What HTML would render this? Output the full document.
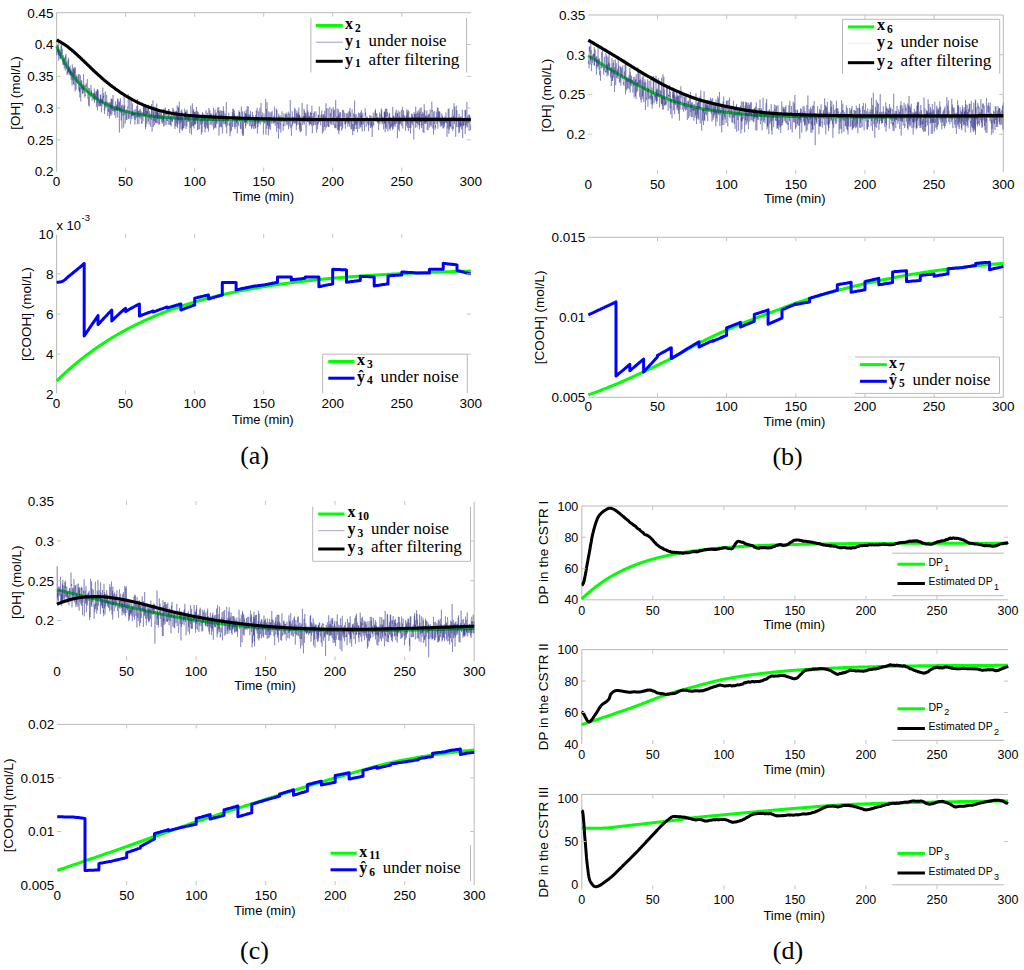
<!DOCTYPE html>
<html><head><meta charset="utf-8"><style>
html,body{margin:0;padding:0;background:#fff;width:1024px;height:970px;overflow:hidden}
svg{display:block}
text{fill:#000}
</style></head><body>
<svg width="1024" height="970" viewBox="0 0 1024 970">
<rect width="1024" height="970" fill="#fff"/>
<g>
<line x1="56.6" y1="12.7" x2="470.8" y2="12.7" stroke="#b9b9b9" stroke-width="1"/>
<line x1="56.6" y1="12.7" x2="56.6" y2="171.6" stroke="#b9b9b9" stroke-width="1"/>
<path d="M56.6,46.1 L57.3,47.7 L58.0,49.2 L58.7,50.7 L59.4,52.1 L60.1,53.6 L60.7,55.0 L61.4,56.4 L62.1,57.7 L62.8,59.0 L63.5,60.3 L64.2,61.6 L64.9,62.8 L65.6,64.0 L66.3,65.2 L67.0,66.4 L67.7,67.5 L68.4,68.6 L69.0,69.7 L69.7,70.8 L70.4,71.8 L71.1,72.8 L71.8,73.8 L72.5,74.8 L73.2,75.8 L73.9,76.7 L74.6,77.6 L75.3,78.5 L76.0,79.4 L76.7,80.2 L77.3,81.1 L78.0,81.9 L78.7,82.7 L79.4,83.5 L80.1,84.3 L80.8,85.0 L81.5,85.8 L82.2,86.5 L82.9,87.2 L83.6,87.9 L84.3,88.6 L85.0,89.2 L85.6,89.9 L86.3,90.5 L87.0,91.2 L87.7,91.8 L88.4,92.4 L89.1,93.0 L89.8,93.5 L90.5,94.1 L91.2,94.6 L91.9,95.2 L92.6,95.7 L93.2,96.2 L93.9,96.7 L94.6,97.2 L95.3,97.7 L96.0,98.2 L96.7,98.6 L97.4,99.1 L98.1,99.5 L98.8,100.0 L99.5,100.4 L100.2,100.8 L100.9,101.2 L101.5,101.6 L102.2,102.0 L102.9,102.4 L103.6,102.8 L104.3,103.1 L105.0,103.5 L105.7,103.8 L106.4,104.2 L107.1,104.5 L107.8,104.8 L108.5,105.2 L109.2,105.5 L109.8,105.8 L110.5,106.1 L111.2,106.4 L111.9,106.7 L112.6,107.0 L113.3,107.2 L114.0,107.5 L114.7,107.8 L115.4,108.0 L116.1,108.3 L116.8,108.5 L117.5,108.8 L118.1,109.0 L118.8,109.3 L119.5,109.5 L120.2,109.7 L120.9,109.9 L121.6,110.1 L122.3,110.4 L123.0,110.6 L123.7,110.8 L124.4,111.0 L125.1,111.2 L125.7,111.3 L126.4,111.5 L127.1,111.7 L127.8,111.9 L128.5,112.1 L129.2,112.2 L129.9,112.4 L130.6,112.6 L131.3,112.7 L132.0,112.9 L132.7,113.0 L133.4,113.2 L134.0,113.3 L134.7,113.5 L135.4,113.6 L136.1,113.7 L136.8,113.9 L137.5,114.0 L138.2,114.1 L138.9,114.3 L139.6,114.4 L140.3,114.5 L141.0,114.6 L141.7,114.7 L142.3,114.9 L143.0,115.0 L143.7,115.1 L144.4,115.2 L145.1,115.3 L145.8,115.4 L146.5,115.5 L147.2,115.6 L147.9,115.7 L148.6,115.8 L149.3,115.9 L150.0,116.0 L150.6,116.0 L151.3,116.1 L152.0,116.2 L152.7,116.3 L153.4,116.4 L154.1,116.4 L154.8,116.5 L155.5,116.6 L156.2,116.7 L156.9,116.7 L157.6,116.8 L158.2,116.9 L158.9,117.0 L159.6,117.0 L160.3,117.1 L161.0,117.2 L161.7,117.2 L162.4,117.3 L163.1,117.3 L163.8,117.4 L164.5,117.4 L165.2,117.5 L165.9,117.6 L166.5,117.6 L167.2,117.7 L167.9,117.7 L168.6,117.8 L169.3,117.8 L170.0,117.9 L170.7,117.9 L171.4,118.0 L172.1,118.0 L172.8,118.0 L173.5,118.1 L174.2,118.1 L174.8,118.2 L175.5,118.2 L176.2,118.3 L176.9,118.3 L177.6,118.3 L178.3,118.4 L179.0,118.4 L179.7,118.4 L180.4,118.5 L181.1,118.5 L181.8,118.5 L182.5,118.6 L183.1,118.6 L183.8,118.6 L184.5,118.7 L185.2,118.7 L185.9,118.7 L186.6,118.8 L187.3,118.8 L188.0,118.8 L188.7,118.8 L189.4,118.9 L190.1,118.9 L190.7,118.9 L191.4,118.9 L192.1,119.0 L192.8,119.0 L193.5,119.0 L194.2,119.0 L194.9,119.1 L195.6,119.1 L196.3,119.1 L197.0,119.1 L197.7,119.1 L198.4,119.2 L199.0,119.2 L199.7,119.2 L200.4,119.2 L201.1,119.2 L201.8,119.3 L202.5,119.3 L203.2,119.3 L203.9,119.3 L204.6,119.3 L205.3,119.3 L206.0,119.4 L206.7,119.4 L207.3,119.4 L208.0,119.4 L208.7,119.4 L209.4,119.4 L210.1,119.5 L210.8,119.5 L211.5,119.5 L212.2,119.5 L212.9,119.5 L213.6,119.5 L214.3,119.5 L215.0,119.5 L215.6,119.6 L216.3,119.6 L217.0,119.6 L217.7,119.6 L218.4,119.6 L219.1,119.6 L219.8,119.6 L220.5,119.6 L221.2,119.6 L221.9,119.6 L222.6,119.7 L223.2,119.7 L223.9,119.7 L224.6,119.7 L225.3,119.7 L226.0,119.7 L226.7,119.7 L227.4,119.7 L228.1,119.7 L228.8,119.7 L229.5,119.7 L230.2,119.8 L230.9,119.8 L231.5,119.8 L232.2,119.8 L232.9,119.8 L233.6,119.8 L234.3,119.8 L235.0,119.8 L235.7,119.8 L236.4,119.8 L237.1,119.8 L237.8,119.8 L238.5,119.8 L239.2,119.8 L239.8,119.8 L240.5,119.8 L241.2,119.9 L241.9,119.9 L242.6,119.9 L243.3,119.9 L244.0,119.9 L244.7,119.9 L245.4,119.9 L246.1,119.9 L246.8,119.9 L247.5,119.9 L248.1,119.9 L248.8,119.9 L249.5,119.9 L250.2,119.9 L250.9,119.9 L251.6,119.9 L252.3,119.9 L253.0,119.9 L253.7,119.9 L254.4,119.9 L255.1,119.9 L255.7,119.9 L256.4,119.9 L257.1,119.9 L257.8,120.0 L258.5,120.0 L259.2,120.0 L259.9,120.0 L260.6,120.0 L261.3,120.0 L262.0,120.0 L262.7,120.0 L263.4,120.0 L264.0,120.0 L264.7,120.0 L265.4,120.0 L266.1,120.0 L266.8,120.0 L267.5,120.0 L268.2,120.0 L268.9,120.0 L269.6,120.0 L270.3,120.0 L271.0,120.0 L271.7,120.0 L272.3,120.0 L273.0,120.0 L273.7,120.0 L274.4,120.0 L275.1,120.0 L275.8,120.0 L276.5,120.0 L277.2,120.0 L277.9,120.0 L278.6,120.0 L279.3,120.0 L279.9,120.0 L280.6,120.0 L281.3,120.0 L282.0,120.0 L282.7,120.0 L283.4,120.0 L284.1,120.0 L284.8,120.0 L285.5,120.0 L286.2,120.0 L286.9,120.0 L287.6,120.0 L288.2,120.0 L288.9,120.0 L289.6,120.0 L290.3,120.0 L291.0,120.0 L291.7,120.0 L292.4,120.0 L293.1,120.0 L293.8,120.1 L294.5,120.1 L295.2,120.1 L295.9,120.1 L296.5,120.1 L297.2,120.1 L297.9,120.1 L298.6,120.1 L299.3,120.1 L300.0,120.1 L300.7,120.1 L301.4,120.1 L302.1,120.1 L302.8,120.1 L303.5,120.1 L304.2,120.1 L304.8,120.1 L305.5,120.1 L306.2,120.1 L306.9,120.1 L307.6,120.1 L308.3,120.1 L309.0,120.1 L309.7,120.1 L310.4,120.1 L311.1,120.1 L311.8,120.1 L312.4,120.1 L313.1,120.1 L313.8,120.1 L314.5,120.1 L315.2,120.1 L315.9,120.1 L316.6,120.1 L317.3,120.1 L318.0,120.1 L318.7,120.1 L319.4,120.1 L320.1,120.1 L320.7,120.1 L321.4,120.1 L322.1,120.1 L322.8,120.1 L323.5,120.1 L324.2,120.1 L324.9,120.1 L325.6,120.1 L326.3,120.1 L327.0,120.1 L327.7,120.1 L328.4,120.1 L329.0,120.1 L329.7,120.1 L330.4,120.1 L331.1,120.1 L331.8,120.1 L332.5,120.1 L333.2,120.1 L333.9,120.1 L334.6,120.1 L335.3,120.1 L336.0,120.1 L336.7,120.1 L337.3,120.1 L338.0,120.1 L338.7,120.1 L339.4,120.1 L340.1,120.1 L340.8,120.1 L341.5,120.1 L342.2,120.1 L342.9,120.1 L343.6,120.1 L344.3,120.1 L344.9,120.1 L345.6,120.1 L346.3,120.1 L347.0,120.1 L347.7,120.1 L348.4,120.1 L349.1,120.1 L349.8,120.1 L350.5,120.1 L351.2,120.1 L351.9,120.1 L352.6,120.1 L353.2,120.1 L353.9,120.1 L354.6,120.1 L355.3,120.1 L356.0,120.1 L356.7,120.1 L357.4,120.1 L358.1,120.1 L358.8,120.1 L359.5,120.1 L360.2,120.1 L360.9,120.1 L361.5,120.1 L362.2,120.1 L362.9,120.1 L363.6,120.1 L364.3,120.1 L365.0,120.1 L365.7,120.1 L366.4,120.1 L367.1,120.1 L367.8,120.1 L368.5,120.1 L369.2,120.1 L369.8,120.1 L370.5,120.1 L371.2,120.1 L371.9,120.1 L372.6,120.1 L373.3,120.1 L374.0,120.1 L374.7,120.1 L375.4,120.1 L376.1,120.1 L376.8,120.1 L377.4,120.1 L378.1,120.1 L378.8,120.1 L379.5,120.1 L380.2,120.1 L380.9,120.1 L381.6,120.1 L382.3,120.1 L383.0,120.1 L383.7,120.1 L384.4,120.1 L385.1,120.1 L385.7,120.1 L386.4,120.1 L387.1,120.1 L387.8,120.1 L388.5,120.1 L389.2,120.1 L389.9,120.1 L390.6,120.1 L391.3,120.1 L392.0,120.1 L392.7,120.1 L393.4,120.1 L394.0,120.1 L394.7,120.1 L395.4,120.1 L396.1,120.1 L396.8,120.1 L397.5,120.1 L398.2,120.1 L398.9,120.1 L399.6,120.1 L400.3,120.1 L401.0,120.1 L401.7,120.1 L402.3,120.1 L403.0,120.1 L403.7,120.1 L404.4,120.1 L405.1,120.1 L405.8,120.1 L406.5,120.1 L407.2,120.1 L407.9,120.1 L408.6,120.1 L409.3,120.1 L409.9,120.1 L410.6,120.1 L411.3,120.1 L412.0,120.1 L412.7,120.1 L413.4,120.1 L414.1,120.1 L414.8,120.1 L415.5,120.1 L416.2,120.1 L416.9,120.1 L417.6,120.1 L418.2,120.1 L418.9,120.1 L419.6,120.1 L420.3,120.1 L421.0,120.1 L421.7,120.1 L422.4,120.1 L423.1,120.1 L423.8,120.1 L424.5,120.1 L425.2,120.1 L425.9,120.1 L426.5,120.1 L427.2,120.1 L427.9,120.1 L428.6,120.1 L429.3,120.1 L430.0,120.1 L430.7,120.1 L431.4,120.1 L432.1,120.1 L432.8,120.1 L433.5,120.1 L434.2,120.1 L434.8,120.1 L435.5,120.1 L436.2,120.1 L436.9,120.1 L437.6,120.1 L438.3,120.1 L439.0,120.1 L439.7,120.1 L440.4,120.1 L441.1,120.1 L441.8,120.1 L442.4,120.1 L443.1,120.1 L443.8,120.1 L444.5,120.1 L445.2,120.1 L445.9,120.1 L446.6,120.1 L447.3,120.1 L448.0,120.1 L448.7,120.1 L449.4,120.1 L450.1,120.1 L450.7,120.1 L451.4,120.1 L452.1,120.1 L452.8,120.1 L453.5,120.1 L454.2,120.1 L454.9,120.1 L455.6,120.1 L456.3,120.1 L457.0,120.1 L457.7,120.1 L458.4,120.1 L459.0,120.1 L459.7,120.1 L460.4,120.1 L461.1,120.1 L461.8,120.1 L462.5,120.1 L463.2,120.1 L463.9,120.1 L464.6,120.1 L465.3,120.1 L466.0,120.1 L466.7,120.1 L467.3,120.1 L468.0,120.1 L468.7,120.1 L469.4,120.1 L470.1,120.1 L470.8,120.1" fill="none" stroke="#00ff00" stroke-width="3" stroke-linejoin="round" />
<path d="M56.6,46.3 L56.8,55.2 L57.0,54.8 L57.2,44.2 L57.4,46.1 L57.6,45.1 L57.8,52.5 L58.1,49.0 L58.3,54.5 L58.5,38.4 L58.7,60.7 L58.9,50.5 L59.1,55.9 L59.3,51.1 L59.5,50.0 L59.7,55.8 L59.9,58.6 L60.1,52.4 L60.3,53.2 L60.5,58.9 L60.7,49.4 L61.0,45.7 L61.2,58.3 L61.4,51.9 L61.6,44.4 L61.8,51.8 L62.0,54.4 L62.2,50.2 L62.4,48.7 L62.6,58.9 L62.8,64.7 L63.0,57.9 L63.2,55.0 L63.4,62.6 L63.6,65.1 L63.9,59.0 L64.1,64.8 L64.3,68.3 L64.5,60.7 L64.7,57.2 L64.9,65.0 L65.1,64.7 L65.3,70.5 L65.5,55.7 L65.7,60.0 L65.9,59.3 L66.1,53.9 L66.3,66.1 L66.5,69.0 L66.8,61.3 L67.0,75.2 L67.2,71.9 L67.4,71.0 L67.6,69.9 L67.8,73.8 L68.0,59.5 L68.2,72.3 L68.4,72.5 L68.6,57.7 L68.8,71.6 L69.0,68.1 L69.2,75.0 L69.4,67.5 L69.7,70.5 L69.9,73.1 L70.1,65.7 L70.3,75.4 L70.5,71.2 L70.7,75.3 L70.9,69.2 L71.1,79.7 L71.3,77.0 L71.5,72.3 L71.7,77.7 L71.9,82.0 L72.1,85.7 L72.3,64.5 L72.6,80.5 L72.8,78.1 L73.0,74.8 L73.2,69.3 L73.4,84.0 L73.6,68.2 L73.8,80.2 L74.0,85.2 L74.2,66.9 L74.4,75.5 L74.6,69.3 L74.8,79.5 L75.0,87.9 L75.2,91.4 L75.5,67.4 L75.7,75.3 L75.9,83.8 L76.1,89.6 L76.3,82.5 L76.5,75.3 L76.7,82.2 L76.9,80.4 L77.1,79.5 L77.3,76.4 L77.5,83.8 L77.7,83.5 L77.9,81.2 L78.1,80.6 L78.4,74.1 L78.6,79.4 L78.8,90.5 L79.0,81.8 L79.2,74.1 L79.4,92.0 L79.6,87.1 L79.8,97.4 L80.0,84.6 L80.2,81.5 L80.4,75.4 L80.6,93.3 L80.8,101.5 L81.1,80.1 L81.3,81.4 L81.5,89.5 L81.7,80.7 L81.9,84.5 L82.1,84.2 L82.3,87.8 L82.5,93.8 L82.7,87.2 L82.9,93.1 L83.1,84.8 L83.3,89.8 L83.5,74.2 L83.7,78.8 L84.0,93.4 L84.2,84.7 L84.4,92.4 L84.6,92.3 L84.8,97.5 L85.0,94.5 L85.2,96.0 L85.4,89.0 L85.6,85.4 L85.8,85.4 L86.0,87.1 L86.2,83.2 L86.4,87.1 L86.6,90.2 L86.9,92.6 L87.1,89.0 L87.3,79.1 L87.5,91.1 L87.7,93.2 L87.9,98.8 L88.1,95.8 L88.3,88.2 L88.5,87.8 L88.7,105.5 L88.9,97.6 L89.1,104.7 L89.3,106.7 L89.5,88.1 L89.8,96.0 L90.0,96.6 L90.2,97.4 L90.4,97.5 L90.6,95.5 L90.8,95.4 L91.0,84.9 L91.2,93.6 L91.4,90.1 L91.6,95.8 L91.8,92.2 L92.0,99.3 L92.2,100.7 L92.4,97.6 L92.7,97.8 L92.9,96.5 L93.1,93.2 L93.3,95.2 L93.5,93.2 L93.7,99.0 L93.9,96.8 L94.1,100.6 L94.3,88.5 L94.5,102.8 L94.7,92.4 L94.9,92.7 L95.1,96.3 L95.3,94.1 L95.6,99.7 L95.8,94.3 L96.0,91.3 L96.2,92.9 L96.4,106.8 L96.6,98.8 L96.8,91.2 L97.0,98.9 L97.2,89.0 L97.4,110.5 L97.6,89.5 L97.8,102.4 L98.0,103.0 L98.2,90.4 L98.5,101.7 L98.7,106.3 L98.9,103.0 L99.1,101.8 L99.3,106.3 L99.5,101.4 L99.7,102.7 L99.9,99.8 L100.1,104.8 L100.3,94.9 L100.5,106.1 L100.7,97.9 L100.9,94.3 L101.1,103.7 L101.4,112.3 L101.6,107.8 L101.8,98.5 L102.0,106.3 L102.2,99.1 L102.4,101.3 L102.6,102.8 L102.8,87.5 L103.0,103.7 L103.2,96.0 L103.4,98.2 L103.6,93.4 L103.8,93.2 L104.0,97.0 L104.3,108.4 L104.5,113.8 L104.7,103.2 L104.9,110.4 L105.1,101.8 L105.3,91.4 L105.5,104.7 L105.7,106.7 L105.9,101.2 L106.1,106.0 L106.3,107.8 L106.5,98.7 L106.7,94.9 L107.0,103.0 L107.2,103.2 L107.4,102.4 L107.6,111.1 L107.8,115.9 L108.0,102.3 L108.2,109.5 L108.4,111.1 L108.6,109.8 L108.8,112.0 L109.0,102.9 L109.2,110.2 L109.4,118.5 L109.6,110.8 L109.9,101.8 L110.1,109.8 L110.3,114.0 L110.5,108.4 L110.7,102.6 L110.9,116.1 L111.1,98.4 L111.3,109.6 L111.5,106.4 L111.7,99.0 L111.9,114.5 L112.1,109.0 L112.3,99.4 L112.5,110.8 L112.8,104.3 L113.0,95.0 L113.2,102.8 L113.4,109.0 L113.6,111.4 L113.8,108.5 L114.0,107.8 L114.2,110.6 L114.4,106.3 L114.6,115.3 L114.8,108.8 L115.0,109.8 L115.2,111.4 L115.4,101.3 L115.7,103.6 L115.9,118.0 L116.1,110.4 L116.3,106.6 L116.5,110.6 L116.7,105.4 L116.9,110.4 L117.1,104.4 L117.3,110.5 L117.5,98.7 L117.7,117.4 L117.9,105.7 L118.1,98.9 L118.3,107.7 L118.6,106.8 L118.8,110.2 L119.0,102.0 L119.2,111.9 L119.4,132.6 L119.6,101.4 L119.8,111.7 L120.0,107.7 L120.2,110.9 L120.4,98.2 L120.6,102.5 L120.8,112.8 L121.0,109.7 L121.2,120.5 L121.5,105.6 L121.7,111.3 L121.9,128.8 L122.1,105.4 L122.3,104.6 L122.5,110.2 L122.7,110.2 L122.9,115.9 L123.1,111.4 L123.3,105.8 L123.5,112.1 L123.7,127.6 L123.9,119.0 L124.1,93.1 L124.4,110.1 L124.6,105.4 L124.8,115.0 L125.0,110.0 L125.2,123.5 L125.4,117.2 L125.6,117.0 L125.8,112.5 L126.0,111.2 L126.2,113.6 L126.4,119.8 L126.6,115.0 L126.8,109.4 L127.0,119.8 L127.3,113.0 L127.5,111.3 L127.7,106.8 L127.9,108.3 L128.1,107.9 L128.3,94.2 L128.5,118.5 L128.7,115.7 L128.9,110.8 L129.1,118.9 L129.3,115.1 L129.5,114.7 L129.7,96.6 L130.0,110.9 L130.2,115.9 L130.4,122.8 L130.6,124.3 L130.8,121.7 L131.0,105.2 L131.2,98.7 L131.4,116.4 L131.6,113.0 L131.8,119.0 L132.0,112.1 L132.2,114.3 L132.4,103.4 L132.6,115.9 L132.9,110.2 L133.1,115.3 L133.3,116.1 L133.5,112.5 L133.7,115.3 L133.9,113.2 L134.1,118.2 L134.3,116.6 L134.5,109.9 L134.7,109.7 L134.9,124.6 L135.1,112.9 L135.3,119.9 L135.5,116.1 L135.8,110.1 L136.0,108.9 L136.2,114.5 L136.4,115.4 L136.6,117.8 L136.8,105.8 L137.0,110.1 L137.2,113.3 L137.4,124.2 L137.6,99.0 L137.8,116.9 L138.0,110.7 L138.2,116.9 L138.4,111.0 L138.7,116.5 L138.9,124.2 L139.1,116.6 L139.3,117.1 L139.5,116.7 L139.7,109.6 L139.9,117.9 L140.1,113.1 L140.3,109.3 L140.5,114.3 L140.7,113.1 L140.9,119.4 L141.1,114.4 L141.3,111.3 L141.6,124.0 L141.8,121.1 L142.0,122.9 L142.2,118.7 L142.4,114.2 L142.6,112.2 L142.8,113.1 L143.0,121.0 L143.2,115.7 L143.4,105.6 L143.6,114.8 L143.8,106.1 L144.0,116.2 L144.2,107.5 L144.5,107.1 L144.7,116.0 L144.9,114.7 L145.1,104.7 L145.3,120.1 L145.5,129.1 L145.7,105.9 L145.9,127.0 L146.1,111.0 L146.3,112.3 L146.5,114.3 L146.7,106.3 L146.9,123.8 L147.1,118.7 L147.4,110.8 L147.6,113.9 L147.8,106.0 L148.0,113.5 L148.2,121.7 L148.4,104.8 L148.6,113.0 L148.8,116.7 L149.0,122.5 L149.2,124.5 L149.4,113.0 L149.6,111.2 L149.8,118.8 L150.0,113.6 L150.3,114.0 L150.5,122.9 L150.7,126.8 L150.9,117.8 L151.1,114.9 L151.3,119.8 L151.5,104.1 L151.7,116.1 L151.9,109.4 L152.1,131.5 L152.3,120.8 L152.5,117.2 L152.7,115.1 L152.9,100.3 L153.2,120.9 L153.4,126.8 L153.6,111.7 L153.8,120.8 L154.0,121.0 L154.2,106.6 L154.4,122.5 L154.6,125.1 L154.8,118.0 L155.0,116.1 L155.2,121.6 L155.4,106.8 L155.6,117.2 L155.9,123.4 L156.1,108.7 L156.3,123.0 L156.5,114.0 L156.7,103.5 L156.9,116.1 L157.1,110.6 L157.3,118.8 L157.5,109.3 L157.7,123.5 L157.9,112.1 L158.1,119.1 L158.3,113.1 L158.5,114.9 L158.8,124.5 L159.0,118.3 L159.2,114.5 L159.4,109.0 L159.6,124.4 L159.8,121.7 L160.0,115.0 L160.2,118.6 L160.4,110.5 L160.6,110.6 L160.8,111.9 L161.0,119.4 L161.2,119.1 L161.4,112.4 L161.7,121.9 L161.9,122.2 L162.1,118.3 L162.3,123.9 L162.5,115.4 L162.7,116.6 L162.9,120.3 L163.1,117.1 L163.3,122.4 L163.5,109.4 L163.7,126.5 L163.9,112.4 L164.1,116.4 L164.3,108.7 L164.6,121.3 L164.8,125.6 L165.0,124.3 L165.2,122.8 L165.4,107.6 L165.6,112.5 L165.8,114.6 L166.0,111.6 L166.2,124.8 L166.4,118.8 L166.6,117.5 L166.8,120.7 L167.0,111.6 L167.2,111.9 L167.5,112.1 L167.7,120.9 L167.9,119.9 L168.1,121.4 L168.3,124.6 L168.5,109.1 L168.7,114.2 L168.9,118.7 L169.1,109.2 L169.3,114.4 L169.5,124.3 L169.7,124.9 L169.9,124.7 L170.1,118.1 L170.4,116.5 L170.6,124.8 L170.8,115.5 L171.0,120.1 L171.2,126.4 L171.4,115.6 L171.6,114.1 L171.8,117.9 L172.0,121.8 L172.2,121.1 L172.4,119.0 L172.6,121.6 L172.8,107.8 L173.0,112.6 L173.3,119.1 L173.5,112.2 L173.7,109.5 L173.9,110.4 L174.1,112.3 L174.3,117.0 L174.5,111.6 L174.7,119.7 L174.9,129.0 L175.1,117.2 L175.3,126.3 L175.5,120.1 L175.7,111.1 L175.9,116.6 L176.2,112.0 L176.4,123.2 L176.6,110.9 L176.8,126.7 L177.0,122.0 L177.2,105.4 L177.4,123.3 L177.6,128.2 L177.8,113.3 L178.0,124.6 L178.2,106.9 L178.4,120.0 L178.6,107.8 L178.9,121.5 L179.1,107.0 L179.3,101.6 L179.5,121.0 L179.7,133.0 L179.9,114.7 L180.1,123.8 L180.3,119.2 L180.5,116.4 L180.7,122.4 L180.9,129.0 L181.1,110.6 L181.3,122.1 L181.5,120.7 L181.8,109.5 L182.0,128.9 L182.2,131.0 L182.4,112.5 L182.6,129.7 L182.8,119.0 L183.0,117.6 L183.2,128.2 L183.4,120.1 L183.6,120.7 L183.8,128.3 L184.0,126.9 L184.2,124.4 L184.4,109.7 L184.7,108.6 L184.9,125.9 L185.1,112.8 L185.3,119.7 L185.5,111.9 L185.7,117.6 L185.9,110.6 L186.1,129.1 L186.3,112.2 L186.5,118.0 L186.7,117.6 L186.9,126.5 L187.1,109.7 L187.3,118.6 L187.6,117.5 L187.8,122.2 L188.0,121.8 L188.2,115.9 L188.4,120.4 L188.6,116.5 L188.8,121.8 L189.0,118.2 L189.2,114.7 L189.4,118.7 L189.6,121.2 L189.8,133.3 L190.0,115.8 L190.2,120.9 L190.5,128.2 L190.7,105.7 L190.9,107.8 L191.1,111.4 L191.3,118.2 L191.5,134.5 L191.7,121.5 L191.9,126.7 L192.1,117.6 L192.3,103.3 L192.5,104.2 L192.7,125.5 L192.9,120.2 L193.1,110.7 L193.4,126.1 L193.6,109.2 L193.8,126.3 L194.0,128.3 L194.2,114.2 L194.4,112.0 L194.6,124.4 L194.8,112.1 L195.0,124.6 L195.2,111.4 L195.4,124.2 L195.6,119.7 L195.8,116.3 L196.0,113.4 L196.3,120.6 L196.5,107.0 L196.7,117.4 L196.9,116.6 L197.1,123.5 L197.3,111.1 L197.5,130.1 L197.7,117.2 L197.9,111.9 L198.1,128.0 L198.3,129.8 L198.5,118.0 L198.7,113.5 L198.9,119.3 L199.2,114.8 L199.4,117.2 L199.6,129.1 L199.8,121.7 L200.0,120.1 L200.2,121.4 L200.4,118.9 L200.6,124.6 L200.8,124.8 L201.0,116.9 L201.2,119.9 L201.4,134.7 L201.6,121.9 L201.8,118.1 L202.1,132.3 L202.3,119.3 L202.5,112.3 L202.7,123.6 L202.9,113.5 L203.1,116.1 L203.3,121.4 L203.5,118.5 L203.7,114.4 L203.9,115.8 L204.1,115.5 L204.3,126.8 L204.5,114.7 L204.8,115.7 L205.0,132.3 L205.2,115.8 L205.4,128.9 L205.6,127.7 L205.8,118.4 L206.0,110.3 L206.2,122.3 L206.4,123.7 L206.6,125.6 L206.8,119.8 L207.0,127.1 L207.2,128.3 L207.4,112.7 L207.7,128.5 L207.9,120.5 L208.1,115.8 L208.3,117.4 L208.5,131.4 L208.7,125.7 L208.9,108.0 L209.1,120.0 L209.3,118.5 L209.5,118.3 L209.7,116.2 L209.9,110.2 L210.1,124.9 L210.3,113.5 L210.6,117.1 L210.8,115.6 L211.0,114.8 L211.2,124.2 L211.4,121.9 L211.6,115.2 L211.8,113.5 L212.0,116.5 L212.2,125.7 L212.4,120.3 L212.6,121.0 L212.8,117.4 L213.0,117.9 L213.2,120.9 L213.5,107.8 L213.7,129.8 L213.9,114.5 L214.1,115.9 L214.3,128.1 L214.5,121.0 L214.7,119.8 L214.9,115.8 L215.1,109.6 L215.3,120.7 L215.5,127.2 L215.7,113.8 L215.9,128.3 L216.1,112.4 L216.4,114.9 L216.6,122.8 L216.8,119.6 L217.0,124.0 L217.2,114.8 L217.4,113.0 L217.6,107.7 L217.8,111.9 L218.0,112.7 L218.2,110.5 L218.4,121.6 L218.6,115.4 L218.8,106.9 L219.0,135.5 L219.3,114.3 L219.5,111.6 L219.7,127.5 L219.9,127.1 L220.1,112.3 L220.3,110.2 L220.5,113.2 L220.7,126.8 L220.9,117.6 L221.1,114.5 L221.3,119.5 L221.5,127.3 L221.7,110.8 L221.9,117.2 L222.2,110.8 L222.4,133.5 L222.6,131.3 L222.8,125.7 L223.0,118.8 L223.2,123.9 L223.4,106.3 L223.6,121.4 L223.8,111.2 L224.0,111.2 L224.2,115.2 L224.4,117.4 L224.6,123.3 L224.8,124.2 L225.1,121.4 L225.3,113.7 L225.5,124.0 L225.7,118.9 L225.9,127.2 L226.1,113.9 L226.3,102.1 L226.5,116.7 L226.7,133.4 L226.9,122.7 L227.1,118.5 L227.3,125.4 L227.5,122.9 L227.8,122.7 L228.0,116.5 L228.2,120.2 L228.4,121.0 L228.6,115.6 L228.8,112.6 L229.0,120.6 L229.2,125.9 L229.4,123.9 L229.6,122.9 L229.8,123.0 L230.0,136.2 L230.2,121.4 L230.4,126.4 L230.7,132.2 L230.9,120.1 L231.1,121.4 L231.3,126.4 L231.5,130.5 L231.7,121.8 L231.9,122.1 L232.1,120.4 L232.3,112.1 L232.5,126.9 L232.7,118.2 L232.9,108.8 L233.1,118.9 L233.3,108.8 L233.6,113.4 L233.8,119.9 L234.0,113.9 L234.2,126.7 L234.4,110.5 L234.6,121.5 L234.8,123.4 L235.0,129.2 L235.2,125.7 L235.4,121.3 L235.6,120.4 L235.8,119.5 L236.0,127.1 L236.2,115.7 L236.5,123.2 L236.7,119.3 L236.9,121.4 L237.1,118.2 L237.3,133.5 L237.5,115.7 L237.7,121.5 L237.9,121.7 L238.1,123.8 L238.3,122.8 L238.5,122.6 L238.7,126.2 L238.9,110.3 L239.1,120.0 L239.4,112.0 L239.6,121.4 L239.8,112.4 L240.0,113.8 L240.2,119.5 L240.4,128.8 L240.6,123.6 L240.8,121.8 L241.0,128.9 L241.2,113.9 L241.4,106.6 L241.6,117.2 L241.8,118.2 L242.0,127.8 L242.3,133.6 L242.5,111.5 L242.7,135.8 L242.9,129.9 L243.1,125.3 L243.3,122.3 L243.5,135.4 L243.7,120.5 L243.9,116.9 L244.1,120.8 L244.3,111.2 L244.5,123.0 L244.7,119.3 L244.9,122.1 L245.2,122.3 L245.4,113.2 L245.6,128.4 L245.8,113.5 L246.0,125.6 L246.2,109.8 L246.4,122.4 L246.6,114.8 L246.8,120.3 L247.0,115.8 L247.2,106.1 L247.4,112.9 L247.6,120.4 L247.8,124.0 L248.1,110.6 L248.3,106.4 L248.5,114.4 L248.7,118.7 L248.9,116.0 L249.1,114.8 L249.3,125.4 L249.5,126.2 L249.7,124.7 L249.9,114.0 L250.1,120.5 L250.3,118.8 L250.5,110.9 L250.7,125.6 L251.0,120.6 L251.2,116.9 L251.4,129.1 L251.6,124.9 L251.8,125.5 L252.0,127.7 L252.2,124.6 L252.4,111.9 L252.6,117.5 L252.8,126.4 L253.0,115.1 L253.2,120.3 L253.4,122.6 L253.7,129.2 L253.9,128.3 L254.1,125.8 L254.3,118.8 L254.5,125.9 L254.7,123.4 L254.9,119.0 L255.1,128.7 L255.3,123.2 L255.5,115.2 L255.7,128.1 L255.9,118.4 L256.1,123.8 L256.3,110.3 L256.6,119.9 L256.8,114.0 L257.0,113.8 L257.2,107.8 L257.4,133.7 L257.6,119.1 L257.8,121.5 L258.0,127.1 L258.2,119.2 L258.4,123.3 L258.6,111.3 L258.8,121.3 L259.0,117.4 L259.2,123.2 L259.5,121.2 L259.7,111.2 L259.9,108.2 L260.1,113.5 L260.3,124.7 L260.5,122.7 L260.7,122.6 L260.9,107.1 L261.1,102.9 L261.3,116.0 L261.5,117.9 L261.7,116.2 L261.9,122.3 L262.1,118.9 L262.4,112.4 L262.6,114.4 L262.8,120.9 L263.0,120.5 L263.2,119.5 L263.4,134.5 L263.6,118.3 L263.8,120.8 L264.0,113.6 L264.2,117.7 L264.4,123.3 L264.6,123.6 L264.8,119.0 L265.0,122.5 L265.3,120.3 L265.5,108.0 L265.7,99.1 L265.9,134.7 L266.1,125.3 L266.3,119.6 L266.5,108.9 L266.7,111.8 L266.9,128.6 L267.1,102.2 L267.3,117.9 L267.5,125.5 L267.7,120.9 L267.9,124.8 L268.2,119.2 L268.4,135.3 L268.6,113.4 L268.8,111.3 L269.0,121.7 L269.2,129.1 L269.4,119.6 L269.6,126.7 L269.8,116.6 L270.0,112.4 L270.2,128.9 L270.4,130.0 L270.6,129.8 L270.8,117.2 L271.1,112.6 L271.3,112.5 L271.5,118.6 L271.7,123.7 L271.9,123.3 L272.1,110.9 L272.3,121.3 L272.5,120.1 L272.7,120.6 L272.9,119.9 L273.1,118.7 L273.3,123.8 L273.5,120.8 L273.7,121.4 L274.0,115.6 L274.2,122.5 L274.4,119.2 L274.6,106.5 L274.8,123.1 L275.0,118.3 L275.2,125.9 L275.4,119.0 L275.6,119.4 L275.8,121.4 L276.0,119.9 L276.2,117.2 L276.4,108.6 L276.7,131.8 L276.9,109.9 L277.1,117.8 L277.3,124.2 L277.5,122.4 L277.7,123.6 L277.9,124.9 L278.1,128.1 L278.3,121.9 L278.5,138.6 L278.7,113.6 L278.9,121.5 L279.1,117.7 L279.3,116.5 L279.6,121.9 L279.8,129.3 L280.0,115.5 L280.2,115.5 L280.4,124.6 L280.6,123.5 L280.8,132.5 L281.0,126.6 L281.2,121.5 L281.4,117.9 L281.6,121.4 L281.8,118.9 L282.0,111.3 L282.2,120.1 L282.5,118.9 L282.7,118.5 L282.9,117.3 L283.1,130.8 L283.3,124.5 L283.5,126.0 L283.7,116.2 L283.9,113.5 L284.1,118.2 L284.3,121.6 L284.5,117.8 L284.7,118.8 L284.9,126.2 L285.1,121.9 L285.4,113.8 L285.6,117.3 L285.8,115.8 L286.0,121.2 L286.2,112.6 L286.4,118.9 L286.6,124.5 L286.8,120.2 L287.0,114.2 L287.2,116.1 L287.4,120.8 L287.6,123.1 L287.8,125.4 L288.0,119.1 L288.3,111.6 L288.5,129.1 L288.7,121.9 L288.9,122.6 L289.1,122.0 L289.3,113.4 L289.5,118.0 L289.7,121.7 L289.9,126.6 L290.1,120.4 L290.3,100.1 L290.5,118.5 L290.7,122.3 L290.9,128.3 L291.2,124.6 L291.4,135.9 L291.6,129.1 L291.8,128.6 L292.0,126.1 L292.2,111.2 L292.4,125.5 L292.6,123.9 L292.8,116.7 L293.0,123.8 L293.2,122.7 L293.4,117.1 L293.6,119.3 L293.8,118.4 L294.1,121.5 L294.3,117.3 L294.5,123.5 L294.7,107.8 L294.9,118.3 L295.1,109.3 L295.3,117.0 L295.5,123.4 L295.7,120.2 L295.9,119.3 L296.1,120.5 L296.3,130.1 L296.5,113.0 L296.7,125.7 L297.0,110.4 L297.2,117.1 L297.4,121.1 L297.6,114.6 L297.8,121.4 L298.0,124.7 L298.2,112.4 L298.4,119.6 L298.6,117.7 L298.8,107.7 L299.0,118.9 L299.2,115.0 L299.4,128.6 L299.6,114.5 L299.9,130.9 L300.1,116.7 L300.3,132.4 L300.5,123.5 L300.7,123.0 L300.9,125.2 L301.1,125.8 L301.3,129.0 L301.5,131.1 L301.7,117.8 L301.9,112.1 L302.1,103.0 L302.3,117.6 L302.6,124.9 L302.8,122.5 L303.0,120.8 L303.2,117.8 L303.4,116.0 L303.6,118.3 L303.8,122.5 L304.0,108.8 L304.2,124.7 L304.4,110.8 L304.6,119.1 L304.8,116.0 L305.0,117.7 L305.2,113.4 L305.5,112.7 L305.7,118.6 L305.9,113.1 L306.1,135.7 L306.3,117.4 L306.5,115.8 L306.7,116.5 L306.9,113.2 L307.1,104.4 L307.3,118.4 L307.5,122.0 L307.7,110.4 L307.9,120.1 L308.1,112.3 L308.4,119.8 L308.6,122.3 L308.8,123.1 L309.0,122.8 L309.2,115.5 L309.4,125.6 L309.6,117.2 L309.8,122.3 L310.0,124.5 L310.2,118.1 L310.4,111.8 L310.6,123.9 L310.8,112.9 L311.0,114.3 L311.3,113.0 L311.5,125.4 L311.7,119.0 L311.9,105.7 L312.1,124.7 L312.3,133.2 L312.5,131.5 L312.7,116.4 L312.9,120.5 L313.1,123.3 L313.3,125.7 L313.5,120.2 L313.7,113.0 L313.9,124.8 L314.2,123.9 L314.4,111.5 L314.6,117.7 L314.8,121.7 L315.0,120.0 L315.2,123.4 L315.4,125.1 L315.6,123.5 L315.8,119.3 L316.0,111.4 L316.2,123.9 L316.4,128.9 L316.6,132.6 L316.8,119.8 L317.1,119.8 L317.3,129.2 L317.5,129.2 L317.7,122.2 L317.9,124.5 L318.1,115.1 L318.3,123.7 L318.5,114.7 L318.7,119.1 L318.9,119.2 L319.1,117.0 L319.3,106.5 L319.5,114.7 L319.7,122.1 L320.0,119.6 L320.2,117.5 L320.4,122.7 L320.6,124.4 L320.8,125.4 L321.0,114.8 L321.2,120.1 L321.4,117.8 L321.6,114.4 L321.8,110.4 L322.0,119.3 L322.2,114.4 L322.4,133.7 L322.6,119.3 L322.9,118.5 L323.1,117.4 L323.3,131.9 L323.5,114.0 L323.7,118.9 L323.9,115.1 L324.1,119.2 L324.3,119.7 L324.5,127.0 L324.7,110.9 L324.9,119.8 L325.1,130.3 L325.3,116.7 L325.6,118.8 L325.8,114.3 L326.0,103.3 L326.2,119.3 L326.4,127.5 L326.6,117.0 L326.8,108.2 L327.0,121.7 L327.2,120.5 L327.4,126.4 L327.6,125.8 L327.8,118.3 L328.0,122.5 L328.2,108.5 L328.5,127.1 L328.7,121.2 L328.9,126.9 L329.1,126.8 L329.3,118.1 L329.5,119.0 L329.7,114.4 L329.9,106.8 L330.1,119.1 L330.3,121.0 L330.5,113.0 L330.7,124.5 L330.9,120.6 L331.1,122.9 L331.4,115.1 L331.6,108.7 L331.8,124.9 L332.0,123.9 L332.2,119.3 L332.4,117.3 L332.6,118.2 L332.8,119.1 L333.0,116.7 L333.2,107.1 L333.4,125.0 L333.6,110.4 L333.8,117.9 L334.0,118.0 L334.3,121.6 L334.5,109.7 L334.7,127.7 L334.9,124.2 L335.1,124.9 L335.3,128.1 L335.5,114.9 L335.7,100.0 L335.9,122.1 L336.1,128.4 L336.3,127.4 L336.5,116.6 L336.7,119.4 L336.9,121.9 L337.2,108.5 L337.4,115.8 L337.6,116.0 L337.8,130.1 L338.0,115.9 L338.2,130.1 L338.4,120.1 L338.6,109.4 L338.8,134.2 L339.0,113.9 L339.2,124.0 L339.4,131.0 L339.6,116.7 L339.8,112.2 L340.1,126.7 L340.3,120.5 L340.5,112.3 L340.7,113.2 L340.9,117.6 L341.1,126.2 L341.3,118.3 L341.5,124.3 L341.7,130.6 L341.9,128.2 L342.1,129.3 L342.3,127.9 L342.5,109.8 L342.7,127.9 L343.0,122.2 L343.2,119.3 L343.4,113.2 L343.6,110.0 L343.8,113.0 L344.0,120.0 L344.2,112.6 L344.4,114.9 L344.6,116.2 L344.8,124.3 L345.0,118.2 L345.2,119.2 L345.4,128.6 L345.6,118.0 L345.9,123.9 L346.1,113.3 L346.3,122.2 L346.5,120.9 L346.7,121.2 L346.9,117.1 L347.1,113.5 L347.3,118.2 L347.5,117.1 L347.7,126.7 L347.9,125.9 L348.1,112.4 L348.3,124.1 L348.5,117.0 L348.8,123.0 L349.0,117.0 L349.2,110.7 L349.4,126.6 L349.6,123.0 L349.8,112.3 L350.0,108.0 L350.2,116.7 L350.4,112.6 L350.6,117.8 L350.8,124.0 L351.0,129.5 L351.2,117.8 L351.5,128.9 L351.7,127.5 L351.9,117.3 L352.1,109.5 L352.3,125.5 L352.5,124.0 L352.7,135.1 L352.9,129.2 L353.1,125.1 L353.3,130.9 L353.5,113.4 L353.7,121.3 L353.9,118.4 L354.1,131.2 L354.4,123.7 L354.6,100.6 L354.8,128.9 L355.0,114.3 L355.2,125.1 L355.4,117.1 L355.6,121.7 L355.8,124.2 L356.0,121.4 L356.2,114.1 L356.4,129.1 L356.6,122.7 L356.8,120.1 L357.0,124.7 L357.3,116.8 L357.5,132.2 L357.7,121.6 L357.9,122.5 L358.1,122.4 L358.3,114.4 L358.5,112.7 L358.7,121.6 L358.9,122.5 L359.1,128.8 L359.3,123.1 L359.5,113.3 L359.7,123.6 L359.9,125.5 L360.2,126.6 L360.4,122.3 L360.6,112.4 L360.8,127.6 L361.0,115.5 L361.2,123.9 L361.4,110.2 L361.6,125.1 L361.8,115.2 L362.0,127.1 L362.2,131.5 L362.4,127.7 L362.6,112.8 L362.8,114.2 L363.1,114.7 L363.3,124.4 L363.5,122.4 L363.7,121.2 L363.9,122.2 L364.1,123.9 L364.3,124.4 L364.5,131.0 L364.7,119.8 L364.9,121.5 L365.1,108.3 L365.3,111.7 L365.5,115.8 L365.7,112.6 L366.0,121.6 L366.2,126.8 L366.4,117.4 L366.6,117.1 L366.8,116.9 L367.0,121.0 L367.2,116.7 L367.4,122.9 L367.6,122.1 L367.8,122.3 L368.0,125.0 L368.2,120.3 L368.4,121.0 L368.6,131.3 L368.9,119.8 L369.1,125.2 L369.3,120.5 L369.5,117.2 L369.7,117.2 L369.9,114.9 L370.1,120.2 L370.3,116.2 L370.5,117.4 L370.7,127.9 L370.9,119.2 L371.1,127.4 L371.3,121.8 L371.5,125.6 L371.8,116.2 L372.0,121.0 L372.2,136.9 L372.4,125.4 L372.6,126.5 L372.8,121.6 L373.0,125.5 L373.2,112.7 L373.4,114.6 L373.6,122.8 L373.8,125.3 L374.0,117.4 L374.2,118.9 L374.5,117.7 L374.7,118.9 L374.9,112.4 L375.1,110.9 L375.3,119.5 L375.5,108.9 L375.7,113.8 L375.9,115.8 L376.1,113.3 L376.3,121.5 L376.5,117.2 L376.7,119.5 L376.9,113.5 L377.1,115.2 L377.4,123.2 L377.6,122.3 L377.8,117.0 L378.0,122.3 L378.2,121.1 L378.4,121.0 L378.6,130.1 L378.8,117.4 L379.0,122.6 L379.2,122.6 L379.4,118.4 L379.6,112.5 L379.8,124.3 L380.0,121.6 L380.3,120.2 L380.5,120.0 L380.7,120.0 L380.9,114.2 L381.1,121.7 L381.3,108.4 L381.5,119.7 L381.7,110.3 L381.9,117.6 L382.1,124.4 L382.3,118.2 L382.5,116.7 L382.7,123.1 L382.9,118.1 L383.2,117.2 L383.4,117.3 L383.6,129.4 L383.8,124.0 L384.0,122.8 L384.2,112.2 L384.4,123.7 L384.6,111.5 L384.8,122.8 L385.0,112.6 L385.2,132.2 L385.4,109.0 L385.6,127.5 L385.8,124.8 L386.1,108.4 L386.3,118.2 L386.5,128.9 L386.7,127.0 L386.9,109.1 L387.1,116.4 L387.3,112.2 L387.5,113.2 L387.7,115.6 L387.9,131.4 L388.1,120.5 L388.3,118.3 L388.5,117.6 L388.7,123.9 L389.0,124.1 L389.2,113.8 L389.4,129.0 L389.6,112.8 L389.8,117.9 L390.0,122.6 L390.2,130.6 L390.4,117.5 L390.6,121.5 L390.8,128.0 L391.0,123.7 L391.2,126.9 L391.4,126.3 L391.6,121.3 L391.9,123.7 L392.1,125.5 L392.3,119.5 L392.5,129.9 L392.7,107.0 L392.9,113.8 L393.1,128.9 L393.3,122.4 L393.5,115.6 L393.7,122.1 L393.9,126.6 L394.1,116.1 L394.3,124.6 L394.5,118.9 L394.8,119.0 L395.0,119.2 L395.2,126.8 L395.4,112.5 L395.6,117.3 L395.8,123.9 L396.0,111.9 L396.2,109.6 L396.4,123.3 L396.6,119.7 L396.8,118.8 L397.0,120.6 L397.2,113.5 L397.4,138.3 L397.7,113.4 L397.9,116.9 L398.1,110.6 L398.3,117.0 L398.5,129.4 L398.7,119.8 L398.9,123.5 L399.1,116.6 L399.3,131.3 L399.5,120.7 L399.7,111.7 L399.9,124.6 L400.1,117.3 L400.4,123.6 L400.6,120.6 L400.8,121.4 L401.0,120.6 L401.2,113.9 L401.4,110.1 L401.6,125.9 L401.8,118.8 L402.0,121.5 L402.2,116.7 L402.4,106.8 L402.6,111.5 L402.8,128.6 L403.0,114.7 L403.3,117.2 L403.5,110.3 L403.7,116.3 L403.9,117.3 L404.1,118.3 L404.3,119.2 L404.5,115.6 L404.7,116.0 L404.9,119.6 L405.1,121.7 L405.3,118.8 L405.5,130.8 L405.7,121.0 L405.9,120.7 L406.2,115.5 L406.4,126.2 L406.6,113.1 L406.8,109.3 L407.0,113.4 L407.2,123.6 L407.4,112.4 L407.6,127.9 L407.8,119.5 L408.0,110.0 L408.2,118.2 L408.4,131.0 L408.6,114.2 L408.8,111.3 L409.1,122.9 L409.3,128.0 L409.5,126.1 L409.7,117.5 L409.9,120.8 L410.1,121.7 L410.3,127.1 L410.5,133.4 L410.7,119.0 L410.9,127.9 L411.1,117.4 L411.3,123.4 L411.5,113.7 L411.7,114.8 L412.0,122.3 L412.2,113.9 L412.4,125.3 L412.6,116.1 L412.8,120.1 L413.0,119.1 L413.2,117.5 L413.4,120.5 L413.6,126.5 L413.8,139.5 L414.0,112.1 L414.2,121.6 L414.4,118.5 L414.6,113.8 L414.9,121.5 L415.1,114.0 L415.3,119.1 L415.5,127.6 L415.7,106.7 L415.9,121.2 L416.1,122.5 L416.3,113.5 L416.5,123.0 L416.7,121.9 L416.9,117.4 L417.1,127.4 L417.3,111.3 L417.5,123.7 L417.8,118.2 L418.0,112.9 L418.2,118.5 L418.4,117.4 L418.6,124.9 L418.8,110.1 L419.0,118.4 L419.2,116.7 L419.4,129.7 L419.6,112.5 L419.8,126.4 L420.0,108.4 L420.2,121.8 L420.4,118.8 L420.7,122.0 L420.9,115.1 L421.1,107.2 L421.3,109.7 L421.5,128.0 L421.7,121.0 L421.9,114.1 L422.1,125.3 L422.3,114.8 L422.5,114.9 L422.7,111.8 L422.9,127.1 L423.1,132.1 L423.4,113.4 L423.6,121.4 L423.8,125.8 L424.0,133.0 L424.2,104.2 L424.4,120.4 L424.6,123.6 L424.8,110.1 L425.0,122.1 L425.2,120.8 L425.4,124.1 L425.6,115.8 L425.8,122.2 L426.0,115.6 L426.3,123.4 L426.5,120.5 L426.7,117.1 L426.9,110.5 L427.1,130.0 L427.3,126.6 L427.5,125.1 L427.7,115.3 L427.9,117.3 L428.1,130.1 L428.3,124.2 L428.5,114.1 L428.7,119.8 L428.9,120.4 L429.2,118.2 L429.4,113.5 L429.6,127.5 L429.8,123.3 L430.0,118.3 L430.2,109.5 L430.4,115.8 L430.6,119.5 L430.8,125.1 L431.0,117.2 L431.2,126.6 L431.4,120.4 L431.6,114.8 L431.8,101.7 L432.1,112.1 L432.3,110.1 L432.5,118.6 L432.7,121.7 L432.9,128.5 L433.1,119.5 L433.3,112.2 L433.5,134.6 L433.7,121.6 L433.9,117.9 L434.1,117.9 L434.3,111.0 L434.5,123.7 L434.7,122.0 L435.0,129.8 L435.2,126.7 L435.4,125.2 L435.6,127.7 L435.8,117.8 L436.0,116.8 L436.2,119.4 L436.4,111.7 L436.6,118.8 L436.8,117.6 L437.0,124.0 L437.2,119.6 L437.4,107.5 L437.6,119.9 L437.9,128.8 L438.1,108.0 L438.3,114.9 L438.5,119.8 L438.7,111.3 L438.9,116.2 L439.1,120.1 L439.3,111.3 L439.5,121.6 L439.7,122.4 L439.9,111.7 L440.1,119.9 L440.3,126.7 L440.5,118.7 L440.8,122.6 L441.0,123.9 L441.2,118.3 L441.4,126.1 L441.6,122.3 L441.8,113.5 L442.0,123.2 L442.2,125.4 L442.4,125.0 L442.6,115.7 L442.8,122.8 L443.0,128.6 L443.2,121.3 L443.4,127.4 L443.7,128.2 L443.9,119.7 L444.1,124.1 L444.3,118.1 L444.5,126.7 L444.7,119.3 L444.9,116.4 L445.1,119.8 L445.3,119.5 L445.5,122.4 L445.7,122.9 L445.9,112.5 L446.1,115.8 L446.3,122.2 L446.6,123.0 L446.8,120.5 L447.0,136.8 L447.2,127.1 L447.4,119.5 L447.6,124.6 L447.8,128.5 L448.0,122.3 L448.2,108.9 L448.4,120.7 L448.6,120.4 L448.8,133.7 L449.0,108.3 L449.3,129.9 L449.5,119.1 L449.7,126.0 L449.9,118.2 L450.1,121.2 L450.3,127.3 L450.5,120.7 L450.7,126.8 L450.9,119.6 L451.1,117.5 L451.3,118.7 L451.5,116.9 L451.7,119.4 L451.9,128.8 L452.2,112.7 L452.4,109.6 L452.6,120.1 L452.8,130.9 L453.0,126.9 L453.2,128.6 L453.4,128.2 L453.6,115.5 L453.8,121.0 L454.0,103.2 L454.2,116.3 L454.4,124.1 L454.6,110.3 L454.8,107.1 L455.1,111.9 L455.3,121.6 L455.5,127.7 L455.7,136.8 L455.9,129.4 L456.1,110.6 L456.3,105.5 L456.5,121.3 L456.7,127.1 L456.9,110.0 L457.1,117.0 L457.3,117.5 L457.5,120.6 L457.7,119.2 L458.0,123.7 L458.2,127.2 L458.4,120.9 L458.6,125.2 L458.8,133.2 L459.0,113.9 L459.2,113.8 L459.4,123.7 L459.6,132.3 L459.8,121.6 L460.0,127.5 L460.2,118.6 L460.4,126.4 L460.6,116.5 L460.9,124.9 L461.1,123.1 L461.3,123.1 L461.5,129.4 L461.7,127.4 L461.9,116.8 L462.1,126.3 L462.3,109.8 L462.5,127.0 L462.7,138.2 L462.9,124.1 L463.1,124.0 L463.3,121.1 L463.5,126.1 L463.8,117.9 L464.0,125.1 L464.2,119.1 L464.4,118.1 L464.6,121.6 L464.8,120.5 L465.0,109.8 L465.2,134.1 L465.4,121.8 L465.6,110.1 L465.8,127.8 L466.0,120.7 L466.2,122.2 L466.4,125.4 L466.7,115.2 L466.9,102.1 L467.1,120.3 L467.3,122.4 L467.5,127.3 L467.7,116.1 L467.9,119.2 L468.1,123.4 L468.3,118.9 L468.5,119.3 L468.7,122.5 L468.9,114.5 L469.1,131.0 L469.3,115.0 L469.6,121.1 L469.8,118.8 L470.0,116.4 L470.2,124.3 L470.4,127.3 L470.6,130.2 L470.8,124.6" fill="none" stroke="#262684" stroke-width="0.4" stroke-opacity="0.85"/>
<path d="M56.6,40.1 L57.3,40.4 L58.0,40.7 L58.7,41.1 L59.4,41.4 L60.1,41.8 L60.7,42.2 L61.4,42.6 L62.1,43.0 L62.8,43.4 L63.5,43.9 L64.2,44.3 L64.9,44.8 L65.6,45.3 L66.3,45.8 L67.0,46.3 L67.7,46.8 L68.4,47.3 L69.0,47.9 L69.7,48.4 L70.4,49.0 L71.1,49.6 L71.8,50.1 L72.5,50.7 L73.2,51.3 L73.9,51.9 L74.6,52.5 L75.3,53.1 L76.0,53.8 L76.7,54.4 L77.3,55.0 L78.0,55.7 L78.7,56.3 L79.4,56.9 L80.1,57.6 L80.8,58.2 L81.5,58.9 L82.2,59.6 L82.9,60.2 L83.6,60.9 L84.3,61.6 L85.0,62.2 L85.6,62.9 L86.3,63.5 L87.0,64.2 L87.7,64.9 L88.4,65.5 L89.1,66.2 L89.8,66.9 L90.5,67.5 L91.2,68.2 L91.9,68.9 L92.6,69.5 L93.2,70.2 L93.9,70.8 L94.6,71.5 L95.3,72.1 L96.0,72.8 L96.7,73.4 L97.4,74.0 L98.1,74.7 L98.8,75.3 L99.5,75.9 L100.2,76.5 L100.9,77.2 L101.5,77.8 L102.2,78.4 L102.9,79.0 L103.6,79.6 L104.3,80.2 L105.0,80.7 L105.7,81.3 L106.4,81.9 L107.1,82.5 L107.8,83.0 L108.5,83.6 L109.2,84.1 L109.8,84.7 L110.5,85.2 L111.2,85.7 L111.9,86.3 L112.6,86.8 L113.3,87.3 L114.0,87.8 L114.7,88.3 L115.4,88.9 L116.1,89.4 L116.8,89.8 L117.5,90.3 L118.1,90.8 L118.8,91.3 L119.5,91.8 L120.2,92.2 L120.9,92.7 L121.6,93.2 L122.3,93.6 L123.0,94.1 L123.7,94.5 L124.4,94.9 L125.1,95.4 L125.7,95.8 L126.4,96.2 L127.1,96.6 L127.8,97.0 L128.5,97.4 L129.2,97.8 L129.9,98.2 L130.6,98.6 L131.3,99.0 L132.0,99.4 L132.7,99.8 L133.4,100.1 L134.0,100.5 L134.7,100.9 L135.4,101.2 L136.1,101.6 L136.8,101.9 L137.5,102.3 L138.2,102.6 L138.9,102.9 L139.6,103.3 L140.3,103.6 L141.0,103.9 L141.7,104.2 L142.3,104.5 L143.0,104.8 L143.7,105.1 L144.4,105.4 L145.1,105.7 L145.8,106.0 L146.5,106.2 L147.2,106.5 L147.9,106.8 L148.6,107.0 L149.3,107.3 L150.0,107.5 L150.6,107.8 L151.3,108.0 L152.0,108.3 L152.7,108.5 L153.4,108.7 L154.1,108.9 L154.8,109.2 L155.5,109.4 L156.2,109.6 L156.9,109.8 L157.6,110.0 L158.2,110.2 L158.9,110.4 L159.6,110.6 L160.3,110.7 L161.0,110.9 L161.7,111.1 L162.4,111.3 L163.1,111.4 L163.8,111.6 L164.5,111.8 L165.2,111.9 L165.9,112.1 L166.5,112.2 L167.2,112.4 L167.9,112.5 L168.6,112.7 L169.3,112.8 L170.0,112.9 L170.7,113.1 L171.4,113.2 L172.1,113.3 L172.8,113.4 L173.5,113.5 L174.2,113.7 L174.8,113.8 L175.5,113.9 L176.2,114.0 L176.9,114.1 L177.6,114.2 L178.3,114.3 L179.0,114.4 L179.7,114.5 L180.4,114.6 L181.1,114.6 L181.8,114.7 L182.5,114.8 L183.1,114.9 L183.8,115.0 L184.5,115.1 L185.2,115.1 L185.9,115.2 L186.6,115.3 L187.3,115.3 L188.0,115.4 L188.7,115.5 L189.4,115.5 L190.1,115.6 L190.7,115.6 L191.4,115.7 L192.1,115.8 L192.8,115.8 L193.5,115.9 L194.2,115.9 L194.9,116.0 L195.6,116.0 L196.3,116.1 L197.0,116.1 L197.7,116.2 L198.4,116.2 L199.0,116.3 L199.7,116.3 L200.4,116.3 L201.1,116.4 L201.8,116.4 L202.5,116.5 L203.2,116.5 L203.9,116.5 L204.6,116.6 L205.3,116.6 L206.0,116.6 L206.7,116.7 L207.3,116.7 L208.0,116.8 L208.7,116.8 L209.4,116.8 L210.1,116.9 L210.8,116.9 L211.5,116.9 L212.2,117.0 L212.9,117.0 L213.6,117.0 L214.3,117.1 L215.0,117.1 L215.6,117.1 L216.3,117.2 L217.0,117.2 L217.7,117.2 L218.4,117.3 L219.1,117.3 L219.8,117.3 L220.5,117.4 L221.2,117.4 L221.9,117.4 L222.6,117.4 L223.2,117.5 L223.9,117.5 L224.6,117.5 L225.3,117.6 L226.0,117.6 L226.7,117.6 L227.4,117.6 L228.1,117.7 L228.8,117.7 L229.5,117.7 L230.2,117.8 L230.9,117.8 L231.5,117.8 L232.2,117.8 L232.9,117.9 L233.6,117.9 L234.3,117.9 L235.0,117.9 L235.7,118.0 L236.4,118.0 L237.1,118.0 L237.8,118.0 L238.5,118.1 L239.2,118.1 L239.8,118.1 L240.5,118.1 L241.2,118.2 L241.9,118.2 L242.6,118.2 L243.3,118.2 L244.0,118.2 L244.7,118.3 L245.4,118.3 L246.1,118.3 L246.8,118.3 L247.5,118.4 L248.1,118.4 L248.8,118.4 L249.5,118.4 L250.2,118.4 L250.9,118.5 L251.6,118.5 L252.3,118.5 L253.0,118.5 L253.7,118.5 L254.4,118.6 L255.1,118.6 L255.7,118.6 L256.4,118.6 L257.1,118.6 L257.8,118.6 L258.5,118.7 L259.2,118.7 L259.9,118.7 L260.6,118.7 L261.3,118.7 L262.0,118.7 L262.7,118.8 L263.4,118.8 L264.0,118.8 L264.7,118.8 L265.4,118.8 L266.1,118.8 L266.8,118.9 L267.5,118.9 L268.2,118.9 L268.9,118.9 L269.6,118.9 L270.3,118.9 L271.0,118.9 L271.7,119.0 L272.3,119.0 L273.0,119.0 L273.7,119.0 L274.4,119.0 L275.1,119.0 L275.8,119.0 L276.5,119.0 L277.2,119.1 L277.9,119.1 L278.6,119.1 L279.3,119.1 L279.9,119.1 L280.6,119.1 L281.3,119.1 L282.0,119.1 L282.7,119.1 L283.4,119.2 L284.1,119.2 L284.8,119.2 L285.5,119.2 L286.2,119.2 L286.9,119.2 L287.6,119.2 L288.2,119.2 L288.9,119.2 L289.6,119.2 L290.3,119.3 L291.0,119.3 L291.7,119.3 L292.4,119.3 L293.1,119.3 L293.8,119.3 L294.5,119.3 L295.2,119.3 L295.9,119.3 L296.5,119.3 L297.2,119.3 L297.9,119.3 L298.6,119.3 L299.3,119.4 L300.0,119.4 L300.7,119.4 L301.4,119.4 L302.1,119.4 L302.8,119.4 L303.5,119.4 L304.2,119.4 L304.8,119.4 L305.5,119.4 L306.2,119.4 L306.9,119.4 L307.6,119.4 L308.3,119.4 L309.0,119.4 L309.7,119.4 L310.4,119.4 L311.1,119.4 L311.8,119.5 L312.4,119.5 L313.1,119.5 L313.8,119.5 L314.5,119.5 L315.2,119.5 L315.9,119.5 L316.6,119.5 L317.3,119.5 L318.0,119.5 L318.7,119.5 L319.4,119.5 L320.1,119.5 L320.7,119.5 L321.4,119.5 L322.1,119.5 L322.8,119.5 L323.5,119.5 L324.2,119.5 L324.9,119.5 L325.6,119.5 L326.3,119.5 L327.0,119.5 L327.7,119.5 L328.4,119.5 L329.0,119.5 L329.7,119.5 L330.4,119.5 L331.1,119.5 L331.8,119.5 L332.5,119.5 L333.2,119.5 L333.9,119.5 L334.6,119.5 L335.3,119.5 L336.0,119.5 L336.7,119.5 L337.3,119.5 L338.0,119.5 L338.7,119.5 L339.4,119.5 L340.1,119.5 L340.8,119.5 L341.5,119.5 L342.2,119.5 L342.9,119.5 L343.6,119.5 L344.3,119.5 L344.9,119.5 L345.6,119.5 L346.3,119.5 L347.0,119.5 L347.7,119.5 L348.4,119.5 L349.1,119.5 L349.8,119.5 L350.5,119.5 L351.2,119.5 L351.9,119.5 L352.6,119.5 L353.2,119.5 L353.9,119.5 L354.6,119.5 L355.3,119.5 L356.0,119.5 L356.7,119.5 L357.4,119.5 L358.1,119.5 L358.8,119.5 L359.5,119.5 L360.2,119.5 L360.9,119.5 L361.5,119.5 L362.2,119.5 L362.9,119.5 L363.6,119.5 L364.3,119.5 L365.0,119.5 L365.7,119.5 L366.4,119.5 L367.1,119.5 L367.8,119.5 L368.5,119.5 L369.2,119.5 L369.8,119.5 L370.5,119.5 L371.2,119.5 L371.9,119.5 L372.6,119.5 L373.3,119.5 L374.0,119.5 L374.7,119.5 L375.4,119.5 L376.1,119.5 L376.8,119.5 L377.4,119.5 L378.1,119.5 L378.8,119.5 L379.5,119.5 L380.2,119.5 L380.9,119.5 L381.6,119.5 L382.3,119.5 L383.0,119.5 L383.7,119.5 L384.4,119.5 L385.1,119.5 L385.7,119.5 L386.4,119.5 L387.1,119.5 L387.8,119.5 L388.5,119.4 L389.2,119.4 L389.9,119.4 L390.6,119.4 L391.3,119.4 L392.0,119.4 L392.7,119.4 L393.4,119.4 L394.0,119.4 L394.7,119.4 L395.4,119.4 L396.1,119.4 L396.8,119.4 L397.5,119.4 L398.2,119.4 L398.9,119.4 L399.6,119.4 L400.3,119.4 L401.0,119.4 L401.7,119.4 L402.3,119.4 L403.0,119.4 L403.7,119.4 L404.4,119.4 L405.1,119.4 L405.8,119.4 L406.5,119.4 L407.2,119.4 L407.9,119.4 L408.6,119.4 L409.3,119.4 L409.9,119.4 L410.6,119.4 L411.3,119.4 L412.0,119.4 L412.7,119.4 L413.4,119.4 L414.1,119.4 L414.8,119.4 L415.5,119.4 L416.2,119.4 L416.9,119.4 L417.6,119.4 L418.2,119.4 L418.9,119.4 L419.6,119.4 L420.3,119.4 L421.0,119.4 L421.7,119.4 L422.4,119.4 L423.1,119.4 L423.8,119.4 L424.5,119.4 L425.2,119.4 L425.9,119.4 L426.5,119.4 L427.2,119.4 L427.9,119.4 L428.6,119.4 L429.3,119.4 L430.0,119.4 L430.7,119.4 L431.4,119.4 L432.1,119.4 L432.8,119.4 L433.5,119.4 L434.2,119.4 L434.8,119.4 L435.5,119.4 L436.2,119.4 L436.9,119.4 L437.6,119.4 L438.3,119.4 L439.0,119.4 L439.7,119.4 L440.4,119.4 L441.1,119.4 L441.8,119.4 L442.4,119.4 L443.1,119.4 L443.8,119.4 L444.5,119.4 L445.2,119.4 L445.9,119.4 L446.6,119.4 L447.3,119.4 L448.0,119.4 L448.7,119.4 L449.4,119.4 L450.1,119.4 L450.7,119.4 L451.4,119.4 L452.1,119.4 L452.8,119.4 L453.5,119.4 L454.2,119.4 L454.9,119.4 L455.6,119.4 L456.3,119.4 L457.0,119.4 L457.7,119.4 L458.4,119.4 L459.0,119.4 L459.7,119.4 L460.4,119.4 L461.1,119.5 L461.8,119.5 L462.5,119.5 L463.2,119.5 L463.9,119.5 L464.6,119.5 L465.3,119.5 L466.0,119.5 L466.7,119.5 L467.3,119.5 L468.0,119.5 L468.7,119.5 L469.4,119.5 L470.1,119.5 L470.8,119.5" fill="none" stroke="#000" stroke-width="3.1" stroke-linejoin="round" />
<text x="53.6" y="17.5" font-family="Liberation Sans" font-size="13.5" text-anchor="end" >0.45</text>
<text x="53.6" y="49.3" font-family="Liberation Sans" font-size="13.5" text-anchor="end" >0.4</text>
<line x1="56.6" y1="44.5" x2="60.6" y2="44.5" stroke="#c4c4c4" stroke-width="1"/>
<line x1="466.8" y1="44.5" x2="470.8" y2="44.5" stroke="#c4c4c4" stroke-width="1"/>
<text x="53.6" y="81.1" font-family="Liberation Sans" font-size="13.5" text-anchor="end" >0.35</text>
<line x1="56.6" y1="76.3" x2="60.6" y2="76.3" stroke="#c4c4c4" stroke-width="1"/>
<line x1="466.8" y1="76.3" x2="470.8" y2="76.3" stroke="#c4c4c4" stroke-width="1"/>
<text x="53.6" y="112.9" font-family="Liberation Sans" font-size="13.5" text-anchor="end" >0.3</text>
<line x1="56.6" y1="108.0" x2="60.6" y2="108.0" stroke="#c4c4c4" stroke-width="1"/>
<line x1="466.8" y1="108.0" x2="470.8" y2="108.0" stroke="#c4c4c4" stroke-width="1"/>
<text x="53.6" y="144.7" font-family="Liberation Sans" font-size="13.5" text-anchor="end" >0.25</text>
<line x1="56.6" y1="139.8" x2="60.6" y2="139.8" stroke="#c4c4c4" stroke-width="1"/>
<line x1="466.8" y1="139.8" x2="470.8" y2="139.8" stroke="#c4c4c4" stroke-width="1"/>
<text x="53.6" y="176.4" font-family="Liberation Sans" font-size="13.5" text-anchor="end" >0.2</text>
<text x="56.6" y="186.0" font-family="Liberation Sans" font-size="13.5" text-anchor="middle" >0</text>
<text x="125.6" y="186.0" font-family="Liberation Sans" font-size="13.5" text-anchor="middle" >50</text>
<line x1="125.6" y1="12.7" x2="125.6" y2="16.7" stroke="#c4c4c4" stroke-width="1"/>
<line x1="125.6" y1="167.6" x2="125.6" y2="171.6" stroke="#c4c4c4" stroke-width="1"/>
<text x="194.7" y="186.0" font-family="Liberation Sans" font-size="13.5" text-anchor="middle" >100</text>
<line x1="194.7" y1="12.7" x2="194.7" y2="16.7" stroke="#c4c4c4" stroke-width="1"/>
<line x1="194.7" y1="167.6" x2="194.7" y2="171.6" stroke="#c4c4c4" stroke-width="1"/>
<text x="263.7" y="186.0" font-family="Liberation Sans" font-size="13.5" text-anchor="middle" >150</text>
<line x1="263.7" y1="12.7" x2="263.7" y2="16.7" stroke="#c4c4c4" stroke-width="1"/>
<line x1="263.7" y1="167.6" x2="263.7" y2="171.6" stroke="#c4c4c4" stroke-width="1"/>
<text x="332.7" y="186.0" font-family="Liberation Sans" font-size="13.5" text-anchor="middle" >200</text>
<line x1="332.7" y1="12.7" x2="332.7" y2="16.7" stroke="#c4c4c4" stroke-width="1"/>
<line x1="332.7" y1="167.6" x2="332.7" y2="171.6" stroke="#c4c4c4" stroke-width="1"/>
<text x="401.8" y="186.0" font-family="Liberation Sans" font-size="13.5" text-anchor="middle" >250</text>
<line x1="401.8" y1="12.7" x2="401.8" y2="16.7" stroke="#c4c4c4" stroke-width="1"/>
<line x1="401.8" y1="167.6" x2="401.8" y2="171.6" stroke="#c4c4c4" stroke-width="1"/>
<text x="470.8" y="186.0" font-family="Liberation Sans" font-size="13.5" text-anchor="middle" >300</text>
<text transform="translate(19.8,93) rotate(-90)" font-family="Liberation Sans" font-size="13.5" text-anchor="middle" >[OH] (mol/L)</text>
<text x="263.2" y="201.3" font-family="Liberation Sans" font-size="13" text-anchor="middle" >Time (min)</text>
<rect x="310.9" y="17.9" width="155.7" height="54.5" fill="#fff"/>
<line x1="310.9" y1="17.9" x2="310.9" y2="72.4" stroke="#b9b9b9" stroke-width="1"/>
<line x1="466.6" y1="17.9" x2="466.6" y2="72.4" stroke="#b9b9b9" stroke-width="1"/>
<line x1="466.6" y1="44.5" x2="470.8" y2="44.5" stroke="#c4c4c4" stroke-width="1"/>
<line x1="315.8" y1="25.5" x2="342.7" y2="25.5" stroke="#00ff00" stroke-width="3" stroke-opacity="1"/>
<text x="345" y="28.9" font-family="Liberation Serif" font-size="16" font-weight="bold">x</text>
<text x="355" y="31.5" font-family="Liberation Serif" font-size="11.5" font-weight="bold">2</text>
<line x1="315.8" y1="42.2" x2="342.7" y2="42.2" stroke="#9a9ac8" stroke-width="1" stroke-opacity="1"/>
<text x="345" y="45.6" font-family="Liberation Serif" font-size="16" font-weight="bold">y</text>
<text x="355" y="48.2" font-family="Liberation Serif" font-size="11.5" font-weight="bold">1</text>
<text x="368.5" y="45.6" font-family="Liberation Serif" font-size="16" textLength="78" lengthAdjust="spacingAndGlyphs">under noise</text>
<line x1="315.8" y1="61.3" x2="342.7" y2="61.3" stroke="#000" stroke-width="3" stroke-opacity="1"/>
<text x="345" y="64.7" font-family="Liberation Serif" font-size="16" font-weight="bold">y</text>
<text x="355" y="67.3" font-family="Liberation Serif" font-size="11.5" font-weight="bold">1</text>
<text x="368.5" y="64.7" font-family="Liberation Serif" font-size="16" textLength="90.8" lengthAdjust="spacingAndGlyphs">after filtering</text>
</g>
<line x1="56.6" y1="234.6" x2="56.6" y2="393.4" stroke="#b9b9b9" stroke-width="1"/>
<path d="M56.6,381.0 L57.3,380.3 L58.0,379.6 L58.7,379.0 L59.4,378.3 L60.1,377.6 L60.7,377.0 L61.4,376.3 L62.1,375.7 L62.8,375.0 L63.5,374.4 L64.2,373.8 L64.9,373.1 L65.6,372.5 L66.3,371.9 L67.0,371.3 L67.7,370.6 L68.4,370.0 L69.0,369.4 L69.7,368.8 L70.4,368.2 L71.1,367.6 L71.8,367.0 L72.5,366.4 L73.2,365.8 L73.9,365.2 L74.6,364.6 L75.3,364.1 L76.0,363.5 L76.7,362.9 L77.3,362.3 L78.0,361.8 L78.7,361.2 L79.4,360.7 L80.1,360.1 L80.8,359.6 L81.5,359.0 L82.2,358.5 L82.9,357.9 L83.6,357.4 L84.3,356.8 L85.0,356.3 L85.6,355.8 L86.3,355.3 L87.0,354.7 L87.7,354.2 L88.4,353.7 L89.1,353.2 L89.8,352.7 L90.5,352.2 L91.2,351.7 L91.9,351.2 L92.6,350.7 L93.2,350.2 L93.9,349.7 L94.6,349.2 L95.3,348.7 L96.0,348.2 L96.7,347.7 L97.4,347.2 L98.1,346.8 L98.8,346.3 L99.5,345.8 L100.2,345.4 L100.9,344.9 L101.5,344.4 L102.2,344.0 L102.9,343.5 L103.6,343.1 L104.3,342.6 L105.0,342.2 L105.7,341.7 L106.4,341.3 L107.1,340.9 L107.8,340.4 L108.5,340.0 L109.2,339.5 L109.8,339.1 L110.5,338.7 L111.2,338.3 L111.9,337.8 L112.6,337.4 L113.3,337.0 L114.0,336.6 L114.7,336.2 L115.4,335.8 L116.1,335.4 L116.8,335.0 L117.5,334.6 L118.1,334.2 L118.8,333.8 L119.5,333.4 L120.2,333.0 L120.9,332.6 L121.6,332.2 L122.3,331.8 L123.0,331.4 L123.7,331.1 L124.4,330.7 L125.1,330.3 L125.7,329.9 L126.4,329.6 L127.1,329.2 L127.8,328.8 L128.5,328.5 L129.2,328.1 L129.9,327.7 L130.6,327.4 L131.3,327.0 L132.0,326.7 L132.7,326.3 L133.4,326.0 L134.0,325.6 L134.7,325.3 L135.4,324.9 L136.1,324.6 L136.8,324.3 L137.5,323.9 L138.2,323.6 L138.9,323.2 L139.6,322.9 L140.3,322.6 L141.0,322.3 L141.7,321.9 L142.3,321.6 L143.0,321.3 L143.7,321.0 L144.4,320.7 L145.1,320.3 L145.8,320.0 L146.5,319.7 L147.2,319.4 L147.9,319.1 L148.6,318.8 L149.3,318.5 L150.0,318.2 L150.6,317.9 L151.3,317.6 L152.0,317.3 L152.7,317.0 L153.4,316.7 L154.1,316.4 L154.8,316.1 L155.5,315.8 L156.2,315.5 L156.9,315.3 L157.6,315.0 L158.2,314.7 L158.9,314.4 L159.6,314.1 L160.3,313.9 L161.0,313.6 L161.7,313.3 L162.4,313.0 L163.1,312.8 L163.8,312.5 L164.5,312.2 L165.2,312.0 L165.9,311.7 L166.5,311.4 L167.2,311.2 L167.9,310.9 L168.6,310.7 L169.3,310.4 L170.0,310.2 L170.7,309.9 L171.4,309.6 L172.1,309.4 L172.8,309.1 L173.5,308.9 L174.2,308.7 L174.8,308.4 L175.5,308.2 L176.2,307.9 L176.9,307.7 L177.6,307.5 L178.3,307.2 L179.0,307.0 L179.7,306.7 L180.4,306.5 L181.1,306.3 L181.8,306.1 L182.5,305.8 L183.1,305.6 L183.8,305.4 L184.5,305.2 L185.2,304.9 L185.9,304.7 L186.6,304.5 L187.3,304.3 L188.0,304.0 L188.7,303.8 L189.4,303.6 L190.1,303.4 L190.7,303.2 L191.4,303.0 L192.1,302.8 L192.8,302.6 L193.5,302.4 L194.2,302.2 L194.9,301.9 L195.6,301.7 L196.3,301.5 L197.0,301.3 L197.7,301.1 L198.4,300.9 L199.0,300.7 L199.7,300.5 L200.4,300.4 L201.1,300.2 L201.8,300.0 L202.5,299.8 L203.2,299.6 L203.9,299.4 L204.6,299.2 L205.3,299.0 L206.0,298.8 L206.7,298.6 L207.3,298.5 L208.0,298.3 L208.7,298.1 L209.4,297.9 L210.1,297.7 L210.8,297.6 L211.5,297.4 L212.2,297.2 L212.9,297.0 L213.6,296.9 L214.3,296.7 L215.0,296.5 L215.6,296.3 L216.3,296.2 L217.0,296.0 L217.7,295.8 L218.4,295.7 L219.1,295.5 L219.8,295.3 L220.5,295.2 L221.2,295.0 L221.9,294.9 L222.6,294.7 L223.2,294.5 L223.9,294.4 L224.6,294.2 L225.3,294.1 L226.0,293.9 L226.7,293.7 L227.4,293.6 L228.1,293.4 L228.8,293.3 L229.5,293.1 L230.2,293.0 L230.9,292.8 L231.5,292.7 L232.2,292.5 L232.9,292.4 L233.6,292.2 L234.3,292.1 L235.0,292.0 L235.7,291.8 L236.4,291.7 L237.1,291.5 L237.8,291.4 L238.5,291.2 L239.2,291.1 L239.8,291.0 L240.5,290.8 L241.2,290.7 L241.9,290.6 L242.6,290.4 L243.3,290.3 L244.0,290.2 L244.7,290.0 L245.4,289.9 L246.1,289.8 L246.8,289.6 L247.5,289.5 L248.1,289.4 L248.8,289.2 L249.5,289.1 L250.2,289.0 L250.9,288.9 L251.6,288.7 L252.3,288.6 L253.0,288.5 L253.7,288.4 L254.4,288.2 L255.1,288.1 L255.7,288.0 L256.4,287.9 L257.1,287.8 L257.8,287.6 L258.5,287.5 L259.2,287.4 L259.9,287.3 L260.6,287.2 L261.3,287.1 L262.0,286.9 L262.7,286.8 L263.4,286.7 L264.0,286.6 L264.7,286.5 L265.4,286.4 L266.1,286.3 L266.8,286.2 L267.5,286.1 L268.2,285.9 L268.9,285.8 L269.6,285.7 L270.3,285.6 L271.0,285.5 L271.7,285.4 L272.3,285.3 L273.0,285.2 L273.7,285.1 L274.4,285.0 L275.1,284.9 L275.8,284.8 L276.5,284.7 L277.2,284.6 L277.9,284.5 L278.6,284.4 L279.3,284.3 L279.9,284.2 L280.6,284.1 L281.3,284.0 L282.0,283.9 L282.7,283.8 L283.4,283.7 L284.1,283.6 L284.8,283.5 L285.5,283.4 L286.2,283.3 L286.9,283.3 L287.6,283.2 L288.2,283.1 L288.9,283.0 L289.6,282.9 L290.3,282.8 L291.0,282.7 L291.7,282.6 L292.4,282.5 L293.1,282.5 L293.8,282.4 L294.5,282.3 L295.2,282.2 L295.9,282.1 L296.5,282.0 L297.2,281.9 L297.9,281.9 L298.6,281.8 L299.3,281.7 L300.0,281.6 L300.7,281.5 L301.4,281.4 L302.1,281.4 L302.8,281.3 L303.5,281.2 L304.2,281.1 L304.8,281.0 L305.5,281.0 L306.2,280.9 L306.9,280.8 L307.6,280.7 L308.3,280.7 L309.0,280.6 L309.7,280.5 L310.4,280.4 L311.1,280.4 L311.8,280.3 L312.4,280.2 L313.1,280.1 L313.8,280.1 L314.5,280.0 L315.2,279.9 L315.9,279.9 L316.6,279.8 L317.3,279.7 L318.0,279.6 L318.7,279.6 L319.4,279.5 L320.1,279.4 L320.7,279.4 L321.4,279.3 L322.1,279.2 L322.8,279.2 L323.5,279.1 L324.2,279.0 L324.9,279.0 L325.6,278.9 L326.3,278.8 L327.0,278.8 L327.7,278.7 L328.4,278.6 L329.0,278.6 L329.7,278.5 L330.4,278.4 L331.1,278.4 L331.8,278.3 L332.5,278.3 L333.2,278.2 L333.9,278.1 L334.6,278.1 L335.3,278.0 L336.0,278.0 L336.7,277.9 L337.3,277.8 L338.0,277.8 L338.7,277.7 L339.4,277.7 L340.1,277.6 L340.8,277.5 L341.5,277.5 L342.2,277.4 L342.9,277.4 L343.6,277.3 L344.3,277.3 L344.9,277.2 L345.6,277.2 L346.3,277.1 L347.0,277.0 L347.7,277.0 L348.4,276.9 L349.1,276.9 L349.8,276.8 L350.5,276.8 L351.2,276.7 L351.9,276.7 L352.6,276.6 L353.2,276.6 L353.9,276.5 L354.6,276.5 L355.3,276.4 L356.0,276.4 L356.7,276.3 L357.4,276.3 L358.1,276.2 L358.8,276.2 L359.5,276.1 L360.2,276.1 L360.9,276.0 L361.5,276.0 L362.2,275.9 L362.9,275.9 L363.6,275.8 L364.3,275.8 L365.0,275.7 L365.7,275.7 L366.4,275.6 L367.1,275.6 L367.8,275.5 L368.5,275.5 L369.2,275.5 L369.8,275.4 L370.5,275.4 L371.2,275.3 L371.9,275.3 L372.6,275.2 L373.3,275.2 L374.0,275.2 L374.7,275.1 L375.4,275.1 L376.1,275.0 L376.8,275.0 L377.4,274.9 L378.1,274.9 L378.8,274.9 L379.5,274.8 L380.2,274.8 L380.9,274.7 L381.6,274.7 L382.3,274.7 L383.0,274.6 L383.7,274.6 L384.4,274.5 L385.1,274.5 L385.7,274.5 L386.4,274.4 L387.1,274.4 L387.8,274.3 L388.5,274.3 L389.2,274.3 L389.9,274.2 L390.6,274.2 L391.3,274.2 L392.0,274.1 L392.7,274.1 L393.4,274.0 L394.0,274.0 L394.7,274.0 L395.4,273.9 L396.1,273.9 L396.8,273.9 L397.5,273.8 L398.2,273.8 L398.9,273.8 L399.6,273.7 L400.3,273.7 L401.0,273.7 L401.7,273.6 L402.3,273.6 L403.0,273.6 L403.7,273.5 L404.4,273.5 L405.1,273.5 L405.8,273.4 L406.5,273.4 L407.2,273.4 L407.9,273.3 L408.6,273.3 L409.3,273.3 L409.9,273.2 L410.6,273.2 L411.3,273.2 L412.0,273.1 L412.7,273.1 L413.4,273.1 L414.1,273.0 L414.8,273.0 L415.5,273.0 L416.2,273.0 L416.9,272.9 L417.6,272.9 L418.2,272.9 L418.9,272.8 L419.6,272.8 L420.3,272.8 L421.0,272.8 L421.7,272.7 L422.4,272.7 L423.1,272.7 L423.8,272.6 L424.5,272.6 L425.2,272.6 L425.9,272.6 L426.5,272.5 L427.2,272.5 L427.9,272.5 L428.6,272.4 L429.3,272.4 L430.0,272.4 L430.7,272.4 L431.4,272.3 L432.1,272.3 L432.8,272.3 L433.5,272.3 L434.2,272.2 L434.8,272.2 L435.5,272.2 L436.2,272.2 L436.9,272.1 L437.6,272.1 L438.3,272.1 L439.0,272.1 L439.7,272.0 L440.4,272.0 L441.1,272.0 L441.8,272.0 L442.4,271.9 L443.1,271.9 L443.8,271.9 L444.5,271.9 L445.2,271.9 L445.9,271.8 L446.6,271.8 L447.3,271.8 L448.0,271.8 L448.7,271.7 L449.4,271.7 L450.1,271.7 L450.7,271.7 L451.4,271.6 L452.1,271.6 L452.8,271.6 L453.5,271.6 L454.2,271.6 L454.9,271.5 L455.6,271.5 L456.3,271.5 L457.0,271.5 L457.7,271.5 L458.4,271.4 L459.0,271.4 L459.7,271.4 L460.4,271.4 L461.1,271.4 L461.8,271.3 L462.5,271.3 L463.2,271.3 L463.9,271.3 L464.6,271.3 L465.3,271.2 L466.0,271.2 L466.7,271.2 L467.3,271.2 L468.0,271.2 L468.7,271.1 L469.4,271.1 L470.1,271.1 L470.8,271.1" fill="none" stroke="#00ff00" stroke-width="3" stroke-linejoin="round" />
<path d="M56.6,282.3 L57.3,282.3 L58.0,282.3 L58.7,282.2 L59.4,282.1 L60.1,282.0 L60.8,281.9 L61.6,281.7 L62.3,281.4 L63.0,281.1 L63.7,280.6 L64.4,280.1 L65.1,279.6 L65.8,279.0 L66.5,278.3 L67.2,277.7 L67.9,277.0 L68.6,276.4 L69.3,275.8 L70.1,275.2 L70.8,274.6 L71.5,274.1 L72.2,273.5 L72.9,273.0 L73.6,272.4 L74.3,271.8 L75.0,271.3 L75.7,270.7 L76.4,270.1 L77.1,269.5 L77.8,268.9 L78.5,268.4 L79.3,267.8 L80.0,267.2 L80.7,266.6 L81.4,266.0 L82.1,265.3 L82.8,264.7 L83.5,264.1 L84.2,263.5 L84.2,335.9 L85.5,334.0 L86.7,332.1 L88.0,330.3 L89.2,328.5 L90.5,326.6 L91.7,324.8 L93.0,323.0 L94.3,321.2 L95.5,319.3 L96.8,317.5 L98.0,315.6 L98.0,324.6 L99.3,323.3 L100.5,321.9 L101.8,320.5 L103.0,319.2 L104.3,317.8 L105.6,316.5 L106.8,315.2 L108.1,313.8 L109.3,312.5 L110.6,311.3 L111.8,310.0 L111.8,321.0 L113.1,319.7 L114.3,318.4 L115.6,317.2 L116.8,316.0 L118.1,314.8 L119.4,313.6 L120.6,312.5 L121.9,311.4 L123.1,310.3 L124.4,309.3 L125.6,308.4 L125.6,311.6 L126.9,310.8 L128.1,310.1 L129.4,309.3 L130.7,308.6 L131.9,307.9 L133.2,307.2 L134.4,306.5 L135.7,305.9 L136.9,305.2 L138.2,304.6 L139.4,304.0 L139.4,316.0 L140.7,315.5 L142.0,315.0 L143.2,314.6 L144.5,314.1 L145.7,313.6 L147.0,313.2 L148.2,312.7 L149.5,312.3 L150.7,311.9 L152.0,311.4 L153.2,311.0 L153.2,312.0 L154.5,311.5 L155.8,311.1 L157.0,310.6 L158.3,310.1 L159.5,309.7 L160.8,309.2 L162.0,308.8 L163.3,308.3 L164.5,307.9 L165.8,307.4 L167.1,307.0 L167.1,308.0 L168.3,307.6 L169.6,307.2 L170.8,306.9 L172.1,306.5 L173.3,306.1 L174.6,305.8 L175.8,305.4 L177.1,305.0 L178.3,304.7 L179.6,304.3 L180.9,304.0 L180.9,310.0 L182.1,309.5 L183.4,309.1 L184.6,308.6 L185.9,308.1 L187.1,307.7 L188.4,307.2 L189.6,306.8 L190.9,306.3 L192.2,305.9 L193.4,305.4 L194.7,305.0 L194.7,298.2 L195.9,297.9 L197.2,297.6 L198.4,297.3 L199.7,297.0 L200.9,296.7 L202.2,296.4 L203.5,296.1 L204.7,295.8 L206.0,295.5 L207.2,295.2 L208.5,295.0 L208.5,299.0 L209.7,298.6 L211.0,298.2 L212.2,297.9 L213.5,297.5 L214.7,297.1 L216.0,296.8 L217.3,296.4 L218.5,296.0 L219.8,295.7 L221.0,295.3 L222.3,295.0 L222.3,282.5 L223.5,282.5 L224.8,282.5 L226.0,282.5 L227.3,282.5 L228.6,282.5 L229.8,282.5 L231.1,282.5 L232.3,282.5 L233.6,282.5 L234.8,282.5 L236.1,282.5 L236.1,289.9 L237.3,289.6 L238.6,289.4 L239.9,289.1 L241.1,288.8 L242.4,288.5 L243.6,288.2 L244.9,288.0 L246.1,287.7 L247.4,287.4 L248.6,287.2 L249.9,286.9 L249.9,286.9 L251.1,286.7 L252.4,286.5 L253.7,286.3 L254.9,286.1 L256.2,285.9 L257.4,285.8 L258.7,285.6 L259.9,285.4 L261.2,285.2 L262.4,285.1 L263.7,284.9 L263.7,284.9 L265.0,284.7 L266.2,284.4 L267.5,284.2 L268.7,283.9 L270.0,283.7 L271.2,283.5 L272.5,283.2 L273.7,283.0 L275.0,282.8 L276.3,282.5 L277.5,282.3 L277.5,276.9 L278.8,276.9 L280.0,276.9 L281.3,276.9 L282.5,276.9 L283.8,276.9 L285.0,276.9 L286.3,276.9 L287.5,276.9 L288.8,276.9 L290.1,276.9 L291.3,276.9 L291.3,279.9 L292.6,279.8 L293.8,279.6 L295.1,279.5 L296.3,279.3 L297.6,279.2 L298.8,279.0 L300.1,278.9 L301.4,278.7 L302.6,278.6 L303.9,278.4 L305.1,278.3 L305.1,276.9 L306.4,276.9 L307.6,276.9 L308.9,276.9 L310.1,276.9 L311.4,276.9 L312.7,276.9 L313.9,276.9 L315.2,276.9 L316.4,276.9 L317.7,276.9 L318.9,276.9 L318.9,286.7 L320.2,286.5 L321.4,286.2 L322.7,285.9 L323.9,285.6 L325.2,285.4 L326.5,285.1 L327.7,284.9 L329.0,284.6 L330.2,284.4 L331.5,284.2 L332.7,283.9 L332.7,269.3 L334.0,269.3 L335.2,269.4 L336.5,269.5 L337.8,269.5 L339.0,269.6 L340.3,269.6 L341.5,269.7 L342.8,269.7 L344.0,269.8 L345.3,269.8 L346.5,269.9 L346.5,282.3 L347.8,282.1 L349.1,282.0 L350.3,281.8 L351.6,281.6 L352.8,281.5 L354.1,281.3 L355.3,281.1 L356.6,281.0 L357.8,280.8 L359.1,280.7 L360.3,280.5 L360.3,276.3 L361.6,276.4 L362.9,276.4 L364.1,276.5 L365.4,276.5 L366.6,276.6 L367.9,276.6 L369.1,276.7 L370.4,276.8 L371.6,276.8 L372.9,276.9 L374.2,276.9 L374.2,285.9 L375.4,285.7 L376.7,285.5 L377.9,285.4 L379.2,285.2 L380.4,285.0 L381.7,284.8 L382.9,284.6 L384.2,284.4 L385.4,284.3 L386.7,284.1 L388.0,283.9 L388.0,275.9 L389.2,275.8 L390.5,275.7 L391.7,275.6 L393.0,275.5 L394.2,275.4 L395.5,275.3 L396.7,275.3 L398.0,275.2 L399.3,275.1 L400.5,275.0 L401.8,274.9 L401.8,271.9 L403.0,272.0 L404.3,272.1 L405.5,272.2 L406.8,272.3 L408.0,272.4 L409.3,272.4 L410.6,272.5 L411.8,272.6 L413.1,272.7 L414.3,272.8 L415.6,272.9 L415.6,272.9 L416.8,272.9 L418.1,272.9 L419.3,272.9 L420.6,272.9 L421.8,272.9 L423.1,272.9 L424.4,272.9 L425.6,272.9 L426.9,272.9 L428.1,272.9 L429.4,272.9 L429.4,269.3 L430.6,269.3 L431.9,269.3 L433.1,269.3 L434.4,269.3 L435.7,269.3 L436.9,269.3 L438.2,269.3 L439.4,269.3 L440.7,269.3 L441.9,269.3 L443.2,269.3 L443.2,263.3 L444.4,263.4 L445.7,263.6 L447.0,263.7 L448.2,263.9 L449.5,264.0 L450.7,264.2 L452.0,264.3 L453.2,264.5 L454.5,264.6 L455.7,264.7 L457.0,264.9 L457.0,270.3 L458.2,270.7 L459.5,271.0 L460.8,271.4 L462.0,271.7 L463.3,272.0 L464.5,272.4 L465.8,272.7 L467.0,273.0 L468.3,273.3 L469.5,273.6 L470.8,273.9" fill="none" stroke="#0000ff" stroke-width="3" stroke-linejoin="round" />
<text x="53.6" y="238.6" font-family="Liberation Sans" font-size="13.5" text-anchor="end" >10</text>
<text x="53.6" y="278.7" font-family="Liberation Sans" font-size="13.5" text-anchor="end" >8</text>
<line x1="56.6" y1="273.9" x2="60.6" y2="273.9" stroke="#c4c4c4" stroke-width="1"/>
<line x1="466.8" y1="273.9" x2="470.8" y2="273.9" stroke="#c4c4c4" stroke-width="1"/>
<text x="53.6" y="318.8" font-family="Liberation Sans" font-size="13.5" text-anchor="end" >6</text>
<line x1="56.6" y1="314.0" x2="60.6" y2="314.0" stroke="#c4c4c4" stroke-width="1"/>
<line x1="466.8" y1="314.0" x2="470.8" y2="314.0" stroke="#c4c4c4" stroke-width="1"/>
<text x="53.6" y="358.9" font-family="Liberation Sans" font-size="13.5" text-anchor="end" >4</text>
<line x1="56.6" y1="354.1" x2="60.6" y2="354.1" stroke="#c4c4c4" stroke-width="1"/>
<line x1="466.8" y1="354.1" x2="470.8" y2="354.1" stroke="#c4c4c4" stroke-width="1"/>
<text x="53.6" y="399.0" font-family="Liberation Sans" font-size="13.5" text-anchor="end" >2</text>
<text x="56.6" y="408.2" font-family="Liberation Sans" font-size="13.5" text-anchor="middle" >0</text>
<text x="125.6" y="408.2" font-family="Liberation Sans" font-size="13.5" text-anchor="middle" >50</text>
<line x1="125.6" y1="233.8" x2="125.6" y2="237.8" stroke="#c4c4c4" stroke-width="1"/>
<line x1="125.6" y1="390.2" x2="125.6" y2="394.2" stroke="#c4c4c4" stroke-width="1"/>
<text x="194.7" y="408.2" font-family="Liberation Sans" font-size="13.5" text-anchor="middle" >100</text>
<line x1="194.7" y1="233.8" x2="194.7" y2="237.8" stroke="#c4c4c4" stroke-width="1"/>
<line x1="194.7" y1="390.2" x2="194.7" y2="394.2" stroke="#c4c4c4" stroke-width="1"/>
<text x="263.7" y="408.2" font-family="Liberation Sans" font-size="13.5" text-anchor="middle" >150</text>
<line x1="263.7" y1="233.8" x2="263.7" y2="237.8" stroke="#c4c4c4" stroke-width="1"/>
<line x1="263.7" y1="390.2" x2="263.7" y2="394.2" stroke="#c4c4c4" stroke-width="1"/>
<text x="332.7" y="408.2" font-family="Liberation Sans" font-size="13.5" text-anchor="middle" >200</text>
<line x1="332.7" y1="233.8" x2="332.7" y2="237.8" stroke="#c4c4c4" stroke-width="1"/>
<line x1="332.7" y1="390.2" x2="332.7" y2="394.2" stroke="#c4c4c4" stroke-width="1"/>
<text x="401.8" y="408.2" font-family="Liberation Sans" font-size="13.5" text-anchor="middle" >250</text>
<line x1="401.8" y1="233.8" x2="401.8" y2="237.8" stroke="#c4c4c4" stroke-width="1"/>
<line x1="401.8" y1="390.2" x2="401.8" y2="394.2" stroke="#c4c4c4" stroke-width="1"/>
<text x="470.8" y="408.2" font-family="Liberation Sans" font-size="13.5" text-anchor="middle" >300</text>
<text x="56.5" y="229.5" font-family="Liberation Sans" font-size="13" text-anchor="start" >x 10</text>
<text x="81.5" y="220.8" font-family="Liberation Sans" font-size="9.5" text-anchor="start" >-3</text>
<text transform="translate(31.4,314.2) rotate(-90)" font-family="Liberation Sans" font-size="13.5" text-anchor="middle" >[COOH] (mol/L)</text>
<text x="262.9" y="423.5" font-family="Liberation Sans" font-size="13" text-anchor="middle" >Time (min)</text>
<rect x="322.7" y="354.2" width="144.6" height="39" fill="#fff"/>
<line x1="322.7" y1="354.2" x2="467.3" y2="354.2" stroke="#b9b9b9" stroke-width="1"/>
<line x1="322.7" y1="354.2" x2="322.7" y2="393.4" stroke="#b9b9b9" stroke-width="1"/>
<line x1="467.3" y1="354.2" x2="467.3" y2="393.4" stroke="#b9b9b9" stroke-width="1"/>
<line x1="328.3" y1="361.5" x2="354.5" y2="361.5" stroke="#00ff00" stroke-width="3" stroke-opacity="1"/>
<text x="357.1" y="364.9" font-family="Liberation Serif" font-size="16" font-weight="bold">x</text>
<text x="367.1" y="367.5" font-family="Liberation Serif" font-size="11.5" font-weight="bold">3</text>
<line x1="328.3" y1="378.2" x2="354.5" y2="378.2" stroke="#0000ff" stroke-width="3" stroke-opacity="1"/>
<text x="357.1" y="381.59999999999997" font-family="Liberation Serif" font-size="16" font-weight="bold">ŷ</text>
<text x="367.1" y="384.2" font-family="Liberation Serif" font-size="11.5" font-weight="bold">4</text>
<text x="380.6" y="381.59999999999997" font-family="Liberation Serif" font-size="16" textLength="78" lengthAdjust="spacingAndGlyphs">under noise</text>
<text x="254.6" y="464" font-family="Liberation Serif" font-size="26" text-anchor="middle" >(a)</text>
<line x1="588.3" y1="15" x2="1003.3" y2="15" stroke="#b9b9b9" stroke-width="1"/>
<line x1="1003.3" y1="15" x2="1003.3" y2="171.8" stroke="#b9b9b9" stroke-width="1"/>
<path d="M588.3,55.4 L589.0,55.9 L589.7,56.3 L590.4,56.8 L591.1,57.2 L591.8,57.7 L592.5,58.1 L593.1,58.6 L593.8,59.0 L594.5,59.5 L595.2,59.9 L595.9,60.4 L596.6,60.8 L597.3,61.3 L598.0,61.7 L598.7,62.2 L599.4,62.6 L600.1,63.0 L600.8,63.5 L601.5,63.9 L602.2,64.3 L602.8,64.8 L603.5,65.2 L604.2,65.6 L604.9,66.1 L605.6,66.5 L606.3,66.9 L607.0,67.4 L607.7,67.8 L608.4,68.2 L609.1,68.6 L609.8,69.0 L610.5,69.5 L611.2,69.9 L611.9,70.3 L612.5,70.7 L613.2,71.1 L613.9,71.5 L614.6,71.9 L615.3,72.4 L616.0,72.8 L616.7,73.2 L617.4,73.6 L618.1,74.0 L618.8,74.4 L619.5,74.8 L620.2,75.2 L620.9,75.6 L621.6,76.0 L622.2,76.4 L622.9,76.8 L623.6,77.2 L624.3,77.6 L625.0,78.0 L625.7,78.4 L626.4,78.8 L627.1,79.2 L627.8,79.6 L628.5,80.0 L629.2,80.4 L629.9,80.8 L630.6,81.2 L631.3,81.6 L631.9,82.0 L632.6,82.3 L633.3,82.7 L634.0,83.1 L634.7,83.5 L635.4,83.9 L636.1,84.2 L636.8,84.6 L637.5,85.0 L638.2,85.3 L638.9,85.7 L639.6,86.1 L640.3,86.4 L641.0,86.8 L641.6,87.1 L642.3,87.5 L643.0,87.8 L643.7,88.2 L644.4,88.5 L645.1,88.9 L645.8,89.2 L646.5,89.5 L647.2,89.9 L647.9,90.2 L648.6,90.5 L649.3,90.9 L650.0,91.2 L650.7,91.5 L651.3,91.9 L652.0,92.2 L652.7,92.5 L653.4,92.8 L654.1,93.2 L654.8,93.5 L655.5,93.8 L656.2,94.1 L656.9,94.4 L657.6,94.7 L658.3,95.0 L659.0,95.3 L659.7,95.7 L660.4,96.0 L661.0,96.3 L661.7,96.5 L662.4,96.8 L663.1,97.1 L663.8,97.4 L664.5,97.7 L665.2,98.0 L665.9,98.3 L666.6,98.5 L667.3,98.8 L668.0,99.1 L668.7,99.3 L669.4,99.6 L670.1,99.8 L670.7,100.1 L671.4,100.3 L672.1,100.5 L672.8,100.8 L673.5,101.0 L674.2,101.2 L674.9,101.5 L675.6,101.7 L676.3,101.9 L677.0,102.2 L677.7,102.4 L678.4,102.6 L679.1,102.8 L679.8,103.0 L680.4,103.3 L681.1,103.5 L681.8,103.7 L682.5,103.9 L683.2,104.1 L683.9,104.3 L684.6,104.5 L685.3,104.7 L686.0,104.9 L686.7,105.1 L687.4,105.3 L688.1,105.5 L688.8,105.7 L689.5,105.9 L690.1,106.0 L690.8,106.2 L691.5,106.4 L692.2,106.6 L692.9,106.7 L693.6,106.9 L694.3,107.1 L695.0,107.2 L695.7,107.4 L696.4,107.5 L697.1,107.7 L697.8,107.8 L698.5,108.0 L699.2,108.1 L699.8,108.3 L700.5,108.4 L701.2,108.5 L701.9,108.7 L702.6,108.8 L703.3,108.9 L704.0,109.0 L704.7,109.2 L705.4,109.3 L706.1,109.4 L706.8,109.5 L707.5,109.7 L708.2,109.8 L708.9,109.9 L709.5,110.0 L710.2,110.1 L710.9,110.2 L711.6,110.3 L712.3,110.4 L713.0,110.5 L713.7,110.6 L714.4,110.7 L715.1,110.8 L715.8,110.9 L716.5,111.0 L717.2,111.1 L717.9,111.2 L718.6,111.3 L719.2,111.4 L719.9,111.5 L720.6,111.6 L721.3,111.7 L722.0,111.8 L722.7,111.9 L723.4,112.0 L724.1,112.1 L724.8,112.1 L725.5,112.2 L726.2,112.3 L726.9,112.4 L727.6,112.5 L728.2,112.6 L728.9,112.6 L729.6,112.7 L730.3,112.8 L731.0,112.9 L731.7,113.0 L732.4,113.0 L733.1,113.1 L733.8,113.2 L734.5,113.3 L735.2,113.3 L735.9,113.4 L736.6,113.5 L737.3,113.6 L737.9,113.6 L738.6,113.7 L739.3,113.8 L740.0,113.8 L740.7,113.9 L741.4,114.0 L742.1,114.0 L742.8,114.1 L743.5,114.2 L744.2,114.2 L744.9,114.3 L745.6,114.4 L746.3,114.4 L747.0,114.5 L747.6,114.5 L748.3,114.6 L749.0,114.7 L749.7,114.7 L750.4,114.8 L751.1,114.8 L751.8,114.9 L752.5,114.9 L753.2,115.0 L753.9,115.0 L754.6,115.1 L755.3,115.1 L756.0,115.1 L756.7,115.2 L757.3,115.2 L758.0,115.3 L758.7,115.3 L759.4,115.4 L760.1,115.4 L760.8,115.5 L761.5,115.5 L762.2,115.5 L762.9,115.6 L763.6,115.6 L764.3,115.7 L765.0,115.7 L765.7,115.7 L766.4,115.8 L767.0,115.8 L767.7,115.9 L768.4,115.9 L769.1,115.9 L769.8,116.0 L770.5,116.0 L771.2,116.0 L771.9,116.0 L772.6,116.1 L773.3,116.1 L774.0,116.1 L774.7,116.1 L775.4,116.2 L776.1,116.2 L776.7,116.2 L777.4,116.2 L778.1,116.2 L778.8,116.2 L779.5,116.2 L780.2,116.3 L780.9,116.3 L781.6,116.3 L782.3,116.3 L783.0,116.3 L783.7,116.3 L784.4,116.3 L785.1,116.3 L785.8,116.3 L786.4,116.4 L787.1,116.4 L787.8,116.4 L788.5,116.4 L789.2,116.4 L789.9,116.4 L790.6,116.4 L791.3,116.4 L792.0,116.4 L792.7,116.5 L793.4,116.5 L794.1,116.5 L794.8,116.5 L795.5,116.5 L796.1,116.5 L796.8,116.5 L797.5,116.5 L798.2,116.5 L798.9,116.5 L799.6,116.6 L800.3,116.6 L801.0,116.6 L801.7,116.6 L802.4,116.6 L803.1,116.6 L803.8,116.6 L804.5,116.6 L805.2,116.6 L805.8,116.6 L806.5,116.6 L807.2,116.6 L807.9,116.7 L808.6,116.7 L809.3,116.7 L810.0,116.7 L810.7,116.7 L811.4,116.7 L812.1,116.7 L812.8,116.7 L813.5,116.7 L814.2,116.7 L814.9,116.7 L815.5,116.7 L816.2,116.7 L816.9,116.7 L817.6,116.8 L818.3,116.8 L819.0,116.8 L819.7,116.8 L820.4,116.8 L821.1,116.8 L821.8,116.8 L822.5,116.8 L823.2,116.8 L823.9,116.8 L824.6,116.8 L825.2,116.8 L825.9,116.8 L826.6,116.8 L827.3,116.8 L828.0,116.8 L828.7,116.8 L829.4,116.8 L830.1,116.8 L830.8,116.8 L831.5,116.9 L832.2,116.9 L832.9,116.9 L833.6,116.9 L834.3,116.9 L834.9,116.9 L835.6,116.9 L836.3,116.9 L837.0,116.9 L837.7,116.9 L838.4,116.9 L839.1,116.9 L839.8,116.9 L840.5,116.9 L841.2,116.9 L841.9,116.9 L842.6,116.9 L843.3,116.9 L844.0,116.9 L844.6,116.9 L845.3,116.9 L846.0,116.9 L846.7,116.9 L847.4,116.9 L848.1,116.9 L848.8,116.9 L849.5,116.9 L850.2,116.9 L850.9,116.9 L851.6,116.9 L852.3,116.9 L853.0,116.9 L853.7,116.9 L854.3,116.9 L855.0,116.9 L855.7,116.9 L856.4,116.9 L857.1,116.9 L857.8,116.9 L858.5,116.9 L859.2,116.9 L859.9,116.9 L860.6,116.9 L861.3,116.9 L862.0,116.9 L862.7,116.9 L863.4,116.9 L864.0,116.9 L864.7,116.9 L865.4,116.9 L866.1,116.9 L866.8,116.9 L867.5,116.9 L868.2,116.9 L868.9,116.9 L869.6,116.9 L870.3,116.9 L871.0,116.9 L871.7,116.9 L872.4,116.9 L873.0,116.9 L873.7,116.9 L874.4,116.9 L875.1,116.9 L875.8,116.9 L876.5,116.9 L877.2,116.9 L877.9,116.9 L878.6,116.9 L879.3,116.9 L880.0,116.9 L880.7,116.9 L881.4,116.9 L882.1,116.9 L882.7,116.9 L883.4,116.9 L884.1,116.9 L884.8,116.9 L885.5,116.9 L886.2,116.9 L886.9,116.9 L887.6,116.9 L888.3,116.9 L889.0,116.9 L889.7,116.9 L890.4,116.9 L891.1,116.9 L891.8,116.9 L892.4,116.9 L893.1,116.9 L893.8,116.9 L894.5,116.9 L895.2,116.9 L895.9,116.9 L896.6,116.9 L897.3,116.9 L898.0,116.9 L898.7,116.9 L899.4,116.9 L900.1,116.9 L900.8,116.9 L901.5,116.9 L902.1,116.9 L902.8,116.8 L903.5,116.8 L904.2,116.8 L904.9,116.8 L905.6,116.8 L906.3,116.8 L907.0,116.8 L907.7,116.8 L908.4,116.8 L909.1,116.8 L909.8,116.8 L910.5,116.8 L911.2,116.8 L911.8,116.8 L912.5,116.8 L913.2,116.8 L913.9,116.8 L914.6,116.8 L915.3,116.8 L916.0,116.8 L916.7,116.8 L917.4,116.8 L918.1,116.8 L918.8,116.8 L919.5,116.8 L920.2,116.8 L920.9,116.8 L921.5,116.8 L922.2,116.8 L922.9,116.8 L923.6,116.8 L924.3,116.8 L925.0,116.8 L925.7,116.8 L926.4,116.8 L927.1,116.8 L927.8,116.8 L928.5,116.8 L929.2,116.8 L929.9,116.8 L930.6,116.8 L931.2,116.8 L931.9,116.8 L932.6,116.8 L933.3,116.8 L934.0,116.8 L934.7,116.8 L935.4,116.8 L936.1,116.8 L936.8,116.8 L937.5,116.8 L938.2,116.8 L938.9,116.8 L939.6,116.8 L940.3,116.8 L940.9,116.8 L941.6,116.8 L942.3,116.8 L943.0,116.8 L943.7,116.8 L944.4,116.8 L945.1,116.8 L945.8,116.8 L946.5,116.8 L947.2,116.8 L947.9,116.8 L948.6,116.8 L949.3,116.7 L950.0,116.7 L950.6,116.7 L951.3,116.7 L952.0,116.7 L952.7,116.7 L953.4,116.7 L954.1,116.7 L954.8,116.7 L955.5,116.7 L956.2,116.7 L956.9,116.7 L957.6,116.7 L958.3,116.7 L959.0,116.7 L959.7,116.7 L960.3,116.7 L961.0,116.7 L961.7,116.7 L962.4,116.7 L963.1,116.7 L963.8,116.7 L964.5,116.7 L965.2,116.7 L965.9,116.7 L966.6,116.7 L967.3,116.7 L968.0,116.7 L968.7,116.7 L969.4,116.7 L970.0,116.7 L970.7,116.7 L971.4,116.7 L972.1,116.7 L972.8,116.7 L973.5,116.7 L974.2,116.6 L974.9,116.6 L975.6,116.6 L976.3,116.6 L977.0,116.6 L977.7,116.6 L978.4,116.6 L979.1,116.6 L979.7,116.6 L980.4,116.6 L981.1,116.6 L981.8,116.6 L982.5,116.6 L983.2,116.6 L983.9,116.6 L984.6,116.6 L985.3,116.6 L986.0,116.6 L986.7,116.6 L987.4,116.6 L988.1,116.6 L988.8,116.6 L989.4,116.6 L990.1,116.6 L990.8,116.6 L991.5,116.6 L992.2,116.6 L992.9,116.6 L993.6,116.6 L994.3,116.5 L995.0,116.5 L995.7,116.5 L996.4,116.5 L997.1,116.5 L997.8,116.5 L998.5,116.5 L999.1,116.5 L999.8,116.5 L1000.5,116.5 L1001.2,116.5 L1001.9,116.5 L1002.6,116.5 L1003.3,116.5" fill="none" stroke="#00ff00" stroke-width="3" stroke-linejoin="round" />
<path d="M588.3,55.3 L588.5,63.6 L588.7,61.4 L588.9,61.4 L589.1,68.4 L589.3,46.8 L589.5,51.4 L589.8,46.2 L590.0,55.7 L590.2,64.3 L590.4,56.6 L590.6,60.7 L590.8,42.3 L591.0,58.3 L591.2,50.3 L591.4,71.1 L591.6,64.4 L591.8,65.0 L592.0,57.4 L592.2,62.7 L592.5,63.2 L592.7,55.6 L592.9,54.6 L593.1,57.7 L593.3,54.0 L593.5,54.2 L593.7,56.8 L593.9,53.5 L594.1,65.1 L594.3,47.1 L594.5,65.8 L594.7,54.8 L594.9,55.5 L595.2,49.5 L595.4,58.9 L595.6,58.2 L595.8,61.8 L596.0,56.3 L596.2,61.3 L596.4,74.7 L596.6,64.0 L596.8,56.5 L597.0,68.4 L597.2,60.2 L597.4,65.9 L597.6,66.2 L597.8,58.6 L598.1,46.9 L598.3,59.2 L598.5,66.3 L598.7,59.2 L598.9,65.7 L599.1,70.0 L599.3,58.4 L599.5,72.2 L599.7,75.3 L599.9,71.2 L600.1,72.0 L600.3,71.6 L600.5,80.7 L600.8,64.9 L601.0,63.6 L601.2,68.4 L601.4,56.9 L601.6,52.0 L601.8,57.3 L602.0,67.1 L602.2,68.0 L602.4,52.7 L602.6,50.1 L602.8,62.3 L603.0,63.4 L603.2,64.6 L603.5,70.3 L603.7,74.7 L603.9,67.2 L604.1,70.3 L604.3,57.2 L604.5,56.7 L604.7,67.7 L604.9,71.2 L605.1,71.8 L605.3,70.9 L605.5,72.5 L605.7,72.8 L605.9,53.2 L606.2,61.2 L606.4,70.5 L606.6,71.7 L606.8,55.6 L607.0,76.4 L607.2,64.1 L607.4,65.8 L607.6,69.8 L607.8,73.6 L608.0,56.9 L608.2,75.7 L608.4,68.8 L608.6,62.4 L608.9,66.4 L609.1,51.8 L609.3,63.7 L609.5,70.3 L609.7,63.5 L609.9,66.6 L610.1,68.1 L610.3,69.7 L610.5,77.3 L610.7,69.4 L610.9,67.7 L611.1,74.0 L611.3,86.0 L611.6,67.5 L611.8,74.2 L612.0,58.2 L612.2,80.8 L612.4,75.7 L612.6,81.0 L612.8,70.4 L613.0,63.0 L613.2,77.9 L613.4,77.0 L613.6,64.7 L613.8,60.1 L614.0,75.1 L614.3,70.4 L614.5,92.0 L614.7,67.2 L614.9,68.0 L615.1,71.4 L615.3,59.5 L615.5,65.6 L615.7,85.2 L615.9,71.7 L616.1,68.1 L616.3,63.2 L616.5,77.5 L616.7,78.3 L616.9,75.3 L617.2,70.4 L617.4,75.9 L617.6,76.6 L617.8,68.6 L618.0,78.7 L618.2,57.8 L618.4,64.2 L618.6,72.0 L618.8,73.6 L619.0,65.6 L619.2,77.2 L619.4,82.9 L619.6,78.4 L619.9,76.8 L620.1,81.5 L620.3,78.4 L620.5,66.6 L620.7,73.9 L620.9,85.6 L621.1,67.0 L621.3,76.4 L621.5,73.0 L621.7,69.2 L621.9,68.4 L622.1,77.1 L622.3,78.9 L622.6,79.0 L622.8,65.6 L623.0,74.6 L623.2,79.6 L623.4,84.4 L623.6,82.4 L623.8,83.7 L624.0,85.9 L624.2,83.9 L624.4,71.4 L624.6,78.3 L624.8,72.4 L625.0,59.7 L625.3,65.2 L625.5,94.4 L625.7,69.8 L625.9,61.3 L626.1,74.1 L626.3,90.5 L626.5,78.5 L626.7,82.1 L626.9,77.0 L627.1,78.6 L627.3,89.1 L627.5,85.6 L627.7,78.9 L628.0,86.6 L628.2,88.1 L628.4,78.3 L628.6,82.1 L628.8,82.1 L629.0,75.2 L629.2,89.3 L629.4,79.2 L629.6,75.9 L629.8,67.9 L630.0,71.1 L630.2,92.7 L630.4,72.3 L630.7,84.5 L630.9,78.5 L631.1,85.4 L631.3,86.2 L631.5,75.7 L631.7,79.6 L631.9,82.7 L632.1,82.9 L632.3,81.9 L632.5,79.9 L632.7,87.2 L632.9,92.6 L633.1,86.8 L633.4,77.0 L633.6,85.9 L633.8,83.4 L634.0,86.6 L634.2,97.4 L634.4,81.7 L634.6,83.3 L634.8,76.7 L635.0,81.4 L635.2,79.4 L635.4,96.2 L635.6,86.3 L635.8,79.7 L636.0,99.1 L636.3,74.1 L636.5,91.1 L636.7,92.4 L636.9,89.1 L637.1,82.8 L637.3,83.9 L637.5,82.3 L637.7,91.1 L637.9,67.3 L638.1,81.4 L638.3,86.6 L638.5,81.1 L638.7,71.6 L639.0,83.9 L639.2,80.0 L639.4,92.1 L639.6,96.8 L639.8,86.7 L640.0,71.4 L640.2,84.9 L640.4,79.4 L640.6,91.9 L640.8,99.7 L641.0,89.3 L641.2,102.6 L641.4,98.7 L641.7,92.5 L641.9,80.6 L642.1,89.0 L642.3,77.1 L642.5,96.4 L642.7,89.5 L642.9,99.3 L643.1,91.1 L643.3,74.1 L643.5,94.1 L643.7,96.5 L643.9,102.2 L644.1,82.0 L644.4,82.5 L644.6,90.2 L644.8,81.7 L645.0,79.3 L645.2,81.6 L645.4,110.0 L645.6,85.2 L645.8,82.3 L646.0,86.7 L646.2,90.3 L646.4,100.3 L646.6,97.7 L646.8,96.6 L647.1,90.9 L647.3,91.9 L647.5,85.9 L647.7,79.3 L647.9,106.7 L648.1,87.6 L648.3,99.0 L648.5,88.8 L648.7,90.6 L648.9,90.3 L649.1,80.9 L649.3,91.0 L649.5,94.7 L649.8,98.2 L650.0,95.7 L650.2,99.9 L650.4,94.4 L650.6,92.1 L650.8,77.1 L651.0,88.2 L651.2,104.4 L651.4,93.5 L651.6,98.8 L651.8,91.1 L652.0,87.6 L652.2,108.7 L652.4,95.8 L652.7,104.6 L652.9,97.3 L653.1,91.0 L653.3,76.1 L653.5,94.2 L653.7,81.5 L653.9,76.6 L654.1,103.3 L654.3,99.4 L654.5,98.9 L654.7,94.4 L654.9,93.9 L655.1,97.5 L655.4,95.5 L655.6,95.0 L655.8,100.2 L656.0,75.7 L656.2,101.6 L656.4,89.9 L656.6,101.5 L656.8,104.0 L657.0,88.5 L657.2,101.2 L657.4,101.2 L657.6,89.7 L657.8,91.1 L658.1,96.1 L658.3,78.1 L658.5,91.9 L658.7,96.8 L658.9,92.0 L659.1,83.2 L659.3,92.6 L659.5,107.4 L659.7,106.0 L659.9,94.9 L660.1,89.7 L660.3,95.9 L660.5,96.2 L660.8,91.0 L661.0,93.7 L661.2,101.2 L661.4,103.6 L661.6,77.7 L661.8,104.1 L662.0,97.7 L662.2,105.6 L662.4,96.7 L662.6,100.3 L662.8,109.7 L663.0,74.2 L663.2,109.5 L663.5,98.8 L663.7,83.3 L663.9,76.9 L664.1,100.0 L664.3,89.7 L664.5,105.4 L664.7,99.5 L664.9,96.8 L665.1,105.6 L665.3,99.5 L665.5,103.8 L665.7,104.6 L665.9,100.8 L666.2,104.5 L666.4,104.5 L666.6,88.0 L666.8,96.5 L667.0,97.8 L667.2,95.9 L667.4,86.6 L667.6,94.6 L667.8,101.6 L668.0,100.6 L668.2,110.9 L668.4,94.6 L668.6,96.0 L668.9,95.0 L669.1,97.0 L669.3,94.9 L669.5,85.2 L669.7,102.4 L669.9,107.4 L670.1,108.5 L670.3,91.5 L670.5,98.5 L670.7,114.3 L670.9,99.3 L671.1,102.9 L671.3,99.1 L671.5,108.1 L671.8,107.9 L672.0,118.4 L672.2,104.4 L672.4,104.1 L672.6,91.4 L672.8,97.6 L673.0,95.4 L673.2,98.4 L673.4,90.9 L673.6,110.4 L673.8,93.0 L674.0,103.3 L674.2,91.6 L674.5,104.0 L674.7,114.2 L674.9,95.1 L675.1,104.3 L675.3,101.1 L675.5,103.9 L675.7,105.0 L675.9,96.9 L676.1,100.5 L676.3,97.4 L676.5,95.7 L676.7,92.6 L676.9,109.6 L677.2,96.5 L677.4,107.4 L677.6,106.6 L677.8,94.7 L678.0,110.6 L678.2,95.9 L678.4,107.5 L678.6,113.9 L678.8,97.2 L679.0,95.7 L679.2,95.6 L679.4,120.6 L679.6,100.1 L679.9,93.3 L680.1,109.4 L680.3,101.8 L680.5,103.0 L680.7,95.6 L680.9,86.2 L681.1,97.8 L681.3,95.4 L681.5,91.0 L681.7,95.2 L681.9,96.3 L682.1,109.9 L682.3,109.2 L682.6,107.8 L682.8,99.8 L683.0,94.2 L683.2,106.3 L683.4,107.6 L683.6,111.8 L683.8,104.0 L684.0,103.2 L684.2,106.7 L684.4,97.2 L684.6,98.2 L684.8,109.4 L685.0,94.9 L685.3,104.0 L685.5,110.7 L685.7,106.6 L685.9,108.1 L686.1,96.3 L686.3,104.0 L686.5,102.9 L686.7,109.7 L686.9,108.4 L687.1,105.5 L687.3,119.9 L687.5,109.6 L687.7,103.2 L687.9,100.8 L688.2,105.3 L688.4,101.3 L688.6,118.3 L688.8,110.2 L689.0,103.5 L689.2,100.9 L689.4,97.7 L689.6,103.9 L689.8,116.2 L690.0,112.7 L690.2,105.8 L690.4,107.4 L690.6,92.0 L690.9,112.3 L691.1,104.8 L691.3,117.1 L691.5,105.2 L691.7,102.9 L691.9,108.4 L692.1,101.9 L692.3,117.2 L692.5,109.1 L692.7,109.8 L692.9,109.6 L693.1,104.4 L693.3,110.9 L693.6,108.6 L693.8,120.8 L694.0,107.8 L694.2,110.3 L694.4,104.0 L694.6,104.7 L694.8,105.3 L695.0,117.7 L695.2,108.5 L695.4,115.4 L695.6,106.0 L695.8,105.3 L696.0,93.3 L696.3,114.6 L696.5,124.1 L696.7,106.5 L696.9,119.4 L697.1,115.0 L697.3,103.2 L697.5,114.4 L697.7,101.7 L697.9,106.3 L698.1,118.1 L698.3,110.0 L698.5,99.8 L698.7,119.7 L699.0,100.4 L699.2,107.7 L699.4,106.3 L699.6,107.7 L699.8,102.5 L700.0,96.5 L700.2,123.4 L700.4,101.9 L700.6,102.4 L700.8,90.4 L701.0,109.9 L701.2,119.2 L701.4,120.1 L701.7,130.7 L701.9,121.0 L702.1,112.6 L702.3,109.7 L702.5,120.6 L702.7,109.3 L702.9,111.2 L703.1,102.3 L703.3,110.5 L703.5,125.0 L703.7,109.3 L703.9,112.9 L704.1,91.4 L704.4,120.3 L704.6,112.8 L704.8,120.8 L705.0,111.8 L705.2,103.4 L705.4,99.5 L705.6,113.9 L705.8,109.8 L706.0,102.5 L706.2,109.5 L706.4,105.1 L706.6,115.5 L706.8,106.8 L707.0,100.5 L707.3,109.2 L707.5,105.6 L707.7,121.2 L707.9,106.3 L708.1,99.7 L708.3,109.4 L708.5,107.8 L708.7,111.9 L708.9,111.4 L709.1,101.8 L709.3,109.4 L709.5,109.0 L709.7,100.5 L710.0,105.4 L710.2,111.3 L710.4,97.5 L710.6,101.4 L710.8,106.2 L711.0,109.0 L711.2,113.7 L711.4,99.3 L711.6,112.0 L711.8,114.6 L712.0,121.7 L712.2,106.6 L712.4,102.8 L712.7,98.0 L712.9,114.1 L713.1,119.8 L713.3,104.6 L713.5,113.4 L713.7,116.7 L713.9,117.5 L714.1,107.2 L714.3,115.3 L714.5,110.1 L714.7,103.3 L714.9,112.7 L715.1,113.6 L715.4,103.5 L715.6,114.3 L715.8,126.3 L716.0,99.5 L716.2,116.5 L716.4,118.2 L716.6,111.6 L716.8,113.7 L717.0,109.2 L717.2,121.7 L717.4,104.0 L717.6,110.2 L717.8,96.3 L718.1,113.7 L718.3,114.1 L718.5,98.4 L718.7,104.5 L718.9,114.9 L719.1,107.5 L719.3,101.9 L719.5,92.0 L719.7,113.9 L719.9,126.1 L720.1,107.7 L720.3,114.6 L720.5,114.4 L720.8,110.6 L721.0,112.0 L721.2,112.2 L721.4,104.6 L721.6,130.6 L721.8,132.3 L722.0,113.8 L722.2,125.2 L722.4,105.1 L722.6,109.7 L722.8,120.2 L723.0,102.7 L723.2,101.5 L723.5,114.2 L723.7,96.4 L723.9,125.0 L724.1,117.5 L724.3,113.7 L724.5,117.0 L724.7,104.9 L724.9,104.7 L725.1,118.5 L725.3,119.3 L725.5,113.2 L725.7,111.8 L725.9,108.1 L726.1,123.0 L726.4,100.9 L726.6,105.7 L726.8,108.2 L727.0,100.6 L727.2,102.2 L727.4,104.5 L727.6,120.3 L727.8,126.4 L728.0,115.2 L728.2,100.1 L728.4,107.9 L728.6,111.6 L728.8,110.6 L729.1,109.8 L729.3,116.7 L729.5,97.7 L729.7,108.3 L729.9,114.4 L730.1,118.3 L730.3,115.0 L730.5,113.0 L730.7,111.9 L730.9,107.8 L731.1,113.7 L731.3,111.5 L731.5,107.7 L731.8,122.4 L732.0,122.3 L732.2,110.4 L732.4,118.0 L732.6,122.5 L732.8,115.4 L733.0,114.4 L733.2,117.2 L733.4,100.8 L733.6,102.5 L733.8,117.5 L734.0,115.7 L734.2,124.1 L734.5,109.8 L734.7,122.1 L734.9,121.8 L735.1,128.9 L735.3,107.5 L735.5,111.0 L735.7,115.9 L735.9,115.8 L736.1,106.2 L736.3,109.5 L736.5,103.9 L736.7,131.7 L736.9,113.4 L737.2,113.9 L737.4,109.2 L737.6,114.2 L737.8,120.1 L738.0,111.5 L738.2,113.8 L738.4,130.8 L738.6,121.2 L738.8,115.9 L739.0,110.9 L739.2,114.0 L739.4,108.5 L739.6,116.3 L739.9,109.0 L740.1,108.6 L740.3,111.1 L740.5,105.9 L740.7,115.7 L740.9,133.5 L741.1,109.4 L741.3,101.4 L741.5,121.5 L741.7,113.3 L741.9,129.3 L742.1,117.0 L742.3,121.2 L742.5,108.1 L742.8,101.8 L743.0,112.6 L743.2,119.1 L743.4,107.4 L743.6,101.7 L743.8,109.4 L744.0,110.5 L744.2,111.4 L744.4,113.7 L744.6,132.3 L744.8,114.1 L745.0,110.1 L745.2,105.6 L745.5,120.1 L745.7,101.8 L745.9,125.0 L746.1,113.9 L746.3,102.4 L746.5,115.4 L746.7,113.1 L746.9,123.4 L747.1,102.5 L747.3,115.5 L747.5,113.9 L747.7,121.1 L747.9,105.3 L748.2,108.0 L748.4,129.1 L748.6,118.3 L748.8,102.7 L749.0,116.6 L749.2,108.0 L749.4,108.8 L749.6,104.7 L749.8,121.7 L750.0,110.0 L750.2,115.7 L750.4,114.8 L750.6,102.5 L750.9,108.5 L751.1,120.1 L751.3,102.2 L751.5,116.1 L751.7,113.5 L751.9,119.2 L752.1,119.6 L752.3,120.6 L752.5,114.8 L752.7,116.3 L752.9,109.0 L753.1,110.2 L753.3,121.3 L753.6,109.9 L753.8,122.3 L754.0,122.2 L754.2,108.4 L754.4,118.8 L754.6,108.3 L754.8,117.2 L755.0,108.6 L755.2,117.2 L755.4,115.9 L755.6,106.7 L755.8,130.4 L756.0,122.1 L756.3,102.4 L756.5,117.4 L756.7,111.5 L756.9,130.5 L757.1,114.4 L757.3,117.9 L757.5,113.5 L757.7,119.8 L757.9,110.8 L758.1,108.0 L758.3,111.1 L758.5,111.7 L758.7,119.8 L759.0,115.7 L759.2,111.6 L759.4,111.9 L759.6,108.0 L759.8,116.1 L760.0,99.5 L760.2,113.4 L760.4,124.2 L760.6,112.4 L760.8,110.1 L761.0,115.5 L761.2,108.1 L761.4,109.4 L761.6,120.5 L761.9,110.4 L762.1,130.3 L762.3,119.4 L762.5,114.5 L762.7,110.6 L762.9,113.4 L763.1,97.9 L763.3,117.2 L763.5,122.2 L763.7,119.8 L763.9,112.1 L764.1,120.1 L764.3,120.3 L764.6,114.4 L764.8,118.1 L765.0,123.4 L765.2,119.0 L765.4,112.6 L765.6,115.6 L765.8,116.7 L766.0,103.2 L766.2,116.5 L766.4,114.6 L766.6,98.9 L766.8,102.4 L767.0,129.4 L767.3,116.4 L767.5,126.0 L767.7,112.8 L767.9,127.4 L768.1,120.0 L768.3,110.4 L768.5,117.8 L768.7,127.8 L768.9,134.1 L769.1,119.7 L769.3,112.4 L769.5,109.2 L769.7,121.1 L770.0,124.3 L770.2,117.0 L770.4,115.1 L770.6,122.2 L770.8,119.7 L771.0,119.0 L771.2,104.2 L771.4,113.5 L771.6,130.5 L771.8,115.9 L772.0,134.7 L772.2,119.0 L772.4,113.9 L772.7,118.3 L772.9,120.7 L773.1,110.6 L773.3,118.0 L773.5,112.9 L773.7,127.3 L773.9,112.6 L774.1,117.1 L774.3,104.6 L774.5,105.6 L774.7,115.5 L774.9,109.1 L775.1,113.9 L775.4,118.0 L775.6,120.5 L775.8,105.3 L776.0,114.7 L776.2,121.3 L776.4,111.0 L776.6,106.2 L776.8,110.9 L777.0,128.7 L777.2,116.3 L777.4,128.2 L777.6,113.9 L777.8,125.4 L778.0,105.1 L778.3,114.3 L778.5,116.9 L778.7,129.8 L778.9,119.9 L779.1,124.9 L779.3,113.0 L779.5,113.1 L779.7,126.1 L779.9,127.3 L780.1,125.7 L780.3,125.5 L780.5,112.3 L780.7,132.9 L781.0,117.6 L781.2,126.1 L781.4,122.1 L781.6,102.8 L781.8,101.4 L782.0,104.0 L782.2,116.0 L782.4,125.0 L782.6,114.4 L782.8,122.8 L783.0,106.8 L783.2,111.6 L783.4,109.4 L783.7,116.6 L783.9,107.5 L784.1,115.6 L784.3,120.9 L784.5,112.8 L784.7,109.5 L784.9,112.9 L785.1,107.0 L785.3,108.4 L785.5,122.6 L785.7,119.0 L785.9,105.3 L786.1,114.2 L786.4,119.9 L786.6,122.6 L786.8,121.3 L787.0,124.0 L787.2,116.1 L787.4,116.3 L787.6,114.5 L787.8,124.9 L788.0,123.0 L788.2,130.2 L788.4,125.1 L788.6,110.2 L788.8,105.1 L789.1,105.7 L789.3,109.6 L789.5,121.2 L789.7,105.6 L789.9,100.8 L790.1,115.0 L790.3,122.7 L790.5,122.4 L790.7,129.3 L790.9,116.1 L791.1,112.1 L791.3,114.0 L791.5,106.0 L791.8,111.2 L792.0,126.2 L792.2,132.5 L792.4,126.1 L792.6,118.6 L792.8,114.4 L793.0,118.2 L793.2,101.7 L793.4,120.7 L793.6,122.3 L793.8,115.2 L794.0,116.4 L794.2,103.2 L794.5,122.3 L794.7,122.3 L794.9,94.9 L795.1,111.8 L795.3,118.9 L795.5,129.2 L795.7,109.6 L795.9,116.0 L796.1,127.6 L796.3,119.9 L796.5,114.6 L796.7,112.9 L796.9,116.6 L797.1,110.2 L797.4,124.2 L797.6,109.7 L797.8,120.8 L798.0,123.7 L798.2,125.9 L798.4,117.5 L798.6,116.9 L798.8,119.4 L799.0,117.6 L799.2,125.5 L799.4,116.2 L799.6,132.0 L799.8,138.7 L800.1,112.1 L800.3,120.3 L800.5,108.2 L800.7,122.9 L800.9,120.3 L801.1,115.4 L801.3,109.0 L801.5,117.3 L801.7,132.6 L801.9,129.5 L802.1,120.0 L802.3,112.3 L802.5,116.9 L802.8,110.8 L803.0,106.6 L803.2,109.6 L803.4,121.7 L803.6,119.3 L803.8,118.3 L804.0,108.4 L804.2,106.0 L804.4,124.7 L804.6,114.1 L804.8,126.1 L805.0,111.1 L805.2,124.5 L805.5,118.8 L805.7,113.5 L805.9,113.6 L806.1,131.7 L806.3,124.1 L806.5,114.9 L806.7,118.2 L806.9,104.9 L807.1,130.2 L807.3,127.7 L807.5,113.8 L807.7,120.5 L807.9,95.5 L808.2,124.5 L808.4,120.6 L808.6,118.9 L808.8,123.3 L809.0,119.2 L809.2,109.3 L809.4,111.4 L809.6,115.4 L809.8,123.8 L810.0,116.9 L810.2,111.5 L810.4,119.5 L810.6,107.2 L810.9,132.8 L811.1,119.0 L811.3,109.1 L811.5,118.0 L811.7,125.0 L811.9,120.9 L812.1,132.5 L812.3,105.7 L812.5,129.0 L812.7,116.5 L812.9,123.5 L813.1,130.0 L813.3,107.4 L813.6,105.8 L813.8,113.7 L814.0,103.8 L814.2,101.1 L814.4,117.4 L814.6,125.7 L814.8,113.0 L815.0,120.6 L815.2,145.2 L815.4,119.4 L815.6,114.4 L815.8,115.5 L816.0,120.1 L816.2,114.6 L816.5,122.2 L816.7,118.5 L816.9,123.9 L817.1,118.0 L817.3,116.2 L817.5,109.6 L817.7,106.1 L817.9,114.6 L818.1,113.8 L818.3,119.0 L818.5,116.3 L818.7,113.8 L818.9,134.4 L819.2,119.3 L819.4,126.3 L819.6,108.9 L819.8,124.7 L820.0,126.0 L820.2,120.4 L820.4,110.0 L820.6,126.6 L820.8,111.3 L821.0,104.8 L821.2,104.3 L821.4,117.4 L821.6,113.1 L821.9,123.1 L822.1,122.1 L822.3,127.5 L822.5,119.5 L822.7,117.8 L822.9,116.9 L823.1,110.8 L823.3,110.4 L823.5,111.2 L823.7,118.7 L823.9,110.3 L824.1,116.2 L824.3,125.2 L824.6,98.3 L824.8,110.0 L825.0,109.1 L825.2,116.7 L825.4,105.2 L825.6,111.5 L825.8,134.4 L826.0,106.1 L826.2,116.0 L826.4,118.3 L826.6,114.3 L826.8,107.3 L827.0,124.3 L827.3,101.8 L827.5,109.1 L827.7,114.8 L827.9,111.6 L828.1,125.6 L828.3,114.0 L828.5,131.1 L828.7,116.3 L828.9,128.2 L829.1,119.6 L829.3,114.3 L829.5,114.0 L829.7,124.1 L830.0,112.0 L830.2,115.9 L830.4,110.0 L830.6,100.3 L830.8,120.3 L831.0,121.1 L831.2,106.8 L831.4,119.8 L831.6,114.2 L831.8,101.4 L832.0,108.8 L832.2,121.3 L832.4,124.2 L832.6,119.2 L832.9,137.8 L833.1,118.9 L833.3,110.4 L833.5,104.8 L833.7,127.8 L833.9,112.6 L834.1,113.4 L834.3,110.0 L834.5,110.0 L834.7,113.6 L834.9,120.0 L835.1,120.7 L835.3,119.2 L835.6,123.9 L835.8,112.8 L836.0,108.7 L836.2,116.2 L836.4,100.7 L836.6,123.3 L836.8,120.7 L837.0,120.8 L837.2,108.3 L837.4,112.9 L837.6,116.9 L837.8,108.9 L838.0,108.3 L838.3,115.1 L838.5,117.9 L838.7,111.6 L838.9,124.7 L839.1,133.9 L839.3,121.3 L839.5,115.4 L839.7,114.3 L839.9,129.3 L840.1,119.2 L840.3,121.5 L840.5,118.6 L840.7,112.4 L841.0,128.6 L841.2,115.0 L841.4,118.0 L841.6,100.2 L841.8,133.6 L842.0,122.7 L842.2,116.1 L842.4,110.7 L842.6,112.1 L842.8,103.6 L843.0,120.4 L843.2,110.0 L843.4,120.1 L843.7,120.3 L843.9,131.7 L844.1,118.5 L844.3,119.1 L844.5,120.7 L844.7,112.1 L844.9,115.0 L845.1,119.4 L845.3,125.9 L845.5,122.7 L845.7,114.9 L845.9,126.5 L846.1,114.1 L846.4,105.3 L846.6,129.2 L846.8,117.3 L847.0,113.6 L847.2,107.9 L847.4,113.9 L847.6,130.3 L847.8,116.9 L848.0,134.5 L848.2,117.6 L848.4,126.2 L848.6,117.7 L848.8,113.9 L849.1,114.2 L849.3,115.4 L849.5,108.1 L849.7,107.9 L849.9,120.3 L850.1,127.2 L850.3,118.8 L850.5,117.9 L850.7,110.5 L850.9,126.3 L851.1,125.7 L851.3,108.6 L851.5,118.1 L851.7,115.0 L852.0,106.0 L852.2,130.1 L852.4,126.8 L852.6,120.1 L852.8,128.6 L853.0,113.7 L853.2,119.8 L853.4,128.1 L853.6,115.4 L853.8,120.0 L854.0,110.1 L854.2,122.7 L854.4,126.6 L854.7,110.0 L854.9,111.5 L855.1,117.0 L855.3,128.3 L855.5,113.5 L855.7,111.0 L855.9,116.6 L856.1,126.2 L856.3,105.6 L856.5,116.1 L856.7,127.5 L856.9,117.1 L857.1,115.1 L857.4,123.9 L857.6,108.0 L857.8,133.1 L858.0,121.0 L858.2,114.3 L858.4,117.9 L858.6,116.7 L858.8,114.9 L859.0,107.7 L859.2,115.2 L859.4,103.8 L859.6,127.7 L859.8,108.3 L860.1,111.3 L860.3,110.8 L860.5,122.5 L860.7,115.4 L860.9,128.0 L861.1,113.4 L861.3,118.1 L861.5,116.4 L861.7,114.3 L861.9,125.5 L862.1,126.4 L862.3,127.0 L862.5,106.2 L862.8,119.6 L863.0,108.2 L863.2,108.0 L863.4,103.0 L863.6,109.6 L863.8,121.5 L864.0,127.6 L864.2,130.3 L864.4,109.9 L864.6,112.1 L864.8,118.7 L865.0,118.0 L865.2,118.6 L865.5,103.4 L865.7,115.4 L865.9,121.4 L866.1,118.9 L866.3,116.0 L866.5,111.3 L866.7,116.2 L866.9,129.2 L867.1,120.7 L867.3,125.0 L867.5,129.7 L867.7,108.5 L867.9,122.0 L868.1,120.4 L868.4,127.1 L868.6,115.0 L868.8,115.1 L869.0,111.7 L869.2,118.2 L869.4,114.6 L869.6,115.5 L869.8,119.3 L870.0,113.8 L870.2,109.5 L870.4,113.5 L870.6,112.4 L870.8,119.9 L871.1,126.2 L871.3,114.0 L871.5,97.8 L871.7,121.1 L871.9,116.1 L872.1,109.4 L872.3,114.7 L872.5,130.9 L872.7,105.1 L872.9,107.6 L873.1,116.1 L873.3,92.6 L873.5,113.0 L873.8,124.1 L874.0,120.7 L874.2,119.4 L874.4,114.0 L874.6,115.3 L874.8,137.7 L875.0,118.4 L875.2,126.9 L875.4,106.9 L875.6,118.5 L875.8,119.4 L876.0,117.8 L876.2,99.9 L876.5,113.3 L876.7,127.8 L876.9,120.8 L877.1,110.6 L877.3,123.3 L877.5,102.1 L877.7,121.1 L877.9,119.2 L878.1,111.8 L878.3,108.7 L878.5,103.8 L878.7,114.8 L878.9,129.9 L879.2,123.2 L879.4,119.7 L879.6,123.7 L879.8,112.0 L880.0,120.6 L880.2,94.1 L880.4,112.7 L880.6,112.8 L880.8,116.0 L881.0,115.2 L881.2,121.0 L881.4,111.7 L881.6,123.6 L881.9,114.5 L882.1,123.2 L882.3,117.3 L882.5,123.0 L882.7,120.0 L882.9,111.7 L883.1,117.8 L883.3,106.3 L883.5,116.7 L883.7,119.3 L883.9,114.2 L884.1,115.1 L884.3,123.9 L884.6,125.6 L884.8,127.3 L885.0,111.9 L885.2,113.1 L885.4,122.4 L885.6,123.2 L885.8,102.3 L886.0,131.6 L886.2,125.3 L886.4,106.8 L886.6,125.3 L886.8,113.2 L887.0,115.5 L887.2,108.9 L887.5,110.2 L887.7,113.5 L887.9,117.2 L888.1,107.9 L888.3,116.0 L888.5,111.0 L888.7,112.4 L888.9,109.7 L889.1,111.7 L889.3,128.8 L889.5,104.1 L889.7,106.4 L889.9,116.0 L890.2,112.7 L890.4,108.4 L890.6,119.6 L890.8,107.5 L891.0,116.4 L891.2,123.8 L891.4,120.8 L891.6,114.2 L891.8,116.5 L892.0,117.8 L892.2,121.1 L892.4,109.1 L892.6,126.2 L892.9,122.2 L893.1,130.8 L893.3,122.9 L893.5,124.4 L893.7,93.7 L893.9,113.1 L894.1,130.8 L894.3,119.4 L894.5,113.0 L894.7,121.8 L894.9,117.1 L895.1,119.5 L895.3,110.9 L895.6,120.5 L895.8,128.2 L896.0,118.3 L896.2,119.9 L896.4,111.1 L896.6,120.2 L896.8,113.3 L897.0,106.0 L897.2,113.2 L897.4,114.6 L897.6,120.7 L897.8,123.8 L898.0,114.9 L898.3,113.6 L898.5,121.3 L898.7,109.5 L898.9,113.8 L899.1,114.6 L899.3,115.1 L899.5,111.8 L899.7,129.0 L899.9,123.8 L900.1,115.1 L900.3,105.3 L900.5,112.5 L900.7,121.0 L901.0,101.4 L901.2,135.6 L901.4,115.8 L901.6,116.0 L901.8,121.3 L902.0,105.4 L902.2,116.9 L902.4,116.4 L902.6,121.9 L902.8,108.6 L903.0,121.3 L903.2,125.6 L903.4,118.7 L903.7,112.3 L903.9,109.9 L904.1,102.7 L904.3,112.0 L904.5,120.3 L904.7,128.0 L904.9,124.5 L905.1,125.7 L905.3,112.8 L905.5,113.1 L905.7,104.6 L905.9,111.3 L906.1,107.7 L906.3,114.5 L906.6,121.7 L906.8,115.6 L907.0,113.9 L907.2,121.8 L907.4,128.2 L907.6,124.8 L907.8,103.4 L908.0,129.9 L908.2,113.1 L908.4,105.4 L908.6,113.7 L908.8,124.2 L909.0,96.0 L909.3,126.6 L909.5,118.2 L909.7,120.8 L909.9,105.9 L910.1,112.2 L910.3,107.7 L910.5,125.6 L910.7,110.5 L910.9,119.4 L911.1,111.4 L911.3,103.7 L911.5,123.3 L911.7,125.7 L912.0,128.2 L912.2,112.2 L912.4,116.9 L912.6,121.9 L912.8,119.1 L913.0,118.1 L913.2,134.6 L913.4,113.3 L913.6,123.3 L913.8,112.4 L914.0,127.5 L914.2,114.5 L914.4,108.9 L914.7,122.3 L914.9,116.9 L915.1,113.6 L915.3,114.8 L915.5,111.7 L915.7,120.5 L915.9,119.1 L916.1,129.4 L916.3,111.3 L916.5,127.6 L916.7,120.8 L916.9,105.6 L917.1,128.1 L917.4,102.8 L917.6,120.5 L917.8,102.2 L918.0,118.7 L918.2,113.7 L918.4,114.5 L918.6,101.8 L918.8,110.7 L919.0,125.8 L919.2,121.5 L919.4,116.2 L919.6,115.8 L919.8,111.8 L920.1,128.0 L920.3,116.6 L920.5,125.3 L920.7,105.5 L920.9,105.0 L921.1,127.6 L921.3,110.2 L921.5,115.5 L921.7,120.8 L921.9,124.3 L922.1,122.0 L922.3,121.4 L922.5,129.8 L922.7,119.2 L923.0,124.2 L923.2,117.5 L923.4,118.5 L923.6,131.9 L923.8,115.2 L924.0,97.6 L924.2,117.8 L924.4,118.7 L924.6,131.4 L924.8,114.3 L925.0,108.2 L925.2,118.1 L925.4,131.5 L925.7,114.4 L925.9,127.0 L926.1,121.0 L926.3,122.1 L926.5,110.5 L926.7,117.5 L926.9,110.7 L927.1,117.0 L927.3,111.4 L927.5,125.4 L927.7,112.7 L927.9,114.9 L928.1,99.4 L928.4,109.0 L928.6,135.6 L928.8,113.5 L929.0,104.0 L929.2,116.4 L929.4,114.7 L929.6,112.5 L929.8,114.1 L930.0,112.8 L930.2,123.7 L930.4,107.1 L930.6,118.1 L930.8,123.0 L931.1,109.5 L931.3,134.0 L931.5,116.9 L931.7,115.6 L931.9,112.1 L932.1,122.5 L932.3,104.0 L932.5,120.9 L932.7,133.6 L932.9,119.1 L933.1,123.0 L933.3,109.4 L933.5,122.7 L933.8,110.7 L934.0,113.3 L934.2,116.7 L934.4,131.6 L934.6,112.2 L934.8,101.7 L935.0,117.8 L935.2,122.9 L935.4,122.0 L935.6,118.7 L935.8,127.6 L936.0,123.9 L936.2,123.6 L936.5,113.7 L936.7,105.7 L936.9,129.7 L937.1,110.4 L937.3,127.1 L937.5,126.3 L937.7,108.1 L937.9,112.2 L938.1,120.5 L938.3,124.8 L938.5,109.8 L938.7,114.9 L938.9,109.2 L939.2,107.7 L939.4,117.9 L939.6,113.5 L939.8,101.4 L940.0,120.3 L940.2,114.1 L940.4,114.0 L940.6,106.7 L940.8,122.6 L941.0,119.4 L941.2,119.4 L941.4,116.5 L941.6,119.8 L941.8,129.4 L942.1,118.4 L942.3,118.9 L942.5,113.5 L942.7,122.2 L942.9,115.2 L943.1,111.4 L943.3,125.9 L943.5,115.7 L943.7,110.3 L943.9,111.5 L944.1,113.0 L944.3,108.6 L944.5,128.3 L944.8,121.6 L945.0,106.4 L945.2,126.1 L945.4,114.2 L945.6,119.1 L945.8,114.1 L946.0,120.3 L946.2,120.0 L946.4,122.9 L946.6,123.4 L946.8,97.0 L947.0,112.9 L947.2,116.5 L947.5,115.1 L947.7,105.3 L947.9,113.6 L948.1,115.0 L948.3,100.5 L948.5,109.6 L948.7,121.9 L948.9,110.4 L949.1,114.7 L949.3,116.1 L949.5,120.0 L949.7,121.8 L949.9,124.3 L950.2,117.1 L950.4,117.8 L950.6,115.2 L950.8,117.9 L951.0,115.5 L951.2,122.2 L951.4,121.9 L951.6,105.8 L951.8,98.9 L952.0,119.8 L952.2,112.4 L952.4,104.5 L952.6,123.8 L952.9,128.1 L953.1,107.6 L953.3,109.1 L953.5,111.1 L953.7,110.2 L953.9,115.4 L954.1,107.6 L954.3,116.1 L954.5,113.2 L954.7,124.4 L954.9,115.5 L955.1,123.1 L955.3,127.8 L955.6,120.3 L955.8,121.3 L956.0,112.5 L956.2,116.3 L956.4,133.9 L956.6,126.9 L956.8,116.5 L957.0,113.2 L957.2,115.0 L957.4,124.7 L957.6,100.3 L957.8,118.1 L958.0,106.0 L958.2,127.2 L958.5,105.1 L958.7,123.3 L958.9,113.9 L959.1,116.3 L959.3,129.0 L959.5,116.1 L959.7,121.5 L959.9,119.2 L960.1,107.3 L960.3,115.9 L960.5,123.8 L960.7,119.0 L960.9,117.8 L961.2,110.7 L961.4,128.3 L961.6,112.0 L961.8,130.3 L962.0,117.8 L962.2,121.8 L962.4,105.4 L962.6,117.2 L962.8,109.0 L963.0,117.0 L963.2,125.8 L963.4,119.2 L963.6,118.4 L963.9,124.0 L964.1,107.2 L964.3,117.3 L964.5,111.8 L964.7,125.1 L964.9,111.1 L965.1,129.2 L965.3,132.4 L965.5,100.2 L965.7,115.4 L965.9,104.3 L966.1,126.3 L966.3,109.9 L966.6,121.6 L966.8,119.2 L967.0,109.5 L967.2,104.9 L967.4,125.4 L967.6,112.1 L967.8,118.8 L968.0,127.8 L968.2,116.5 L968.4,114.4 L968.6,108.8 L968.8,120.4 L969.0,110.4 L969.3,103.6 L969.5,112.2 L969.7,111.8 L969.9,104.0 L970.1,114.8 L970.3,123.0 L970.5,121.2 L970.7,132.5 L970.9,125.5 L971.1,118.7 L971.3,100.9 L971.5,118.5 L971.7,126.3 L972.0,114.6 L972.2,128.0 L972.4,109.6 L972.6,118.9 L972.8,123.3 L973.0,130.1 L973.2,116.4 L973.4,132.2 L973.6,114.0 L973.8,102.8 L974.0,115.9 L974.2,127.6 L974.4,114.1 L974.7,129.7 L974.9,115.2 L975.1,131.7 L975.3,99.4 L975.5,134.8 L975.7,100.7 L975.9,116.3 L976.1,107.4 L976.3,119.3 L976.5,115.0 L976.7,114.4 L976.9,121.7 L977.1,124.4 L977.3,114.1 L977.6,126.5 L977.8,103.0 L978.0,108.3 L978.2,105.9 L978.4,120.5 L978.6,123.9 L978.8,113.3 L979.0,111.6 L979.2,107.1 L979.4,122.0 L979.6,125.7 L979.8,112.2 L980.0,115.2 L980.3,113.4 L980.5,116.4 L980.7,120.3 L980.9,99.0 L981.1,112.3 L981.3,123.1 L981.5,109.4 L981.7,126.7 L981.9,127.9 L982.1,109.1 L982.3,110.4 L982.5,127.1 L982.7,103.6 L983.0,108.3 L983.2,103.7 L983.4,116.9 L983.6,119.5 L983.8,120.5 L984.0,118.9 L984.2,105.5 L984.4,126.0 L984.6,116.2 L984.8,113.5 L985.0,130.3 L985.2,117.6 L985.4,119.4 L985.7,123.3 L985.9,132.7 L986.1,116.5 L986.3,122.1 L986.5,98.0 L986.7,108.8 L986.9,133.0 L987.1,132.5 L987.3,115.4 L987.5,109.4 L987.7,105.6 L987.9,107.0 L988.1,111.9 L988.4,102.7 L988.6,115.6 L988.8,115.2 L989.0,106.7 L989.2,106.1 L989.4,107.2 L989.6,112.6 L989.8,114.7 L990.0,121.0 L990.2,102.5 L990.4,113.7 L990.6,116.7 L990.8,119.0 L991.1,123.3 L991.3,113.2 L991.5,126.4 L991.7,134.8 L991.9,120.1 L992.1,128.9 L992.3,124.4 L992.5,120.2 L992.7,115.0 L992.9,118.7 L993.1,133.0 L993.3,117.3 L993.5,110.6 L993.8,112.8 L994.0,122.9 L994.2,111.7 L994.4,124.0 L994.6,122.6 L994.8,118.6 L995.0,130.0 L995.2,106.5 L995.4,112.5 L995.6,115.4 L995.8,119.9 L996.0,106.1 L996.2,112.3 L996.4,127.1 L996.7,113.6 L996.9,124.0 L997.1,114.8 L997.3,110.7 L997.5,120.7 L997.7,127.0 L997.9,116.2 L998.1,106.2 L998.3,110.3 L998.5,112.9 L998.7,114.4 L998.9,109.0 L999.1,121.9 L999.4,108.0 L999.6,124.2 L999.8,108.0 L1000.0,108.7 L1000.2,125.3 L1000.4,122.0 L1000.6,113.7 L1000.8,111.6 L1001.0,114.5 L1001.2,116.7 L1001.4,118.3 L1001.6,124.6 L1001.8,109.8 L1002.1,116.4 L1002.3,116.9 L1002.5,105.5 L1002.7,125.6 L1002.9,129.6 L1003.1,116.3 L1003.3,102.4" fill="none" stroke="#262684" stroke-width="0.4" stroke-opacity="0.85"/>
<path d="M588.3,40.2 L589.0,40.6 L589.7,41.0 L590.4,41.4 L591.1,41.8 L591.8,42.2 L592.5,42.6 L593.1,43.0 L593.8,43.4 L594.5,43.9 L595.2,44.3 L595.9,44.7 L596.6,45.1 L597.3,45.5 L598.0,45.9 L598.7,46.3 L599.4,46.7 L600.1,47.1 L600.8,47.5 L601.5,48.0 L602.2,48.4 L602.8,48.8 L603.5,49.2 L604.2,49.6 L604.9,50.0 L605.6,50.4 L606.3,50.8 L607.0,51.3 L607.7,51.7 L608.4,52.1 L609.1,52.5 L609.8,52.9 L610.5,53.3 L611.2,53.7 L611.9,54.2 L612.5,54.6 L613.2,55.0 L613.9,55.4 L614.6,55.8 L615.3,56.2 L616.0,56.7 L616.7,57.1 L617.4,57.5 L618.1,57.9 L618.8,58.4 L619.5,58.8 L620.2,59.2 L620.9,59.6 L621.6,60.1 L622.2,60.5 L622.9,60.9 L623.6,61.4 L624.3,61.8 L625.0,62.2 L625.7,62.7 L626.4,63.1 L627.1,63.6 L627.8,64.0 L628.5,64.4 L629.2,64.9 L629.9,65.3 L630.6,65.7 L631.3,66.2 L631.9,66.6 L632.6,67.0 L633.3,67.5 L634.0,67.9 L634.7,68.3 L635.4,68.8 L636.1,69.2 L636.8,69.6 L637.5,70.0 L638.2,70.5 L638.9,70.9 L639.6,71.3 L640.3,71.7 L641.0,72.1 L641.6,72.5 L642.3,73.0 L643.0,73.4 L643.7,73.8 L644.4,74.2 L645.1,74.6 L645.8,75.0 L646.5,75.4 L647.2,75.8 L647.9,76.2 L648.6,76.6 L649.3,76.9 L650.0,77.3 L650.7,77.7 L651.3,78.1 L652.0,78.5 L652.7,78.9 L653.4,79.3 L654.1,79.7 L654.8,80.1 L655.5,80.5 L656.2,80.9 L656.9,81.3 L657.6,81.6 L658.3,82.0 L659.0,82.4 L659.7,82.8 L660.4,83.2 L661.0,83.5 L661.7,83.9 L662.4,84.3 L663.1,84.6 L663.8,85.0 L664.5,85.3 L665.2,85.7 L665.9,86.0 L666.6,86.4 L667.3,86.7 L668.0,87.1 L668.7,87.4 L669.4,87.7 L670.1,88.1 L670.7,88.4 L671.4,88.7 L672.1,89.0 L672.8,89.3 L673.5,89.6 L674.2,90.0 L674.9,90.3 L675.6,90.6 L676.3,90.9 L677.0,91.2 L677.7,91.5 L678.4,91.8 L679.1,92.1 L679.8,92.4 L680.4,92.7 L681.1,93.0 L681.8,93.3 L682.5,93.6 L683.2,93.9 L683.9,94.2 L684.6,94.5 L685.3,94.7 L686.0,95.0 L686.7,95.3 L687.4,95.6 L688.1,95.8 L688.8,96.1 L689.5,96.4 L690.1,96.6 L690.8,96.9 L691.5,97.2 L692.2,97.4 L692.9,97.7 L693.6,97.9 L694.3,98.1 L695.0,98.4 L695.7,98.6 L696.4,98.9 L697.1,99.1 L697.8,99.3 L698.5,99.5 L699.2,99.7 L699.8,100.0 L700.5,100.2 L701.2,100.4 L701.9,100.6 L702.6,100.8 L703.3,101.0 L704.0,101.2 L704.7,101.4 L705.4,101.5 L706.1,101.7 L706.8,101.9 L707.5,102.1 L708.2,102.3 L708.9,102.5 L709.5,102.6 L710.2,102.8 L710.9,103.0 L711.6,103.2 L712.3,103.3 L713.0,103.5 L713.7,103.7 L714.4,103.8 L715.1,104.0 L715.8,104.2 L716.5,104.3 L717.2,104.5 L717.9,104.7 L718.6,104.8 L719.2,105.0 L719.9,105.1 L720.6,105.3 L721.3,105.4 L722.0,105.6 L722.7,105.7 L723.4,105.9 L724.1,106.0 L724.8,106.2 L725.5,106.3 L726.2,106.5 L726.9,106.6 L727.6,106.7 L728.2,106.9 L728.9,107.0 L729.6,107.2 L730.3,107.3 L731.0,107.4 L731.7,107.6 L732.4,107.7 L733.1,107.9 L733.8,108.0 L734.5,108.1 L735.2,108.3 L735.9,108.4 L736.6,108.5 L737.3,108.7 L737.9,108.8 L738.6,108.9 L739.3,109.1 L740.0,109.2 L740.7,109.3 L741.4,109.5 L742.1,109.6 L742.8,109.7 L743.5,109.8 L744.2,109.9 L744.9,110.1 L745.6,110.2 L746.3,110.3 L747.0,110.4 L747.6,110.5 L748.3,110.6 L749.0,110.7 L749.7,110.8 L750.4,110.9 L751.1,111.0 L751.8,111.1 L752.5,111.2 L753.2,111.3 L753.9,111.4 L754.6,111.5 L755.3,111.6 L756.0,111.7 L756.7,111.8 L757.3,111.8 L758.0,111.9 L758.7,112.0 L759.4,112.1 L760.1,112.2 L760.8,112.2 L761.5,112.3 L762.2,112.4 L762.9,112.5 L763.6,112.6 L764.3,112.6 L765.0,112.7 L765.7,112.8 L766.4,112.8 L767.0,112.9 L767.7,113.0 L768.4,113.0 L769.1,113.1 L769.8,113.2 L770.5,113.2 L771.2,113.3 L771.9,113.3 L772.6,113.4 L773.3,113.4 L774.0,113.5 L774.7,113.5 L775.4,113.6 L776.1,113.6 L776.7,113.7 L777.4,113.7 L778.1,113.8 L778.8,113.8 L779.5,113.8 L780.2,113.9 L780.9,113.9 L781.6,113.9 L782.3,114.0 L783.0,114.0 L783.7,114.0 L784.4,114.1 L785.1,114.1 L785.8,114.2 L786.4,114.2 L787.1,114.2 L787.8,114.3 L788.5,114.3 L789.2,114.3 L789.9,114.4 L790.6,114.4 L791.3,114.4 L792.0,114.4 L792.7,114.5 L793.4,114.5 L794.1,114.5 L794.8,114.6 L795.5,114.6 L796.1,114.6 L796.8,114.6 L797.5,114.7 L798.2,114.7 L798.9,114.7 L799.6,114.8 L800.3,114.8 L801.0,114.8 L801.7,114.8 L802.4,114.9 L803.1,114.9 L803.8,114.9 L804.5,114.9 L805.2,114.9 L805.8,115.0 L806.5,115.0 L807.2,115.0 L807.9,115.0 L808.6,115.0 L809.3,115.1 L810.0,115.1 L810.7,115.1 L811.4,115.1 L812.1,115.1 L812.8,115.2 L813.5,115.2 L814.2,115.2 L814.9,115.2 L815.5,115.2 L816.2,115.2 L816.9,115.2 L817.6,115.3 L818.3,115.3 L819.0,115.3 L819.7,115.3 L820.4,115.3 L821.1,115.3 L821.8,115.3 L822.5,115.3 L823.2,115.4 L823.9,115.4 L824.6,115.4 L825.2,115.4 L825.9,115.4 L826.6,115.4 L827.3,115.4 L828.0,115.4 L828.7,115.4 L829.4,115.4 L830.1,115.5 L830.8,115.5 L831.5,115.5 L832.2,115.5 L832.9,115.5 L833.6,115.5 L834.3,115.5 L834.9,115.5 L835.6,115.5 L836.3,115.6 L837.0,115.6 L837.7,115.6 L838.4,115.6 L839.1,115.6 L839.8,115.6 L840.5,115.6 L841.2,115.6 L841.9,115.6 L842.6,115.6 L843.3,115.6 L844.0,115.7 L844.6,115.7 L845.3,115.7 L846.0,115.7 L846.7,115.7 L847.4,115.7 L848.1,115.7 L848.8,115.7 L849.5,115.7 L850.2,115.7 L850.9,115.7 L851.6,115.7 L852.3,115.7 L853.0,115.8 L853.7,115.8 L854.3,115.8 L855.0,115.8 L855.7,115.8 L856.4,115.8 L857.1,115.8 L857.8,115.8 L858.5,115.8 L859.2,115.8 L859.9,115.8 L860.6,115.8 L861.3,115.8 L862.0,115.8 L862.7,115.8 L863.4,115.8 L864.0,115.8 L864.7,115.9 L865.4,115.9 L866.1,115.9 L866.8,115.9 L867.5,115.9 L868.2,115.9 L868.9,115.9 L869.6,115.9 L870.3,115.9 L871.0,115.9 L871.7,115.9 L872.4,115.9 L873.0,115.9 L873.7,115.9 L874.4,115.9 L875.1,115.9 L875.8,115.9 L876.5,115.9 L877.2,115.9 L877.9,115.9 L878.6,115.9 L879.3,115.9 L880.0,115.9 L880.7,115.9 L881.4,115.9 L882.1,115.9 L882.7,115.9 L883.4,115.9 L884.1,115.9 L884.8,115.9 L885.5,115.9 L886.2,115.9 L886.9,115.9 L887.6,115.9 L888.3,115.9 L889.0,115.9 L889.7,115.9 L890.4,115.9 L891.1,115.9 L891.8,115.9 L892.4,115.9 L893.1,115.9 L893.8,115.9 L894.5,115.9 L895.2,115.9 L895.9,115.9 L896.6,115.9 L897.3,115.9 L898.0,115.9 L898.7,115.9 L899.4,115.9 L900.1,115.9 L900.8,115.9 L901.5,115.9 L902.1,115.9 L902.8,115.9 L903.5,115.9 L904.2,115.9 L904.9,115.9 L905.6,115.9 L906.3,115.9 L907.0,115.9 L907.7,115.9 L908.4,115.9 L909.1,115.9 L909.8,115.9 L910.5,115.9 L911.2,115.9 L911.8,115.9 L912.5,115.9 L913.2,115.9 L913.9,115.9 L914.6,115.9 L915.3,115.9 L916.0,115.9 L916.7,115.9 L917.4,115.9 L918.1,115.9 L918.8,115.9 L919.5,115.9 L920.2,115.9 L920.9,115.9 L921.5,115.9 L922.2,115.9 L922.9,115.9 L923.6,115.9 L924.3,115.9 L925.0,115.9 L925.7,115.9 L926.4,115.9 L927.1,115.9 L927.8,115.9 L928.5,115.9 L929.2,115.9 L929.9,115.9 L930.6,115.9 L931.2,115.9 L931.9,115.9 L932.6,115.9 L933.3,115.9 L934.0,115.9 L934.7,115.9 L935.4,115.9 L936.1,115.9 L936.8,115.9 L937.5,115.9 L938.2,115.9 L938.9,115.9 L939.6,115.9 L940.3,115.9 L940.9,115.9 L941.6,115.9 L942.3,115.9 L943.0,115.9 L943.7,115.9 L944.4,115.9 L945.1,115.9 L945.8,115.9 L946.5,115.9 L947.2,115.9 L947.9,115.8 L948.6,115.8 L949.3,115.8 L950.0,115.8 L950.6,115.8 L951.3,115.8 L952.0,115.8 L952.7,115.8 L953.4,115.8 L954.1,115.8 L954.8,115.8 L955.5,115.8 L956.2,115.8 L956.9,115.8 L957.6,115.8 L958.3,115.8 L959.0,115.8 L959.7,115.8 L960.3,115.8 L961.0,115.8 L961.7,115.8 L962.4,115.8 L963.1,115.8 L963.8,115.8 L964.5,115.8 L965.2,115.8 L965.9,115.8 L966.6,115.8 L967.3,115.8 L968.0,115.8 L968.7,115.8 L969.4,115.8 L970.0,115.8 L970.7,115.8 L971.4,115.8 L972.1,115.8 L972.8,115.8 L973.5,115.8 L974.2,115.8 L974.9,115.8 L975.6,115.8 L976.3,115.8 L977.0,115.8 L977.7,115.8 L978.4,115.7 L979.1,115.7 L979.7,115.7 L980.4,115.7 L981.1,115.7 L981.8,115.7 L982.5,115.7 L983.2,115.7 L983.9,115.7 L984.6,115.7 L985.3,115.7 L986.0,115.7 L986.7,115.7 L987.4,115.7 L988.1,115.7 L988.8,115.7 L989.4,115.7 L990.1,115.7 L990.8,115.7 L991.5,115.7 L992.2,115.7 L992.9,115.7 L993.6,115.7 L994.3,115.7 L995.0,115.7 L995.7,115.7 L996.4,115.6 L997.1,115.6 L997.8,115.6 L998.5,115.6 L999.1,115.6 L999.8,115.6 L1000.5,115.6 L1001.2,115.6 L1001.9,115.6 L1002.6,115.6 L1003.3,115.6" fill="none" stroke="#000" stroke-width="3.2" stroke-linejoin="round" />
<text x="585.3" y="19.8" font-family="Liberation Sans" font-size="13.5" text-anchor="end" >0.35</text>
<text x="585.3" y="59.6" font-family="Liberation Sans" font-size="13.5" text-anchor="end" >0.3</text>
<line x1="588.3" y1="54.8" x2="592.3" y2="54.8" stroke="#c4c4c4" stroke-width="1"/>
<line x1="999.3" y1="54.8" x2="1003.3" y2="54.8" stroke="#c4c4c4" stroke-width="1"/>
<text x="585.3" y="99.3" font-family="Liberation Sans" font-size="13.5" text-anchor="end" >0.25</text>
<line x1="588.3" y1="94.5" x2="592.3" y2="94.5" stroke="#c4c4c4" stroke-width="1"/>
<line x1="999.3" y1="94.5" x2="1003.3" y2="94.5" stroke="#c4c4c4" stroke-width="1"/>
<text x="585.3" y="139.1" font-family="Liberation Sans" font-size="13.5" text-anchor="end" >0.2</text>
<line x1="588.3" y1="134.2" x2="592.3" y2="134.2" stroke="#c4c4c4" stroke-width="1"/>
<line x1="999.3" y1="134.2" x2="1003.3" y2="134.2" stroke="#c4c4c4" stroke-width="1"/>
<text x="588.3" y="188.7" font-family="Liberation Sans" font-size="13.5" text-anchor="middle" >0</text>
<text x="657.5" y="188.7" font-family="Liberation Sans" font-size="13.5" text-anchor="middle" >50</text>
<line x1="657.5" y1="15" x2="657.5" y2="19" stroke="#c4c4c4" stroke-width="1"/>
<line x1="657.5" y1="170" x2="657.5" y2="174" stroke="#c4c4c4" stroke-width="1"/>
<text x="726.6" y="188.7" font-family="Liberation Sans" font-size="13.5" text-anchor="middle" >100</text>
<line x1="726.6" y1="15" x2="726.6" y2="19" stroke="#c4c4c4" stroke-width="1"/>
<line x1="726.6" y1="170" x2="726.6" y2="174" stroke="#c4c4c4" stroke-width="1"/>
<text x="795.8" y="188.7" font-family="Liberation Sans" font-size="13.5" text-anchor="middle" >150</text>
<line x1="795.8" y1="15" x2="795.8" y2="19" stroke="#c4c4c4" stroke-width="1"/>
<line x1="795.8" y1="170" x2="795.8" y2="174" stroke="#c4c4c4" stroke-width="1"/>
<text x="865.0" y="188.7" font-family="Liberation Sans" font-size="13.5" text-anchor="middle" >200</text>
<line x1="865.0" y1="15" x2="865.0" y2="19" stroke="#c4c4c4" stroke-width="1"/>
<line x1="865.0" y1="170" x2="865.0" y2="174" stroke="#c4c4c4" stroke-width="1"/>
<text x="934.1" y="188.7" font-family="Liberation Sans" font-size="13.5" text-anchor="middle" >250</text>
<line x1="934.1" y1="15" x2="934.1" y2="19" stroke="#c4c4c4" stroke-width="1"/>
<line x1="934.1" y1="170" x2="934.1" y2="174" stroke="#c4c4c4" stroke-width="1"/>
<text x="1003.3" y="188.7" font-family="Liberation Sans" font-size="13.5" text-anchor="middle" >300</text>
<text transform="translate(551.4,95.4) rotate(-90)" font-family="Liberation Sans" font-size="13.5" text-anchor="middle" >[OH] (mol/L)</text>
<text x="794.8" y="202.5" font-family="Liberation Sans" font-size="13" text-anchor="middle" >Time (min)</text>
<rect x="842.5" y="19.3" width="157.2" height="54.4" fill="#fff"/>
<line x1="842.5" y1="19.3" x2="999.7" y2="19.3" stroke="#b9b9b9" stroke-width="1"/>
<line x1="842.5" y1="19.3" x2="842.5" y2="73.7" stroke="#b9b9b9" stroke-width="1"/>
<line x1="999.7" y1="19.3" x2="999.7" y2="73.7" stroke="#b9b9b9" stroke-width="1"/>
<line x1="847.9" y1="26.9" x2="874.2" y2="26.9" stroke="#00ff00" stroke-width="3" stroke-opacity="1"/>
<text x="877" y="30.299999999999997" font-family="Liberation Serif" font-size="16" font-weight="bold">x</text>
<text x="887" y="32.9" font-family="Liberation Serif" font-size="11.5" font-weight="bold">6</text>
<line x1="847.9" y1="43.4" x2="874.2" y2="43.4" stroke="#f0f0f8" stroke-width="1" stroke-opacity="1"/>
<text x="877" y="46.8" font-family="Liberation Serif" font-size="16" font-weight="bold">y</text>
<text x="887" y="49.4" font-family="Liberation Serif" font-size="11.5" font-weight="bold">2</text>
<text x="900.5" y="46.8" font-family="Liberation Serif" font-size="16" textLength="78" lengthAdjust="spacingAndGlyphs">under noise</text>
<line x1="847.9" y1="62.7" x2="874.2" y2="62.7" stroke="#000" stroke-width="3" stroke-opacity="1"/>
<text x="877" y="66.10000000000001" font-family="Liberation Serif" font-size="16" font-weight="bold">y</text>
<text x="887" y="68.7" font-family="Liberation Serif" font-size="11.5" font-weight="bold">2</text>
<text x="900.5" y="66.10000000000001" font-family="Liberation Serif" font-size="16" textLength="90.8" lengthAdjust="spacingAndGlyphs">after filtering</text>
<line x1="588.3" y1="237.3" x2="1003.3" y2="237.3" stroke="#b9b9b9" stroke-width="1"/>
<line x1="588.3" y1="397.3" x2="1003.3" y2="397.3" stroke="#b9b9b9" stroke-width="1"/>
<line x1="1003.3" y1="237.3" x2="1003.3" y2="397.3" stroke="#b9b9b9" stroke-width="1"/>
<path d="M588.3,394.7 L589.7,394.3 L591.1,393.8 L592.4,393.3 L593.8,392.8 L595.2,392.3 L596.6,391.8 L598.0,391.3 L599.4,390.8 L600.8,390.3 L602.1,389.7 L603.5,389.2 L604.9,388.7 L606.3,388.1 L607.7,387.6 L609.0,387.0 L610.4,386.5 L611.8,385.9 L613.2,385.4 L614.6,384.8 L616.0,384.2 L617.3,383.7 L618.7,383.1 L620.1,382.5 L621.5,381.9 L622.9,381.3 L624.3,380.7 L625.6,380.1 L627.0,379.4 L628.4,378.8 L629.8,378.2 L631.2,377.6 L632.6,376.9 L633.9,376.3 L635.3,375.7 L636.7,375.0 L638.1,374.4 L639.5,373.7 L640.9,373.1 L642.2,372.4 L643.6,371.8 L645.0,371.2 L646.4,370.5 L647.8,369.9 L649.2,369.2 L650.5,368.5 L651.9,367.9 L653.3,367.2 L654.7,366.6 L656.1,365.9 L657.5,365.2 L658.8,364.6 L660.2,363.9 L661.6,363.2 L663.0,362.5 L664.4,361.8 L665.8,361.2 L667.1,360.5 L668.5,359.8 L669.9,359.1 L671.3,358.3 L672.7,357.6 L674.1,356.9 L675.4,356.1 L676.8,355.4 L678.2,354.6 L679.6,353.9 L681.0,353.1 L682.4,352.3 L683.8,351.5 L685.1,350.7 L686.5,349.9 L687.9,349.2 L689.3,348.4 L690.7,347.6 L692.0,346.8 L693.4,346.1 L694.8,345.3 L696.2,344.6 L697.6,343.9 L699.0,343.1 L700.3,342.4 L701.7,341.7 L703.1,341.1 L704.5,340.4 L705.9,339.7 L707.3,339.0 L708.6,338.3 L710.0,337.7 L711.4,337.0 L712.8,336.4 L714.2,335.7 L715.6,335.1 L716.9,334.4 L718.3,333.8 L719.7,333.1 L721.1,332.5 L722.5,331.9 L723.9,331.3 L725.2,330.6 L726.6,330.0 L728.0,329.4 L729.4,328.8 L730.8,328.2 L732.2,327.6 L733.5,327.0 L734.9,326.4 L736.3,325.9 L737.7,325.3 L739.1,324.7 L740.5,324.1 L741.8,323.6 L743.2,323.0 L744.6,322.5 L746.0,321.9 L747.4,321.4 L748.8,320.9 L750.1,320.3 L751.5,319.8 L752.9,319.3 L754.3,318.7 L755.7,318.2 L757.1,317.7 L758.4,317.2 L759.8,316.6 L761.2,316.1 L762.6,315.6 L764.0,315.1 L765.4,314.6 L766.8,314.1 L768.1,313.5 L769.5,313.0 L770.9,312.5 L772.3,312.0 L773.7,311.5 L775.0,310.9 L776.4,310.4 L777.8,309.9 L779.2,309.4 L780.6,308.8 L782.0,308.3 L783.3,307.8 L784.7,307.2 L786.1,306.7 L787.5,306.2 L788.9,305.7 L790.3,305.2 L791.6,304.7 L793.0,304.2 L794.4,303.7 L795.8,303.2 L797.2,302.7 L798.6,302.2 L799.9,301.7 L801.3,301.3 L802.7,300.8 L804.1,300.3 L805.5,299.9 L806.9,299.5 L808.2,299.0 L809.6,298.6 L811.0,298.2 L812.4,297.7 L813.8,297.3 L815.2,296.9 L816.5,296.5 L817.9,296.1 L819.3,295.7 L820.7,295.2 L822.1,294.8 L823.5,294.4 L824.8,294.0 L826.2,293.6 L827.6,293.2 L829.0,292.8 L830.4,292.4 L831.8,292.1 L833.1,291.7 L834.5,291.3 L835.9,290.9 L837.3,290.5 L838.7,290.2 L840.1,289.8 L841.4,289.4 L842.8,289.1 L844.2,288.7 L845.6,288.3 L847.0,288.0 L848.4,287.6 L849.8,287.3 L851.1,286.9 L852.5,286.6 L853.9,286.3 L855.3,285.9 L856.7,285.6 L858.0,285.3 L859.4,285.0 L860.8,284.6 L862.2,284.3 L863.6,284.0 L865.0,283.7 L866.3,283.4 L867.7,283.1 L869.1,282.8 L870.5,282.5 L871.9,282.2 L873.3,281.9 L874.6,281.6 L876.0,281.3 L877.4,281.0 L878.8,280.7 L880.2,280.4 L881.6,280.1 L882.9,279.8 L884.3,279.6 L885.7,279.3 L887.1,279.0 L888.5,278.7 L889.9,278.4 L891.2,278.2 L892.6,277.9 L894.0,277.6 L895.4,277.4 L896.8,277.1 L898.2,276.8 L899.5,276.6 L900.9,276.3 L902.3,276.1 L903.7,275.8 L905.1,275.5 L906.5,275.3 L907.8,275.1 L909.2,274.8 L910.6,274.6 L912.0,274.3 L913.4,274.1 L914.8,273.9 L916.1,273.6 L917.5,273.4 L918.9,273.2 L920.3,273.0 L921.7,272.7 L923.1,272.5 L924.5,272.3 L925.8,272.1 L927.2,271.9 L928.6,271.7 L930.0,271.5 L931.4,271.3 L932.8,271.1 L934.1,270.9 L935.5,270.7 L936.9,270.5 L938.3,270.3 L939.7,270.2 L941.0,270.0 L942.4,269.8 L943.8,269.6 L945.2,269.4 L946.6,269.2 L948.0,269.1 L949.3,268.9 L950.7,268.7 L952.1,268.5 L953.5,268.4 L954.9,268.2 L956.3,268.0 L957.6,267.9 L959.0,267.7 L960.4,267.5 L961.8,267.4 L963.2,267.2 L964.6,267.0 L966.0,266.9 L967.3,266.7 L968.7,266.6 L970.1,266.4 L971.5,266.3 L972.9,266.1 L974.2,266.0 L975.6,265.8 L977.0,265.7 L978.4,265.5 L979.8,265.4 L981.2,265.3 L982.5,265.1 L983.9,265.0 L985.3,264.9 L986.7,264.7 L988.1,264.6 L989.5,264.5 L990.8,264.4 L992.2,264.2 L993.6,264.1 L995.0,264.0 L996.4,263.9 L997.8,263.8 L999.1,263.7 L1000.5,263.6 L1001.9,263.5 L1003.3,263.4" fill="none" stroke="#00ff00" stroke-width="3" stroke-linejoin="round" />
<path d="M588.3,314.9 L589.0,314.6 L589.7,314.2 L590.4,313.9 L591.1,313.6 L591.8,313.2 L592.6,312.9 L593.3,312.6 L594.0,312.2 L594.7,311.9 L595.4,311.6 L596.1,311.2 L596.8,310.9 L597.5,310.6 L598.2,310.2 L598.9,309.9 L599.7,309.6 L600.4,309.3 L601.1,308.9 L601.8,308.6 L602.5,308.3 L603.2,307.9 L603.9,307.6 L604.6,307.3 L605.3,306.9 L606.0,306.6 L606.7,306.3 L607.5,305.9 L608.2,305.6 L608.9,305.3 L609.6,304.9 L610.3,304.6 L611.0,304.3 L611.7,303.9 L612.4,303.6 L613.1,303.3 L613.8,302.9 L614.5,302.6 L615.3,302.3 L616.0,301.9 L616.0,376.0 L617.2,375.0 L618.5,374.0 L619.7,372.9 L621.0,371.9 L622.3,370.8 L623.5,369.8 L624.8,368.7 L626.0,367.6 L627.3,366.5 L628.5,365.4 L629.8,364.3 L629.8,370.7 L631.1,369.7 L632.3,368.6 L633.6,367.6 L634.8,366.5 L636.1,365.5 L637.3,364.4 L638.6,363.3 L639.9,362.3 L641.1,361.2 L642.4,360.1 L643.6,359.1 L643.6,371.9 L644.9,370.5 L646.1,369.2 L647.4,367.8 L648.7,366.5 L649.9,365.1 L651.2,363.7 L652.4,362.4 L653.7,361.0 L655.0,359.6 L656.2,358.2 L657.5,356.8 L657.5,355.4 L658.7,354.7 L660.0,354.0 L661.2,353.3 L662.5,352.6 L663.8,351.9 L665.0,351.3 L666.3,350.5 L667.5,349.8 L668.8,349.1 L670.0,348.4 L671.3,347.7 L671.3,358.6 L672.6,357.9 L673.8,357.1 L675.1,356.4 L676.3,355.6 L677.6,354.8 L678.8,354.1 L680.1,353.3 L681.4,352.5 L682.6,351.7 L683.9,350.9 L685.1,350.1 L685.1,350.1 L686.4,349.3 L687.6,348.5 L688.9,347.8 L690.2,347.0 L691.4,346.2 L692.7,345.5 L693.9,344.7 L695.2,344.0 L696.5,343.2 L697.7,342.5 L699.0,341.8 L699.0,347.1 L700.2,346.4 L701.5,345.8 L702.7,345.2 L704.0,344.6 L705.3,344.0 L706.5,343.4 L707.8,342.8 L709.0,342.2 L710.3,341.7 L711.5,341.1 L712.8,340.5 L712.8,341.3 L714.1,340.7 L715.3,340.2 L716.6,339.6 L717.8,339.1 L719.1,338.6 L720.3,338.0 L721.6,337.5 L722.9,337.0 L724.1,336.4 L725.4,335.9 L726.6,335.4 L726.6,327.9 L727.9,327.3 L729.1,326.8 L730.4,326.3 L731.7,325.8 L732.9,325.3 L734.2,324.8 L735.4,324.3 L736.7,323.9 L738.0,323.4 L739.2,322.9 L740.5,322.4 L740.5,327.1 L741.7,326.5 L743.0,326.0 L744.2,325.4 L745.5,324.9 L746.8,324.4 L748.0,323.9 L749.3,323.4 L750.5,322.8 L751.8,322.3 L753.0,321.8 L754.3,321.3 L754.3,314.4 L755.6,314.0 L756.8,313.6 L758.1,313.2 L759.3,312.8 L760.6,312.4 L761.8,312.0 L763.1,311.6 L764.4,311.2 L765.6,310.8 L766.9,310.3 L768.1,309.9 L768.1,324.2 L769.4,323.6 L770.6,323.1 L771.9,322.5 L773.2,322.0 L774.4,321.4 L775.7,320.9 L776.9,320.3 L778.2,319.8 L779.5,319.2 L780.7,318.7 L782.0,318.1 L782.0,309.9 L783.2,309.4 L784.5,308.8 L785.7,308.3 L787.0,307.7 L788.3,307.2 L789.5,306.7 L790.8,306.1 L792.0,305.6 L793.3,305.1 L794.5,304.5 L795.8,304.0 L795.8,304.5 L797.1,304.3 L798.3,304.0 L799.6,303.8 L800.8,303.5 L802.1,303.3 L803.3,303.1 L804.6,302.8 L805.9,302.6 L807.1,302.4 L808.4,302.2 L809.6,301.9 L809.6,298.3 L810.9,297.9 L812.1,297.5 L813.4,297.1 L814.7,296.7 L815.9,296.3 L817.2,296.0 L818.4,295.6 L819.7,295.2 L821.0,294.8 L822.2,294.5 L823.5,294.1 L823.5,294.1 L824.7,293.7 L826.0,293.4 L827.2,293.0 L828.5,292.7 L829.8,292.3 L831.0,292.0 L832.3,291.6 L833.5,291.3 L834.8,290.9 L836.0,290.6 L837.3,290.3 L837.3,284.8 L838.6,284.6 L839.8,284.3 L841.1,284.1 L842.3,283.9 L843.6,283.6 L844.8,283.4 L846.1,283.2 L847.4,282.9 L848.6,282.7 L849.9,282.5 L851.1,282.3 L851.1,292.3 L852.4,292.1 L853.6,291.9 L854.9,291.6 L856.2,291.4 L857.4,291.1 L858.7,290.9 L859.9,290.7 L861.2,290.4 L862.5,290.2 L863.7,290.0 L865.0,289.8 L865.0,281.6 L866.2,281.3 L867.5,281.0 L868.7,280.7 L870.0,280.4 L871.3,280.1 L872.5,279.8 L873.8,279.5 L875.0,279.2 L876.3,278.9 L877.5,278.6 L878.8,278.3 L878.8,284.8 L880.1,284.6 L881.3,284.4 L882.6,284.2 L883.8,284.0 L885.1,283.8 L886.3,283.6 L887.6,283.4 L888.9,283.2 L890.1,283.0 L891.4,282.8 L892.6,282.6 L892.6,271.9 L893.9,271.8 L895.1,271.6 L896.4,271.5 L897.7,271.4 L898.9,271.3 L900.2,271.2 L901.4,271.1 L902.7,271.0 L904.0,270.9 L905.2,270.8 L906.5,270.7 L906.5,281.6 L907.7,281.5 L909.0,281.4 L910.2,281.3 L911.5,281.2 L912.8,281.1 L914.0,281.0 L915.3,280.9 L916.5,280.8 L917.8,280.7 L919.0,280.6 L920.3,280.5 L920.3,275.5 L921.6,275.4 L922.8,275.2 L924.1,275.1 L925.3,274.9 L926.6,274.8 L927.8,274.6 L929.1,274.5 L930.4,274.4 L931.6,274.2 L932.9,274.1 L934.1,273.9 L934.1,276.2 L935.4,276.0 L936.6,275.8 L937.9,275.6 L939.2,275.3 L940.4,275.1 L941.7,274.9 L942.9,274.7 L944.2,274.5 L945.5,274.3 L946.7,274.1 L948.0,273.9 L948.0,268.7 L949.2,268.6 L950.5,268.5 L951.7,268.4 L953.0,268.3 L954.3,268.2 L955.5,268.1 L956.8,268.0 L958.0,268.0 L959.3,267.9 L960.5,267.8 L961.8,267.7 L961.8,267.7 L963.1,267.5 L964.3,267.3 L965.6,267.1 L966.8,266.9 L968.1,266.6 L969.3,266.4 L970.6,266.2 L971.9,266.0 L973.1,265.8 L974.4,265.7 L975.6,265.5 L975.6,263.4 L976.9,263.3 L978.1,263.2 L979.4,263.1 L980.7,263.0 L981.9,262.8 L983.2,262.7 L984.4,262.6 L985.7,262.5 L987.0,262.4 L988.2,262.4 L989.5,262.3 L989.5,269.8 L990.7,269.5 L992.0,269.1 L993.2,268.8 L994.5,268.5 L995.8,268.2 L997.0,267.9 L998.3,267.7 L999.5,267.4 L1000.8,267.1 L1002.0,266.8 L1003.3,266.6" fill="none" stroke="#0000ff" stroke-width="3" stroke-linejoin="round" />
<text x="585.3" y="242.1" font-family="Liberation Sans" font-size="13.5" text-anchor="end" >0.015</text>
<text x="585.3" y="322.1" font-family="Liberation Sans" font-size="13.5" text-anchor="end" >0.01</text>
<line x1="588.3" y1="317.3" x2="592.3" y2="317.3" stroke="#c4c4c4" stroke-width="1"/>
<line x1="999.3" y1="317.3" x2="1003.3" y2="317.3" stroke="#c4c4c4" stroke-width="1"/>
<text x="585.3" y="402.1" font-family="Liberation Sans" font-size="13.5" text-anchor="end" >0.005</text>
<text x="588.3" y="411.3" font-family="Liberation Sans" font-size="13.5" text-anchor="middle" >0</text>
<text x="657.5" y="411.3" font-family="Liberation Sans" font-size="13.5" text-anchor="middle" >50</text>
<line x1="657.5" y1="237.3" x2="657.5" y2="241.3" stroke="#c4c4c4" stroke-width="1"/>
<line x1="657.5" y1="393.3" x2="657.5" y2="397.3" stroke="#c4c4c4" stroke-width="1"/>
<text x="726.6" y="411.3" font-family="Liberation Sans" font-size="13.5" text-anchor="middle" >100</text>
<line x1="726.6" y1="237.3" x2="726.6" y2="241.3" stroke="#c4c4c4" stroke-width="1"/>
<line x1="726.6" y1="393.3" x2="726.6" y2="397.3" stroke="#c4c4c4" stroke-width="1"/>
<text x="795.8" y="411.3" font-family="Liberation Sans" font-size="13.5" text-anchor="middle" >150</text>
<line x1="795.8" y1="237.3" x2="795.8" y2="241.3" stroke="#c4c4c4" stroke-width="1"/>
<line x1="795.8" y1="393.3" x2="795.8" y2="397.3" stroke="#c4c4c4" stroke-width="1"/>
<text x="865.0" y="411.3" font-family="Liberation Sans" font-size="13.5" text-anchor="middle" >200</text>
<line x1="865.0" y1="237.3" x2="865.0" y2="241.3" stroke="#c4c4c4" stroke-width="1"/>
<line x1="865.0" y1="393.3" x2="865.0" y2="397.3" stroke="#c4c4c4" stroke-width="1"/>
<text x="934.1" y="411.3" font-family="Liberation Sans" font-size="13.5" text-anchor="middle" >250</text>
<line x1="934.1" y1="237.3" x2="934.1" y2="241.3" stroke="#c4c4c4" stroke-width="1"/>
<line x1="934.1" y1="393.3" x2="934.1" y2="397.3" stroke="#c4c4c4" stroke-width="1"/>
<text x="1003.3" y="411.3" font-family="Liberation Sans" font-size="13.5" text-anchor="middle" >300</text>
<text transform="translate(544,317.3) rotate(-90)" font-family="Liberation Sans" font-size="13.5" text-anchor="middle" >[COOH] (mol/L)</text>
<text x="794.6" y="426.4" font-family="Liberation Sans" font-size="13" text-anchor="middle" >Time (min)</text>
<rect x="855" y="357" width="144.5" height="36.5" fill="#fff"/>
<line x1="855" y1="357" x2="999.5" y2="357" stroke="#b9b9b9" stroke-width="1"/>
<line x1="855" y1="393.4" x2="999.5" y2="393.4" stroke="#b9b9b9" stroke-width="1"/>
<line x1="999.5" y1="357" x2="999.5" y2="393.4" stroke="#b9b9b9" stroke-width="1"/>
<line x1="860" y1="364.6" x2="886.8" y2="364.6" stroke="#00ff00" stroke-width="3" stroke-opacity="1"/>
<text x="889" y="368.0" font-family="Liberation Serif" font-size="16" font-weight="bold">x</text>
<text x="899" y="370.6" font-family="Liberation Serif" font-size="11.5" font-weight="bold">7</text>
<line x1="860" y1="381.3" x2="886.8" y2="381.3" stroke="#0000ff" stroke-width="3" stroke-opacity="1"/>
<text x="889" y="384.7" font-family="Liberation Serif" font-size="16" font-weight="bold">ŷ</text>
<text x="899" y="387.3" font-family="Liberation Serif" font-size="11.5" font-weight="bold">5</text>
<text x="912.5" y="384.7" font-family="Liberation Serif" font-size="16" textLength="78" lengthAdjust="spacingAndGlyphs">under noise</text>
<text x="787.6" y="464.5" font-family="Liberation Serif" font-size="26" text-anchor="middle" >(b)</text>
<line x1="474.2" y1="501.8" x2="474.2" y2="661" stroke="#b9b9b9" stroke-width="1"/>
<path d="M57.0,589.9 L57.7,590.0 L58.4,590.2 L59.1,590.4 L59.8,590.5 L60.5,590.7 L61.2,590.9 L61.9,591.0 L62.6,591.2 L63.3,591.3 L64.0,591.5 L64.7,591.7 L65.4,591.8 L66.1,592.0 L66.8,592.2 L67.4,592.3 L68.1,592.5 L68.8,592.6 L69.5,592.8 L70.2,593.0 L70.9,593.1 L71.6,593.3 L72.3,593.5 L73.0,593.6 L73.7,593.8 L74.4,594.0 L75.1,594.1 L75.8,594.3 L76.5,594.5 L77.2,594.6 L77.9,594.8 L78.6,595.0 L79.3,595.1 L80.0,595.3 L80.7,595.5 L81.4,595.6 L82.1,595.8 L82.8,596.0 L83.5,596.1 L84.2,596.3 L84.9,596.5 L85.6,596.6 L86.3,596.8 L86.9,597.0 L87.6,597.1 L88.3,597.3 L89.0,597.5 L89.7,597.7 L90.4,597.8 L91.1,598.0 L91.8,598.2 L92.5,598.3 L93.2,598.5 L93.9,598.7 L94.6,598.8 L95.3,599.0 L96.0,599.2 L96.7,599.3 L97.4,599.5 L98.1,599.7 L98.8,599.8 L99.5,600.0 L100.2,600.2 L100.9,600.3 L101.6,600.5 L102.3,600.7 L103.0,600.8 L103.7,601.0 L104.4,601.2 L105.1,601.4 L105.8,601.5 L106.5,601.7 L107.1,601.9 L107.8,602.0 L108.5,602.2 L109.2,602.4 L109.9,602.5 L110.6,602.7 L111.3,602.9 L112.0,603.0 L112.7,603.2 L113.4,603.4 L114.1,603.5 L114.8,603.7 L115.5,603.9 L116.2,604.0 L116.9,604.2 L117.6,604.4 L118.3,604.5 L119.0,604.7 L119.7,604.8 L120.4,605.0 L121.1,605.2 L121.8,605.3 L122.5,605.5 L123.2,605.7 L123.9,605.8 L124.6,606.0 L125.3,606.2 L126.0,606.3 L126.6,606.5 L127.3,606.6 L128.0,606.8 L128.7,607.0 L129.4,607.1 L130.1,607.3 L130.8,607.5 L131.5,607.6 L132.2,607.8 L132.9,607.9 L133.6,608.1 L134.3,608.3 L135.0,608.4 L135.7,608.6 L136.4,608.7 L137.1,608.9 L137.8,609.0 L138.5,609.2 L139.2,609.4 L139.9,609.5 L140.6,609.7 L141.3,609.8 L142.0,610.0 L142.7,610.1 L143.4,610.3 L144.1,610.4 L144.8,610.6 L145.5,610.8 L146.2,610.9 L146.8,611.1 L147.5,611.2 L148.2,611.4 L148.9,611.5 L149.6,611.7 L150.3,611.8 L151.0,612.0 L151.7,612.1 L152.4,612.3 L153.1,612.4 L153.8,612.6 L154.5,612.7 L155.2,612.8 L155.9,613.0 L156.6,613.1 L157.3,613.3 L158.0,613.4 L158.7,613.6 L159.4,613.7 L160.1,613.9 L160.8,614.0 L161.5,614.1 L162.2,614.3 L162.9,614.4 L163.6,614.6 L164.3,614.7 L165.0,614.8 L165.7,615.0 L166.3,615.1 L167.0,615.3 L167.7,615.4 L168.4,615.5 L169.1,615.7 L169.8,615.8 L170.5,615.9 L171.2,616.1 L171.9,616.2 L172.6,616.3 L173.3,616.5 L174.0,616.6 L174.7,616.7 L175.4,616.9 L176.1,617.0 L176.8,617.1 L177.5,617.2 L178.2,617.4 L178.9,617.5 L179.6,617.6 L180.3,617.7 L181.0,617.9 L181.7,618.0 L182.4,618.1 L183.1,618.2 L183.8,618.4 L184.5,618.5 L185.2,618.6 L185.9,618.7 L186.5,618.8 L187.2,619.0 L187.9,619.1 L188.6,619.2 L189.3,619.3 L190.0,619.4 L190.7,619.5 L191.4,619.6 L192.1,619.8 L192.8,619.9 L193.5,620.0 L194.2,620.1 L194.9,620.2 L195.6,620.3 L196.3,620.4 L197.0,620.5 L197.7,620.6 L198.4,620.7 L199.1,620.8 L199.8,620.9 L200.5,621.0 L201.2,621.1 L201.9,621.2 L202.6,621.3 L203.3,621.5 L204.0,621.6 L204.7,621.7 L205.4,621.7 L206.0,621.8 L206.7,621.9 L207.4,622.0 L208.1,622.1 L208.8,622.2 L209.5,622.3 L210.2,622.4 L210.9,622.5 L211.6,622.6 L212.3,622.7 L213.0,622.8 L213.7,622.9 L214.4,623.0 L215.1,623.1 L215.8,623.2 L216.5,623.2 L217.2,623.3 L217.9,623.4 L218.6,623.5 L219.3,623.6 L220.0,623.7 L220.7,623.8 L221.4,623.8 L222.1,623.9 L222.8,624.0 L223.5,624.1 L224.2,624.2 L224.9,624.3 L225.6,624.3 L226.2,624.4 L226.9,624.5 L227.6,624.6 L228.3,624.6 L229.0,624.7 L229.7,624.8 L230.4,624.9 L231.1,624.9 L231.8,625.0 L232.5,625.1 L233.2,625.2 L233.9,625.2 L234.6,625.3 L235.3,625.4 L236.0,625.5 L236.7,625.5 L237.4,625.6 L238.1,625.7 L238.8,625.7 L239.5,625.8 L240.2,625.9 L240.9,625.9 L241.6,626.0 L242.3,626.1 L243.0,626.1 L243.7,626.2 L244.4,626.3 L245.1,626.3 L245.7,626.4 L246.4,626.5 L247.1,626.5 L247.8,626.6 L248.5,626.6 L249.2,626.7 L249.9,626.8 L250.6,626.8 L251.3,626.9 L252.0,626.9 L252.7,627.0 L253.4,627.0 L254.1,627.1 L254.8,627.2 L255.5,627.2 L256.2,627.3 L256.9,627.3 L257.6,627.4 L258.3,627.4 L259.0,627.5 L259.7,627.5 L260.4,627.6 L261.1,627.6 L261.8,627.7 L262.5,627.7 L263.2,627.8 L263.9,627.8 L264.6,627.9 L265.3,627.9 L265.9,628.0 L266.6,628.0 L267.3,628.1 L268.0,628.1 L268.7,628.2 L269.4,628.2 L270.1,628.3 L270.8,628.3 L271.5,628.3 L272.2,628.4 L272.9,628.4 L273.6,628.5 L274.3,628.5 L275.0,628.5 L275.7,628.6 L276.4,628.6 L277.1,628.7 L277.8,628.7 L278.5,628.7 L279.2,628.8 L279.9,628.8 L280.6,628.9 L281.3,628.9 L282.0,628.9 L282.7,629.0 L283.4,629.0 L284.1,629.0 L284.8,629.1 L285.5,629.1 L286.1,629.1 L286.8,629.2 L287.5,629.2 L288.2,629.2 L288.9,629.3 L289.6,629.3 L290.3,629.3 L291.0,629.4 L291.7,629.4 L292.4,629.4 L293.1,629.5 L293.8,629.5 L294.5,629.5 L295.2,629.5 L295.9,629.6 L296.6,629.6 L297.3,629.6 L298.0,629.6 L298.7,629.7 L299.4,629.7 L300.1,629.7 L300.8,629.8 L301.5,629.8 L302.2,629.8 L302.9,629.8 L303.6,629.8 L304.3,629.9 L305.0,629.9 L305.6,629.9 L306.3,629.9 L307.0,630.0 L307.7,630.0 L308.4,630.0 L309.1,630.0 L309.8,630.0 L310.5,630.1 L311.2,630.1 L311.9,630.1 L312.6,630.1 L313.3,630.1 L314.0,630.1 L314.7,630.2 L315.4,630.2 L316.1,630.2 L316.8,630.2 L317.5,630.2 L318.2,630.2 L318.9,630.3 L319.6,630.3 L320.3,630.3 L321.0,630.3 L321.7,630.3 L322.4,630.3 L323.1,630.3 L323.8,630.4 L324.5,630.4 L325.2,630.4 L325.8,630.4 L326.5,630.4 L327.2,630.4 L327.9,630.4 L328.6,630.4 L329.3,630.4 L330.0,630.5 L330.7,630.5 L331.4,630.5 L332.1,630.5 L332.8,630.5 L333.5,630.5 L334.2,630.5 L334.9,630.5 L335.6,630.5 L336.3,630.5 L337.0,630.5 L337.7,630.5 L338.4,630.6 L339.1,630.6 L339.8,630.6 L340.5,630.6 L341.2,630.6 L341.9,630.6 L342.6,630.6 L343.3,630.6 L344.0,630.6 L344.7,630.6 L345.3,630.6 L346.0,630.6 L346.7,630.6 L347.4,630.6 L348.1,630.6 L348.8,630.6 L349.5,630.6 L350.2,630.6 L350.9,630.6 L351.6,630.6 L352.3,630.6 L353.0,630.6 L353.7,630.6 L354.4,630.6 L355.1,630.6 L355.8,630.6 L356.5,630.6 L357.2,630.6 L357.9,630.6 L358.6,630.6 L359.3,630.6 L360.0,630.6 L360.7,630.6 L361.4,630.6 L362.1,630.6 L362.8,630.6 L363.5,630.6 L364.2,630.6 L364.9,630.6 L365.5,630.6 L366.2,630.6 L366.9,630.6 L367.6,630.6 L368.3,630.6 L369.0,630.6 L369.7,630.6 L370.4,630.6 L371.1,630.5 L371.8,630.5 L372.5,630.5 L373.2,630.5 L373.9,630.5 L374.6,630.5 L375.3,630.5 L376.0,630.5 L376.7,630.5 L377.4,630.5 L378.1,630.5 L378.8,630.5 L379.5,630.5 L380.2,630.5 L380.9,630.5 L381.6,630.4 L382.3,630.4 L383.0,630.4 L383.7,630.4 L384.4,630.4 L385.0,630.4 L385.7,630.4 L386.4,630.4 L387.1,630.4 L387.8,630.4 L388.5,630.4 L389.2,630.3 L389.9,630.3 L390.6,630.3 L391.3,630.3 L392.0,630.3 L392.7,630.3 L393.4,630.3 L394.1,630.3 L394.8,630.3 L395.5,630.3 L396.2,630.2 L396.9,630.2 L397.6,630.2 L398.3,630.2 L399.0,630.2 L399.7,630.2 L400.4,630.2 L401.1,630.2 L401.8,630.2 L402.5,630.1 L403.2,630.1 L403.9,630.1 L404.6,630.1 L405.2,630.1 L405.9,630.1 L406.6,630.1 L407.3,630.1 L408.0,630.0 L408.7,630.0 L409.4,630.0 L410.1,630.0 L410.8,630.0 L411.5,630.0 L412.2,630.0 L412.9,630.0 L413.6,629.9 L414.3,629.9 L415.0,629.9 L415.7,629.9 L416.4,629.9 L417.1,629.9 L417.8,629.9 L418.5,629.8 L419.2,629.8 L419.9,629.8 L420.6,629.8 L421.3,629.8 L422.0,629.8 L422.7,629.8 L423.4,629.7 L424.1,629.7 L424.7,629.7 L425.4,629.7 L426.1,629.7 L426.8,629.7 L427.5,629.7 L428.2,629.6 L428.9,629.6 L429.6,629.6 L430.3,629.6 L431.0,629.6 L431.7,629.6 L432.4,629.6 L433.1,629.5 L433.8,629.5 L434.5,629.5 L435.2,629.5 L435.9,629.5 L436.6,629.5 L437.3,629.5 L438.0,629.4 L438.7,629.4 L439.4,629.4 L440.1,629.4 L440.8,629.4 L441.5,629.4 L442.2,629.4 L442.9,629.3 L443.6,629.3 L444.3,629.3 L444.9,629.3 L445.6,629.3 L446.3,629.3 L447.0,629.3 L447.7,629.2 L448.4,629.2 L449.1,629.2 L449.8,629.2 L450.5,629.2 L451.2,629.2 L451.9,629.2 L452.6,629.1 L453.3,629.1 L454.0,629.1 L454.7,629.1 L455.4,629.1 L456.1,629.1 L456.8,629.1 L457.5,629.0 L458.2,629.0 L458.9,629.0 L459.6,629.0 L460.3,629.0 L461.0,629.0 L461.7,629.0 L462.4,629.0 L463.1,628.9 L463.8,628.9 L464.4,628.9 L465.1,628.9 L465.8,628.9 L466.5,628.9 L467.2,628.9 L467.9,628.9 L468.6,628.8 L469.3,628.8 L470.0,628.8 L470.7,628.8 L471.4,628.8 L472.1,628.8 L472.8,628.8 L473.5,628.8 L474.2,628.7" fill="none" stroke="#00ff00" stroke-width="3" stroke-linejoin="round" />
<path d="M57.0,604.0 L57.2,566.2 L57.4,597.4 L57.6,590.6 L57.8,600.2 L58.0,593.1 L58.3,604.2 L58.5,590.5 L58.7,586.3 L58.9,594.8 L59.1,593.7 L59.3,587.7 L59.5,588.6 L59.7,596.1 L59.9,596.0 L60.1,586.8 L60.3,587.8 L60.5,576.8 L60.8,603.7 L61.0,589.1 L61.2,601.1 L61.4,594.1 L61.6,605.9 L61.8,602.8 L62.0,593.5 L62.2,602.5 L62.4,583.8 L62.6,600.9 L62.8,579.8 L63.1,593.9 L63.3,599.5 L63.5,593.1 L63.7,588.6 L63.9,585.3 L64.1,588.9 L64.3,599.7 L64.5,598.5 L64.7,589.7 L64.9,582.1 L65.1,597.0 L65.3,580.7 L65.6,587.8 L65.8,586.3 L66.0,597.7 L66.2,593.8 L66.4,595.6 L66.6,594.2 L66.8,586.9 L67.0,596.3 L67.2,603.1 L67.4,592.0 L67.6,597.2 L67.9,591.4 L68.1,600.4 L68.3,597.6 L68.5,599.3 L68.7,595.3 L68.9,605.3 L69.1,589.9 L69.3,590.2 L69.5,588.3 L69.7,597.6 L69.9,588.1 L70.1,588.0 L70.4,598.6 L70.6,602.0 L70.8,597.5 L71.0,572.5 L71.2,585.9 L71.4,585.0 L71.6,584.0 L71.8,590.2 L72.0,607.4 L72.2,591.1 L72.4,587.8 L72.7,598.9 L72.9,594.1 L73.1,594.6 L73.3,588.4 L73.5,593.7 L73.7,597.1 L73.9,579.1 L74.1,581.5 L74.3,602.3 L74.5,600.5 L74.7,590.1 L74.9,586.2 L75.2,592.7 L75.4,585.0 L75.6,591.6 L75.8,607.0 L76.0,595.4 L76.2,603.4 L76.4,592.7 L76.6,597.3 L76.8,605.2 L77.0,584.3 L77.2,592.0 L77.5,593.5 L77.7,596.9 L77.9,606.8 L78.1,600.1 L78.3,583.4 L78.5,592.9 L78.7,588.1 L78.9,588.0 L79.1,610.7 L79.3,587.0 L79.5,597.0 L79.7,589.7 L80.0,601.9 L80.2,598.1 L80.4,596.4 L80.6,594.9 L80.8,604.3 L81.0,588.4 L81.2,590.0 L81.4,587.0 L81.6,606.0 L81.8,593.5 L82.0,587.8 L82.3,592.6 L82.5,615.1 L82.7,595.1 L82.9,602.5 L83.1,599.6 L83.3,596.0 L83.5,590.8 L83.7,593.6 L83.9,593.5 L84.1,579.3 L84.3,616.3 L84.5,603.5 L84.8,597.3 L85.0,594.9 L85.2,590.5 L85.4,603.9 L85.6,595.2 L85.8,600.4 L86.0,586.1 L86.2,599.7 L86.4,612.3 L86.6,594.7 L86.8,603.1 L87.1,597.3 L87.3,605.6 L87.5,605.3 L87.7,597.6 L87.9,592.9 L88.1,599.5 L88.3,597.6 L88.5,592.6 L88.7,600.9 L88.9,600.8 L89.1,590.7 L89.3,596.7 L89.6,620.1 L89.8,603.9 L90.0,598.5 L90.2,617.1 L90.4,594.3 L90.6,578.8 L90.8,583.2 L91.0,586.3 L91.2,600.0 L91.4,605.6 L91.6,581.4 L91.9,606.8 L92.1,588.8 L92.3,600.2 L92.5,601.9 L92.7,601.7 L92.9,598.5 L93.1,599.8 L93.3,589.7 L93.5,600.7 L93.7,606.2 L93.9,605.8 L94.1,618.8 L94.4,607.1 L94.6,604.4 L94.8,611.7 L95.0,600.8 L95.2,589.0 L95.4,581.8 L95.6,608.9 L95.8,603.5 L96.0,605.7 L96.2,596.7 L96.4,601.9 L96.7,613.8 L96.9,602.0 L97.1,590.8 L97.3,596.2 L97.5,610.2 L97.7,591.2 L97.9,579.8 L98.1,582.0 L98.3,589.4 L98.5,605.9 L98.7,600.5 L98.9,594.0 L99.2,590.0 L99.4,599.1 L99.6,598.8 L99.8,595.7 L100.0,598.2 L100.2,594.3 L100.4,614.1 L100.6,582.1 L100.8,601.3 L101.0,592.6 L101.2,605.9 L101.5,598.7 L101.7,603.4 L101.9,604.7 L102.1,602.2 L102.3,608.3 L102.5,590.0 L102.7,608.1 L102.9,599.2 L103.1,603.8 L103.3,612.9 L103.5,609.6 L103.7,616.3 L104.0,583.8 L104.2,593.8 L104.4,608.6 L104.6,592.5 L104.8,599.9 L105.0,614.5 L105.2,608.1 L105.4,594.0 L105.6,605.0 L105.8,606.5 L106.0,602.1 L106.3,600.9 L106.5,602.8 L106.7,590.2 L106.9,602.8 L107.1,594.4 L107.3,604.9 L107.5,605.2 L107.7,595.1 L107.9,606.8 L108.1,604.8 L108.3,601.8 L108.5,607.8 L108.8,599.8 L109.0,600.1 L109.2,602.9 L109.4,601.9 L109.6,611.2 L109.8,584.2 L110.0,600.2 L110.2,587.1 L110.4,598.6 L110.6,604.5 L110.8,602.6 L111.1,610.0 L111.3,605.1 L111.5,581.5 L111.7,594.0 L111.9,614.6 L112.1,614.7 L112.3,603.5 L112.5,590.8 L112.7,619.5 L112.9,586.7 L113.1,605.2 L113.4,602.5 L113.6,604.8 L113.8,593.9 L114.0,599.9 L114.2,611.3 L114.4,599.2 L114.6,592.4 L114.8,602.9 L115.0,603.8 L115.2,602.1 L115.4,597.1 L115.6,607.4 L115.9,602.3 L116.1,594.3 L116.3,605.1 L116.5,603.2 L116.7,604.6 L116.9,590.4 L117.1,597.6 L117.3,607.2 L117.5,610.9 L117.7,606.5 L117.9,605.1 L118.2,609.5 L118.4,611.6 L118.6,617.7 L118.8,607.8 L119.0,599.9 L119.2,608.1 L119.4,589.4 L119.6,605.0 L119.8,601.2 L120.0,604.5 L120.2,608.6 L120.4,605.2 L120.7,593.7 L120.9,602.2 L121.1,598.9 L121.3,605.0 L121.5,608.0 L121.7,597.8 L121.9,610.9 L122.1,615.4 L122.3,603.3 L122.5,611.1 L122.7,594.1 L123.0,601.4 L123.2,613.0 L123.4,592.1 L123.6,601.8 L123.8,598.9 L124.0,614.7 L124.2,614.7 L124.4,601.1 L124.6,606.9 L124.8,585.9 L125.0,612.6 L125.2,608.8 L125.5,616.4 L125.7,587.8 L125.9,608.9 L126.1,603.6 L126.3,586.2 L126.5,601.1 L126.7,605.8 L126.9,612.7 L127.1,608.1 L127.3,602.6 L127.5,610.1 L127.8,605.9 L128.0,601.7 L128.2,598.9 L128.4,608.0 L128.6,608.1 L128.8,621.1 L129.0,603.5 L129.2,619.4 L129.4,609.8 L129.6,616.2 L129.8,600.2 L130.0,600.5 L130.3,604.9 L130.5,614.2 L130.7,608.8 L130.9,613.2 L131.1,609.9 L131.3,615.5 L131.5,609.1 L131.7,603.6 L131.9,611.7 L132.1,608.4 L132.3,621.3 L132.6,606.6 L132.8,608.7 L133.0,605.6 L133.2,616.9 L133.4,614.8 L133.6,613.1 L133.8,598.5 L134.0,596.5 L134.2,610.3 L134.4,613.8 L134.6,619.7 L134.8,594.5 L135.1,607.1 L135.3,595.5 L135.5,601.1 L135.7,606.9 L135.9,616.0 L136.1,604.6 L136.3,603.2 L136.5,606.3 L136.7,618.5 L136.9,627.5 L137.1,597.0 L137.4,606.8 L137.6,605.7 L137.8,618.0 L138.0,612.4 L138.2,621.0 L138.4,601.4 L138.6,609.3 L138.8,605.8 L139.0,600.9 L139.2,608.2 L139.4,600.3 L139.6,626.2 L139.9,612.7 L140.1,601.7 L140.3,604.9 L140.5,623.0 L140.7,606.0 L140.9,615.1 L141.1,614.3 L141.3,618.2 L141.5,614.8 L141.7,608.3 L141.9,605.4 L142.2,596.3 L142.4,609.7 L142.6,611.2 L142.8,607.4 L143.0,609.1 L143.2,600.9 L143.4,627.0 L143.6,606.5 L143.8,602.4 L144.0,605.8 L144.2,609.2 L144.4,616.2 L144.7,591.9 L144.9,614.6 L145.1,605.9 L145.3,609.3 L145.5,618.6 L145.7,616.7 L145.9,605.6 L146.1,610.2 L146.3,625.4 L146.5,621.5 L146.7,617.7 L147.0,611.2 L147.2,618.6 L147.4,614.3 L147.6,607.0 L147.8,603.6 L148.0,615.4 L148.2,614.3 L148.4,620.7 L148.6,607.8 L148.8,622.3 L149.0,608.8 L149.2,621.3 L149.5,615.9 L149.7,607.3 L149.9,604.5 L150.1,610.9 L150.3,609.8 L150.5,619.1 L150.7,606.6 L150.9,600.6 L151.1,611.9 L151.3,626.9 L151.5,624.7 L151.8,607.4 L152.0,610.1 L152.2,614.7 L152.4,607.2 L152.6,610.4 L152.8,610.2 L153.0,604.3 L153.2,607.7 L153.4,608.8 L153.6,614.4 L153.8,603.5 L154.0,613.4 L154.3,605.1 L154.5,606.5 L154.7,604.1 L154.9,643.7 L155.1,622.5 L155.3,623.2 L155.5,619.2 L155.7,611.2 L155.9,613.5 L156.1,615.3 L156.3,616.6 L156.6,617.7 L156.8,625.0 L157.0,590.4 L157.2,609.0 L157.4,618.5 L157.6,610.6 L157.8,612.2 L158.0,624.9 L158.2,615.0 L158.4,627.3 L158.6,613.2 L158.8,615.5 L159.1,605.5 L159.3,598.4 L159.5,610.5 L159.7,614.3 L159.9,611.2 L160.1,603.5 L160.3,619.0 L160.5,614.5 L160.7,614.1 L160.9,608.1 L161.1,626.8 L161.4,625.5 L161.6,616.5 L161.8,613.3 L162.0,616.2 L162.2,627.4 L162.4,636.0 L162.6,614.5 L162.8,611.1 L163.0,600.5 L163.2,636.1 L163.4,606.0 L163.6,621.3 L163.9,618.5 L164.1,625.0 L164.3,608.1 L164.5,602.3 L164.7,616.0 L164.9,618.0 L165.1,623.7 L165.3,601.9 L165.5,611.5 L165.7,613.0 L165.9,604.6 L166.2,613.8 L166.4,621.3 L166.6,614.9 L166.8,604.1 L167.0,617.9 L167.2,621.9 L167.4,619.5 L167.6,621.5 L167.8,602.7 L168.0,619.0 L168.2,620.1 L168.4,612.7 L168.7,615.2 L168.9,609.7 L169.1,625.2 L169.3,613.4 L169.5,608.5 L169.7,617.2 L169.9,616.7 L170.1,621.0 L170.3,609.5 L170.5,610.7 L170.7,619.0 L171.0,633.3 L171.2,619.7 L171.4,605.6 L171.6,617.5 L171.8,610.2 L172.0,602.0 L172.2,611.0 L172.4,611.9 L172.6,619.6 L172.8,626.6 L173.0,625.2 L173.2,622.7 L173.5,613.2 L173.7,617.8 L173.9,616.3 L174.1,627.5 L174.3,611.6 L174.5,612.5 L174.7,628.3 L174.9,621.2 L175.1,613.4 L175.3,618.1 L175.5,618.1 L175.8,618.4 L176.0,623.2 L176.2,619.9 L176.4,615.7 L176.6,613.2 L176.8,603.8 L177.0,613.8 L177.2,626.1 L177.4,619.0 L177.6,612.3 L177.8,615.5 L178.0,610.8 L178.3,619.7 L178.5,632.9 L178.7,631.4 L178.9,626.8 L179.1,623.6 L179.3,615.9 L179.5,608.1 L179.7,617.8 L179.9,614.3 L180.1,624.2 L180.3,619.1 L180.6,613.4 L180.8,621.4 L181.0,640.5 L181.2,611.0 L181.4,626.8 L181.6,622.7 L181.8,617.4 L182.0,612.3 L182.2,618.4 L182.4,619.9 L182.6,624.2 L182.8,623.7 L183.1,620.8 L183.3,613.1 L183.5,620.8 L183.7,614.9 L183.9,610.4 L184.1,625.4 L184.3,613.4 L184.5,609.4 L184.7,619.3 L184.9,603.8 L185.1,618.2 L185.4,622.2 L185.6,615.5 L185.8,620.6 L186.0,635.4 L186.2,629.8 L186.4,626.1 L186.6,623.5 L186.8,615.0 L187.0,617.9 L187.2,616.8 L187.4,619.2 L187.6,620.0 L187.9,612.9 L188.1,631.6 L188.3,611.1 L188.5,622.0 L188.7,627.2 L188.9,619.0 L189.1,614.1 L189.3,619.6 L189.5,634.3 L189.7,624.2 L189.9,617.2 L190.2,623.9 L190.4,618.0 L190.6,605.1 L190.8,621.4 L191.0,627.6 L191.2,628.5 L191.4,619.1 L191.6,608.8 L191.8,628.9 L192.0,618.5 L192.2,625.5 L192.4,628.5 L192.7,622.4 L192.9,619.4 L193.1,615.1 L193.3,616.6 L193.5,620.2 L193.7,616.4 L193.9,622.8 L194.1,605.0 L194.3,612.3 L194.5,619.8 L194.7,614.8 L195.0,616.0 L195.2,611.4 L195.4,625.4 L195.6,632.8 L195.8,612.5 L196.0,629.1 L196.2,609.1 L196.4,621.4 L196.6,604.9 L196.8,624.1 L197.0,620.6 L197.2,621.5 L197.5,629.8 L197.7,625.0 L197.9,620.3 L198.1,614.2 L198.3,620.9 L198.5,615.2 L198.7,617.3 L198.9,632.0 L199.1,627.4 L199.3,622.9 L199.5,625.5 L199.8,609.6 L200.0,621.6 L200.2,607.7 L200.4,615.7 L200.6,623.6 L200.8,623.7 L201.0,626.2 L201.2,622.0 L201.4,621.3 L201.6,620.9 L201.8,631.7 L202.0,630.9 L202.3,609.7 L202.5,621.9 L202.7,630.9 L202.9,619.0 L203.1,622.7 L203.3,616.4 L203.5,611.8 L203.7,622.0 L203.9,617.8 L204.1,619.7 L204.3,609.8 L204.6,612.0 L204.8,619.9 L205.0,617.5 L205.2,625.1 L205.4,612.8 L205.6,626.3 L205.8,625.3 L206.0,621.6 L206.2,625.8 L206.4,620.2 L206.6,619.4 L206.8,620.7 L207.1,611.1 L207.3,620.6 L207.5,627.0 L207.7,608.5 L207.9,626.2 L208.1,616.0 L208.3,618.2 L208.5,621.6 L208.7,622.9 L208.9,631.5 L209.1,619.9 L209.4,634.2 L209.6,621.4 L209.8,624.8 L210.0,626.3 L210.2,616.1 L210.4,612.7 L210.6,622.2 L210.8,626.7 L211.0,628.1 L211.2,618.7 L211.4,635.1 L211.6,620.7 L211.9,616.5 L212.1,630.8 L212.3,631.4 L212.5,614.8 L212.7,628.6 L212.9,612.6 L213.1,622.7 L213.3,639.9 L213.5,632.5 L213.7,628.1 L213.9,627.8 L214.2,616.5 L214.4,625.5 L214.6,626.5 L214.8,615.1 L215.0,624.7 L215.2,627.4 L215.4,624.9 L215.6,626.6 L215.8,621.6 L216.0,614.8 L216.2,623.7 L216.5,608.7 L216.7,618.0 L216.9,632.0 L217.1,637.3 L217.3,626.8 L217.5,605.2 L217.7,634.0 L217.9,627.9 L218.1,622.3 L218.3,629.6 L218.5,628.1 L218.7,614.7 L219.0,614.0 L219.2,632.0 L219.4,606.4 L219.6,628.7 L219.8,626.5 L220.0,631.6 L220.2,637.6 L220.4,634.5 L220.6,636.2 L220.8,630.6 L221.0,628.2 L221.3,632.6 L221.5,624.3 L221.7,617.4 L221.9,623.9 L222.1,612.2 L222.3,620.3 L222.5,640.4 L222.7,628.5 L222.9,623.2 L223.1,620.0 L223.3,611.0 L223.5,620.5 L223.8,618.7 L224.0,624.6 L224.2,625.3 L224.4,624.1 L224.6,610.0 L224.8,635.8 L225.0,628.1 L225.2,624.8 L225.4,622.2 L225.6,628.1 L225.8,634.3 L226.1,629.4 L226.3,615.8 L226.5,615.1 L226.7,606.6 L226.9,625.7 L227.1,630.2 L227.3,634.1 L227.5,625.7 L227.7,631.0 L227.9,617.7 L228.1,628.7 L228.3,623.8 L228.6,619.6 L228.8,611.8 L229.0,633.6 L229.2,607.4 L229.4,629.6 L229.6,618.6 L229.8,629.5 L230.0,620.6 L230.2,630.6 L230.4,623.2 L230.6,616.8 L230.9,620.9 L231.1,612.5 L231.3,627.0 L231.5,633.0 L231.7,628.2 L231.9,625.8 L232.1,634.9 L232.3,616.1 L232.5,629.3 L232.7,625.2 L232.9,621.5 L233.1,629.4 L233.4,616.3 L233.6,624.1 L233.8,627.8 L234.0,616.3 L234.2,623.4 L234.4,629.3 L234.6,632.6 L234.8,618.1 L235.0,632.3 L235.2,623.1 L235.4,626.1 L235.7,621.2 L235.9,631.4 L236.1,620.0 L236.3,627.6 L236.5,628.4 L236.7,631.3 L236.9,617.5 L237.1,631.5 L237.3,625.8 L237.5,636.8 L237.7,623.0 L237.9,621.2 L238.2,625.2 L238.4,623.3 L238.6,624.4 L238.8,615.9 L239.0,609.7 L239.2,614.4 L239.4,621.2 L239.6,629.1 L239.8,623.4 L240.0,618.4 L240.2,624.6 L240.5,626.3 L240.7,647.1 L240.9,635.7 L241.1,627.3 L241.3,614.7 L241.5,624.6 L241.7,623.6 L241.9,630.2 L242.1,642.3 L242.3,625.5 L242.5,610.9 L242.7,625.2 L243.0,613.2 L243.2,632.6 L243.4,634.6 L243.6,628.7 L243.8,614.7 L244.0,624.8 L244.2,635.6 L244.4,618.5 L244.6,621.7 L244.8,628.2 L245.0,630.1 L245.3,626.9 L245.5,629.0 L245.7,628.0 L245.9,621.9 L246.1,625.8 L246.3,628.6 L246.5,618.0 L246.7,628.0 L246.9,627.2 L247.1,630.1 L247.3,629.2 L247.5,618.5 L247.8,616.9 L248.0,628.5 L248.2,625.4 L248.4,627.4 L248.6,622.3 L248.8,616.8 L249.0,628.7 L249.2,625.7 L249.4,631.4 L249.6,635.1 L249.8,635.2 L250.1,634.4 L250.3,619.4 L250.5,610.5 L250.7,622.1 L250.9,617.5 L251.1,616.7 L251.3,631.9 L251.5,614.4 L251.7,633.9 L251.9,635.3 L252.1,647.4 L252.3,634.9 L252.6,643.1 L252.8,622.0 L253.0,621.7 L253.2,634.5 L253.4,616.9 L253.6,635.8 L253.8,624.9 L254.0,611.9 L254.2,641.3 L254.4,618.5 L254.6,646.3 L254.9,615.7 L255.1,620.6 L255.3,628.8 L255.5,627.3 L255.7,615.0 L255.9,628.0 L256.1,628.6 L256.3,630.7 L256.5,614.9 L256.7,622.6 L256.9,626.5 L257.1,633.5 L257.4,628.6 L257.6,624.7 L257.8,624.1 L258.0,638.6 L258.2,621.1 L258.4,629.7 L258.6,610.7 L258.8,640.5 L259.0,631.0 L259.2,613.9 L259.4,632.1 L259.7,638.2 L259.9,633.8 L260.1,628.1 L260.3,634.0 L260.5,621.8 L260.7,625.6 L260.9,624.8 L261.1,628.2 L261.3,619.6 L261.5,638.2 L261.7,626.7 L261.9,619.4 L262.2,626.0 L262.4,630.5 L262.6,628.1 L262.8,636.2 L263.0,625.0 L263.2,621.8 L263.4,631.6 L263.6,637.6 L263.8,620.4 L264.0,615.6 L264.2,622.9 L264.5,627.2 L264.7,619.9 L264.9,629.1 L265.1,621.2 L265.3,634.7 L265.5,618.7 L265.7,620.9 L265.9,628.4 L266.1,633.1 L266.3,635.0 L266.5,622.6 L266.7,628.1 L267.0,632.1 L267.2,638.9 L267.4,621.1 L267.6,618.4 L267.8,631.7 L268.0,626.1 L268.2,638.4 L268.4,628.2 L268.6,630.5 L268.8,622.0 L269.0,630.2 L269.3,637.5 L269.5,626.2 L269.7,618.9 L269.9,634.9 L270.1,625.7 L270.3,628.6 L270.5,622.6 L270.7,635.4 L270.9,622.4 L271.1,624.5 L271.3,628.2 L271.5,626.6 L271.8,610.9 L272.0,631.8 L272.2,619.2 L272.4,630.2 L272.6,625.2 L272.8,627.3 L273.0,622.6 L273.2,620.1 L273.4,629.4 L273.6,630.0 L273.8,636.1 L274.1,632.5 L274.3,622.9 L274.5,637.3 L274.7,645.3 L274.9,633.9 L275.1,626.9 L275.3,620.9 L275.5,629.1 L275.7,617.3 L275.9,634.5 L276.1,625.5 L276.3,624.0 L276.6,630.4 L276.8,618.9 L277.0,615.1 L277.2,625.1 L277.4,637.8 L277.6,621.9 L277.8,635.2 L278.0,614.3 L278.2,628.0 L278.4,632.4 L278.6,642.3 L278.9,615.0 L279.1,628.0 L279.3,621.6 L279.5,630.9 L279.7,624.3 L279.9,629.4 L280.1,622.8 L280.3,624.3 L280.5,631.7 L280.7,640.1 L280.9,630.2 L281.1,629.6 L281.4,625.1 L281.6,640.8 L281.8,613.7 L282.0,613.4 L282.2,622.7 L282.4,632.1 L282.6,636.0 L282.8,633.1 L283.0,634.5 L283.2,630.0 L283.4,625.1 L283.7,620.6 L283.9,632.2 L284.1,621.5 L284.3,632.0 L284.5,634.5 L284.7,624.1 L284.9,625.4 L285.1,624.6 L285.3,634.1 L285.5,630.1 L285.7,623.7 L285.9,630.9 L286.2,640.5 L286.4,631.1 L286.6,629.9 L286.8,625.9 L287.0,621.8 L287.2,629.0 L287.4,629.5 L287.6,626.6 L287.8,638.0 L288.0,627.2 L288.2,627.8 L288.5,630.5 L288.7,633.1 L288.9,615.3 L289.1,631.1 L289.3,638.6 L289.5,620.5 L289.7,632.1 L289.9,625.2 L290.1,621.5 L290.3,631.1 L290.5,628.3 L290.7,613.2 L291.0,624.6 L291.2,635.4 L291.4,624.7 L291.6,623.5 L291.8,626.4 L292.0,625.8 L292.2,634.9 L292.4,622.7 L292.6,620.3 L292.8,632.5 L293.0,636.8 L293.3,634.6 L293.5,635.7 L293.7,624.3 L293.9,618.1 L294.1,624.0 L294.3,629.2 L294.5,616.4 L294.7,627.0 L294.9,633.8 L295.1,624.1 L295.3,644.5 L295.5,635.1 L295.8,620.1 L296.0,620.8 L296.2,624.0 L296.4,634.8 L296.6,633.0 L296.8,625.2 L297.0,630.8 L297.2,635.6 L297.4,633.5 L297.6,617.3 L297.8,621.2 L298.1,622.5 L298.3,616.3 L298.5,636.1 L298.7,624.6 L298.9,624.5 L299.1,623.2 L299.3,631.9 L299.5,633.9 L299.7,634.7 L299.9,639.0 L300.1,622.5 L300.3,642.0 L300.6,648.5 L300.8,625.6 L301.0,626.9 L301.2,634.2 L301.4,639.1 L301.6,627.6 L301.8,623.5 L302.0,645.5 L302.2,625.9 L302.4,608.8 L302.6,633.8 L302.9,637.3 L303.1,642.8 L303.3,643.3 L303.5,653.4 L303.7,625.5 L303.9,622.3 L304.1,618.7 L304.3,642.9 L304.5,626.5 L304.7,617.0 L304.9,614.0 L305.1,630.8 L305.4,626.5 L305.6,632.3 L305.8,623.3 L306.0,624.2 L306.2,633.5 L306.4,628.3 L306.6,634.3 L306.8,628.9 L307.0,627.7 L307.2,632.7 L307.4,627.4 L307.7,631.3 L307.9,633.3 L308.1,626.0 L308.3,629.0 L308.5,630.7 L308.7,635.1 L308.9,631.8 L309.1,631.8 L309.3,633.5 L309.5,627.6 L309.7,632.7 L309.9,624.3 L310.2,616.0 L310.4,633.1 L310.6,615.0 L310.8,628.8 L311.0,641.7 L311.2,635.5 L311.4,622.2 L311.6,635.6 L311.8,631.8 L312.0,623.6 L312.2,629.3 L312.5,625.9 L312.7,627.6 L312.9,632.6 L313.1,618.2 L313.3,636.5 L313.5,645.5 L313.7,628.9 L313.9,622.6 L314.1,627.0 L314.3,639.5 L314.5,626.3 L314.7,633.8 L315.0,647.6 L315.2,624.6 L315.4,630.9 L315.6,625.8 L315.8,627.3 L316.0,631.1 L316.2,624.5 L316.4,633.7 L316.6,631.6 L316.8,639.2 L317.0,635.5 L317.3,633.2 L317.5,641.8 L317.7,628.8 L317.9,635.1 L318.1,625.4 L318.3,641.3 L318.5,624.8 L318.7,637.8 L318.9,624.9 L319.1,632.1 L319.3,622.4 L319.6,624.7 L319.8,623.3 L320.0,634.0 L320.2,634.7 L320.4,636.4 L320.6,633.8 L320.8,629.2 L321.0,635.9 L321.2,642.7 L321.4,628.0 L321.6,625.2 L321.8,635.2 L322.1,646.6 L322.3,630.3 L322.5,628.5 L322.7,623.3 L322.9,625.5 L323.1,623.9 L323.3,623.7 L323.5,639.2 L323.7,640.8 L323.9,631.9 L324.1,632.0 L324.4,637.5 L324.6,631.4 L324.8,632.1 L325.0,635.8 L325.2,631.0 L325.4,641.2 L325.6,656.1 L325.8,631.4 L326.0,633.5 L326.2,625.0 L326.4,628.0 L326.6,632.1 L326.9,634.6 L327.1,630.0 L327.3,622.3 L327.5,634.4 L327.7,627.4 L327.9,634.6 L328.1,629.8 L328.3,630.5 L328.5,630.9 L328.7,615.2 L328.9,640.9 L329.2,624.5 L329.4,634.2 L329.6,635.7 L329.8,627.2 L330.0,621.1 L330.2,635.9 L330.4,624.2 L330.6,630.9 L330.8,635.0 L331.0,627.8 L331.2,618.3 L331.4,626.2 L331.7,635.2 L331.9,625.2 L332.1,638.1 L332.3,619.6 L332.5,624.0 L332.7,617.9 L332.9,624.0 L333.1,642.8 L333.3,635.6 L333.5,629.1 L333.7,626.3 L334.0,639.9 L334.2,630.1 L334.4,623.5 L334.6,642.9 L334.8,620.9 L335.0,632.4 L335.2,635.9 L335.4,638.4 L335.6,646.1 L335.8,637.4 L336.0,625.6 L336.2,639.7 L336.5,633.2 L336.7,621.5 L336.9,622.6 L337.1,624.6 L337.3,614.3 L337.5,634.1 L337.7,635.1 L337.9,634.5 L338.1,624.4 L338.3,630.4 L338.5,639.9 L338.8,633.7 L339.0,629.6 L339.2,625.1 L339.4,630.4 L339.6,640.5 L339.8,630.9 L340.0,648.3 L340.2,649.3 L340.4,636.2 L340.6,618.2 L340.8,628.8 L341.0,640.5 L341.3,626.4 L341.5,625.4 L341.7,630.9 L341.9,651.3 L342.1,627.1 L342.3,615.8 L342.5,632.9 L342.7,633.8 L342.9,636.4 L343.1,631.3 L343.3,633.3 L343.6,627.1 L343.8,638.1 L344.0,630.5 L344.2,634.7 L344.4,625.0 L344.6,641.4 L344.8,632.6 L345.0,627.4 L345.2,631.0 L345.4,622.2 L345.6,626.0 L345.8,637.0 L346.1,635.3 L346.3,637.1 L346.5,636.1 L346.7,628.5 L346.9,631.5 L347.1,645.2 L347.3,629.8 L347.5,618.8 L347.7,630.5 L347.9,627.4 L348.1,629.8 L348.4,630.7 L348.6,622.6 L348.8,633.7 L349.0,629.2 L349.2,635.0 L349.4,625.1 L349.6,622.8 L349.8,627.1 L350.0,643.1 L350.2,616.4 L350.4,638.7 L350.6,629.9 L350.9,639.1 L351.1,627.3 L351.3,633.2 L351.5,633.1 L351.7,646.6 L351.9,629.3 L352.1,632.0 L352.3,624.3 L352.5,632.5 L352.7,624.5 L352.9,629.3 L353.2,633.1 L353.4,634.5 L353.6,623.2 L353.8,623.4 L354.0,639.2 L354.2,626.1 L354.4,631.6 L354.6,628.0 L354.8,618.1 L355.0,629.4 L355.2,629.3 L355.4,643.8 L355.7,615.6 L355.9,626.1 L356.1,634.9 L356.3,626.1 L356.5,613.7 L356.7,635.0 L356.9,631.5 L357.1,623.7 L357.3,622.5 L357.5,624.9 L357.7,631.6 L358.0,628.8 L358.2,625.1 L358.4,632.8 L358.6,638.1 L358.8,625.5 L359.0,642.1 L359.2,630.3 L359.4,634.7 L359.6,633.3 L359.8,633.9 L360.0,631.8 L360.2,612.7 L360.5,622.7 L360.7,636.7 L360.9,622.0 L361.1,630.8 L361.3,618.0 L361.5,625.2 L361.7,641.7 L361.9,631.8 L362.1,623.3 L362.3,625.0 L362.5,616.9 L362.8,633.3 L363.0,627.9 L363.2,635.3 L363.4,635.8 L363.6,627.4 L363.8,622.4 L364.0,620.4 L364.2,626.5 L364.4,629.7 L364.6,640.1 L364.8,622.3 L365.0,633.0 L365.3,621.5 L365.5,625.1 L365.7,635.4 L365.9,633.4 L366.1,625.4 L366.3,624.5 L366.5,637.9 L366.7,628.1 L366.9,627.1 L367.1,621.4 L367.3,648.6 L367.6,643.6 L367.8,633.5 L368.0,646.6 L368.2,633.4 L368.4,627.1 L368.6,633.9 L368.8,640.6 L369.0,621.3 L369.2,639.4 L369.4,639.0 L369.6,641.5 L369.8,633.7 L370.1,638.6 L370.3,616.9 L370.5,629.7 L370.7,638.0 L370.9,634.4 L371.1,632.3 L371.3,620.7 L371.5,628.9 L371.7,617.0 L371.9,628.4 L372.1,632.8 L372.4,626.3 L372.6,634.0 L372.8,630.3 L373.0,637.1 L373.2,627.6 L373.4,618.0 L373.6,620.6 L373.8,624.5 L374.0,630.3 L374.2,631.1 L374.4,624.7 L374.6,631.2 L374.9,625.3 L375.1,635.3 L375.3,620.2 L375.5,639.4 L375.7,632.6 L375.9,627.5 L376.1,622.3 L376.3,634.8 L376.5,626.0 L376.7,635.6 L376.9,644.7 L377.2,632.1 L377.4,632.6 L377.6,635.0 L377.8,626.8 L378.0,645.8 L378.2,629.4 L378.4,636.4 L378.6,633.7 L378.8,626.7 L379.0,641.7 L379.2,634.2 L379.4,626.4 L379.7,626.5 L379.9,616.8 L380.1,623.4 L380.3,638.0 L380.5,638.1 L380.7,624.5 L380.9,636.5 L381.1,639.2 L381.3,637.7 L381.5,641.3 L381.7,617.2 L382.0,633.3 L382.2,624.5 L382.4,636.9 L382.6,626.1 L382.8,632.5 L383.0,638.4 L383.2,619.7 L383.4,626.7 L383.6,626.3 L383.8,631.3 L384.0,619.5 L384.2,637.5 L384.5,646.2 L384.7,629.2 L384.9,635.3 L385.1,610.9 L385.3,622.0 L385.5,636.2 L385.7,633.3 L385.9,636.2 L386.1,641.2 L386.3,631.7 L386.5,629.1 L386.8,627.3 L387.0,631.7 L387.2,614.6 L387.4,642.1 L387.6,614.1 L387.8,618.5 L388.0,631.2 L388.2,637.8 L388.4,634.8 L388.6,642.0 L388.8,627.2 L389.0,625.5 L389.3,634.7 L389.5,621.8 L389.7,632.0 L389.9,634.4 L390.1,632.7 L390.3,614.8 L390.5,628.6 L390.7,614.7 L390.9,636.9 L391.1,626.9 L391.3,637.9 L391.6,640.4 L391.8,619.9 L392.0,637.3 L392.2,633.3 L392.4,641.8 L392.6,620.6 L392.8,620.5 L393.0,624.2 L393.2,616.1 L393.4,631.2 L393.6,624.7 L393.8,631.7 L394.1,632.8 L394.3,636.7 L394.5,620.0 L394.7,635.8 L394.9,635.7 L395.1,622.5 L395.3,625.4 L395.5,618.9 L395.7,639.5 L395.9,640.4 L396.1,623.6 L396.4,629.2 L396.6,633.1 L396.8,635.4 L397.0,629.5 L397.2,642.7 L397.4,622.8 L397.6,636.6 L397.8,630.7 L398.0,632.2 L398.2,624.3 L398.4,616.7 L398.6,626.0 L398.9,633.6 L399.1,623.6 L399.3,617.0 L399.5,628.7 L399.7,629.8 L399.9,622.3 L400.1,629.1 L400.3,633.1 L400.5,631.5 L400.7,637.0 L400.9,639.0 L401.2,629.7 L401.4,623.7 L401.6,616.6 L401.8,637.6 L402.0,632.6 L402.2,637.6 L402.4,623.6 L402.6,630.8 L402.8,623.7 L403.0,623.0 L403.2,618.7 L403.4,628.1 L403.7,633.5 L403.9,635.8 L404.1,631.7 L404.3,627.7 L404.5,645.3 L404.7,641.7 L404.9,637.6 L405.1,631.0 L405.3,639.6 L405.5,624.0 L405.7,620.1 L406.0,634.6 L406.2,631.1 L406.4,637.8 L406.6,623.8 L406.8,632.1 L407.0,621.8 L407.2,627.2 L407.4,633.4 L407.6,629.3 L407.8,622.6 L408.0,618.7 L408.2,626.8 L408.5,622.7 L408.7,618.7 L408.9,630.4 L409.1,622.8 L409.3,639.5 L409.5,645.7 L409.7,638.3 L409.9,651.2 L410.1,620.4 L410.3,616.6 L410.5,628.7 L410.8,616.2 L411.0,630.9 L411.2,636.5 L411.4,635.7 L411.6,637.2 L411.8,628.2 L412.0,629.2 L412.2,631.6 L412.4,629.3 L412.6,636.9 L412.8,626.6 L413.0,629.4 L413.3,624.4 L413.5,637.1 L413.7,630.7 L413.9,630.7 L414.1,626.0 L414.3,616.1 L414.5,626.2 L414.7,613.0 L414.9,629.1 L415.1,620.2 L415.3,639.4 L415.6,624.7 L415.8,629.1 L416.0,625.8 L416.2,620.9 L416.4,617.8 L416.6,610.3 L416.8,624.6 L417.0,614.0 L417.2,638.2 L417.4,619.6 L417.6,624.9 L417.8,629.3 L418.1,628.3 L418.3,638.4 L418.5,629.0 L418.7,625.8 L418.9,628.6 L419.1,641.3 L419.3,635.5 L419.5,614.5 L419.7,628.0 L419.9,622.5 L420.1,629.6 L420.4,634.3 L420.6,629.6 L420.8,634.1 L421.0,642.4 L421.2,616.1 L421.4,629.2 L421.6,629.9 L421.8,633.0 L422.0,630.3 L422.2,636.6 L422.4,629.4 L422.7,632.9 L422.9,617.7 L423.1,631.0 L423.3,620.3 L423.5,634.0 L423.7,643.0 L423.9,629.1 L424.1,632.9 L424.3,635.3 L424.5,640.2 L424.7,635.6 L424.9,639.1 L425.2,625.6 L425.4,629.1 L425.6,618.5 L425.8,646.6 L426.0,620.7 L426.2,636.7 L426.4,631.0 L426.6,630.6 L426.8,620.8 L427.0,629.4 L427.2,630.4 L427.5,632.9 L427.7,627.1 L427.9,631.6 L428.1,622.4 L428.3,639.0 L428.5,624.8 L428.7,657.3 L428.9,627.4 L429.1,624.8 L429.3,631.2 L429.5,628.8 L429.7,638.2 L430.0,639.2 L430.2,625.1 L430.4,624.8 L430.6,624.2 L430.8,633.6 L431.0,637.5 L431.2,635.0 L431.4,628.9 L431.6,630.3 L431.8,635.1 L432.0,639.6 L432.3,629.7 L432.5,639.0 L432.7,627.5 L432.9,631.5 L433.1,638.7 L433.3,623.4 L433.5,616.8 L433.7,621.5 L433.9,628.9 L434.1,622.1 L434.3,629.0 L434.5,640.4 L434.8,627.2 L435.0,640.1 L435.2,636.5 L435.4,621.8 L435.6,637.3 L435.8,636.5 L436.0,637.4 L436.2,631.5 L436.4,632.0 L436.6,625.6 L436.8,623.2 L437.1,629.5 L437.3,635.3 L437.5,625.3 L437.7,642.4 L437.9,626.6 L438.1,632.5 L438.3,619.7 L438.5,641.9 L438.7,635.6 L438.9,640.0 L439.1,620.9 L439.3,641.2 L439.6,633.8 L439.8,625.5 L440.0,627.2 L440.2,618.8 L440.4,628.9 L440.6,637.1 L440.8,623.7 L441.0,633.2 L441.2,621.0 L441.4,609.8 L441.6,628.8 L441.9,641.5 L442.1,639.4 L442.3,625.0 L442.5,639.8 L442.7,638.1 L442.9,632.9 L443.1,627.3 L443.3,637.5 L443.5,629.2 L443.7,626.9 L443.9,637.9 L444.1,624.5 L444.4,635.0 L444.6,641.2 L444.8,624.5 L445.0,631.1 L445.2,633.8 L445.4,616.2 L445.6,625.9 L445.8,625.4 L446.0,625.4 L446.2,622.9 L446.4,639.4 L446.7,622.5 L446.9,628.6 L447.1,634.0 L447.3,641.4 L447.5,617.1 L447.7,619.4 L447.9,621.2 L448.1,627.0 L448.3,636.5 L448.5,628.3 L448.7,630.5 L448.9,641.1 L449.2,626.9 L449.4,630.6 L449.6,644.5 L449.8,635.4 L450.0,624.7 L450.2,624.4 L450.4,638.0 L450.6,620.6 L450.8,622.6 L451.0,635.6 L451.2,639.7 L451.5,642.3 L451.7,621.9 L451.9,633.4 L452.1,603.9 L452.3,622.9 L452.5,652.0 L452.7,641.5 L452.9,635.0 L453.1,622.4 L453.3,619.9 L453.5,638.1 L453.7,628.4 L454.0,623.3 L454.2,635.2 L454.4,634.9 L454.6,624.2 L454.8,626.2 L455.0,646.6 L455.2,622.1 L455.4,637.4 L455.6,624.2 L455.8,623.0 L456.0,621.6 L456.3,628.7 L456.5,629.4 L456.7,635.3 L456.9,623.9 L457.1,632.7 L457.3,625.3 L457.5,623.9 L457.7,634.4 L457.9,633.0 L458.1,617.8 L458.3,630.7 L458.5,615.4 L458.8,621.2 L459.0,641.9 L459.2,639.5 L459.4,627.9 L459.6,634.0 L459.8,639.1 L460.0,642.6 L460.2,642.5 L460.4,623.3 L460.6,628.8 L460.8,630.0 L461.1,610.5 L461.3,623.3 L461.5,632.1 L461.7,627.4 L461.9,624.4 L462.1,620.0 L462.3,624.5 L462.5,628.8 L462.7,626.5 L462.9,637.7 L463.1,635.2 L463.3,619.0 L463.6,636.1 L463.8,629.1 L464.0,634.8 L464.2,623.9 L464.4,635.8 L464.6,623.4 L464.8,636.8 L465.0,628.7 L465.2,626.9 L465.4,618.7 L465.6,616.5 L465.9,635.5 L466.1,620.3 L466.3,619.8 L466.5,631.9 L466.7,629.0 L466.9,633.3 L467.1,618.8 L467.3,612.5 L467.5,621.9 L467.7,636.5 L467.9,628.6 L468.1,632.2 L468.4,632.8 L468.6,630.1 L468.8,630.1 L469.0,627.2 L469.2,630.5 L469.4,631.3 L469.6,623.8 L469.8,633.4 L470.0,628.8 L470.2,628.2 L470.4,627.6 L470.7,635.6 L470.9,627.7 L471.1,638.0 L471.3,621.1 L471.5,633.2 L471.7,616.9 L471.9,629.2 L472.1,624.9 L472.3,625.3 L472.5,620.8 L472.7,628.6 L472.9,632.9 L473.2,614.7 L473.4,627.8 L473.6,630.1 L473.8,633.4 L474.0,631.5 L474.2,620.4" fill="none" stroke="#262684" stroke-width="0.4" stroke-opacity="0.85"/>
<path d="M57.0,604.3 L57.7,604.0 L58.4,603.7 L59.1,603.4 L59.8,603.1 L60.5,602.8 L61.2,602.5 L61.9,602.3 L62.6,602.0 L63.3,601.8 L64.0,601.5 L64.7,601.3 L65.4,601.0 L66.1,600.8 L66.8,600.6 L67.4,600.4 L68.1,600.2 L68.8,600.0 L69.5,599.8 L70.2,599.6 L70.9,599.4 L71.6,599.2 L72.3,599.1 L73.0,598.9 L73.7,598.8 L74.4,598.6 L75.1,598.5 L75.8,598.3 L76.5,598.2 L77.2,598.1 L77.9,597.9 L78.6,597.8 L79.3,597.7 L80.0,597.6 L80.7,597.5 L81.4,597.4 L82.1,597.3 L82.8,597.2 L83.5,597.2 L84.2,597.1 L84.9,597.0 L85.6,596.9 L86.3,596.9 L86.9,596.8 L87.6,596.8 L88.3,596.7 L89.0,596.7 L89.7,596.7 L90.4,596.6 L91.1,596.6 L91.8,596.6 L92.5,596.6 L93.2,596.6 L93.9,596.6 L94.6,596.6 L95.3,596.6 L96.0,596.6 L96.7,596.6 L97.4,596.6 L98.1,596.6 L98.8,596.6 L99.5,596.7 L100.2,596.7 L100.9,596.7 L101.6,596.8 L102.3,596.8 L103.0,596.8 L103.7,596.9 L104.4,596.9 L105.1,597.0 L105.8,597.1 L106.5,597.1 L107.1,597.2 L107.8,597.3 L108.5,597.3 L109.2,597.4 L109.9,597.5 L110.6,597.6 L111.3,597.7 L112.0,597.8 L112.7,597.9 L113.4,598.0 L114.1,598.1 L114.8,598.2 L115.5,598.3 L116.2,598.4 L116.9,598.5 L117.6,598.6 L118.3,598.7 L119.0,598.8 L119.7,598.9 L120.4,599.1 L121.1,599.2 L121.8,599.3 L122.5,599.5 L123.2,599.6 L123.9,599.7 L124.6,599.9 L125.3,600.0 L126.0,600.1 L126.6,600.3 L127.3,600.4 L128.0,600.6 L128.7,600.7 L129.4,600.9 L130.1,601.0 L130.8,601.2 L131.5,601.4 L132.2,601.5 L132.9,601.7 L133.6,601.8 L134.3,602.0 L135.0,602.2 L135.7,602.3 L136.4,602.5 L137.1,602.7 L137.8,602.8 L138.5,603.0 L139.2,603.2 L139.9,603.3 L140.6,603.5 L141.3,603.7 L142.0,603.9 L142.7,604.0 L143.4,604.2 L144.1,604.4 L144.8,604.6 L145.5,604.8 L146.2,604.9 L146.8,605.1 L147.5,605.3 L148.2,605.5 L148.9,605.7 L149.6,605.9 L150.3,606.0 L151.0,606.2 L151.7,606.4 L152.4,606.6 L153.1,606.8 L153.8,607.0 L154.5,607.1 L155.2,607.3 L155.9,607.5 L156.6,607.7 L157.3,607.9 L158.0,608.1 L158.7,608.2 L159.4,608.4 L160.1,608.6 L160.8,608.8 L161.5,609.0 L162.2,609.1 L162.9,609.3 L163.6,609.5 L164.3,609.7 L165.0,609.9 L165.7,610.0 L166.3,610.2 L167.0,610.4 L167.7,610.6 L168.4,610.7 L169.1,610.9 L169.8,611.1 L170.5,611.2 L171.2,611.4 L171.9,611.6 L172.6,611.7 L173.3,611.9 L174.0,612.1 L174.7,612.2 L175.4,612.4 L176.1,612.6 L176.8,612.7 L177.5,612.9 L178.2,613.0 L178.9,613.2 L179.6,613.4 L180.3,613.5 L181.0,613.7 L181.7,613.8 L182.4,614.0 L183.1,614.1 L183.8,614.3 L184.5,614.4 L185.2,614.6 L185.9,614.7 L186.5,614.9 L187.2,615.0 L187.9,615.2 L188.6,615.3 L189.3,615.5 L190.0,615.6 L190.7,615.7 L191.4,615.9 L192.1,616.0 L192.8,616.2 L193.5,616.3 L194.2,616.4 L194.9,616.6 L195.6,616.7 L196.3,616.9 L197.0,617.0 L197.7,617.1 L198.4,617.3 L199.1,617.4 L199.8,617.5 L200.5,617.6 L201.2,617.8 L201.9,617.9 L202.6,618.0 L203.3,618.2 L204.0,618.3 L204.7,618.4 L205.4,618.5 L206.0,618.7 L206.7,618.8 L207.4,618.9 L208.1,619.0 L208.8,619.1 L209.5,619.3 L210.2,619.4 L210.9,619.5 L211.6,619.6 L212.3,619.7 L213.0,619.8 L213.7,619.9 L214.4,620.1 L215.1,620.2 L215.8,620.3 L216.5,620.4 L217.2,620.5 L217.9,620.6 L218.6,620.7 L219.3,620.8 L220.0,620.9 L220.7,621.0 L221.4,621.1 L222.1,621.2 L222.8,621.3 L223.5,621.4 L224.2,621.6 L224.9,621.7 L225.6,621.8 L226.2,621.8 L226.9,621.9 L227.6,622.0 L228.3,622.1 L229.0,622.2 L229.7,622.3 L230.4,622.4 L231.1,622.5 L231.8,622.6 L232.5,622.7 L233.2,622.8 L233.9,622.9 L234.6,623.0 L235.3,623.1 L236.0,623.2 L236.7,623.2 L237.4,623.3 L238.1,623.4 L238.8,623.5 L239.5,623.6 L240.2,623.7 L240.9,623.8 L241.6,623.8 L242.3,623.9 L243.0,624.0 L243.7,624.1 L244.4,624.2 L245.1,624.2 L245.7,624.3 L246.4,624.4 L247.1,624.5 L247.8,624.5 L248.5,624.6 L249.2,624.7 L249.9,624.8 L250.6,624.8 L251.3,624.9 L252.0,625.0 L252.7,625.1 L253.4,625.1 L254.1,625.2 L254.8,625.3 L255.5,625.3 L256.2,625.4 L256.9,625.5 L257.6,625.5 L258.3,625.6 L259.0,625.7 L259.7,625.7 L260.4,625.8 L261.1,625.9 L261.8,625.9 L262.5,626.0 L263.2,626.0 L263.9,626.1 L264.6,626.2 L265.3,626.2 L265.9,626.3 L266.6,626.3 L267.3,626.4 L268.0,626.4 L268.7,626.5 L269.4,626.6 L270.1,626.6 L270.8,626.7 L271.5,626.7 L272.2,626.8 L272.9,626.8 L273.6,626.9 L274.3,626.9 L275.0,627.0 L275.7,627.0 L276.4,627.1 L277.1,627.1 L277.8,627.2 L278.5,627.2 L279.2,627.3 L279.9,627.3 L280.6,627.4 L281.3,627.4 L282.0,627.4 L282.7,627.5 L283.4,627.5 L284.1,627.6 L284.8,627.6 L285.5,627.7 L286.1,627.7 L286.8,627.7 L287.5,627.8 L288.2,627.8 L288.9,627.9 L289.6,627.9 L290.3,627.9 L291.0,628.0 L291.7,628.0 L292.4,628.0 L293.1,628.1 L293.8,628.1 L294.5,628.1 L295.2,628.2 L295.9,628.2 L296.6,628.2 L297.3,628.3 L298.0,628.3 L298.7,628.3 L299.4,628.4 L300.1,628.4 L300.8,628.4 L301.5,628.5 L302.2,628.5 L302.9,628.5 L303.6,628.5 L304.3,628.6 L305.0,628.6 L305.6,628.6 L306.3,628.6 L307.0,628.7 L307.7,628.7 L308.4,628.7 L309.1,628.7 L309.8,628.8 L310.5,628.8 L311.2,628.8 L311.9,628.8 L312.6,628.9 L313.3,628.9 L314.0,628.9 L314.7,628.9 L315.4,628.9 L316.1,629.0 L316.8,629.0 L317.5,629.0 L318.2,629.0 L318.9,629.0 L319.6,629.0 L320.3,629.1 L321.0,629.1 L321.7,629.1 L322.4,629.1 L323.1,629.1 L323.8,629.1 L324.5,629.1 L325.2,629.2 L325.8,629.2 L326.5,629.2 L327.2,629.2 L327.9,629.2 L328.6,629.2 L329.3,629.2 L330.0,629.2 L330.7,629.2 L331.4,629.3 L332.1,629.3 L332.8,629.3 L333.5,629.3 L334.2,629.3 L334.9,629.3 L335.6,629.3 L336.3,629.3 L337.0,629.3 L337.7,629.3 L338.4,629.3 L339.1,629.3 L339.8,629.3 L340.5,629.3 L341.2,629.3 L341.9,629.3 L342.6,629.3 L343.3,629.4 L344.0,629.4 L344.7,629.4 L345.3,629.4 L346.0,629.4 L346.7,629.4 L347.4,629.4 L348.1,629.4 L348.8,629.4 L349.5,629.4 L350.2,629.4 L350.9,629.4 L351.6,629.4 L352.3,629.4 L353.0,629.4 L353.7,629.3 L354.4,629.3 L355.1,629.3 L355.8,629.3 L356.5,629.3 L357.2,629.3 L357.9,629.3 L358.6,629.3 L359.3,629.3 L360.0,629.3 L360.7,629.3 L361.4,629.3 L362.1,629.3 L362.8,629.3 L363.5,629.3 L364.2,629.3 L364.9,629.3 L365.5,629.3 L366.2,629.3 L366.9,629.2 L367.6,629.2 L368.3,629.2 L369.0,629.2 L369.7,629.2 L370.4,629.2 L371.1,629.2 L371.8,629.2 L372.5,629.2 L373.2,629.2 L373.9,629.1 L374.6,629.1 L375.3,629.1 L376.0,629.1 L376.7,629.1 L377.4,629.1 L378.1,629.1 L378.8,629.1 L379.5,629.1 L380.2,629.0 L380.9,629.0 L381.6,629.0 L382.3,629.0 L383.0,629.0 L383.7,629.0 L384.4,629.0 L385.0,628.9 L385.7,628.9 L386.4,628.9 L387.1,628.9 L387.8,628.9 L388.5,628.9 L389.2,628.8 L389.9,628.8 L390.6,628.8 L391.3,628.8 L392.0,628.8 L392.7,628.8 L393.4,628.8 L394.1,628.7 L394.8,628.7 L395.5,628.7 L396.2,628.7 L396.9,628.7 L397.6,628.6 L398.3,628.6 L399.0,628.6 L399.7,628.6 L400.4,628.6 L401.1,628.6 L401.8,628.5 L402.5,628.5 L403.2,628.5 L403.9,628.5 L404.6,628.5 L405.2,628.4 L405.9,628.4 L406.6,628.4 L407.3,628.4 L408.0,628.4 L408.7,628.3 L409.4,628.3 L410.1,628.3 L410.8,628.3 L411.5,628.3 L412.2,628.2 L412.9,628.2 L413.6,628.2 L414.3,628.2 L415.0,628.2 L415.7,628.1 L416.4,628.1 L417.1,628.1 L417.8,628.1 L418.5,628.0 L419.2,628.0 L419.9,628.0 L420.6,628.0 L421.3,628.0 L422.0,627.9 L422.7,627.9 L423.4,627.9 L424.1,627.9 L424.7,627.8 L425.4,627.8 L426.1,627.8 L426.8,627.8 L427.5,627.8 L428.2,627.7 L428.9,627.7 L429.6,627.7 L430.3,627.7 L431.0,627.6 L431.7,627.6 L432.4,627.6 L433.1,627.6 L433.8,627.5 L434.5,627.5 L435.2,627.5 L435.9,627.5 L436.6,627.5 L437.3,627.4 L438.0,627.4 L438.7,627.4 L439.4,627.4 L440.1,627.3 L440.8,627.3 L441.5,627.3 L442.2,627.3 L442.9,627.2 L443.6,627.2 L444.3,627.2 L444.9,627.2 L445.6,627.1 L446.3,627.1 L447.0,627.1 L447.7,627.1 L448.4,627.1 L449.1,627.0 L449.8,627.0 L450.5,627.0 L451.2,627.0 L451.9,626.9 L452.6,626.9 L453.3,626.9 L454.0,626.9 L454.7,626.8 L455.4,626.8 L456.1,626.8 L456.8,626.8 L457.5,626.8 L458.2,626.7 L458.9,626.7 L459.6,626.7 L460.3,626.7 L461.0,626.6 L461.7,626.6 L462.4,626.6 L463.1,626.6 L463.8,626.5 L464.4,626.5 L465.1,626.5 L465.8,626.5 L466.5,626.5 L467.2,626.4 L467.9,626.4 L468.6,626.4 L469.3,626.4 L470.0,626.3 L470.7,626.3 L471.4,626.3 L472.1,626.3 L472.8,626.3 L473.5,626.2 L474.2,626.2" fill="none" stroke="#000" stroke-width="3.1" stroke-linejoin="round" />
<text x="54.0" y="505.8" font-family="Liberation Sans" font-size="13.5" text-anchor="end" >0.35</text>
<text x="54.0" y="545.7" font-family="Liberation Sans" font-size="13.5" text-anchor="end" >0.3</text>
<line x1="57" y1="540.9" x2="61" y2="540.9" stroke="#c4c4c4" stroke-width="1"/>
<line x1="470.2" y1="540.9" x2="474.2" y2="540.9" stroke="#c4c4c4" stroke-width="1"/>
<text x="54.0" y="585.5" font-family="Liberation Sans" font-size="13.5" text-anchor="end" >0.25</text>
<line x1="57" y1="580.7" x2="61" y2="580.7" stroke="#c4c4c4" stroke-width="1"/>
<line x1="470.2" y1="580.7" x2="474.2" y2="580.7" stroke="#c4c4c4" stroke-width="1"/>
<text x="54.0" y="625.4" font-family="Liberation Sans" font-size="13.5" text-anchor="end" >0.2</text>
<line x1="57" y1="620.5" x2="61" y2="620.5" stroke="#c4c4c4" stroke-width="1"/>
<line x1="470.2" y1="620.5" x2="474.2" y2="620.5" stroke="#c4c4c4" stroke-width="1"/>
<text x="57.0" y="676.3" font-family="Liberation Sans" font-size="13.5" text-anchor="middle" >0</text>
<text x="126.5" y="676.3" font-family="Liberation Sans" font-size="13.5" text-anchor="middle" >50</text>
<line x1="126.5" y1="501" x2="126.5" y2="505" stroke="#c4c4c4" stroke-width="1"/>
<line x1="126.5" y1="656.4" x2="126.5" y2="660.4" stroke="#c4c4c4" stroke-width="1"/>
<text x="196.1" y="676.3" font-family="Liberation Sans" font-size="13.5" text-anchor="middle" >100</text>
<line x1="196.1" y1="501" x2="196.1" y2="505" stroke="#c4c4c4" stroke-width="1"/>
<line x1="196.1" y1="656.4" x2="196.1" y2="660.4" stroke="#c4c4c4" stroke-width="1"/>
<text x="265.6" y="676.3" font-family="Liberation Sans" font-size="13.5" text-anchor="middle" >150</text>
<line x1="265.6" y1="501" x2="265.6" y2="505" stroke="#c4c4c4" stroke-width="1"/>
<line x1="265.6" y1="656.4" x2="265.6" y2="660.4" stroke="#c4c4c4" stroke-width="1"/>
<text x="335.1" y="676.3" font-family="Liberation Sans" font-size="13.5" text-anchor="middle" >200</text>
<line x1="335.1" y1="501" x2="335.1" y2="505" stroke="#c4c4c4" stroke-width="1"/>
<line x1="335.1" y1="656.4" x2="335.1" y2="660.4" stroke="#c4c4c4" stroke-width="1"/>
<text x="404.7" y="676.3" font-family="Liberation Sans" font-size="13.5" text-anchor="middle" >250</text>
<line x1="404.7" y1="501" x2="404.7" y2="505" stroke="#c4c4c4" stroke-width="1"/>
<line x1="404.7" y1="656.4" x2="404.7" y2="660.4" stroke="#c4c4c4" stroke-width="1"/>
<text x="474.2" y="676.3" font-family="Liberation Sans" font-size="13.5" text-anchor="middle" >300</text>
<text transform="translate(20.6,582.3) rotate(-90)" font-family="Liberation Sans" font-size="13.5" text-anchor="middle" >[OH] (mol/L)</text>
<text x="265" y="689.5" font-family="Liberation Sans" font-size="13" text-anchor="middle" >Time (min)</text>
<rect x="312.7" y="506.6" width="157.8" height="54.7" fill="#fff"/>
<line x1="312.7" y1="506.6" x2="312.7" y2="561.3" stroke="#b9b9b9" stroke-width="1"/>
<line x1="470.5" y1="506.6" x2="470.5" y2="561.3" stroke="#b9b9b9" stroke-width="1"/>
<line x1="312.7" y1="561.3" x2="470.5" y2="561.3" stroke="#b9b9b9" stroke-width="1"/>
<line x1="318.2" y1="514" x2="344.5" y2="514" stroke="#00ff00" stroke-width="3" stroke-opacity="1"/>
<text x="347.5" y="517.4" font-family="Liberation Serif" font-size="16" font-weight="bold">x</text>
<text x="357.5" y="520.0" font-family="Liberation Serif" font-size="11.5" font-weight="bold">10</text>
<line x1="318.2" y1="530.6" x2="344.5" y2="530.6" stroke="#b4b4d0" stroke-width="1.2" stroke-opacity="1"/>
<text x="347.5" y="534.0" font-family="Liberation Serif" font-size="16" font-weight="bold">y</text>
<text x="357.5" y="536.6" font-family="Liberation Serif" font-size="11.5" font-weight="bold">3</text>
<text x="371.0" y="534.0" font-family="Liberation Serif" font-size="16" textLength="78" lengthAdjust="spacingAndGlyphs">under noise</text>
<line x1="318.2" y1="549" x2="344.5" y2="549" stroke="#000" stroke-width="3" stroke-opacity="1"/>
<text x="347.5" y="552.4" font-family="Liberation Serif" font-size="16" font-weight="bold">y</text>
<text x="357.5" y="555.0" font-family="Liberation Serif" font-size="11.5" font-weight="bold">3</text>
<text x="371.0" y="552.4" font-family="Liberation Serif" font-size="16" textLength="90.8" lengthAdjust="spacingAndGlyphs">after filtering</text>
<line x1="57.2" y1="724.4" x2="474.2" y2="724.4" stroke="#b9b9b9" stroke-width="1"/>
<line x1="474.2" y1="724.4" x2="474.2" y2="885" stroke="#b9b9b9" stroke-width="1"/>
<path d="M57.2,870.4 L58.6,870.0 L60.0,869.5 L61.4,869.0 L62.8,868.5 L64.2,868.1 L65.5,867.6 L66.9,867.1 L68.3,866.6 L69.7,866.2 L71.1,865.7 L72.5,865.2 L73.9,864.7 L75.3,864.3 L76.7,863.8 L78.1,863.3 L79.4,862.8 L80.8,862.4 L82.2,861.9 L83.6,861.4 L85.0,860.9 L86.4,860.4 L87.8,860.0 L89.2,859.5 L90.6,859.0 L92.0,858.5 L93.3,858.0 L94.7,857.6 L96.1,857.1 L97.5,856.6 L98.9,856.1 L100.3,855.6 L101.7,855.2 L103.1,854.7 L104.5,854.2 L105.8,853.7 L107.2,853.2 L108.6,852.8 L110.0,852.3 L111.4,851.8 L112.8,851.3 L114.2,850.8 L115.6,850.3 L117.0,849.9 L118.4,849.4 L119.8,848.9 L121.1,848.4 L122.5,847.9 L123.9,847.4 L125.3,846.9 L126.7,846.5 L128.1,846.0 L129.5,845.5 L130.9,845.0 L132.3,844.5 L133.6,844.0 L135.0,843.5 L136.4,843.0 L137.8,842.5 L139.2,842.0 L140.6,841.5 L142.0,841.0 L143.4,840.5 L144.8,840.0 L146.2,839.5 L147.6,839.0 L148.9,838.5 L150.3,838.0 L151.7,837.5 L153.1,837.0 L154.5,836.5 L155.9,836.0 L157.3,835.5 L158.7,835.0 L160.1,834.5 L161.4,834.0 L162.8,833.5 L164.2,833.0 L165.6,832.5 L167.0,832.0 L168.4,831.6 L169.8,831.1 L171.2,830.6 L172.6,830.1 L174.0,829.6 L175.3,829.1 L176.7,828.6 L178.1,828.1 L179.5,827.6 L180.9,827.1 L182.3,826.6 L183.7,826.1 L185.1,825.7 L186.5,825.2 L187.9,824.7 L189.2,824.2 L190.6,823.7 L192.0,823.2 L193.4,822.8 L194.8,822.3 L196.2,821.8 L197.6,821.4 L199.0,820.9 L200.4,820.4 L201.8,820.0 L203.1,819.5 L204.5,819.0 L205.9,818.6 L207.3,818.1 L208.7,817.6 L210.1,817.2 L211.5,816.7 L212.9,816.3 L214.3,815.8 L215.7,815.4 L217.1,814.9 L218.4,814.4 L219.8,814.0 L221.2,813.5 L222.6,813.1 L224.0,812.6 L225.4,812.2 L226.8,811.7 L228.2,811.3 L229.6,810.8 L230.9,810.4 L232.3,809.9 L233.7,809.5 L235.1,809.1 L236.5,808.6 L237.9,808.2 L239.3,807.7 L240.7,807.3 L242.1,806.8 L243.5,806.4 L244.9,805.9 L246.2,805.5 L247.6,805.1 L249.0,804.6 L250.4,804.2 L251.8,803.7 L253.2,803.3 L254.6,802.9 L256.0,802.4 L257.4,802.0 L258.8,801.5 L260.1,801.1 L261.5,800.7 L262.9,800.2 L264.3,799.8 L265.7,799.3 L267.1,798.9 L268.5,798.5 L269.9,798.0 L271.3,797.6 L272.7,797.1 L274.0,796.7 L275.4,796.3 L276.8,795.8 L278.2,795.4 L279.6,794.9 L281.0,794.5 L282.4,794.1 L283.8,793.6 L285.2,793.2 L286.6,792.7 L287.9,792.3 L289.3,791.9 L290.7,791.4 L292.1,791.0 L293.5,790.5 L294.9,790.1 L296.3,789.7 L297.7,789.2 L299.1,788.8 L300.5,788.4 L301.8,787.9 L303.2,787.5 L304.6,787.1 L306.0,786.6 L307.4,786.2 L308.8,785.8 L310.2,785.3 L311.6,784.9 L313.0,784.5 L314.4,784.1 L315.7,783.6 L317.1,783.2 L318.5,782.8 L319.9,782.4 L321.3,782.0 L322.7,781.6 L324.1,781.2 L325.5,780.7 L326.9,780.3 L328.2,779.9 L329.6,779.5 L331.0,779.1 L332.4,778.7 L333.8,778.3 L335.2,777.9 L336.6,777.5 L338.0,777.1 L339.4,776.7 L340.8,776.3 L342.1,775.9 L343.5,775.5 L344.9,775.1 L346.3,774.7 L347.7,774.3 L349.1,773.9 L350.5,773.5 L351.9,773.1 L353.3,772.7 L354.7,772.3 L356.1,771.9 L357.4,771.5 L358.8,771.1 L360.2,770.7 L361.6,770.3 L363.0,769.9 L364.4,769.5 L365.8,769.1 L367.2,768.7 L368.6,768.3 L369.9,767.9 L371.3,767.6 L372.7,767.2 L374.1,766.8 L375.5,766.4 L376.9,766.1 L378.3,765.7 L379.7,765.3 L381.1,765.0 L382.5,764.6 L383.8,764.3 L385.2,763.9 L386.6,763.6 L388.0,763.3 L389.4,762.9 L390.8,762.6 L392.2,762.3 L393.6,762.0 L395.0,761.7 L396.4,761.4 L397.8,761.1 L399.1,760.8 L400.5,760.5 L401.9,760.3 L403.3,760.0 L404.7,759.7 L406.1,759.5 L407.5,759.2 L408.9,759.0 L410.3,758.7 L411.6,758.5 L413.0,758.2 L414.4,758.0 L415.8,757.8 L417.2,757.5 L418.6,757.3 L420.0,757.1 L421.4,756.8 L422.8,756.6 L424.2,756.4 L425.5,756.1 L426.9,755.9 L428.3,755.7 L429.7,755.5 L431.1,755.3 L432.5,755.0 L433.9,754.8 L435.3,754.6 L436.7,754.4 L438.1,754.2 L439.4,754.0 L440.8,753.8 L442.2,753.6 L443.6,753.4 L445.0,753.2 L446.4,753.0 L447.8,752.9 L449.2,752.7 L450.6,752.5 L452.0,752.3 L453.3,752.2 L454.7,752.0 L456.1,751.8 L457.5,751.7 L458.9,751.5 L460.3,751.4 L461.7,751.2 L463.1,751.1 L464.5,751.0 L465.9,750.8 L467.2,750.7 L468.6,750.6 L470.0,750.4 L471.4,750.3 L472.8,750.2 L474.2,750.1" fill="none" stroke="#00ff00" stroke-width="3" stroke-linejoin="round" />
<path d="M57.2,816.8 L57.9,816.8 L58.6,816.8 L59.3,816.8 L60.1,816.8 L60.8,816.8 L61.5,816.8 L62.2,816.8 L62.9,816.8 L63.6,816.9 L64.3,816.9 L65.0,816.9 L65.8,816.9 L66.5,816.9 L67.2,816.9 L67.9,816.9 L68.6,816.9 L69.3,817.0 L70.0,817.0 L70.7,817.0 L71.5,817.0 L72.2,817.1 L72.9,817.1 L73.6,817.1 L74.3,817.2 L75.0,817.2 L75.7,817.3 L76.4,817.4 L77.2,817.4 L77.9,817.5 L78.6,817.6 L79.3,817.7 L80.0,817.8 L80.7,817.9 L81.4,818.0 L82.1,818.1 L82.9,818.2 L83.6,818.3 L84.3,818.4 L85.0,818.5 L85.0,870.4 L86.3,870.4 L87.5,870.4 L88.8,870.3 L90.1,870.3 L91.3,870.2 L92.6,870.2 L93.8,870.2 L95.1,870.1 L96.4,870.1 L97.6,870.0 L98.9,870.0 L98.9,863.6 L100.2,863.3 L101.4,863.1 L102.7,862.9 L104.0,862.6 L105.2,862.4 L106.5,862.1 L107.7,861.9 L109.0,861.6 L110.3,861.4 L111.5,861.2 L112.8,860.9 L112.8,860.9 L114.1,860.6 L115.3,860.3 L116.6,860.0 L117.9,859.7 L119.1,859.4 L120.4,859.1 L121.6,858.8 L122.9,858.5 L124.2,858.2 L125.4,857.9 L126.7,857.6 L126.7,852.7 L128.0,852.2 L129.2,851.8 L130.5,851.4 L131.8,850.9 L133.0,850.5 L134.3,850.1 L135.5,849.6 L136.8,849.2 L138.1,848.7 L139.3,848.3 L140.6,847.8 L140.6,846.5 L141.9,845.8 L143.1,845.1 L144.4,844.4 L145.7,843.7 L146.9,843.1 L148.2,842.4 L149.4,841.7 L150.7,841.0 L152.0,840.3 L153.2,839.6 L154.5,839.0 L154.5,833.6 L155.8,833.2 L157.0,832.9 L158.3,832.5 L159.6,832.2 L160.8,831.8 L162.1,831.4 L163.3,831.1 L164.6,830.7 L165.9,830.4 L167.1,830.0 L168.4,829.6 L168.4,830.7 L169.7,830.4 L170.9,830.1 L172.2,829.7 L173.5,829.4 L174.7,829.1 L176.0,828.8 L177.2,828.5 L178.5,828.1 L179.8,827.8 L181.0,827.5 L182.3,827.2 L182.3,827.2 L183.6,826.9 L184.8,826.7 L186.1,826.4 L187.4,826.1 L188.6,825.9 L189.9,825.6 L191.1,825.3 L192.4,825.1 L193.7,824.8 L194.9,824.6 L196.2,824.3 L196.2,818.5 L197.5,818.1 L198.7,817.8 L200.0,817.4 L201.3,817.1 L202.5,816.7 L203.8,816.3 L205.0,816.0 L206.3,815.6 L207.6,815.3 L208.8,814.9 L210.1,814.6 L210.1,819.0 L211.4,818.7 L212.6,818.4 L213.9,818.0 L215.2,817.7 L216.4,817.4 L217.7,817.1 L218.9,816.7 L220.2,816.4 L221.5,816.1 L222.7,815.7 L224.0,815.4 L224.0,809.8 L225.3,809.5 L226.5,809.1 L227.8,808.8 L229.1,808.4 L230.3,808.1 L231.6,807.7 L232.8,807.4 L234.1,807.0 L235.4,806.7 L236.6,806.3 L237.9,806.0 L237.9,816.8 L239.2,816.4 L240.4,816.1 L241.7,815.7 L243.0,815.3 L244.2,814.9 L245.5,814.6 L246.7,814.2 L248.0,813.8 L249.3,813.5 L250.5,813.1 L251.8,812.7 L251.8,804.3 L253.1,803.9 L254.3,803.5 L255.6,803.1 L256.9,802.7 L258.1,802.3 L259.4,801.9 L260.6,801.5 L261.9,801.2 L263.2,800.8 L264.4,800.4 L265.7,800.0 L265.7,800.0 L267.0,799.6 L268.2,799.3 L269.5,798.9 L270.8,798.6 L272.0,798.2 L273.3,797.9 L274.5,797.5 L275.8,797.2 L277.1,796.8 L278.3,796.5 L279.6,796.1 L279.6,794.0 L280.9,793.6 L282.1,793.2 L283.4,792.9 L284.7,792.5 L285.9,792.1 L287.2,791.7 L288.4,791.3 L289.7,791.0 L291.0,790.6 L292.2,790.2 L293.5,789.8 L293.5,795.3 L294.8,794.9 L296.0,794.5 L297.3,794.1 L298.6,793.7 L299.8,793.3 L301.1,792.9 L302.3,792.5 L303.6,792.2 L304.9,791.8 L306.1,791.4 L307.4,791.0 L307.4,784.6 L308.7,784.3 L309.9,784.0 L311.2,783.7 L312.5,783.4 L313.7,783.0 L315.0,782.7 L316.2,782.4 L317.5,782.1 L318.8,781.8 L320.0,781.5 L321.3,781.3 L321.3,784.9 L322.6,784.7 L323.8,784.4 L325.1,784.2 L326.4,783.9 L327.6,783.7 L328.9,783.5 L330.1,783.2 L331.4,783.0 L332.7,782.8 L333.9,782.6 L335.2,782.3 L335.2,775.5 L336.5,775.2 L337.7,775.0 L339.0,774.7 L340.3,774.5 L341.5,774.2 L342.8,774.0 L344.0,773.7 L345.3,773.5 L346.6,773.2 L347.8,772.9 L349.1,772.7 L349.1,779.1 L350.4,778.9 L351.6,778.6 L352.9,778.3 L354.2,778.1 L355.4,777.8 L356.7,777.6 L357.9,777.3 L359.2,777.1 L360.5,776.8 L361.7,776.6 L363.0,776.3 L363.0,770.5 L364.3,770.2 L365.5,769.8 L366.8,769.5 L368.1,769.2 L369.3,768.8 L370.6,768.5 L371.8,768.1 L373.1,767.8 L374.4,767.5 L375.6,767.1 L376.9,766.8 L376.9,768.3 L378.2,768.0 L379.4,767.7 L380.7,767.4 L382.0,767.1 L383.2,766.8 L384.5,766.5 L385.7,766.2 L387.0,765.9 L388.3,765.6 L389.5,765.4 L390.8,765.1 L390.8,764.0 L392.1,763.8 L393.3,763.6 L394.6,763.4 L395.9,763.2 L397.1,763.0 L398.4,762.8 L399.6,762.6 L400.9,762.4 L402.2,762.2 L403.4,762.0 L404.7,761.9 L404.7,761.9 L406.0,761.7 L407.2,761.5 L408.5,761.3 L409.8,761.1 L411.0,760.9 L412.3,760.7 L413.5,760.5 L414.8,760.3 L416.1,760.1 L417.3,759.9 L418.6,759.7 L418.6,758.7 L419.9,758.5 L421.1,758.3 L422.4,758.1 L423.7,757.9 L424.9,757.7 L426.2,757.5 L427.4,757.3 L428.7,757.1 L430.0,756.9 L431.2,756.7 L432.5,756.5 L432.5,753.3 L433.8,753.2 L435.0,753.0 L436.3,752.8 L437.6,752.7 L438.8,752.5 L440.1,752.4 L441.3,752.3 L442.6,752.1 L443.9,752.0 L445.1,751.8 L446.4,751.7 L446.4,751.2 L447.7,751.0 L448.9,750.7 L450.2,750.5 L451.5,750.3 L452.7,750.1 L454.0,749.9 L455.2,749.8 L456.5,749.6 L457.8,749.4 L459.0,749.2 L460.3,749.0 L460.3,754.4 L461.6,754.2 L462.8,753.9 L464.1,753.7 L465.4,753.5 L466.6,753.3 L467.9,753.1 L469.1,752.9 L470.4,752.8 L471.7,752.6 L472.9,752.4 L474.2,752.2" fill="none" stroke="#0000ff" stroke-width="3" stroke-linejoin="round" />
<text x="54.2" y="729.2" font-family="Liberation Sans" font-size="13.5" text-anchor="end" >0.02</text>
<text x="54.2" y="782.8" font-family="Liberation Sans" font-size="13.5" text-anchor="end" >0.015</text>
<line x1="57.2" y1="777.9" x2="61.2" y2="777.9" stroke="#c4c4c4" stroke-width="1"/>
<line x1="470.2" y1="777.9" x2="474.2" y2="777.9" stroke="#c4c4c4" stroke-width="1"/>
<text x="54.2" y="836.3" font-family="Liberation Sans" font-size="13.5" text-anchor="end" >0.01</text>
<line x1="57.2" y1="831.5" x2="61.2" y2="831.5" stroke="#c4c4c4" stroke-width="1"/>
<line x1="470.2" y1="831.5" x2="474.2" y2="831.5" stroke="#c4c4c4" stroke-width="1"/>
<text x="54.2" y="889.8" font-family="Liberation Sans" font-size="13.5" text-anchor="end" >0.005</text>
<text x="57.2" y="900.2" font-family="Liberation Sans" font-size="13.5" text-anchor="middle" >0</text>
<text x="126.7" y="900.2" font-family="Liberation Sans" font-size="13.5" text-anchor="middle" >50</text>
<line x1="126.7" y1="724.4" x2="126.7" y2="728.4" stroke="#c4c4c4" stroke-width="1"/>
<line x1="126.7" y1="881" x2="126.7" y2="885" stroke="#c4c4c4" stroke-width="1"/>
<text x="196.2" y="900.2" font-family="Liberation Sans" font-size="13.5" text-anchor="middle" >100</text>
<line x1="196.2" y1="724.4" x2="196.2" y2="728.4" stroke="#c4c4c4" stroke-width="1"/>
<line x1="196.2" y1="881" x2="196.2" y2="885" stroke="#c4c4c4" stroke-width="1"/>
<text x="265.7" y="900.2" font-family="Liberation Sans" font-size="13.5" text-anchor="middle" >150</text>
<line x1="265.7" y1="724.4" x2="265.7" y2="728.4" stroke="#c4c4c4" stroke-width="1"/>
<line x1="265.7" y1="881" x2="265.7" y2="885" stroke="#c4c4c4" stroke-width="1"/>
<text x="335.2" y="900.2" font-family="Liberation Sans" font-size="13.5" text-anchor="middle" >200</text>
<line x1="335.2" y1="724.4" x2="335.2" y2="728.4" stroke="#c4c4c4" stroke-width="1"/>
<line x1="335.2" y1="881" x2="335.2" y2="885" stroke="#c4c4c4" stroke-width="1"/>
<text x="404.7" y="900.2" font-family="Liberation Sans" font-size="13.5" text-anchor="middle" >250</text>
<line x1="404.7" y1="724.4" x2="404.7" y2="728.4" stroke="#c4c4c4" stroke-width="1"/>
<line x1="404.7" y1="881" x2="404.7" y2="885" stroke="#c4c4c4" stroke-width="1"/>
<text x="474.2" y="900.2" font-family="Liberation Sans" font-size="13.5" text-anchor="middle" >300</text>
<text transform="translate(13.2,805.4) rotate(-90)" font-family="Liberation Sans" font-size="13.5" text-anchor="middle" >[COOH] (mol/L)</text>
<text x="264.8" y="915.2" font-family="Liberation Sans" font-size="13" text-anchor="middle" >Time (min)</text>
<line x1="470.5" y1="845" x2="470.5" y2="881" stroke="#b9b9b9" stroke-width="1"/>
<line x1="330.5" y1="853.2" x2="356.7" y2="853.2" stroke="#00ff00" stroke-width="3" stroke-opacity="1"/>
<text x="359.3" y="856.6" font-family="Liberation Serif" font-size="16" font-weight="bold">x</text>
<text x="369.3" y="859.2" font-family="Liberation Serif" font-size="11.5" font-weight="bold">11</text>
<line x1="330.5" y1="869.8" x2="356.7" y2="869.8" stroke="#0000ff" stroke-width="3" stroke-opacity="1"/>
<text x="359.3" y="873.1999999999999" font-family="Liberation Serif" font-size="16" font-weight="bold">ŷ</text>
<text x="369.3" y="875.8" font-family="Liberation Serif" font-size="11.5" font-weight="bold">6</text>
<text x="382.8" y="873.1999999999999" font-family="Liberation Serif" font-size="16" textLength="78" lengthAdjust="spacingAndGlyphs">under noise</text>
<text x="254.5" y="958.5" font-family="Liberation Serif" font-size="26" text-anchor="middle" >(c)</text>
<line x1="581.8" y1="506" x2="1008" y2="506" stroke="#b9b9b9" stroke-width="1"/>
<line x1="581.8" y1="599.8" x2="1008" y2="599.8" stroke="#b9b9b9" stroke-width="1"/>
<line x1="581.8" y1="506" x2="581.8" y2="599.6" stroke="#b9b9b9" stroke-width="1"/>
<path d="M581.8,599.0 L582.3,598.5 L582.7,598.1 L583.2,597.6 L583.7,597.1 L584.2,596.7 L584.6,596.3 L585.1,595.8 L585.6,595.4 L586.1,594.9 L586.5,594.5 L587.0,594.1 L587.5,593.7 L588.0,593.2 L588.4,592.8 L588.9,592.4 L589.4,592.0 L589.9,591.6 L590.3,591.2 L590.8,590.8 L591.3,590.4 L591.7,590.0 L592.2,589.6 L592.7,589.2 L593.2,588.9 L593.6,588.5 L594.1,588.1 L594.6,587.7 L595.1,587.4 L595.5,587.0 L596.0,586.6 L596.5,586.3 L597.0,585.9 L597.4,585.5 L597.9,585.2 L598.4,584.8 L598.8,584.5 L599.3,584.2 L599.8,583.8 L600.3,583.5 L600.7,583.1 L601.2,582.8 L601.7,582.5 L602.2,582.2 L602.6,581.8 L603.1,581.5 L603.6,581.2 L604.1,580.9 L604.5,580.6 L605.0,580.3 L605.5,579.9 L606.0,579.6 L606.4,579.3 L606.9,579.0 L607.4,578.7 L607.8,578.4 L608.3,578.1 L608.8,577.9 L609.3,577.6 L609.7,577.3 L610.2,577.0 L610.7,576.7 L611.2,576.4 L611.6,576.2 L612.1,575.9 L612.6,575.6 L613.1,575.3 L613.5,575.1 L614.0,574.8 L614.5,574.6 L614.9,574.3 L615.4,574.0 L615.9,573.8 L616.4,573.5 L616.8,573.3 L617.3,573.0 L617.8,572.8 L618.3,572.5 L618.7,572.3 L619.2,572.0 L619.7,571.8 L620.2,571.6 L620.6,571.3 L621.1,571.1 L621.6,570.9 L622.1,570.6 L622.5,570.4 L623.0,570.2 L623.5,570.0 L623.9,569.7 L624.4,569.5 L624.9,569.3 L625.4,569.1 L625.8,568.9 L626.3,568.6 L626.8,568.4 L627.3,568.2 L627.7,568.0 L628.2,567.8 L628.7,567.6 L629.2,567.4 L629.6,567.2 L630.1,567.0 L630.6,566.8 L631.0,566.6 L631.5,566.4 L632.0,566.2 L632.5,566.0 L632.9,565.8 L633.4,565.6 L633.9,565.5 L634.4,565.3 L634.8,565.1 L635.3,564.9 L635.8,564.7 L636.3,564.5 L636.7,564.4 L637.2,564.2 L637.7,564.0 L638.2,563.8 L638.6,563.7 L639.1,563.5 L639.6,563.3 L640.0,563.2 L640.5,563.0 L641.0,562.8 L641.5,562.7 L641.9,562.5 L642.4,562.3 L642.9,562.2 L643.4,562.0 L643.8,561.9 L644.3,561.7 L644.8,561.6 L645.3,561.4 L645.7,561.3 L646.2,561.1 L646.7,561.0 L647.2,560.8 L647.6,560.7 L648.1,560.5 L648.6,560.4 L649.0,560.2 L649.5,560.1 L650.0,559.9 L650.5,559.8 L650.9,559.7 L651.4,559.5 L651.9,559.4 L652.4,559.3 L652.8,559.1 L653.3,559.0 L653.8,558.9 L654.3,558.7 L654.7,558.6 L655.2,558.5 L655.7,558.3 L656.1,558.2 L656.6,558.1 L657.1,558.0 L657.6,557.8 L658.0,557.7 L658.5,557.6 L659.0,557.5 L659.5,557.4 L659.9,557.2 L660.4,557.1 L660.9,557.0 L661.4,556.9 L661.8,556.8 L662.3,556.7 L662.8,556.6 L663.3,556.4 L663.7,556.3 L664.2,556.2 L664.7,556.1 L665.1,556.0 L665.6,555.9 L666.1,555.8 L666.6,555.7 L667.0,555.6 L667.5,555.5 L668.0,555.4 L668.5,555.3 L668.9,555.2 L669.4,555.1 L669.9,555.0 L670.4,554.9 L670.8,554.8 L671.3,554.7 L671.8,554.6 L672.2,554.5 L672.7,554.4 L673.2,554.3 L673.7,554.2 L674.1,554.1 L674.6,554.0 L675.1,553.9 L675.6,553.9 L676.0,553.8 L676.5,553.7 L677.0,553.6 L677.5,553.5 L677.9,553.4 L678.4,553.3 L678.9,553.2 L679.4,553.2 L679.8,553.1 L680.3,553.0 L680.8,552.9 L681.2,552.8 L681.7,552.8 L682.2,552.7 L682.7,552.6 L683.1,552.5 L683.6,552.4 L684.1,552.4 L684.6,552.3 L685.0,552.2 L685.5,552.1 L686.0,552.1 L686.5,552.0 L686.9,551.9 L687.4,551.8 L687.9,551.8 L688.3,551.7 L688.8,551.6 L689.3,551.6 L689.8,551.5 L690.2,551.4 L690.7,551.3 L691.2,551.3 L691.7,551.2 L692.1,551.1 L692.6,551.1 L693.1,551.0 L693.6,550.9 L694.0,550.9 L694.5,550.8 L695.0,550.7 L695.5,550.7 L695.9,550.6 L696.4,550.6 L696.9,550.5 L697.3,550.4 L697.8,550.4 L698.3,550.3 L698.8,550.3 L699.2,550.2 L699.7,550.1 L700.2,550.1 L700.7,550.0 L701.1,550.0 L701.6,549.9 L702.1,549.9 L702.6,549.8 L703.0,549.7 L703.5,549.7 L704.0,549.6 L704.5,549.6 L704.9,549.5 L705.4,549.5 L705.9,549.4 L706.3,549.4 L706.8,549.3 L707.3,549.3 L707.8,549.2 L708.2,549.2 L708.7,549.1 L709.2,549.1 L709.7,549.0 L710.1,549.0 L710.6,548.9 L711.1,548.9 L711.6,548.8 L712.0,548.8 L712.5,548.7 L713.0,548.7 L713.4,548.6 L713.9,548.6 L714.4,548.5 L714.9,548.5 L715.3,548.5 L715.8,548.4 L716.3,548.4 L716.8,548.3 L717.2,548.3 L717.7,548.2 L718.2,548.2 L718.7,548.2 L719.1,548.1 L719.6,548.1 L720.1,548.0 L720.6,548.0 L721.0,547.9 L721.5,547.9 L722.0,547.9 L722.4,547.8 L722.9,547.8 L723.4,547.8 L723.9,547.7 L724.3,547.7 L724.8,547.6 L725.3,547.6 L725.8,547.6 L726.2,547.5 L726.7,547.5 L727.2,547.5 L727.7,547.4 L728.1,547.4 L728.6,547.3 L729.1,547.3 L729.5,547.3 L730.0,547.2 L730.5,547.2 L731.0,547.2 L731.4,547.1 L731.9,547.1 L732.4,547.1 L732.9,547.0 L733.3,547.0 L733.8,547.0 L734.3,546.9 L734.8,546.9 L735.2,546.9 L735.7,546.9 L736.2,546.8 L736.7,546.8 L737.1,546.8 L737.6,546.7 L738.1,546.7 L738.5,546.7 L739.0,546.6 L739.5,546.6 L740.0,546.6 L740.4,546.6 L740.9,546.5 L741.4,546.5 L741.9,546.5 L742.3,546.4 L742.8,546.4 L743.3,546.4 L743.8,546.4 L744.2,546.3 L744.7,546.3 L745.2,546.3 L745.7,546.3 L746.1,546.2 L746.6,546.2 L747.1,546.2 L747.5,546.2 L748.0,546.1 L748.5,546.1 L749.0,546.1 L749.4,546.1 L749.9,546.0 L750.4,546.0 L750.9,546.0 L751.3,546.0 L751.8,545.9 L752.3,545.9 L752.8,545.9 L753.2,545.9 L753.7,545.8 L754.2,545.8 L754.6,545.8 L755.1,545.8 L755.6,545.8 L756.1,545.7 L756.5,545.7 L757.0,545.7 L757.5,545.7 L758.0,545.6 L758.4,545.6 L758.9,545.6 L759.4,545.6 L759.9,545.6 L760.3,545.5 L760.8,545.5 L761.3,545.5 L761.8,545.5 L762.2,545.5 L762.7,545.4 L763.2,545.4 L763.6,545.4 L764.1,545.4 L764.6,545.4 L765.1,545.3 L765.5,545.3 L766.0,545.3 L766.5,545.3 L767.0,545.3 L767.4,545.3 L767.9,545.2 L768.4,545.2 L768.9,545.2 L769.3,545.2 L769.8,545.2 L770.3,545.2 L770.7,545.1 L771.2,545.1 L771.7,545.1 L772.2,545.1 L772.6,545.1 L773.1,545.1 L773.6,545.0 L774.1,545.0 L774.5,545.0 L775.0,545.0 L775.5,545.0 L776.0,545.0 L776.4,544.9 L776.9,544.9 L777.4,544.9 L777.9,544.9 L778.3,544.9 L778.8,544.9 L779.3,544.9 L779.7,544.8 L780.2,544.8 L780.7,544.8 L781.2,544.8 L781.6,544.8 L782.1,544.8 L782.6,544.8 L783.1,544.7 L783.5,544.7 L784.0,544.7 L784.5,544.7 L785.0,544.7 L785.4,544.7 L785.9,544.7 L786.4,544.7 L786.8,544.6 L787.3,544.6 L787.8,544.6 L788.3,544.6 L788.7,544.6 L789.2,544.6 L789.7,544.6 L790.2,544.6 L790.6,544.5 L791.1,544.5 L791.6,544.5 L792.1,544.5 L792.5,544.5 L793.0,544.5 L793.5,544.5 L794.0,544.5 L794.4,544.5 L794.9,544.4 L795.4,544.4 L795.8,544.4 L796.3,544.4 L796.8,544.4 L797.3,544.4 L797.7,544.4 L798.2,544.4 L798.7,544.4 L799.2,544.3 L799.6,544.3 L800.1,544.3 L800.6,544.3 L801.1,544.3 L801.5,544.3 L802.0,544.3 L802.5,544.3 L803.0,544.3 L803.4,544.3 L803.9,544.2 L804.4,544.2 L804.8,544.2 L805.3,544.2 L805.8,544.2 L806.3,544.2 L806.7,544.2 L807.2,544.2 L807.7,544.2 L808.2,544.2 L808.6,544.2 L809.1,544.2 L809.6,544.1 L810.1,544.1 L810.5,544.1 L811.0,544.1 L811.5,544.1 L811.9,544.1 L812.4,544.1 L812.9,544.1 L813.4,544.1 L813.8,544.1 L814.3,544.1 L814.8,544.1 L815.3,544.0 L815.7,544.0 L816.2,544.0 L816.7,544.0 L817.2,544.0 L817.6,544.0 L818.1,544.0 L818.6,544.0 L819.1,544.0 L819.5,544.0 L820.0,544.0 L820.5,544.0 L820.9,544.0 L821.4,544.0 L821.9,543.9 L822.4,543.9 L822.8,543.9 L823.3,543.9 L823.8,543.9 L824.3,543.9 L824.7,543.9 L825.2,543.9 L825.7,543.9 L826.2,543.9 L826.6,543.9 L827.1,543.9 L827.6,543.9 L828.0,543.9 L828.5,543.9 L829.0,543.8 L829.5,543.8 L829.9,543.8 L830.4,543.8 L830.9,543.8 L831.4,543.8 L831.8,543.8 L832.3,543.8 L832.8,543.8 L833.3,543.8 L833.7,543.8 L834.2,543.8 L834.7,543.8 L835.2,543.8 L835.6,543.8 L836.1,543.8 L836.6,543.8 L837.0,543.8 L837.5,543.7 L838.0,543.7 L838.5,543.7 L838.9,543.7 L839.4,543.7 L839.9,543.7 L840.4,543.7 L840.8,543.7 L841.3,543.7 L841.8,543.7 L842.3,543.7 L842.7,543.7 L843.2,543.7 L843.7,543.7 L844.1,543.7 L844.6,543.7 L845.1,543.7 L845.6,543.7 L846.0,543.7 L846.5,543.7 L847.0,543.7 L847.5,543.6 L847.9,543.6 L848.4,543.6 L848.9,543.6 L849.4,543.6 L849.8,543.6 L850.3,543.6 L850.8,543.6 L851.3,543.6 L851.7,543.6 L852.2,543.6 L852.7,543.6 L853.1,543.6 L853.6,543.6 L854.1,543.6 L854.6,543.6 L855.0,543.6 L855.5,543.6 L856.0,543.6 L856.5,543.6 L856.9,543.6 L857.4,543.6 L857.9,543.6 L858.4,543.6 L858.8,543.6 L859.3,543.6 L859.8,543.5 L860.3,543.5 L860.7,543.5 L861.2,543.5 L861.7,543.5 L862.1,543.5 L862.6,543.5 L863.1,543.5 L863.6,543.5 L864.0,543.5 L864.5,543.5 L865.0,543.5 L865.5,543.5 L865.9,543.5 L866.4,543.5 L866.9,543.5 L867.4,543.5 L867.8,543.5 L868.3,543.5 L868.8,543.5 L869.2,543.5 L869.7,543.5 L870.2,543.5 L870.7,543.5 L871.1,543.5 L871.6,543.5 L872.1,543.5 L872.6,543.5 L873.0,543.5 L873.5,543.5 L874.0,543.5 L874.5,543.5 L874.9,543.4 L875.4,543.4 L875.9,543.4 L876.4,543.4 L876.8,543.4 L877.3,543.4 L877.8,543.4 L878.2,543.4 L878.7,543.4 L879.2,543.4 L879.7,543.4 L880.1,543.4 L880.6,543.4 L881.1,543.4 L881.6,543.4 L882.0,543.4 L882.5,543.4 L883.0,543.4 L883.5,543.4 L883.9,543.4 L884.4,543.4 L884.9,543.4 L885.3,543.4 L885.8,543.4 L886.3,543.4 L886.8,543.4 L887.2,543.4 L887.7,543.4 L888.2,543.4 L888.7,543.4 L889.1,543.4 L889.6,543.4 L890.1,543.4 L890.6,543.4 L891.0,543.4 L891.5,543.4 L892.0,543.4 L892.5,543.4 L892.9,543.4 L893.4,543.4 L893.9,543.4 L894.3,543.4 L894.8,543.4 L895.3,543.4 L895.8,543.4 L896.2,543.3 L896.7,543.3 L897.2,543.3 L897.7,543.3 L898.1,543.3 L898.6,543.3 L899.1,543.3 L899.6,543.3 L900.0,543.3 L900.5,543.3 L901.0,543.3 L901.5,543.3 L901.9,543.3 L902.4,543.3 L902.9,543.3 L903.3,543.3 L903.8,543.3 L904.3,543.3 L904.8,543.3 L905.2,543.3 L905.7,543.3 L906.2,543.3 L906.7,543.3 L907.1,543.3 L907.6,543.3 L908.1,543.3 L908.6,543.3 L909.0,543.3 L909.5,543.3 L910.0,543.3 L910.4,543.3 L910.9,543.3 L911.4,543.3 L911.9,543.3 L912.3,543.3 L912.8,543.3 L913.3,543.3 L913.8,543.3 L914.2,543.3 L914.7,543.3 L915.2,543.3 L915.7,543.3 L916.1,543.3 L916.6,543.3 L917.1,543.3 L917.6,543.3 L918.0,543.3 L918.5,543.3 L919.0,543.3 L919.4,543.3 L919.9,543.3 L920.4,543.3 L920.9,543.3 L921.3,543.3 L921.8,543.3 L922.3,543.3 L922.8,543.3 L923.2,543.3 L923.7,543.3 L924.2,543.3 L924.7,543.3 L925.1,543.3 L925.6,543.3 L926.1,543.3 L926.5,543.3 L927.0,543.3 L927.5,543.3 L928.0,543.3 L928.4,543.3 L928.9,543.3 L929.4,543.3 L929.9,543.3 L930.3,543.2 L930.8,543.2 L931.3,543.2 L931.8,543.2 L932.2,543.2 L932.7,543.2 L933.2,543.2 L933.7,543.2 L934.1,543.2 L934.6,543.2 L935.1,543.2 L935.5,543.2 L936.0,543.2 L936.5,543.2 L937.0,543.2 L937.4,543.2 L937.9,543.2 L938.4,543.2 L938.9,543.2 L939.3,543.2 L939.8,543.2 L940.3,543.2 L940.8,543.2 L941.2,543.2 L941.7,543.2 L942.2,543.2 L942.6,543.2 L943.1,543.2 L943.6,543.2 L944.1,543.2 L944.5,543.2 L945.0,543.2 L945.5,543.2 L946.0,543.2 L946.4,543.2 L946.9,543.2 L947.4,543.2 L947.9,543.2 L948.3,543.2 L948.8,543.2 L949.3,543.2 L949.8,543.2 L950.2,543.2 L950.7,543.2 L951.2,543.2 L951.6,543.2 L952.1,543.2 L952.6,543.2 L953.1,543.2 L953.5,543.2 L954.0,543.2 L954.5,543.2 L955.0,543.2 L955.4,543.2 L955.9,543.2 L956.4,543.2 L956.9,543.2 L957.3,543.2 L957.8,543.2 L958.3,543.2 L958.8,543.2 L959.2,543.2 L959.7,543.2 L960.2,543.2 L960.6,543.2 L961.1,543.2 L961.6,543.2 L962.1,543.2 L962.5,543.2 L963.0,543.2 L963.5,543.2 L964.0,543.2 L964.4,543.2 L964.9,543.2 L965.4,543.2 L965.9,543.2 L966.3,543.2 L966.8,543.2 L967.3,543.2 L967.7,543.2 L968.2,543.2 L968.7,543.2 L969.2,543.2 L969.6,543.2 L970.1,543.2 L970.6,543.2 L971.1,543.2 L971.5,543.2 L972.0,543.2 L972.5,543.2 L973.0,543.2 L973.4,543.2 L973.9,543.2 L974.4,543.2 L974.9,543.2 L975.3,543.2 L975.8,543.2 L976.3,543.2 L976.7,543.2 L977.2,543.2 L977.7,543.2 L978.2,543.2 L978.6,543.2 L979.1,543.2 L979.6,543.2 L980.1,543.2 L980.5,543.2 L981.0,543.2 L981.5,543.2 L982.0,543.2 L982.4,543.2 L982.9,543.2 L983.4,543.2 L983.8,543.2 L984.3,543.2 L984.8,543.2 L985.3,543.2 L985.7,543.2 L986.2,543.2 L986.7,543.2 L987.2,543.2 L987.6,543.2 L988.1,543.2 L988.6,543.2 L989.1,543.2 L989.5,543.2 L990.0,543.2 L990.5,543.2 L991.0,543.2 L991.4,543.2 L991.9,543.2 L992.4,543.2 L992.8,543.2 L993.3,543.2 L993.8,543.2 L994.3,543.2 L994.7,543.2 L995.2,543.2 L995.7,543.2 L996.2,543.2 L996.6,543.2 L997.1,543.2 L997.6,543.2 L998.1,543.2 L998.5,543.2 L999.0,543.2 L999.5,543.2 L999.9,543.2 L1000.4,543.2 L1000.9,543.2 L1001.4,543.2 L1001.8,543.2 L1002.3,543.2 L1002.8,543.2 L1003.3,543.2 L1003.7,543.2 L1004.2,543.2 L1004.7,543.2 L1005.2,543.2 L1005.6,543.2 L1006.1,543.2 L1006.6,543.2 L1007.1,543.2 L1007.5,543.2 L1008.0,543.2" fill="none" stroke="#00ff00" stroke-width="3" stroke-linejoin="round" />
<path d="M581.8,585.1 L582.3,584.9 L582.7,584.5 L583.2,583.6 L583.7,582.3 L584.2,580.5 L584.6,578.4 L585.1,576.0 L585.6,573.4 L586.1,570.7 L586.5,567.9 L587.0,565.1 L587.5,562.4 L588.0,559.7 L588.4,557.3 L588.9,554.9 L589.4,552.3 L589.9,549.6 L590.3,546.8 L590.8,544.1 L591.3,541.4 L591.7,538.8 L592.2,536.4 L592.7,534.1 L593.2,532.1 L593.6,530.3 L594.1,528.6 L594.6,526.9 L595.1,525.3 L595.5,523.8 L596.0,522.3 L596.5,521.0 L597.0,519.7 L597.4,518.6 L597.9,517.6 L598.4,516.8 L598.8,516.0 L599.3,515.4 L599.8,514.8 L600.3,514.2 L600.7,513.7 L601.2,513.2 L601.7,512.7 L602.2,512.3 L602.6,512.0 L603.1,511.6 L603.6,511.3 L604.1,510.9 L604.5,510.6 L605.0,510.3 L605.5,510.0 L606.0,509.7 L606.4,509.4 L606.9,509.1 L607.4,508.9 L607.8,508.7 L608.3,508.5 L608.8,508.3 L609.3,508.2 L609.7,508.2 L610.2,508.2 L610.7,508.2 L611.2,508.3 L611.6,508.4 L612.1,508.6 L612.6,508.7 L613.1,509.0 L613.5,509.2 L614.0,509.4 L614.5,509.7 L614.9,510.0 L615.4,510.3 L615.9,510.6 L616.4,510.9 L616.8,511.3 L617.3,511.7 L617.8,512.1 L618.3,512.4 L618.7,512.7 L619.2,513.1 L619.7,513.5 L620.2,513.9 L620.6,514.3 L621.1,514.7 L621.6,515.1 L622.1,515.6 L622.5,515.9 L623.0,516.3 L623.5,516.7 L623.9,517.1 L624.4,517.4 L624.9,517.9 L625.4,518.2 L625.8,518.7 L626.3,519.0 L626.8,519.6 L627.3,519.9 L627.7,520.2 L628.2,520.6 L628.7,521.0 L629.2,521.6 L629.6,522.1 L630.1,522.5 L630.6,522.8 L631.0,523.0 L631.5,523.4 L632.0,523.9 L632.5,524.1 L632.9,524.5 L633.4,524.9 L633.9,525.4 L634.4,525.6 L634.8,525.8 L635.3,526.1 L635.8,526.5 L636.3,527.0 L636.7,527.7 L637.2,528.2 L637.7,528.5 L638.2,528.8 L638.6,529.1 L639.1,529.3 L639.6,529.6 L640.0,530.3 L640.5,530.7 L641.0,531.0 L641.5,531.5 L641.9,531.9 L642.4,532.1 L642.9,532.5 L643.4,532.9 L643.8,533.6 L644.3,534.1 L644.8,534.3 L645.3,534.8 L645.7,534.8 L646.2,534.9 L646.7,535.2 L647.2,535.3 L647.6,535.5 L648.1,535.8 L648.6,536.1 L649.0,536.6 L649.5,536.8 L650.0,537.2 L650.5,537.7 L650.9,538.1 L651.4,538.7 L651.9,539.3 L652.4,539.6 L652.8,540.3 L653.3,540.7 L653.8,541.5 L654.3,542.1 L654.7,542.4 L655.2,542.7 L655.7,543.3 L656.1,543.9 L656.6,544.4 L657.1,544.7 L657.6,545.0 L658.0,545.6 L658.5,545.8 L659.0,546.4 L659.5,546.6 L659.9,546.8 L660.4,547.3 L660.9,547.6 L661.4,547.7 L661.8,548.0 L662.3,548.0 L662.8,548.4 L663.3,548.9 L663.7,549.1 L664.2,549.4 L664.7,549.5 L665.1,549.7 L665.6,549.8 L666.1,549.9 L666.6,550.2 L667.0,550.5 L667.5,550.6 L668.0,550.9 L668.5,551.2 L668.9,551.3 L669.4,551.4 L669.9,551.4 L670.4,551.5 L670.8,551.9 L671.3,552.1 L671.8,552.2 L672.2,552.2 L672.7,552.1 L673.2,552.3 L673.7,552.3 L674.1,552.2 L674.6,552.4 L675.1,552.4 L675.6,552.7 L676.0,552.6 L676.5,552.3 L677.0,552.4 L677.5,552.4 L677.9,552.5 L678.4,552.7 L678.9,552.9 L679.4,552.9 L679.8,552.8 L680.3,552.7 L680.8,552.9 L681.2,552.8 L681.7,553.0 L682.2,553.2 L682.7,553.1 L683.1,553.3 L683.6,553.2 L684.1,553.0 L684.6,552.9 L685.0,552.8 L685.5,552.9 L686.0,553.0 L686.5,552.7 L686.9,552.7 L687.4,552.8 L687.9,552.8 L688.3,552.7 L688.8,552.7 L689.3,552.6 L689.8,552.4 L690.2,552.3 L690.7,552.2 L691.2,552.0 L691.7,551.8 L692.1,551.8 L692.6,551.8 L693.1,551.7 L693.6,551.7 L694.0,551.7 L694.5,551.6 L695.0,551.6 L695.5,551.7 L695.9,551.7 L696.4,551.7 L696.9,551.9 L697.3,551.8 L697.8,551.7 L698.3,551.6 L698.8,551.3 L699.2,551.1 L699.7,550.9 L700.2,550.6 L700.7,550.7 L701.1,550.8 L701.6,550.6 L702.1,550.5 L702.6,550.3 L703.0,550.2 L703.5,550.1 L704.0,550.1 L704.5,549.8 L704.9,549.6 L705.4,549.8 L705.9,549.9 L706.3,549.8 L706.8,549.6 L707.3,549.4 L707.8,549.4 L708.2,549.6 L708.7,549.4 L709.2,549.2 L709.7,549.2 L710.1,549.3 L710.6,549.4 L711.1,549.3 L711.6,549.1 L712.0,549.1 L712.5,549.2 L713.0,549.5 L713.4,549.4 L713.9,549.1 L714.4,549.3 L714.9,549.5 L715.3,549.2 L715.8,549.2 L716.3,549.4 L716.8,549.2 L717.2,549.3 L717.7,549.0 L718.2,549.0 L718.7,548.8 L719.1,548.8 L719.6,548.9 L720.1,548.5 L720.6,548.4 L721.0,548.5 L721.5,548.3 L722.0,548.0 L722.4,548.1 L722.9,547.9 L723.4,548.0 L723.9,548.0 L724.3,547.8 L724.8,547.8 L725.3,547.8 L725.8,547.8 L726.2,548.0 L726.7,548.0 L727.2,548.1 L727.7,548.4 L728.1,548.5 L728.6,548.4 L729.1,548.5 L729.5,548.4 L730.0,548.6 L730.5,548.7 L731.0,548.8 L731.4,548.9 L731.9,548.7 L732.4,548.4 L732.9,547.9 L733.3,547.1 L733.8,546.3 L734.3,545.8 L734.8,544.8 L735.2,544.2 L735.7,543.4 L736.2,543.0 L736.7,542.3 L737.1,541.8 L737.6,541.5 L738.1,541.2 L738.5,541.3 L739.0,541.4 L739.5,541.5 L740.0,541.6 L740.4,541.8 L740.9,542.0 L741.4,542.2 L741.9,542.2 L742.3,542.3 L742.8,542.2 L743.3,542.4 L743.8,542.8 L744.2,543.1 L744.7,543.3 L745.2,543.6 L745.7,543.8 L746.1,544.1 L746.6,544.2 L747.1,544.3 L747.5,544.4 L748.0,544.5 L748.5,544.9 L749.0,544.8 L749.4,544.9 L749.9,545.1 L750.4,545.2 L750.9,545.3 L751.3,545.4 L751.8,545.5 L752.3,545.6 L752.8,545.7 L753.2,546.0 L753.7,546.3 L754.2,546.7 L754.6,547.3 L755.1,547.4 L755.6,547.5 L756.1,547.6 L756.5,547.9 L757.0,548.1 L757.5,547.9 L758.0,548.1 L758.4,548.2 L758.9,548.3 L759.4,548.2 L759.9,548.0 L760.3,547.6 L760.8,547.6 L761.3,547.6 L761.8,547.7 L762.2,547.6 L762.7,547.4 L763.2,547.7 L763.6,547.8 L764.1,547.6 L764.6,547.6 L765.1,547.5 L765.5,547.7 L766.0,547.9 L766.5,547.8 L767.0,547.8 L767.4,547.9 L767.9,547.9 L768.4,548.0 L768.9,547.7 L769.3,547.7 L769.8,547.8 L770.3,547.7 L770.7,547.7 L771.2,547.6 L771.7,547.2 L772.2,547.0 L772.6,547.2 L773.1,546.8 L773.6,546.5 L774.1,546.3 L774.5,546.4 L775.0,546.1 L775.5,545.9 L776.0,545.7 L776.4,545.4 L776.9,545.2 L777.4,545.2 L777.9,545.2 L778.3,544.9 L778.8,544.7 L779.3,544.7 L779.7,544.7 L780.2,544.6 L780.7,544.6 L781.2,544.9 L781.6,545.0 L782.1,545.2 L782.6,545.3 L783.1,545.5 L783.5,545.6 L784.0,545.3 L784.5,545.4 L785.0,545.3 L785.4,545.2 L785.9,545.1 L786.4,545.0 L786.8,544.7 L787.3,544.6 L787.8,544.5 L788.3,544.2 L788.7,543.7 L789.2,543.2 L789.7,542.9 L790.2,542.6 L790.6,542.5 L791.1,542.2 L791.6,541.8 L792.1,541.5 L792.5,541.3 L793.0,541.1 L793.5,540.5 L794.0,540.3 L794.4,540.3 L794.9,540.2 L795.4,540.3 L795.8,540.2 L796.3,539.9 L796.8,539.9 L797.3,540.0 L797.7,539.9 L798.2,539.9 L798.7,540.0 L799.2,540.2 L799.6,540.3 L800.1,540.3 L800.6,540.6 L801.1,540.5 L801.5,540.6 L802.0,540.6 L802.5,541.0 L803.0,541.2 L803.4,541.2 L803.9,541.2 L804.4,541.1 L804.8,541.2 L805.3,541.2 L805.8,541.3 L806.3,541.3 L806.7,541.6 L807.2,541.5 L807.7,541.8 L808.2,541.7 L808.6,541.6 L809.1,541.7 L809.6,541.9 L810.1,542.1 L810.5,542.1 L811.0,542.1 L811.5,542.1 L811.9,542.2 L812.4,542.2 L812.9,542.3 L813.4,542.7 L813.8,542.7 L814.3,542.7 L814.8,542.9 L815.3,543.1 L815.7,543.1 L816.2,543.1 L816.7,543.2 L817.2,543.5 L817.6,543.6 L818.1,543.6 L818.6,543.6 L819.1,543.5 L819.5,543.7 L820.0,544.0 L820.5,544.1 L820.9,544.1 L821.4,544.2 L821.9,544.6 L822.4,544.7 L822.8,544.6 L823.3,544.9 L823.8,544.9 L824.3,545.1 L824.7,545.1 L825.2,545.2 L825.7,545.3 L826.2,545.2 L826.6,545.1 L827.1,545.5 L827.6,545.4 L828.0,545.4 L828.5,545.4 L829.0,545.4 L829.5,545.8 L829.9,546.0 L830.4,546.1 L830.9,545.8 L831.4,545.7 L831.8,545.8 L832.3,546.0 L832.8,545.9 L833.3,546.1 L833.7,546.2 L834.2,546.1 L834.7,546.1 L835.2,546.2 L835.6,546.2 L836.1,546.5 L836.6,546.8 L837.0,546.9 L837.5,547.1 L838.0,547.2 L838.5,547.3 L838.9,547.4 L839.4,547.4 L839.9,547.7 L840.4,547.6 L840.8,547.7 L841.3,547.8 L841.8,547.6 L842.3,547.7 L842.7,547.5 L843.2,547.5 L843.7,547.6 L844.1,547.6 L844.6,547.5 L845.1,547.6 L845.6,547.6 L846.0,547.9 L846.5,548.0 L847.0,548.1 L847.5,548.0 L847.9,548.0 L848.4,548.1 L848.9,548.1 L849.4,548.0 L849.8,547.7 L850.3,548.1 L850.8,548.2 L851.3,548.3 L851.7,548.0 L852.2,547.7 L852.7,547.5 L853.1,547.7 L853.6,547.7 L854.1,547.9 L854.6,547.7 L855.0,547.6 L855.5,547.6 L856.0,547.1 L856.5,546.8 L856.9,546.6 L857.4,546.6 L857.9,546.6 L858.4,546.5 L858.8,546.2 L859.3,546.0 L859.8,545.8 L860.3,545.6 L860.7,545.5 L861.2,545.4 L861.7,545.6 L862.1,545.7 L862.6,545.6 L863.1,545.4 L863.6,545.5 L864.0,545.5 L864.5,545.6 L865.0,545.6 L865.5,545.3 L865.9,545.4 L866.4,545.4 L866.9,545.6 L867.4,545.5 L867.8,545.0 L868.3,545.1 L868.8,545.0 L869.2,545.0 L869.7,544.9 L870.2,544.6 L870.7,544.7 L871.1,544.9 L871.6,544.9 L872.1,544.8 L872.6,544.7 L873.0,544.7 L873.5,544.9 L874.0,545.0 L874.5,545.0 L874.9,544.9 L875.4,544.8 L875.9,544.9 L876.4,544.8 L876.8,544.9 L877.3,544.9 L877.8,544.9 L878.2,544.5 L878.7,544.6 L879.2,544.8 L879.7,544.4 L880.1,544.7 L880.6,544.4 L881.1,544.6 L881.6,544.4 L882.0,544.4 L882.5,544.2 L883.0,544.2 L883.5,544.2 L883.9,544.4 L884.4,544.4 L884.9,544.2 L885.3,544.5 L885.8,544.4 L886.3,544.6 L886.8,544.5 L887.2,544.5 L887.7,544.6 L888.2,544.7 L888.7,544.8 L889.1,544.8 L889.6,544.8 L890.1,544.8 L890.6,544.8 L891.0,544.7 L891.5,544.6 L892.0,544.7 L892.5,544.6 L892.9,544.6 L893.4,544.5 L893.9,544.4 L894.3,544.3 L894.8,544.1 L895.3,544.0 L895.8,543.5 L896.2,543.4 L896.7,543.4 L897.2,543.4 L897.7,543.2 L898.1,543.2 L898.6,543.2 L899.1,542.9 L899.6,542.8 L900.0,542.7 L900.5,542.5 L901.0,542.5 L901.5,542.6 L901.9,542.7 L902.4,542.6 L902.9,542.5 L903.3,542.3 L903.8,542.5 L904.3,542.4 L904.8,542.4 L905.2,542.3 L905.7,542.1 L906.2,542.0 L906.7,541.9 L907.1,541.9 L907.6,541.8 L908.1,541.6 L908.6,541.3 L909.0,541.4 L909.5,541.2 L910.0,541.2 L910.4,541.0 L910.9,541.1 L911.4,541.2 L911.9,541.3 L912.3,541.0 L912.8,541.1 L913.3,541.0 L913.8,540.9 L914.2,541.2 L914.7,540.9 L915.2,540.8 L915.7,540.9 L916.1,541.0 L916.6,540.7 L917.1,540.8 L917.6,540.9 L918.0,541.5 L918.5,541.5 L919.0,541.5 L919.4,541.8 L919.9,541.9 L920.4,541.8 L920.9,542.1 L921.3,542.4 L921.8,542.6 L922.3,543.0 L922.8,543.2 L923.2,543.2 L923.7,543.2 L924.2,543.4 L924.7,543.6 L925.1,543.7 L925.6,543.8 L926.1,544.2 L926.5,544.0 L927.0,543.9 L927.5,544.1 L928.0,543.9 L928.4,544.0 L928.9,544.2 L929.4,544.1 L929.9,544.1 L930.3,544.2 L930.8,544.3 L931.3,544.3 L931.8,544.2 L932.2,544.0 L932.7,544.0 L933.2,543.6 L933.7,543.5 L934.1,543.1 L934.6,543.1 L935.1,543.1 L935.5,542.7 L936.0,542.6 L936.5,542.4 L937.0,542.0 L937.4,541.8 L937.9,541.9 L938.4,541.7 L938.9,541.6 L939.3,541.6 L939.8,541.7 L940.3,541.3 L940.8,541.0 L941.2,541.1 L941.7,541.0 L942.2,540.7 L942.6,540.9 L943.1,540.8 L943.6,540.7 L944.1,540.6 L944.5,540.5 L945.0,540.3 L945.5,539.8 L946.0,539.8 L946.4,539.7 L946.9,539.7 L947.4,539.4 L947.9,539.5 L948.3,539.1 L948.8,538.8 L949.3,538.5 L949.8,538.3 L950.2,538.1 L950.7,538.1 L951.2,538.5 L951.6,538.6 L952.1,538.5 L952.6,538.0 L953.1,538.1 L953.5,538.0 L954.0,538.0 L954.5,538.1 L955.0,538.4 L955.4,538.3 L955.9,538.3 L956.4,538.4 L956.9,538.4 L957.3,538.3 L957.8,538.4 L958.3,538.5 L958.8,538.7 L959.2,538.9 L959.7,539.0 L960.2,539.1 L960.6,539.0 L961.1,539.3 L961.6,539.5 L962.1,539.5 L962.5,539.7 L963.0,539.8 L963.5,540.0 L964.0,540.3 L964.4,540.4 L964.9,540.7 L965.4,541.0 L965.9,541.4 L966.3,541.7 L966.8,541.8 L967.3,542.1 L967.7,542.4 L968.2,542.6 L968.7,542.7 L969.2,543.0 L969.6,543.4 L970.1,543.3 L970.6,543.3 L971.1,543.3 L971.5,543.5 L972.0,543.4 L972.5,543.5 L973.0,543.6 L973.4,543.8 L973.9,543.8 L974.4,543.9 L974.9,544.1 L975.3,544.0 L975.8,544.1 L976.3,544.1 L976.7,544.1 L977.2,543.9 L977.7,544.2 L978.2,544.3 L978.6,544.4 L979.1,544.4 L979.6,544.5 L980.1,544.8 L980.5,544.7 L981.0,544.7 L981.5,544.9 L982.0,545.0 L982.4,545.2 L982.9,545.4 L983.4,545.4 L983.8,545.6 L984.3,545.6 L984.8,545.7 L985.3,545.7 L985.7,545.4 L986.2,545.3 L986.7,545.4 L987.2,545.7 L987.6,545.8 L988.1,545.8 L988.6,545.7 L989.1,545.6 L989.5,545.8 L990.0,545.8 L990.5,545.8 L991.0,545.9 L991.4,546.1 L991.9,546.2 L992.4,546.2 L992.8,546.0 L993.3,546.1 L993.8,546.2 L994.3,546.0 L994.7,546.0 L995.2,545.8 L995.7,545.8 L996.2,545.9 L996.6,545.7 L997.1,545.4 L997.6,545.2 L998.1,545.0 L998.5,544.9 L999.0,544.5 L999.5,544.2 L999.9,544.1 L1000.4,544.0 L1000.9,543.9 L1001.4,543.8 L1001.8,543.6 L1002.3,543.8 L1002.8,543.7 L1003.3,543.5 L1003.7,543.4 L1004.2,543.3 L1004.7,543.2 L1005.2,543.1 L1005.6,543.3 L1006.1,543.2 L1006.6,543.0 L1007.1,542.8 L1007.5,542.6 L1008.0,542.3" fill="none" stroke="#000" stroke-width="3" stroke-linejoin="round" />
<text x="578.3" y="510.5" font-family="Liberation Sans" font-size="12.5" text-anchor="end" >100</text>
<text x="578.3" y="541.7" font-family="Liberation Sans" font-size="12.5" text-anchor="end" >80</text>
<line x1="581.8" y1="537.2" x2="585.8" y2="537.2" stroke="#c4c4c4" stroke-width="1"/>
<line x1="1004" y1="537.2" x2="1008" y2="537.2" stroke="#c4c4c4" stroke-width="1"/>
<text x="578.3" y="572.9" font-family="Liberation Sans" font-size="12.5" text-anchor="end" >60</text>
<line x1="581.8" y1="568.4" x2="585.8" y2="568.4" stroke="#c4c4c4" stroke-width="1"/>
<line x1="1004" y1="568.4" x2="1008" y2="568.4" stroke="#c4c4c4" stroke-width="1"/>
<text x="578.3" y="604.1" font-family="Liberation Sans" font-size="12.5" text-anchor="end" >40</text>
<text x="581.8" y="614.7" font-family="Liberation Sans" font-size="12.5" text-anchor="middle" >0</text>
<text x="652.8" y="614.7" font-family="Liberation Sans" font-size="12.5" text-anchor="middle" >50</text>
<line x1="652.8" y1="506" x2="652.8" y2="510" stroke="#c4c4c4" stroke-width="1"/>
<line x1="652.8" y1="595.6" x2="652.8" y2="599.6" stroke="#c4c4c4" stroke-width="1"/>
<text x="723.9" y="614.7" font-family="Liberation Sans" font-size="12.5" text-anchor="middle" >100</text>
<line x1="723.9" y1="506" x2="723.9" y2="510" stroke="#c4c4c4" stroke-width="1"/>
<line x1="723.9" y1="595.6" x2="723.9" y2="599.6" stroke="#c4c4c4" stroke-width="1"/>
<text x="794.9" y="614.7" font-family="Liberation Sans" font-size="12.5" text-anchor="middle" >150</text>
<line x1="794.9" y1="506" x2="794.9" y2="510" stroke="#c4c4c4" stroke-width="1"/>
<line x1="794.9" y1="595.6" x2="794.9" y2="599.6" stroke="#c4c4c4" stroke-width="1"/>
<text x="865.9" y="614.7" font-family="Liberation Sans" font-size="12.5" text-anchor="middle" >200</text>
<line x1="865.9" y1="506" x2="865.9" y2="510" stroke="#c4c4c4" stroke-width="1"/>
<line x1="865.9" y1="595.6" x2="865.9" y2="599.6" stroke="#c4c4c4" stroke-width="1"/>
<text x="937.0" y="614.7" font-family="Liberation Sans" font-size="12.5" text-anchor="middle" >250</text>
<line x1="937.0" y1="506" x2="937.0" y2="510" stroke="#c4c4c4" stroke-width="1"/>
<line x1="937.0" y1="595.6" x2="937.0" y2="599.6" stroke="#c4c4c4" stroke-width="1"/>
<text x="1008.0" y="614.7" font-family="Liberation Sans" font-size="12.5" text-anchor="middle" >300</text>
<text transform="translate(548.2,552.5) rotate(-90)" font-family="Liberation Sans" font-size="13.5" text-anchor="middle" >DP in the CSTR I</text>
<text x="794.2" y="629" font-family="Liberation Sans" font-size="13" text-anchor="middle" >Time (min)</text>
<rect x="892" y="553.2" width="116" height="42.5" fill="#fff"/>
<line x1="892" y1="553.2" x2="1003.8" y2="553.2" stroke="#b9b9b9" stroke-width="1"/>
<line x1="892" y1="595.7" x2="1003.8" y2="595.7" stroke="#b9b9b9" stroke-width="1"/>
<line x1="897.5" y1="564.2" x2="924.9" y2="564.2" stroke="#00ff00" stroke-width="3"/>
<text x="928.5" y="566.1" font-family="Liberation Sans" font-size="10.5">DP<tspan dx="1.2" dy="4.7" font-size="9">1</tspan></text>
<line x1="897.5" y1="583.5" x2="924.9" y2="583.5" stroke="#000" stroke-width="3"/>
<text x="928.5" y="585.4" font-family="Liberation Sans" font-size="10.5">Estimated DP<tspan dx="1.2" dy="4.7" font-size="9">1</tspan></text>
<line x1="581.8" y1="649.6" x2="1008" y2="649.6" stroke="#b9b9b9" stroke-width="1"/>
<line x1="581.8" y1="649.6" x2="581.8" y2="744" stroke="#b9b9b9" stroke-width="1"/>
<path d="M581.8,724.6 L582.3,724.5 L582.7,724.3 L583.2,724.2 L583.7,724.0 L584.2,723.9 L584.6,723.7 L585.1,723.6 L585.6,723.4 L586.1,723.2 L586.5,723.1 L587.0,722.9 L587.5,722.8 L588.0,722.6 L588.4,722.5 L588.9,722.3 L589.4,722.1 L589.9,722.0 L590.3,721.8 L590.8,721.7 L591.3,721.5 L591.7,721.4 L592.2,721.2 L592.7,721.0 L593.2,720.9 L593.6,720.7 L594.1,720.6 L594.6,720.4 L595.1,720.3 L595.5,720.1 L596.0,719.9 L596.5,719.8 L597.0,719.6 L597.4,719.5 L597.9,719.3 L598.4,719.1 L598.8,719.0 L599.3,718.8 L599.8,718.7 L600.3,718.5 L600.7,718.3 L601.2,718.2 L601.7,718.0 L602.2,717.9 L602.6,717.7 L603.1,717.5 L603.6,717.4 L604.1,717.2 L604.5,717.1 L605.0,716.9 L605.5,716.7 L606.0,716.6 L606.4,716.4 L606.9,716.3 L607.4,716.1 L607.8,715.9 L608.3,715.8 L608.8,715.6 L609.3,715.5 L609.7,715.3 L610.2,715.1 L610.7,715.0 L611.2,714.8 L611.6,714.6 L612.1,714.5 L612.6,714.3 L613.1,714.2 L613.5,714.0 L614.0,713.8 L614.5,713.7 L614.9,713.5 L615.4,713.3 L615.9,713.2 L616.4,713.0 L616.8,712.9 L617.3,712.7 L617.8,712.5 L618.3,712.4 L618.7,712.2 L619.2,712.0 L619.7,711.9 L620.2,711.7 L620.6,711.6 L621.1,711.4 L621.6,711.2 L622.1,711.1 L622.5,710.9 L623.0,710.7 L623.5,710.6 L623.9,710.4 L624.4,710.3 L624.9,710.1 L625.4,709.9 L625.8,709.8 L626.3,709.6 L626.8,709.4 L627.3,709.3 L627.7,709.1 L628.2,708.9 L628.7,708.8 L629.2,708.6 L629.6,708.4 L630.1,708.3 L630.6,708.1 L631.0,707.9 L631.5,707.8 L632.0,707.6 L632.5,707.4 L632.9,707.3 L633.4,707.1 L633.9,706.9 L634.4,706.7 L634.8,706.6 L635.3,706.4 L635.8,706.2 L636.3,706.1 L636.7,705.9 L637.2,705.7 L637.7,705.5 L638.2,705.4 L638.6,705.2 L639.1,705.0 L639.6,704.8 L640.0,704.7 L640.5,704.5 L641.0,704.3 L641.5,704.1 L641.9,703.9 L642.4,703.7 L642.9,703.5 L643.4,703.4 L643.8,703.2 L644.3,703.0 L644.8,702.8 L645.3,702.6 L645.7,702.4 L646.2,702.2 L646.7,702.0 L647.2,701.9 L647.6,701.7 L648.1,701.5 L648.6,701.3 L649.0,701.1 L649.5,700.9 L650.0,700.7 L650.5,700.5 L650.9,700.3 L651.4,700.1 L651.9,700.0 L652.4,699.8 L652.8,699.6 L653.3,699.4 L653.8,699.2 L654.3,699.0 L654.7,698.8 L655.2,698.6 L655.7,698.5 L656.1,698.3 L656.6,698.1 L657.1,697.9 L657.6,697.7 L658.0,697.5 L658.5,697.4 L659.0,697.2 L659.5,697.0 L659.9,696.8 L660.4,696.7 L660.9,696.5 L661.4,696.3 L661.8,696.1 L662.3,696.0 L662.8,695.8 L663.3,695.6 L663.7,695.5 L664.2,695.3 L664.7,695.2 L665.1,695.0 L665.6,694.8 L666.1,694.7 L666.6,694.5 L667.0,694.4 L667.5,694.2 L668.0,694.1 L668.5,693.9 L668.9,693.8 L669.4,693.6 L669.9,693.5 L670.4,693.4 L670.8,693.2 L671.3,693.1 L671.8,692.9 L672.2,692.8 L672.7,692.6 L673.2,692.5 L673.7,692.4 L674.1,692.2 L674.6,692.1 L675.1,691.9 L675.6,691.8 L676.0,691.7 L676.5,691.5 L677.0,691.4 L677.5,691.3 L677.9,691.1 L678.4,691.0 L678.9,690.9 L679.4,690.7 L679.8,690.6 L680.3,690.5 L680.8,690.3 L681.2,690.2 L681.7,690.1 L682.2,690.0 L682.7,689.8 L683.1,689.7 L683.6,689.6 L684.1,689.4 L684.6,689.3 L685.0,689.2 L685.5,689.1 L686.0,688.9 L686.5,688.8 L686.9,688.7 L687.4,688.5 L687.9,688.4 L688.3,688.3 L688.8,688.2 L689.3,688.0 L689.8,687.9 L690.2,687.8 L690.7,687.7 L691.2,687.5 L691.7,687.4 L692.1,687.3 L692.6,687.1 L693.1,687.0 L693.6,686.9 L694.0,686.8 L694.5,686.6 L695.0,686.5 L695.5,686.4 L695.9,686.2 L696.4,686.1 L696.9,686.0 L697.3,685.8 L697.8,685.7 L698.3,685.6 L698.8,685.4 L699.2,685.3 L699.7,685.2 L700.2,685.1 L700.7,684.9 L701.1,684.8 L701.6,684.7 L702.1,684.5 L702.6,684.4 L703.0,684.3 L703.5,684.2 L704.0,684.0 L704.5,683.9 L704.9,683.8 L705.4,683.6 L705.9,683.5 L706.3,683.4 L706.8,683.3 L707.3,683.1 L707.8,683.0 L708.2,682.9 L708.7,682.8 L709.2,682.6 L709.7,682.5 L710.1,682.4 L710.6,682.3 L711.1,682.2 L711.6,682.0 L712.0,681.9 L712.5,681.8 L713.0,681.7 L713.4,681.6 L713.9,681.5 L714.4,681.3 L714.9,681.2 L715.3,681.1 L715.8,681.0 L716.3,680.9 L716.8,680.8 L717.2,680.7 L717.7,680.6 L718.2,680.4 L718.7,680.3 L719.1,680.2 L719.6,680.1 L720.1,680.0 L720.6,679.9 L721.0,679.8 L721.5,679.7 L722.0,679.6 L722.4,679.5 L722.9,679.4 L723.4,679.3 L723.9,679.2 L724.3,679.1 L724.8,679.1 L725.3,679.0 L725.8,678.9 L726.2,678.8 L726.7,678.7 L727.2,678.6 L727.7,678.5 L728.1,678.4 L728.6,678.4 L729.1,678.3 L729.5,678.2 L730.0,678.1 L730.5,678.0 L731.0,677.9 L731.4,677.8 L731.9,677.8 L732.4,677.7 L732.9,677.6 L733.3,677.5 L733.8,677.4 L734.3,677.4 L734.8,677.3 L735.2,677.2 L735.7,677.1 L736.2,677.0 L736.7,677.0 L737.1,676.9 L737.6,676.8 L738.1,676.7 L738.5,676.7 L739.0,676.6 L739.5,676.5 L740.0,676.4 L740.4,676.4 L740.9,676.3 L741.4,676.2 L741.9,676.1 L742.3,676.1 L742.8,676.0 L743.3,675.9 L743.8,675.9 L744.2,675.8 L744.7,675.7 L745.2,675.6 L745.7,675.6 L746.1,675.5 L746.6,675.4 L747.1,675.4 L747.5,675.3 L748.0,675.2 L748.5,675.2 L749.0,675.1 L749.4,675.0 L749.9,675.0 L750.4,674.9 L750.9,674.8 L751.3,674.8 L751.8,674.7 L752.3,674.7 L752.8,674.6 L753.2,674.5 L753.7,674.5 L754.2,674.4 L754.6,674.3 L755.1,674.3 L755.6,674.2 L756.1,674.2 L756.5,674.1 L757.0,674.0 L757.5,674.0 L758.0,673.9 L758.4,673.9 L758.9,673.8 L759.4,673.8 L759.9,673.7 L760.3,673.6 L760.8,673.6 L761.3,673.5 L761.8,673.5 L762.2,673.4 L762.7,673.4 L763.2,673.3 L763.6,673.3 L764.1,673.2 L764.6,673.1 L765.1,673.1 L765.5,673.0 L766.0,673.0 L766.5,672.9 L767.0,672.9 L767.4,672.8 L767.9,672.8 L768.4,672.7 L768.9,672.7 L769.3,672.6 L769.8,672.6 L770.3,672.5 L770.7,672.4 L771.2,672.4 L771.7,672.3 L772.2,672.3 L772.6,672.2 L773.1,672.2 L773.6,672.1 L774.1,672.1 L774.5,672.0 L775.0,672.0 L775.5,671.9 L776.0,671.9 L776.4,671.8 L776.9,671.8 L777.4,671.7 L777.9,671.7 L778.3,671.7 L778.8,671.6 L779.3,671.6 L779.7,671.5 L780.2,671.5 L780.7,671.4 L781.2,671.4 L781.6,671.3 L782.1,671.3 L782.6,671.2 L783.1,671.2 L783.5,671.2 L784.0,671.1 L784.5,671.1 L785.0,671.0 L785.4,671.0 L785.9,670.9 L786.4,670.9 L786.8,670.9 L787.3,670.8 L787.8,670.8 L788.3,670.7 L788.7,670.7 L789.2,670.7 L789.7,670.6 L790.2,670.6 L790.6,670.6 L791.1,670.5 L791.6,670.5 L792.1,670.4 L792.5,670.4 L793.0,670.4 L793.5,670.3 L794.0,670.3 L794.4,670.3 L794.9,670.2 L795.4,670.2 L795.8,670.2 L796.3,670.2 L796.8,670.1 L797.3,670.1 L797.7,670.1 L798.2,670.0 L798.7,670.0 L799.2,670.0 L799.6,669.9 L800.1,669.9 L800.6,669.9 L801.1,669.8 L801.5,669.8 L802.0,669.8 L802.5,669.8 L803.0,669.7 L803.4,669.7 L803.9,669.7 L804.4,669.6 L804.8,669.6 L805.3,669.6 L805.8,669.6 L806.3,669.5 L806.7,669.5 L807.2,669.5 L807.7,669.4 L808.2,669.4 L808.6,669.4 L809.1,669.4 L809.6,669.3 L810.1,669.3 L810.5,669.3 L811.0,669.2 L811.5,669.2 L811.9,669.2 L812.4,669.2 L812.9,669.1 L813.4,669.1 L813.8,669.1 L814.3,669.1 L814.8,669.0 L815.3,669.0 L815.7,669.0 L816.2,668.9 L816.7,668.9 L817.2,668.9 L817.6,668.9 L818.1,668.8 L818.6,668.8 L819.1,668.8 L819.5,668.8 L820.0,668.7 L820.5,668.7 L820.9,668.7 L821.4,668.7 L821.9,668.6 L822.4,668.6 L822.8,668.6 L823.3,668.6 L823.8,668.5 L824.3,668.5 L824.7,668.5 L825.2,668.5 L825.7,668.4 L826.2,668.4 L826.6,668.4 L827.1,668.4 L827.6,668.4 L828.0,668.3 L828.5,668.3 L829.0,668.3 L829.5,668.3 L829.9,668.2 L830.4,668.2 L830.9,668.2 L831.4,668.2 L831.8,668.2 L832.3,668.1 L832.8,668.1 L833.3,668.1 L833.7,668.1 L834.2,668.0 L834.7,668.0 L835.2,668.0 L835.6,668.0 L836.1,668.0 L836.6,667.9 L837.0,667.9 L837.5,667.9 L838.0,667.9 L838.5,667.9 L838.9,667.8 L839.4,667.8 L839.9,667.8 L840.4,667.8 L840.8,667.8 L841.3,667.7 L841.8,667.7 L842.3,667.7 L842.7,667.7 L843.2,667.7 L843.7,667.6 L844.1,667.6 L844.6,667.6 L845.1,667.6 L845.6,667.6 L846.0,667.5 L846.5,667.5 L847.0,667.5 L847.5,667.5 L847.9,667.5 L848.4,667.5 L848.9,667.4 L849.4,667.4 L849.8,667.4 L850.3,667.4 L850.8,667.4 L851.3,667.4 L851.7,667.3 L852.2,667.3 L852.7,667.3 L853.1,667.3 L853.6,667.3 L854.1,667.3 L854.6,667.2 L855.0,667.2 L855.5,667.2 L856.0,667.2 L856.5,667.2 L856.9,667.2 L857.4,667.1 L857.9,667.1 L858.4,667.1 L858.8,667.1 L859.3,667.1 L859.8,667.1 L860.3,667.1 L860.7,667.0 L861.2,667.0 L861.7,667.0 L862.1,667.0 L862.6,667.0 L863.1,667.0 L863.6,667.0 L864.0,667.0 L864.5,666.9 L865.0,666.9 L865.5,666.9 L865.9,666.9 L866.4,666.9 L866.9,666.9 L867.4,666.9 L867.8,666.9 L868.3,666.8 L868.8,666.8 L869.2,666.8 L869.7,666.8 L870.2,666.8 L870.7,666.8 L871.1,666.8 L871.6,666.8 L872.1,666.8 L872.6,666.7 L873.0,666.7 L873.5,666.7 L874.0,666.7 L874.5,666.7 L874.9,666.7 L875.4,666.7 L875.9,666.7 L876.4,666.6 L876.8,666.6 L877.3,666.6 L877.8,666.6 L878.2,666.6 L878.7,666.6 L879.2,666.6 L879.7,666.6 L880.1,666.6 L880.6,666.5 L881.1,666.5 L881.6,666.5 L882.0,666.5 L882.5,666.5 L883.0,666.5 L883.5,666.5 L883.9,666.5 L884.4,666.5 L884.9,666.4 L885.3,666.4 L885.8,666.4 L886.3,666.4 L886.8,666.4 L887.2,666.4 L887.7,666.4 L888.2,666.4 L888.7,666.4 L889.1,666.4 L889.6,666.3 L890.1,666.3 L890.6,666.3 L891.0,666.3 L891.5,666.3 L892.0,666.3 L892.5,666.3 L892.9,666.3 L893.4,666.3 L893.9,666.3 L894.3,666.2 L894.8,666.2 L895.3,666.2 L895.8,666.2 L896.2,666.2 L896.7,666.2 L897.2,666.2 L897.7,666.2 L898.1,666.2 L898.6,666.2 L899.1,666.2 L899.6,666.1 L900.0,666.1 L900.5,666.1 L901.0,666.1 L901.5,666.1 L901.9,666.1 L902.4,666.1 L902.9,666.1 L903.3,666.1 L903.8,666.1 L904.3,666.1 L904.8,666.1 L905.2,666.0 L905.7,666.0 L906.2,666.0 L906.7,666.0 L907.1,666.0 L907.6,666.0 L908.1,666.0 L908.6,666.0 L909.0,666.0 L909.5,666.0 L910.0,666.0 L910.4,666.0 L910.9,665.9 L911.4,665.9 L911.9,665.9 L912.3,665.9 L912.8,665.9 L913.3,665.9 L913.8,665.9 L914.2,665.9 L914.7,665.9 L915.2,665.9 L915.7,665.9 L916.1,665.9 L916.6,665.9 L917.1,665.9 L917.6,665.9 L918.0,665.8 L918.5,665.8 L919.0,665.8 L919.4,665.8 L919.9,665.8 L920.4,665.8 L920.9,665.8 L921.3,665.8 L921.8,665.8 L922.3,665.8 L922.8,665.8 L923.2,665.8 L923.7,665.8 L924.2,665.8 L924.7,665.8 L925.1,665.8 L925.6,665.8 L926.1,665.7 L926.5,665.7 L927.0,665.7 L927.5,665.7 L928.0,665.7 L928.4,665.7 L928.9,665.7 L929.4,665.7 L929.9,665.7 L930.3,665.7 L930.8,665.7 L931.3,665.7 L931.8,665.7 L932.2,665.7 L932.7,665.7 L933.2,665.7 L933.7,665.7 L934.1,665.7 L934.6,665.7 L935.1,665.7 L935.5,665.7 L936.0,665.7 L936.5,665.7 L937.0,665.6 L937.4,665.6 L937.9,665.6 L938.4,665.6 L938.9,665.6 L939.3,665.6 L939.8,665.6 L940.3,665.6 L940.8,665.6 L941.2,665.6 L941.7,665.6 L942.2,665.6 L942.6,665.6 L943.1,665.6 L943.6,665.6 L944.1,665.6 L944.5,665.6 L945.0,665.6 L945.5,665.6 L946.0,665.6 L946.4,665.6 L946.9,665.6 L947.4,665.6 L947.9,665.6 L948.3,665.6 L948.8,665.6 L949.3,665.6 L949.8,665.6 L950.2,665.6 L950.7,665.6 L951.2,665.6 L951.6,665.5 L952.1,665.5 L952.6,665.5 L953.1,665.5 L953.5,665.5 L954.0,665.5 L954.5,665.5 L955.0,665.5 L955.4,665.5 L955.9,665.5 L956.4,665.5 L956.9,665.5 L957.3,665.5 L957.8,665.5 L958.3,665.5 L958.8,665.5 L959.2,665.5 L959.7,665.5 L960.2,665.5 L960.6,665.5 L961.1,665.5 L961.6,665.5 L962.1,665.5 L962.5,665.5 L963.0,665.5 L963.5,665.5 L964.0,665.5 L964.4,665.5 L964.9,665.5 L965.4,665.5 L965.9,665.5 L966.3,665.5 L966.8,665.5 L967.3,665.5 L967.7,665.5 L968.2,665.4 L968.7,665.4 L969.2,665.4 L969.6,665.4 L970.1,665.4 L970.6,665.4 L971.1,665.4 L971.5,665.4 L972.0,665.4 L972.5,665.4 L973.0,665.4 L973.4,665.4 L973.9,665.4 L974.4,665.4 L974.9,665.4 L975.3,665.4 L975.8,665.4 L976.3,665.4 L976.7,665.4 L977.2,665.4 L977.7,665.4 L978.2,665.4 L978.6,665.4 L979.1,665.4 L979.6,665.4 L980.1,665.4 L980.5,665.4 L981.0,665.4 L981.5,665.4 L982.0,665.4 L982.4,665.4 L982.9,665.4 L983.4,665.4 L983.8,665.4 L984.3,665.4 L984.8,665.4 L985.3,665.4 L985.7,665.4 L986.2,665.4 L986.7,665.4 L987.2,665.4 L987.6,665.4 L988.1,665.4 L988.6,665.4 L989.1,665.4 L989.5,665.4 L990.0,665.4 L990.5,665.4 L991.0,665.4 L991.4,665.4 L991.9,665.4 L992.4,665.4 L992.8,665.4 L993.3,665.4 L993.8,665.3 L994.3,665.3 L994.7,665.3 L995.2,665.3 L995.7,665.3 L996.2,665.3 L996.6,665.3 L997.1,665.3 L997.6,665.3 L998.1,665.3 L998.5,665.3 L999.0,665.3 L999.5,665.3 L999.9,665.3 L1000.4,665.3 L1000.9,665.3 L1001.4,665.3 L1001.8,665.3 L1002.3,665.3 L1002.8,665.3 L1003.3,665.3 L1003.7,665.3 L1004.2,665.3 L1004.7,665.3 L1005.2,665.3 L1005.6,665.3 L1006.1,665.3 L1006.6,665.3 L1007.1,665.3 L1007.5,665.3 L1008.0,665.3" fill="none" stroke="#00ff00" stroke-width="3" stroke-linejoin="round" />
<path d="M581.8,711.7 L582.3,712.1 L582.7,712.6 L583.2,713.3 L583.7,714.0 L584.2,714.8 L584.6,715.7 L585.1,716.7 L585.6,717.6 L586.1,718.5 L586.5,719.3 L587.0,720.1 L587.5,720.7 L588.0,721.3 L588.4,721.6 L588.9,721.8 L589.4,721.8 L589.9,721.6 L590.3,721.3 L590.8,720.9 L591.3,720.4 L591.7,719.8 L592.2,719.2 L592.7,718.5 L593.2,717.8 L593.6,717.0 L594.1,716.3 L594.6,715.5 L595.1,714.8 L595.5,714.2 L596.0,713.5 L596.5,712.8 L597.0,712.1 L597.4,711.3 L597.9,710.5 L598.4,709.7 L598.8,708.9 L599.3,708.2 L599.8,707.4 L600.3,706.7 L600.7,706.1 L601.2,705.5 L601.7,705.0 L602.2,704.5 L602.6,704.1 L603.1,703.8 L603.6,703.5 L604.1,703.1 L604.5,702.9 L605.0,702.6 L605.5,702.3 L606.0,702.0 L606.4,701.6 L606.9,701.3 L607.4,700.8 L607.8,700.4 L608.3,699.8 L608.8,699.2 L609.3,698.5 L609.7,697.1 L610.2,695.5 L610.7,694.3 L611.2,693.7 L611.6,693.2 L612.1,692.8 L612.6,692.3 L613.1,692.0 L613.5,691.6 L614.0,691.3 L614.5,691.1 L614.9,690.9 L615.4,690.7 L615.9,690.6 L616.4,690.5 L616.8,690.5 L617.3,690.5 L617.8,690.5 L618.3,690.6 L618.7,690.6 L619.2,690.7 L619.7,690.7 L620.2,690.8 L620.6,690.9 L621.1,691.0 L621.6,691.1 L622.1,691.1 L622.5,691.2 L623.0,691.3 L623.5,691.4 L623.9,691.5 L624.4,691.5 L624.9,691.7 L625.4,691.7 L625.8,691.7 L626.3,691.9 L626.8,691.9 L627.3,692.0 L627.7,692.1 L628.2,692.1 L628.7,692.2 L629.2,692.2 L629.6,692.2 L630.1,692.3 L630.6,692.2 L631.0,692.2 L631.5,692.2 L632.0,692.0 L632.5,692.0 L632.9,691.9 L633.4,691.9 L633.9,691.8 L634.4,691.8 L634.8,691.8 L635.3,691.9 L635.8,691.9 L636.3,692.0 L636.7,692.0 L637.2,692.0 L637.7,692.1 L638.2,692.1 L638.6,692.1 L639.1,692.0 L639.6,692.0 L640.0,692.0 L640.5,691.9 L641.0,691.8 L641.5,691.7 L641.9,691.6 L642.4,691.3 L642.9,691.3 L643.4,691.4 L643.8,691.3 L644.3,691.0 L644.8,690.8 L645.3,690.9 L645.7,690.6 L646.2,690.6 L646.7,690.3 L647.2,690.1 L647.6,690.1 L648.1,690.2 L648.6,690.1 L649.0,690.1 L649.5,689.9 L650.0,690.1 L650.5,690.3 L650.9,690.1 L651.4,690.4 L651.9,690.5 L652.4,690.7 L652.8,691.1 L653.3,691.1 L653.8,691.1 L654.3,691.2 L654.7,691.4 L655.2,691.8 L655.7,692.1 L656.1,692.2 L656.6,692.7 L657.1,692.8 L657.6,693.0 L658.0,693.0 L658.5,693.1 L659.0,693.2 L659.5,693.3 L659.9,693.4 L660.4,693.5 L660.9,693.6 L661.4,693.6 L661.8,693.8 L662.3,693.7 L662.8,693.6 L663.3,693.7 L663.7,693.9 L664.2,693.9 L664.7,694.1 L665.1,694.4 L665.6,694.6 L666.1,694.4 L666.6,694.5 L667.0,694.4 L667.5,694.1 L668.0,694.2 L668.5,694.1 L668.9,694.2 L669.4,694.1 L669.9,693.9 L670.4,693.8 L670.8,693.8 L671.3,693.7 L671.8,693.7 L672.2,693.7 L672.7,693.6 L673.2,693.6 L673.7,693.5 L674.1,693.5 L674.6,693.2 L675.1,693.1 L675.6,693.2 L676.0,693.0 L676.5,692.7 L677.0,692.4 L677.5,692.2 L677.9,691.9 L678.4,691.6 L678.9,691.4 L679.4,691.2 L679.8,691.0 L680.3,690.9 L680.8,690.7 L681.2,690.5 L681.7,690.5 L682.2,690.4 L682.7,690.3 L683.1,690.0 L683.6,690.1 L684.1,690.2 L684.6,690.2 L685.0,690.3 L685.5,690.4 L686.0,690.3 L686.5,690.4 L686.9,690.3 L687.4,690.3 L687.9,690.5 L688.3,690.6 L688.8,691.0 L689.3,691.1 L689.8,691.1 L690.2,691.1 L690.7,691.0 L691.2,691.1 L691.7,691.2 L692.1,691.2 L692.6,691.1 L693.1,691.2 L693.6,691.0 L694.0,690.9 L694.5,690.9 L695.0,690.8 L695.5,690.9 L695.9,690.8 L696.4,690.9 L696.9,690.8 L697.3,690.7 L697.8,690.7 L698.3,691.0 L698.8,691.0 L699.2,691.1 L699.7,691.1 L700.2,690.9 L700.7,690.8 L701.1,690.7 L701.6,690.9 L702.1,690.7 L702.6,690.6 L703.0,690.7 L703.5,690.7 L704.0,690.2 L704.5,690.1 L704.9,690.1 L705.4,689.8 L705.9,689.7 L706.3,689.6 L706.8,689.3 L707.3,689.2 L707.8,689.2 L708.2,689.1 L708.7,688.7 L709.2,688.5 L709.7,688.3 L710.1,688.0 L710.6,687.7 L711.1,687.7 L711.6,687.7 L712.0,687.5 L712.5,687.4 L713.0,687.1 L713.4,687.1 L713.9,686.7 L714.4,686.6 L714.9,686.5 L715.3,686.5 L715.8,686.3 L716.3,686.1 L716.8,686.0 L717.2,685.7 L717.7,685.6 L718.2,685.5 L718.7,685.3 L719.1,685.1 L719.6,685.0 L720.1,685.0 L720.6,685.0 L721.0,685.2 L721.5,685.4 L722.0,685.5 L722.4,685.4 L722.9,685.6 L723.4,685.7 L723.9,685.9 L724.3,685.9 L724.8,685.9 L725.3,685.9 L725.8,685.9 L726.2,685.8 L726.7,685.8 L727.2,685.8 L727.7,685.8 L728.1,685.8 L728.6,685.6 L729.1,685.6 L729.5,685.6 L730.0,685.6 L730.5,685.6 L731.0,685.6 L731.4,685.9 L731.9,685.9 L732.4,685.9 L732.9,685.8 L733.3,685.6 L733.8,685.7 L734.3,685.7 L734.8,685.7 L735.2,685.6 L735.7,685.4 L736.2,685.3 L736.7,685.3 L737.1,684.9 L737.6,684.8 L738.1,684.9 L738.5,684.9 L739.0,685.0 L739.5,684.9 L740.0,684.7 L740.4,684.5 L740.9,684.5 L741.4,684.3 L741.9,684.3 L742.3,684.0 L742.8,684.0 L743.3,683.8 L743.8,683.3 L744.2,682.9 L744.7,682.6 L745.2,682.5 L745.7,682.4 L746.1,682.7 L746.6,682.4 L747.1,682.3 L747.5,682.0 L748.0,682.1 L748.5,681.8 L749.0,681.9 L749.4,681.9 L749.9,682.2 L750.4,682.3 L750.9,682.0 L751.3,681.8 L751.8,681.5 L752.3,681.6 L752.8,681.5 L753.2,681.8 L753.7,681.5 L754.2,681.9 L754.6,681.7 L755.1,681.8 L755.6,681.5 L756.1,681.4 L756.5,681.5 L757.0,681.6 L757.5,681.6 L758.0,681.5 L758.4,681.7 L758.9,681.5 L759.4,681.5 L759.9,681.3 L760.3,681.2 L760.8,681.0 L761.3,681.0 L761.8,681.0 L762.2,680.8 L762.7,680.5 L763.2,680.3 L763.6,680.0 L764.1,679.7 L764.6,679.6 L765.1,679.5 L765.5,679.3 L766.0,679.2 L766.5,679.1 L767.0,678.9 L767.4,678.4 L767.9,677.9 L768.4,677.5 L768.9,677.2 L769.3,677.1 L769.8,677.0 L770.3,676.5 L770.7,676.4 L771.2,676.1 L771.7,676.1 L772.2,675.9 L772.6,675.9 L773.1,675.9 L773.6,676.2 L774.1,676.3 L774.5,676.3 L775.0,676.1 L775.5,676.1 L776.0,676.1 L776.4,676.0 L776.9,676.0 L777.4,676.0 L777.9,675.9 L778.3,675.8 L778.8,676.0 L779.3,675.7 L779.7,675.6 L780.2,675.6 L780.7,675.5 L781.2,675.3 L781.6,675.3 L782.1,675.3 L782.6,675.6 L783.1,675.5 L783.5,675.6 L784.0,675.7 L784.5,675.5 L785.0,675.7 L785.4,676.0 L785.9,676.1 L786.4,676.2 L786.8,676.5 L787.3,676.6 L787.8,676.9 L788.3,677.0 L788.7,677.0 L789.2,677.1 L789.7,677.3 L790.2,677.5 L790.6,677.7 L791.1,677.8 L791.6,678.0 L792.1,678.2 L792.5,678.5 L793.0,678.6 L793.5,678.7 L794.0,678.6 L794.4,678.6 L794.9,678.7 L795.4,678.6 L795.8,678.6 L796.3,678.4 L796.8,678.1 L797.3,677.9 L797.7,677.7 L798.2,676.9 L798.7,676.5 L799.2,676.0 L799.6,675.6 L800.1,675.2 L800.6,674.6 L801.1,674.1 L801.5,673.7 L802.0,673.2 L802.5,672.6 L803.0,672.1 L803.4,671.6 L803.9,671.5 L804.4,671.0 L804.8,670.7 L805.3,670.3 L805.8,670.2 L806.3,670.2 L806.7,670.1 L807.2,669.9 L807.7,669.9 L808.2,669.9 L808.6,669.7 L809.1,669.8 L809.6,669.8 L810.1,669.7 L810.5,669.7 L811.0,669.7 L811.5,669.5 L811.9,669.3 L812.4,669.3 L812.9,669.1 L813.4,668.9 L813.8,669.1 L814.3,669.3 L814.8,669.2 L815.3,669.0 L815.7,669.1 L816.2,669.1 L816.7,669.1 L817.2,669.0 L817.6,669.1 L818.1,669.0 L818.6,668.8 L819.1,668.8 L819.5,668.7 L820.0,668.6 L820.5,668.5 L820.9,668.7 L821.4,668.6 L821.9,668.6 L822.4,668.8 L822.8,668.8 L823.3,668.7 L823.8,668.7 L824.3,669.0 L824.7,669.1 L825.2,669.1 L825.7,669.2 L826.2,669.3 L826.6,669.2 L827.1,669.3 L827.6,669.5 L828.0,669.5 L828.5,669.9 L829.0,670.1 L829.5,670.3 L829.9,670.4 L830.4,670.5 L830.9,670.6 L831.4,671.0 L831.8,671.3 L832.3,671.6 L832.8,672.0 L833.3,672.3 L833.7,672.5 L834.2,672.8 L834.7,673.0 L835.2,673.3 L835.6,673.5 L836.1,673.9 L836.6,674.1 L837.0,674.1 L837.5,674.4 L838.0,674.2 L838.5,674.2 L838.9,674.0 L839.4,673.7 L839.9,673.3 L840.4,673.5 L840.8,673.4 L841.3,673.4 L841.8,673.1 L842.3,673.1 L842.7,673.0 L843.2,672.6 L843.7,672.9 L844.1,672.8 L844.6,672.5 L845.1,672.6 L845.6,672.5 L846.0,672.0 L846.5,671.8 L847.0,671.6 L847.5,671.4 L847.9,671.3 L848.4,670.9 L848.9,670.8 L849.4,670.4 L849.8,670.2 L850.3,670.1 L850.8,670.2 L851.3,670.4 L851.7,670.4 L852.2,670.4 L852.7,670.5 L853.1,670.6 L853.6,670.5 L854.1,670.6 L854.6,670.7 L855.0,670.7 L855.5,670.9 L856.0,671.1 L856.5,671.0 L856.9,670.9 L857.4,670.9 L857.9,670.8 L858.4,670.8 L858.8,670.9 L859.3,670.9 L859.8,671.0 L860.3,671.0 L860.7,671.0 L861.2,671.0 L861.7,671.0 L862.1,670.9 L862.6,671.2 L863.1,671.1 L863.6,671.3 L864.0,671.1 L864.5,670.8 L865.0,670.8 L865.5,670.7 L865.9,670.6 L866.4,670.7 L866.9,670.4 L867.4,670.2 L867.8,670.2 L868.3,669.8 L868.8,669.9 L869.2,669.5 L869.7,669.5 L870.2,669.4 L870.7,669.5 L871.1,669.5 L871.6,669.6 L872.1,669.2 L872.6,669.2 L873.0,669.1 L873.5,669.1 L874.0,669.0 L874.5,668.8 L874.9,668.9 L875.4,669.0 L875.9,668.9 L876.4,668.6 L876.8,668.4 L877.3,668.3 L877.8,668.5 L878.2,668.3 L878.7,668.2 L879.2,667.9 L879.7,667.8 L880.1,667.8 L880.6,667.7 L881.1,667.3 L881.6,667.4 L882.0,667.3 L882.5,667.0 L883.0,666.8 L883.5,666.7 L883.9,666.7 L884.4,666.7 L884.9,666.7 L885.3,666.5 L885.8,666.4 L886.3,666.2 L886.8,666.0 L887.2,665.8 L887.7,665.7 L888.2,665.6 L888.7,665.5 L889.1,665.3 L889.6,664.9 L890.1,664.7 L890.6,664.9 L891.0,665.0 L891.5,665.1 L892.0,665.1 L892.5,665.3 L892.9,665.4 L893.4,665.3 L893.9,665.4 L894.3,665.2 L894.8,665.3 L895.3,665.5 L895.8,665.5 L896.2,665.3 L896.7,665.1 L897.2,665.2 L897.7,665.3 L898.1,665.5 L898.6,665.4 L899.1,665.6 L899.6,665.6 L900.0,665.8 L900.5,665.7 L901.0,665.8 L901.5,666.0 L901.9,666.0 L902.4,666.3 L902.9,666.2 L903.3,666.0 L903.8,665.6 L904.3,665.8 L904.8,666.0 L905.2,666.4 L905.7,666.6 L906.2,666.8 L906.7,666.9 L907.1,666.9 L907.6,667.2 L908.1,667.2 L908.6,667.5 L909.0,667.9 L909.5,668.4 L910.0,668.8 L910.4,668.8 L910.9,668.8 L911.4,668.9 L911.9,669.1 L912.3,669.3 L912.8,669.7 L913.3,669.9 L913.8,670.2 L914.2,670.3 L914.7,670.4 L915.2,670.6 L915.7,670.7 L916.1,671.0 L916.6,671.1 L917.1,671.2 L917.6,671.4 L918.0,671.7 L918.5,671.6 L919.0,671.8 L919.4,672.1 L919.9,672.3 L920.4,672.2 L920.9,672.5 L921.3,672.5 L921.8,672.6 L922.3,672.8 L922.8,673.0 L923.2,673.0 L923.7,673.2 L924.2,673.2 L924.7,673.1 L925.1,672.8 L925.6,672.7 L926.1,672.8 L926.5,672.2 L927.0,672.1 L927.5,671.9 L928.0,671.8 L928.4,671.5 L928.9,671.2 L929.4,670.5 L929.9,670.2 L930.3,670.0 L930.8,669.7 L931.3,669.3 L931.8,669.0 L932.2,669.0 L932.7,668.5 L933.2,668.4 L933.7,668.0 L934.1,667.9 L934.6,667.9 L935.1,667.7 L935.5,667.7 L936.0,667.6 L936.5,667.3 L937.0,667.3 L937.4,667.3 L937.9,667.4 L938.4,667.8 L938.9,667.8 L939.3,667.9 L939.8,667.8 L940.3,667.6 L940.8,667.9 L941.2,667.8 L941.7,667.9 L942.2,668.0 L942.6,667.9 L943.1,667.8 L943.6,667.8 L944.1,667.4 L944.5,667.2 L945.0,667.0 L945.5,667.0 L946.0,667.2 L946.4,666.9 L946.9,667.1 L947.4,667.0 L947.9,667.1 L948.3,667.5 L948.8,667.5 L949.3,667.5 L949.8,667.7 L950.2,667.8 L950.7,667.9 L951.2,668.1 L951.6,668.2 L952.1,668.2 L952.6,668.1 L953.1,668.4 L953.5,668.5 L954.0,668.5 L954.5,668.5 L955.0,668.5 L955.4,668.4 L955.9,668.6 L956.4,668.8 L956.9,668.6 L957.3,668.7 L957.8,668.8 L958.3,668.8 L958.8,668.7 L959.2,668.8 L959.7,668.6 L960.2,668.7 L960.6,668.6 L961.1,668.5 L961.6,668.4 L962.1,668.3 L962.5,668.5 L963.0,668.2 L963.5,668.4 L964.0,668.3 L964.4,668.4 L964.9,668.4 L965.4,668.4 L965.9,668.4 L966.3,668.6 L966.8,668.7 L967.3,668.7 L967.7,668.7 L968.2,668.6 L968.7,668.7 L969.2,668.8 L969.6,668.7 L970.1,668.6 L970.6,668.6 L971.1,668.7 L971.5,668.7 L972.0,668.7 L972.5,668.8 L973.0,668.7 L973.4,668.9 L973.9,668.8 L974.4,668.7 L974.9,668.9 L975.3,669.0 L975.8,668.9 L976.3,668.9 L976.7,668.9 L977.2,669.1 L977.7,669.1 L978.2,669.1 L978.6,669.4 L979.1,669.4 L979.6,669.6 L980.1,669.8 L980.5,669.8 L981.0,669.9 L981.5,670.1 L982.0,670.2 L982.4,670.3 L982.9,670.2 L983.4,670.2 L983.8,670.0 L984.3,670.1 L984.8,670.0 L985.3,669.9 L985.7,670.0 L986.2,670.0 L986.7,670.0 L987.2,669.9 L987.6,669.8 L988.1,669.6 L988.6,669.6 L989.1,669.7 L989.5,669.9 L990.0,669.7 L990.5,669.6 L991.0,669.7 L991.4,669.8 L991.9,669.8 L992.4,669.8 L992.8,669.8 L993.3,669.8 L993.8,670.2 L994.3,670.3 L994.7,670.4 L995.2,670.6 L995.7,670.6 L996.2,670.8 L996.6,670.6 L997.1,670.5 L997.6,670.6 L998.1,670.5 L998.5,670.2 L999.0,670.1 L999.5,669.7 L999.9,669.6 L1000.4,669.4 L1000.9,669.0 L1001.4,669.0 L1001.8,668.7 L1002.3,668.8 L1002.8,668.4 L1003.3,668.0 L1003.7,667.9 L1004.2,667.9 L1004.7,667.6 L1005.2,667.5 L1005.6,667.1 L1006.1,667.0 L1006.6,667.0 L1007.1,666.6 L1007.5,666.5 L1008.0,666.1" fill="none" stroke="#000" stroke-width="3" stroke-linejoin="round" />
<text x="578.3" y="654.1" font-family="Liberation Sans" font-size="12.5" text-anchor="end" >100</text>
<text x="578.3" y="685.5" font-family="Liberation Sans" font-size="12.5" text-anchor="end" >80</text>
<line x1="581.8" y1="681.1" x2="585.8" y2="681.1" stroke="#c4c4c4" stroke-width="1"/>
<line x1="1004" y1="681.1" x2="1008" y2="681.1" stroke="#c4c4c4" stroke-width="1"/>
<text x="578.3" y="717.0" font-family="Liberation Sans" font-size="12.5" text-anchor="end" >60</text>
<line x1="581.8" y1="712.5" x2="585.8" y2="712.5" stroke="#c4c4c4" stroke-width="1"/>
<line x1="1004" y1="712.5" x2="1008" y2="712.5" stroke="#c4c4c4" stroke-width="1"/>
<text x="578.3" y="748.5" font-family="Liberation Sans" font-size="12.5" text-anchor="end" >40</text>
<text x="581.8" y="759.3" font-family="Liberation Sans" font-size="12.5" text-anchor="middle" >0</text>
<text x="652.8" y="759.3" font-family="Liberation Sans" font-size="12.5" text-anchor="middle" >50</text>
<line x1="652.8" y1="649.6" x2="652.8" y2="653.6" stroke="#c4c4c4" stroke-width="1"/>
<line x1="652.8" y1="740" x2="652.8" y2="744" stroke="#c4c4c4" stroke-width="1"/>
<text x="723.9" y="759.3" font-family="Liberation Sans" font-size="12.5" text-anchor="middle" >100</text>
<line x1="723.9" y1="649.6" x2="723.9" y2="653.6" stroke="#c4c4c4" stroke-width="1"/>
<line x1="723.9" y1="740" x2="723.9" y2="744" stroke="#c4c4c4" stroke-width="1"/>
<text x="794.9" y="759.3" font-family="Liberation Sans" font-size="12.5" text-anchor="middle" >150</text>
<line x1="794.9" y1="649.6" x2="794.9" y2="653.6" stroke="#c4c4c4" stroke-width="1"/>
<line x1="794.9" y1="740" x2="794.9" y2="744" stroke="#c4c4c4" stroke-width="1"/>
<text x="865.9" y="759.3" font-family="Liberation Sans" font-size="12.5" text-anchor="middle" >200</text>
<line x1="865.9" y1="649.6" x2="865.9" y2="653.6" stroke="#c4c4c4" stroke-width="1"/>
<line x1="865.9" y1="740" x2="865.9" y2="744" stroke="#c4c4c4" stroke-width="1"/>
<text x="937.0" y="759.3" font-family="Liberation Sans" font-size="12.5" text-anchor="middle" >250</text>
<line x1="937.0" y1="649.6" x2="937.0" y2="653.6" stroke="#c4c4c4" stroke-width="1"/>
<line x1="937.0" y1="740" x2="937.0" y2="744" stroke="#c4c4c4" stroke-width="1"/>
<text x="1008.0" y="759.3" font-family="Liberation Sans" font-size="12.5" text-anchor="middle" >300</text>
<text transform="translate(548.2,696.8) rotate(-90)" font-family="Liberation Sans" font-size="13.5" text-anchor="middle" >DP in the CSTR II</text>
<text x="794.2" y="774" font-family="Liberation Sans" font-size="13" text-anchor="middle" >Time (min)</text>
<rect x="892" y="697" width="112" height="43.3" fill="#fff"/>
<line x1="892" y1="740.3" x2="1004" y2="740.3" stroke="#b9b9b9" stroke-width="1"/>
<line x1="897.5" y1="708.8" x2="924.9" y2="708.8" stroke="#00ff00" stroke-width="3"/>
<text x="928.5" y="710.6999999999999" font-family="Liberation Sans" font-size="10.5">DP<tspan dx="1.2" dy="4.7" font-size="9">2</tspan></text>
<line x1="897.5" y1="728.5" x2="924.9" y2="728.5" stroke="#000" stroke-width="3"/>
<text x="928.5" y="730.4" font-family="Liberation Sans" font-size="10.5">Estimated DP<tspan dx="1.2" dy="4.7" font-size="9">2</tspan></text>
<line x1="581.8" y1="794.4" x2="1008" y2="794.4" stroke="#b9b9b9" stroke-width="1"/>
<line x1="581.8" y1="794.4" x2="581.8" y2="889.4" stroke="#b9b9b9" stroke-width="1"/>
<path d="M581.8,828.3 L582.3,828.3 L582.7,828.3 L583.2,828.3 L583.7,828.3 L584.2,828.3 L584.6,828.3 L585.1,828.3 L585.6,828.3 L586.1,828.3 L586.5,828.3 L587.0,828.3 L587.5,828.3 L588.0,828.3 L588.4,828.3 L588.9,828.3 L589.4,828.3 L589.9,828.3 L590.3,828.3 L590.8,828.3 L591.3,828.3 L591.7,828.3 L592.2,828.3 L592.7,828.3 L593.2,828.3 L593.6,828.3 L594.1,828.3 L594.6,828.3 L595.1,828.3 L595.5,828.3 L596.0,828.3 L596.5,828.2 L597.0,828.2 L597.4,828.2 L597.9,828.2 L598.4,828.2 L598.8,828.2 L599.3,828.2 L599.8,828.2 L600.3,828.2 L600.7,828.2 L601.2,828.2 L601.7,828.2 L602.2,828.2 L602.6,828.2 L603.1,828.1 L603.6,828.1 L604.1,828.1 L604.5,828.1 L605.0,828.1 L605.5,828.0 L606.0,828.0 L606.4,828.0 L606.9,827.9 L607.4,827.9 L607.8,827.9 L608.3,827.8 L608.8,827.8 L609.3,827.7 L609.7,827.7 L610.2,827.6 L610.7,827.6 L611.2,827.5 L611.6,827.5 L612.1,827.4 L612.6,827.4 L613.1,827.3 L613.5,827.3 L614.0,827.2 L614.5,827.2 L614.9,827.1 L615.4,827.1 L615.9,827.0 L616.4,826.9 L616.8,826.9 L617.3,826.8 L617.8,826.8 L618.3,826.7 L618.7,826.6 L619.2,826.6 L619.7,826.5 L620.2,826.5 L620.6,826.4 L621.1,826.3 L621.6,826.3 L622.1,826.2 L622.5,826.2 L623.0,826.1 L623.5,826.1 L623.9,826.0 L624.4,826.0 L624.9,825.9 L625.4,825.9 L625.8,825.8 L626.3,825.8 L626.8,825.7 L627.3,825.7 L627.7,825.6 L628.2,825.6 L628.7,825.5 L629.2,825.5 L629.6,825.4 L630.1,825.3 L630.6,825.3 L631.0,825.2 L631.5,825.2 L632.0,825.1 L632.5,825.1 L632.9,825.0 L633.4,825.0 L633.9,824.9 L634.4,824.9 L634.8,824.8 L635.3,824.8 L635.8,824.7 L636.3,824.6 L636.7,824.6 L637.2,824.5 L637.7,824.5 L638.2,824.4 L638.6,824.4 L639.1,824.3 L639.6,824.3 L640.0,824.2 L640.5,824.2 L641.0,824.1 L641.5,824.0 L641.9,824.0 L642.4,823.9 L642.9,823.9 L643.4,823.8 L643.8,823.8 L644.3,823.7 L644.8,823.7 L645.3,823.6 L645.7,823.5 L646.2,823.5 L646.7,823.4 L647.2,823.4 L647.6,823.3 L648.1,823.3 L648.6,823.2 L649.0,823.2 L649.5,823.1 L650.0,823.1 L650.5,823.0 L650.9,823.0 L651.4,822.9 L651.9,822.9 L652.4,822.8 L652.8,822.8 L653.3,822.7 L653.8,822.6 L654.3,822.6 L654.7,822.5 L655.2,822.5 L655.7,822.4 L656.1,822.4 L656.6,822.3 L657.1,822.3 L657.6,822.2 L658.0,822.2 L658.5,822.1 L659.0,822.1 L659.5,822.0 L659.9,822.0 L660.4,821.9 L660.9,821.9 L661.4,821.8 L661.8,821.8 L662.3,821.7 L662.8,821.7 L663.3,821.6 L663.7,821.6 L664.2,821.5 L664.7,821.5 L665.1,821.4 L665.6,821.4 L666.1,821.3 L666.6,821.2 L667.0,821.2 L667.5,821.1 L668.0,821.1 L668.5,821.0 L668.9,821.0 L669.4,820.9 L669.9,820.9 L670.4,820.8 L670.8,820.7 L671.3,820.7 L671.8,820.6 L672.2,820.6 L672.7,820.5 L673.2,820.4 L673.7,820.4 L674.1,820.3 L674.6,820.3 L675.1,820.2 L675.6,820.1 L676.0,820.1 L676.5,820.0 L677.0,819.9 L677.5,819.9 L677.9,819.8 L678.4,819.7 L678.9,819.6 L679.4,819.6 L679.8,819.5 L680.3,819.4 L680.8,819.4 L681.2,819.3 L681.7,819.2 L682.2,819.2 L682.7,819.1 L683.1,819.0 L683.6,819.0 L684.1,818.9 L684.6,818.8 L685.0,818.8 L685.5,818.7 L686.0,818.6 L686.5,818.6 L686.9,818.5 L687.4,818.4 L687.9,818.4 L688.3,818.3 L688.8,818.2 L689.3,818.2 L689.8,818.1 L690.2,818.1 L690.7,818.0 L691.2,818.0 L691.7,817.9 L692.1,817.9 L692.6,817.8 L693.1,817.8 L693.6,817.7 L694.0,817.6 L694.5,817.6 L695.0,817.5 L695.5,817.5 L695.9,817.4 L696.4,817.4 L696.9,817.3 L697.3,817.3 L697.8,817.2 L698.3,817.2 L698.8,817.1 L699.2,817.1 L699.7,817.0 L700.2,817.0 L700.7,817.0 L701.1,816.9 L701.6,816.9 L702.1,816.8 L702.6,816.8 L703.0,816.7 L703.5,816.7 L704.0,816.6 L704.5,816.6 L704.9,816.5 L705.4,816.5 L705.9,816.4 L706.3,816.4 L706.8,816.4 L707.3,816.3 L707.8,816.3 L708.2,816.2 L708.7,816.2 L709.2,816.1 L709.7,816.1 L710.1,816.0 L710.6,816.0 L711.1,816.0 L711.6,815.9 L712.0,815.9 L712.5,815.8 L713.0,815.8 L713.4,815.7 L713.9,815.7 L714.4,815.6 L714.9,815.6 L715.3,815.6 L715.8,815.5 L716.3,815.5 L716.8,815.4 L717.2,815.4 L717.7,815.3 L718.2,815.3 L718.7,815.3 L719.1,815.2 L719.6,815.2 L720.1,815.1 L720.6,815.1 L721.0,815.0 L721.5,815.0 L722.0,814.9 L722.4,814.9 L722.9,814.9 L723.4,814.8 L723.9,814.8 L724.3,814.7 L724.8,814.7 L725.3,814.6 L725.8,814.6 L726.2,814.5 L726.7,814.5 L727.2,814.5 L727.7,814.4 L728.1,814.4 L728.6,814.3 L729.1,814.3 L729.5,814.2 L730.0,814.2 L730.5,814.1 L731.0,814.1 L731.4,814.0 L731.9,814.0 L732.4,814.0 L732.9,813.9 L733.3,813.9 L733.8,813.8 L734.3,813.8 L734.8,813.7 L735.2,813.7 L735.7,813.6 L736.2,813.6 L736.7,813.6 L737.1,813.5 L737.6,813.5 L738.1,813.4 L738.5,813.4 L739.0,813.3 L739.5,813.3 L740.0,813.2 L740.4,813.2 L740.9,813.2 L741.4,813.1 L741.9,813.1 L742.3,813.0 L742.8,813.0 L743.3,812.9 L743.8,812.9 L744.2,812.8 L744.7,812.8 L745.2,812.8 L745.7,812.7 L746.1,812.7 L746.6,812.6 L747.1,812.6 L747.5,812.5 L748.0,812.5 L748.5,812.4 L749.0,812.4 L749.4,812.4 L749.9,812.3 L750.4,812.3 L750.9,812.2 L751.3,812.2 L751.8,812.1 L752.3,812.1 L752.8,812.0 L753.2,812.0 L753.7,812.0 L754.2,811.9 L754.6,811.9 L755.1,811.8 L755.6,811.8 L756.1,811.7 L756.5,811.7 L757.0,811.6 L757.5,811.6 L758.0,811.6 L758.4,811.5 L758.9,811.5 L759.4,811.4 L759.9,811.4 L760.3,811.3 L760.8,811.3 L761.3,811.3 L761.8,811.2 L762.2,811.2 L762.7,811.1 L763.2,811.1 L763.6,811.0 L764.1,811.0 L764.6,811.0 L765.1,810.9 L765.5,810.9 L766.0,810.8 L766.5,810.8 L767.0,810.7 L767.4,810.7 L767.9,810.7 L768.4,810.6 L768.9,810.6 L769.3,810.5 L769.8,810.5 L770.3,810.4 L770.7,810.4 L771.2,810.4 L771.7,810.3 L772.2,810.3 L772.6,810.2 L773.1,810.2 L773.6,810.1 L774.1,810.1 L774.5,810.1 L775.0,810.0 L775.5,810.0 L776.0,809.9 L776.4,809.9 L776.9,809.9 L777.4,809.8 L777.9,809.8 L778.3,809.7 L778.8,809.7 L779.3,809.7 L779.7,809.6 L780.2,809.6 L780.7,809.5 L781.2,809.5 L781.6,809.5 L782.1,809.4 L782.6,809.4 L783.1,809.3 L783.5,809.3 L784.0,809.3 L784.5,809.2 L785.0,809.2 L785.4,809.1 L785.9,809.1 L786.4,809.1 L786.8,809.0 L787.3,809.0 L787.8,808.9 L788.3,808.9 L788.7,808.9 L789.2,808.8 L789.7,808.8 L790.2,808.7 L790.6,808.7 L791.1,808.7 L791.6,808.6 L792.1,808.6 L792.5,808.6 L793.0,808.5 L793.5,808.5 L794.0,808.4 L794.4,808.4 L794.9,808.4 L795.4,808.3 L795.8,808.3 L796.3,808.3 L796.8,808.2 L797.3,808.2 L797.7,808.1 L798.2,808.1 L798.7,808.1 L799.2,808.0 L799.6,808.0 L800.1,807.9 L800.6,807.9 L801.1,807.9 L801.5,807.8 L802.0,807.8 L802.5,807.8 L803.0,807.7 L803.4,807.7 L803.9,807.6 L804.4,807.6 L804.8,807.6 L805.3,807.5 L805.8,807.5 L806.3,807.4 L806.7,807.4 L807.2,807.4 L807.7,807.3 L808.2,807.3 L808.6,807.2 L809.1,807.2 L809.6,807.2 L810.1,807.1 L810.5,807.1 L811.0,807.1 L811.5,807.0 L811.9,807.0 L812.4,806.9 L812.9,806.9 L813.4,806.9 L813.8,806.8 L814.3,806.8 L814.8,806.7 L815.3,806.7 L815.7,806.7 L816.2,806.6 L816.7,806.6 L817.2,806.6 L817.6,806.5 L818.1,806.5 L818.6,806.4 L819.1,806.4 L819.5,806.4 L820.0,806.3 L820.5,806.3 L820.9,806.3 L821.4,806.2 L821.9,806.2 L822.4,806.2 L822.8,806.1 L823.3,806.1 L823.8,806.0 L824.3,806.0 L824.7,806.0 L825.2,805.9 L825.7,805.9 L826.2,805.9 L826.6,805.8 L827.1,805.8 L827.6,805.8 L828.0,805.7 L828.5,805.7 L829.0,805.7 L829.5,805.6 L829.9,805.6 L830.4,805.6 L830.9,805.5 L831.4,805.5 L831.8,805.5 L832.3,805.4 L832.8,805.4 L833.3,805.4 L833.7,805.3 L834.2,805.3 L834.7,805.3 L835.2,805.2 L835.6,805.2 L836.1,805.2 L836.6,805.2 L837.0,805.1 L837.5,805.1 L838.0,805.1 L838.5,805.0 L838.9,805.0 L839.4,805.0 L839.9,805.0 L840.4,804.9 L840.8,804.9 L841.3,804.9 L841.8,804.8 L842.3,804.8 L842.7,804.8 L843.2,804.8 L843.7,804.7 L844.1,804.7 L844.6,804.7 L845.1,804.7 L845.6,804.6 L846.0,804.6 L846.5,804.6 L847.0,804.6 L847.5,804.6 L847.9,804.5 L848.4,804.5 L848.9,804.5 L849.4,804.5 L849.8,804.4 L850.3,804.4 L850.8,804.4 L851.3,804.4 L851.7,804.4 L852.2,804.4 L852.7,804.3 L853.1,804.3 L853.6,804.3 L854.1,804.3 L854.6,804.3 L855.0,804.2 L855.5,804.2 L856.0,804.2 L856.5,804.2 L856.9,804.2 L857.4,804.1 L857.9,804.1 L858.4,804.1 L858.8,804.1 L859.3,804.1 L859.8,804.1 L860.3,804.0 L860.7,804.0 L861.2,804.0 L861.7,804.0 L862.1,804.0 L862.6,804.0 L863.1,803.9 L863.6,803.9 L864.0,803.9 L864.5,803.9 L865.0,803.9 L865.5,803.8 L865.9,803.8 L866.4,803.8 L866.9,803.8 L867.4,803.8 L867.8,803.8 L868.3,803.8 L868.8,803.7 L869.2,803.7 L869.7,803.7 L870.2,803.7 L870.7,803.7 L871.1,803.7 L871.6,803.6 L872.1,803.6 L872.6,803.6 L873.0,803.6 L873.5,803.6 L874.0,803.6 L874.5,803.5 L874.9,803.5 L875.4,803.5 L875.9,803.5 L876.4,803.5 L876.8,803.5 L877.3,803.5 L877.8,803.4 L878.2,803.4 L878.7,803.4 L879.2,803.4 L879.7,803.4 L880.1,803.4 L880.6,803.4 L881.1,803.3 L881.6,803.3 L882.0,803.3 L882.5,803.3 L883.0,803.3 L883.5,803.3 L883.9,803.3 L884.4,803.3 L884.9,803.2 L885.3,803.2 L885.8,803.2 L886.3,803.2 L886.8,803.2 L887.2,803.2 L887.7,803.2 L888.2,803.1 L888.7,803.1 L889.1,803.1 L889.6,803.1 L890.1,803.1 L890.6,803.1 L891.0,803.1 L891.5,803.1 L892.0,803.0 L892.5,803.0 L892.9,803.0 L893.4,803.0 L893.9,803.0 L894.3,803.0 L894.8,803.0 L895.3,803.0 L895.8,802.9 L896.2,802.9 L896.7,802.9 L897.2,802.9 L897.7,802.9 L898.1,802.9 L898.6,802.9 L899.1,802.9 L899.6,802.8 L900.0,802.8 L900.5,802.8 L901.0,802.8 L901.5,802.8 L901.9,802.8 L902.4,802.8 L902.9,802.8 L903.3,802.8 L903.8,802.7 L904.3,802.7 L904.8,802.7 L905.2,802.7 L905.7,802.7 L906.2,802.7 L906.7,802.7 L907.1,802.7 L907.6,802.7 L908.1,802.6 L908.6,802.6 L909.0,802.6 L909.5,802.6 L910.0,802.6 L910.4,802.6 L910.9,802.6 L911.4,802.6 L911.9,802.6 L912.3,802.6 L912.8,802.5 L913.3,802.5 L913.8,802.5 L914.2,802.5 L914.7,802.5 L915.2,802.5 L915.7,802.5 L916.1,802.5 L916.6,802.5 L917.1,802.4 L917.6,802.4 L918.0,802.4 L918.5,802.4 L919.0,802.4 L919.4,802.4 L919.9,802.4 L920.4,802.4 L920.9,802.4 L921.3,802.4 L921.8,802.3 L922.3,802.3 L922.8,802.3 L923.2,802.3 L923.7,802.3 L924.2,802.3 L924.7,802.3 L925.1,802.3 L925.6,802.3 L926.1,802.3 L926.5,802.2 L927.0,802.2 L927.5,802.2 L928.0,802.2 L928.4,802.2 L928.9,802.2 L929.4,802.2 L929.9,802.2 L930.3,802.2 L930.8,802.2 L931.3,802.2 L931.8,802.1 L932.2,802.1 L932.7,802.1 L933.2,802.1 L933.7,802.1 L934.1,802.1 L934.6,802.1 L935.1,802.1 L935.5,802.1 L936.0,802.1 L936.5,802.0 L937.0,802.0 L937.4,802.0 L937.9,802.0 L938.4,802.0 L938.9,802.0 L939.3,802.0 L939.8,802.0 L940.3,802.0 L940.8,802.0 L941.2,802.0 L941.7,801.9 L942.2,801.9 L942.6,801.9 L943.1,801.9 L943.6,801.9 L944.1,801.9 L944.5,801.9 L945.0,801.9 L945.5,801.9 L946.0,801.9 L946.4,801.9 L946.9,801.8 L947.4,801.8 L947.9,801.8 L948.3,801.8 L948.8,801.8 L949.3,801.8 L949.8,801.8 L950.2,801.8 L950.7,801.8 L951.2,801.8 L951.6,801.8 L952.1,801.7 L952.6,801.7 L953.1,801.7 L953.5,801.7 L954.0,801.7 L954.5,801.7 L955.0,801.7 L955.4,801.7 L955.9,801.7 L956.4,801.7 L956.9,801.7 L957.3,801.7 L957.8,801.6 L958.3,801.6 L958.8,801.6 L959.2,801.6 L959.7,801.6 L960.2,801.6 L960.6,801.6 L961.1,801.6 L961.6,801.6 L962.1,801.6 L962.5,801.6 L963.0,801.6 L963.5,801.5 L964.0,801.5 L964.4,801.5 L964.9,801.5 L965.4,801.5 L965.9,801.5 L966.3,801.5 L966.8,801.5 L967.3,801.5 L967.7,801.5 L968.2,801.5 L968.7,801.5 L969.2,801.4 L969.6,801.4 L970.1,801.4 L970.6,801.4 L971.1,801.4 L971.5,801.4 L972.0,801.4 L972.5,801.4 L973.0,801.4 L973.4,801.4 L973.9,801.4 L974.4,801.4 L974.9,801.4 L975.3,801.4 L975.8,801.3 L976.3,801.3 L976.7,801.3 L977.2,801.3 L977.7,801.3 L978.2,801.3 L978.6,801.3 L979.1,801.3 L979.6,801.3 L980.1,801.3 L980.5,801.3 L981.0,801.3 L981.5,801.3 L982.0,801.3 L982.4,801.2 L982.9,801.2 L983.4,801.2 L983.8,801.2 L984.3,801.2 L984.8,801.2 L985.3,801.2 L985.7,801.2 L986.2,801.2 L986.7,801.2 L987.2,801.2 L987.6,801.2 L988.1,801.2 L988.6,801.2 L989.1,801.2 L989.5,801.1 L990.0,801.1 L990.5,801.1 L991.0,801.1 L991.4,801.1 L991.9,801.1 L992.4,801.1 L992.8,801.1 L993.3,801.1 L993.8,801.1 L994.3,801.1 L994.7,801.1 L995.2,801.1 L995.7,801.1 L996.2,801.1 L996.6,801.1 L997.1,801.1 L997.6,801.0 L998.1,801.0 L998.5,801.0 L999.0,801.0 L999.5,801.0 L999.9,801.0 L1000.4,801.0 L1000.9,801.0 L1001.4,801.0 L1001.8,801.0 L1002.3,801.0 L1002.8,801.0 L1003.3,801.0 L1003.7,801.0 L1004.2,801.0 L1004.7,801.0 L1005.2,801.0 L1005.6,801.0 L1006.1,801.0 L1006.6,800.9 L1007.1,800.9 L1007.5,800.9 L1008.0,800.9" fill="none" stroke="#00ff00" stroke-width="3" stroke-linejoin="round" />
<path d="M581.8,810.4 L582.3,810.8 L582.7,811.9 L583.2,815.6 L583.7,821.3 L584.2,828.0 L584.6,834.8 L585.1,840.5 L585.6,846.2 L586.1,852.1 L586.5,857.7 L587.0,862.7 L587.5,866.9 L588.0,870.6 L588.4,874.0 L588.9,877.0 L589.4,879.2 L589.9,880.5 L590.3,881.4 L590.8,882.3 L591.3,883.1 L591.7,883.8 L592.2,884.4 L592.7,885.0 L593.2,885.5 L593.6,885.9 L594.1,886.2 L594.6,886.5 L595.1,886.6 L595.5,886.7 L596.0,886.7 L596.5,886.6 L597.0,886.5 L597.4,886.4 L597.9,886.3 L598.4,886.1 L598.8,885.9 L599.3,885.7 L599.8,885.4 L600.3,885.1 L600.7,884.9 L601.2,884.6 L601.7,884.2 L602.2,883.9 L602.6,883.6 L603.1,883.2 L603.6,882.9 L604.1,882.5 L604.5,882.2 L605.0,881.8 L605.5,881.4 L606.0,881.1 L606.4,880.8 L606.9,880.4 L607.4,880.1 L607.8,879.8 L608.3,879.4 L608.8,879.1 L609.3,878.7 L609.7,878.3 L610.2,877.9 L610.7,877.5 L611.2,877.1 L611.6,876.7 L612.1,876.3 L612.6,875.9 L613.1,875.4 L613.5,875.0 L614.0,874.6 L614.5,874.1 L614.9,873.7 L615.4,873.2 L615.9,872.7 L616.4,872.3 L616.8,871.8 L617.3,871.3 L617.8,870.9 L618.3,870.4 L618.7,869.9 L619.2,869.4 L619.7,868.9 L620.2,868.5 L620.6,868.0 L621.1,867.5 L621.6,867.0 L622.1,866.5 L622.5,866.1 L623.0,865.6 L623.5,865.1 L623.9,864.7 L624.4,864.2 L624.9,863.7 L625.4,863.3 L625.8,862.8 L626.3,862.4 L626.8,861.9 L627.3,861.4 L627.7,861.0 L628.2,860.5 L628.7,860.1 L629.2,859.6 L629.6,859.1 L630.1,858.7 L630.6,858.2 L631.0,857.7 L631.5,857.3 L632.0,856.8 L632.5,856.3 L632.9,855.8 L633.4,855.4 L633.9,854.9 L634.4,854.4 L634.8,853.9 L635.3,853.4 L635.8,853.0 L636.3,852.5 L636.7,852.0 L637.2,851.5 L637.7,851.0 L638.2,850.5 L638.6,850.0 L639.1,849.5 L639.6,849.0 L640.0,848.5 L640.5,848.0 L641.0,847.5 L641.5,847.0 L641.9,846.5 L642.4,846.0 L642.9,845.5 L643.4,845.0 L643.8,844.5 L644.3,844.0 L644.8,843.5 L645.3,843.0 L645.7,842.5 L646.2,841.9 L646.7,841.4 L647.2,840.9 L647.6,840.4 L648.1,839.9 L648.6,839.4 L649.0,838.9 L649.5,838.4 L650.0,837.9 L650.5,837.4 L650.9,836.9 L651.4,836.4 L651.9,835.9 L652.4,835.4 L652.8,834.9 L653.3,834.4 L653.8,833.9 L654.3,833.4 L654.7,832.9 L655.2,832.4 L655.7,831.9 L656.1,831.4 L656.6,830.9 L657.1,830.3 L657.6,829.8 L658.0,829.3 L658.5,828.8 L659.0,828.3 L659.5,827.8 L659.9,827.3 L660.4,826.8 L660.9,826.3 L661.4,825.8 L661.8,825.3 L662.3,824.8 L662.8,824.4 L663.3,823.9 L663.7,823.5 L664.2,823.0 L664.7,822.6 L665.1,822.2 L665.6,821.8 L666.1,821.4 L666.6,821.0 L667.0,820.6 L667.5,820.2 L668.0,819.8 L668.5,819.4 L668.9,819.1 L669.4,818.7 L669.9,818.3 L670.4,817.9 L670.8,817.6 L671.3,817.3 L671.8,817.0 L672.2,816.8 L672.7,816.6 L673.2,816.5 L673.7,816.4 L674.1,816.5 L674.6,816.4 L675.1,816.5 L675.6,816.5 L676.0,816.6 L676.5,816.6 L677.0,816.6 L677.5,816.6 L677.9,816.7 L678.4,816.8 L678.9,816.8 L679.4,816.7 L679.8,816.6 L680.3,816.7 L680.8,816.7 L681.2,816.8 L681.7,816.9 L682.2,817.1 L682.7,817.2 L683.1,817.2 L683.6,817.1 L684.1,817.0 L684.6,817.1 L685.0,817.3 L685.5,817.4 L686.0,817.5 L686.5,817.6 L686.9,817.8 L687.4,817.8 L687.9,817.9 L688.3,818.0 L688.8,818.2 L689.3,818.3 L689.8,818.5 L690.2,818.6 L690.7,818.7 L691.2,818.9 L691.7,819.0 L692.1,819.2 L692.6,819.3 L693.1,819.5 L693.6,819.6 L694.0,819.6 L694.5,819.8 L695.0,819.9 L695.5,820.0 L695.9,819.9 L696.4,819.9 L696.9,819.8 L697.3,819.8 L697.8,819.6 L698.3,819.5 L698.8,819.5 L699.2,819.4 L699.7,819.5 L700.2,819.5 L700.7,819.5 L701.1,819.7 L701.6,819.8 L702.1,819.9 L702.6,820.2 L703.0,820.3 L703.5,820.6 L704.0,820.7 L704.5,820.9 L704.9,820.9 L705.4,821.0 L705.9,821.0 L706.3,820.9 L706.8,821.0 L707.3,821.0 L707.8,820.8 L708.2,820.6 L708.7,820.5 L709.2,820.3 L709.7,820.2 L710.1,820.2 L710.6,820.3 L711.1,820.2 L711.6,820.2 L712.0,820.0 L712.5,819.9 L713.0,819.8 L713.4,819.8 L713.9,819.8 L714.4,819.8 L714.9,819.9 L715.3,819.9 L715.8,819.7 L716.3,819.5 L716.8,819.5 L717.2,819.7 L717.7,819.7 L718.2,819.7 L718.7,819.8 L719.1,819.8 L719.6,819.7 L720.1,819.6 L720.6,819.5 L721.0,819.4 L721.5,819.5 L722.0,819.7 L722.4,819.7 L722.9,819.5 L723.4,819.4 L723.9,819.5 L724.3,819.5 L724.8,819.6 L725.3,819.7 L725.8,819.8 L726.2,819.8 L726.7,820.0 L727.2,820.1 L727.7,820.3 L728.1,820.5 L728.6,820.8 L729.1,821.1 L729.5,821.2 L730.0,821.4 L730.5,821.6 L731.0,821.8 L731.4,822.0 L731.9,822.1 L732.4,822.3 L732.9,822.4 L733.3,822.3 L733.8,822.1 L734.3,822.1 L734.8,822.1 L735.2,822.1 L735.7,822.1 L736.2,821.8 L736.7,821.7 L737.1,821.7 L737.6,821.5 L738.1,821.4 L738.5,821.2 L739.0,821.1 L739.5,821.1 L740.0,820.9 L740.4,820.7 L740.9,820.5 L741.4,820.4 L741.9,820.3 L742.3,820.0 L742.8,819.7 L743.3,819.5 L743.8,819.3 L744.2,819.0 L744.7,818.9 L745.2,818.5 L745.7,818.2 L746.1,817.9 L746.6,817.6 L747.1,817.3 L747.5,817.2 L748.0,817.0 L748.5,816.7 L749.0,816.4 L749.4,816.0 L749.9,815.7 L750.4,815.4 L750.9,815.0 L751.3,814.9 L751.8,814.9 L752.3,814.7 L752.8,814.4 L753.2,814.2 L753.7,813.9 L754.2,813.9 L754.6,813.9 L755.1,813.9 L755.6,813.8 L756.1,813.7 L756.5,813.7 L757.0,813.7 L757.5,813.5 L758.0,813.3 L758.4,813.4 L758.9,813.4 L759.4,813.5 L759.9,813.5 L760.3,813.3 L760.8,813.4 L761.3,813.5 L761.8,813.5 L762.2,813.3 L762.7,813.3 L763.2,813.4 L763.6,813.6 L764.1,813.5 L764.6,813.8 L765.1,813.9 L765.5,813.7 L766.0,813.8 L766.5,813.6 L767.0,813.5 L767.4,813.6 L767.9,813.7 L768.4,813.8 L768.9,813.7 L769.3,813.6 L769.8,813.7 L770.3,813.5 L770.7,813.5 L771.2,813.7 L771.7,814.1 L772.2,814.3 L772.6,814.4 L773.1,814.6 L773.6,814.8 L774.1,814.9 L774.5,815.2 L775.0,815.4 L775.5,815.5 L776.0,815.7 L776.4,815.7 L776.9,815.9 L777.4,815.6 L777.9,815.7 L778.3,815.9 L778.8,815.8 L779.3,815.7 L779.7,815.7 L780.2,815.7 L780.7,815.7 L781.2,815.7 L781.6,815.6 L782.1,815.6 L782.6,815.6 L783.1,815.7 L783.5,815.7 L784.0,815.5 L784.5,815.6 L785.0,815.6 L785.4,815.5 L785.9,815.2 L786.4,815.2 L786.8,815.1 L787.3,815.1 L787.8,815.0 L788.3,814.9 L788.7,814.9 L789.2,815.1 L789.7,815.2 L790.2,815.0 L790.6,815.0 L791.1,815.0 L791.6,815.1 L792.1,815.0 L792.5,815.1 L793.0,815.2 L793.5,815.2 L794.0,815.1 L794.4,815.1 L794.9,814.9 L795.4,814.8 L795.8,814.8 L796.3,814.8 L796.8,814.9 L797.3,814.8 L797.7,814.9 L798.2,814.9 L798.7,814.8 L799.2,814.7 L799.6,814.6 L800.1,814.5 L800.6,814.4 L801.1,814.3 L801.5,814.2 L802.0,814.1 L802.5,814.0 L803.0,814.1 L803.4,814.1 L803.9,813.8 L804.4,813.9 L804.8,814.0 L805.3,814.1 L805.8,814.0 L806.3,814.0 L806.7,813.9 L807.2,813.9 L807.7,813.8 L808.2,813.8 L808.6,813.6 L809.1,813.5 L809.6,813.5 L810.1,813.3 L810.5,813.3 L811.0,813.1 L811.5,813.0 L811.9,812.8 L812.4,812.7 L812.9,812.5 L813.4,812.5 L813.8,812.3 L814.3,812.1 L814.8,812.0 L815.3,811.8 L815.7,811.7 L816.2,811.4 L816.7,811.2 L817.2,811.1 L817.6,810.8 L818.1,810.6 L818.6,810.4 L819.1,810.3 L819.5,809.9 L820.0,809.7 L820.5,809.3 L820.9,809.2 L821.4,809.0 L821.9,808.7 L822.4,808.4 L822.8,808.2 L823.3,808.0 L823.8,807.9 L824.3,807.7 L824.7,807.3 L825.2,807.2 L825.7,807.0 L826.2,806.8 L826.6,806.6 L827.1,806.3 L827.6,806.4 L828.0,806.4 L828.5,806.3 L829.0,806.3 L829.5,806.2 L829.9,806.2 L830.4,806.2 L830.9,806.2 L831.4,806.2 L831.8,806.1 L832.3,806.0 L832.8,806.2 L833.3,806.2 L833.7,806.2 L834.2,806.3 L834.7,806.3 L835.2,806.4 L835.6,806.4 L836.1,806.3 L836.6,806.5 L837.0,806.7 L837.5,806.8 L838.0,807.0 L838.5,806.8 L838.9,806.6 L839.4,806.5 L839.9,806.3 L840.4,806.3 L840.8,806.3 L841.3,806.2 L841.8,806.0 L842.3,805.8 L842.7,805.5 L843.2,805.5 L843.7,805.5 L844.1,805.4 L844.6,805.3 L845.1,805.5 L845.6,805.6 L846.0,805.5 L846.5,805.4 L847.0,805.5 L847.5,805.5 L847.9,805.6 L848.4,805.6 L848.9,805.6 L849.4,805.6 L849.8,805.8 L850.3,805.9 L850.8,805.8 L851.3,805.8 L851.7,805.9 L852.2,805.9 L852.7,805.9 L853.1,806.2 L853.6,806.3 L854.1,806.4 L854.6,806.6 L855.0,806.9 L855.5,806.8 L856.0,806.9 L856.5,807.0 L856.9,807.2 L857.4,807.3 L857.9,807.5 L858.4,807.6 L858.8,807.7 L859.3,808.0 L859.8,808.1 L860.3,808.2 L860.7,808.3 L861.2,808.5 L861.7,808.7 L862.1,808.9 L862.6,809.0 L863.1,809.1 L863.6,809.4 L864.0,809.7 L864.5,809.7 L865.0,809.7 L865.5,809.8 L865.9,809.9 L866.4,809.9 L866.9,809.8 L867.4,809.7 L867.8,809.6 L868.3,809.6 L868.8,809.5 L869.2,809.4 L869.7,809.3 L870.2,809.2 L870.7,809.0 L871.1,808.8 L871.6,808.8 L872.1,808.7 L872.6,808.5 L873.0,808.4 L873.5,808.3 L874.0,808.2 L874.5,807.9 L874.9,807.6 L875.4,807.5 L875.9,807.4 L876.4,807.4 L876.8,807.2 L877.3,806.9 L877.8,806.8 L878.2,806.8 L878.7,806.8 L879.2,806.7 L879.7,806.6 L880.1,806.6 L880.6,806.5 L881.1,806.4 L881.6,806.1 L882.0,805.9 L882.5,805.5 L883.0,805.5 L883.5,805.5 L883.9,805.4 L884.4,805.2 L884.9,805.1 L885.3,804.8 L885.8,804.8 L886.3,804.6 L886.8,804.6 L887.2,804.4 L887.7,804.3 L888.2,804.5 L888.7,804.2 L889.1,803.8 L889.6,803.7 L890.1,803.7 L890.6,803.6 L891.0,803.7 L891.5,803.5 L892.0,803.4 L892.5,803.2 L892.9,803.3 L893.4,803.4 L893.9,803.3 L894.3,803.3 L894.8,803.6 L895.3,803.5 L895.8,803.3 L896.2,803.1 L896.7,803.0 L897.2,803.2 L897.7,803.3 L898.1,803.2 L898.6,803.3 L899.1,803.2 L899.6,803.2 L900.0,803.0 L900.5,802.8 L901.0,802.7 L901.5,802.8 L901.9,802.7 L902.4,802.7 L902.9,802.4 L903.3,802.4 L903.8,802.3 L904.3,802.2 L904.8,802.1 L905.2,802.0 L905.7,802.2 L906.2,802.2 L906.7,802.2 L907.1,802.2 L907.6,802.2 L908.1,802.0 L908.6,802.0 L909.0,801.8 L909.5,801.8 L910.0,801.5 L910.4,801.4 L910.9,801.4 L911.4,801.2 L911.9,801.1 L912.3,801.1 L912.8,801.1 L913.3,801.0 L913.8,801.0 L914.2,800.9 L914.7,801.1 L915.2,801.2 L915.7,801.2 L916.1,801.3 L916.6,801.2 L917.1,801.2 L917.6,801.2 L918.0,801.1 L918.5,801.2 L919.0,801.1 L919.4,801.2 L919.9,801.1 L920.4,801.0 L920.9,801.0 L921.3,801.0 L921.8,801.1 L922.3,801.2 L922.8,801.5 L923.2,801.7 L923.7,801.9 L924.2,802.1 L924.7,802.5 L925.1,802.8 L925.6,803.1 L926.1,803.4 L926.5,803.3 L927.0,803.6 L927.5,803.7 L928.0,803.9 L928.4,803.9 L928.9,804.1 L929.4,804.2 L929.9,804.2 L930.3,804.1 L930.8,804.0 L931.3,803.9 L931.8,803.8 L932.2,803.8 L932.7,803.7 L933.2,803.6 L933.7,803.4 L934.1,803.3 L934.6,803.0 L935.1,802.8 L935.5,802.6 L936.0,802.5 L936.5,802.4 L937.0,802.2 L937.4,802.0 L937.9,801.8 L938.4,801.7 L938.9,801.6 L939.3,801.5 L939.8,801.4 L940.3,801.4 L940.8,801.5 L941.2,801.5 L941.7,801.4 L942.2,801.3 L942.6,801.4 L943.1,801.5 L943.6,801.7 L944.1,801.8 L944.5,801.9 L945.0,802.1 L945.5,802.3 L946.0,802.5 L946.4,802.6 L946.9,802.7 L947.4,802.9 L947.9,803.1 L948.3,803.3 L948.8,803.5 L949.3,803.7 L949.8,804.0 L950.2,804.2 L950.7,804.4 L951.2,804.8 L951.6,804.9 L952.1,805.2 L952.6,805.7 L953.1,805.9 L953.5,806.2 L954.0,806.6 L954.5,806.8 L955.0,806.9 L955.4,806.8 L955.9,807.0 L956.4,806.9 L956.9,806.8 L957.3,806.8 L957.8,806.6 L958.3,806.5 L958.8,806.4 L959.2,806.4 L959.7,806.2 L960.2,806.3 L960.6,806.3 L961.1,806.3 L961.6,806.4 L962.1,806.3 L962.5,806.2 L963.0,806.3 L963.5,806.4 L964.0,806.3 L964.4,806.3 L964.9,806.1 L965.4,806.1 L965.9,805.9 L966.3,805.8 L966.8,805.8 L967.3,805.7 L967.7,805.6 L968.2,805.5 L968.7,805.4 L969.2,805.4 L969.6,805.3 L970.1,805.3 L970.6,805.2 L971.1,805.2 L971.5,805.3 L972.0,805.3 L972.5,805.2 L973.0,804.9 L973.4,804.9 L973.9,804.7 L974.4,804.7 L974.9,804.5 L975.3,804.5 L975.8,804.3 L976.3,804.2 L976.7,804.0 L977.2,803.8 L977.7,803.6 L978.2,803.5 L978.6,803.5 L979.1,803.4 L979.6,803.3 L980.1,803.1 L980.5,803.0 L981.0,802.8 L981.5,802.8 L982.0,802.7 L982.4,802.6 L982.9,802.5 L983.4,802.5 L983.8,802.3 L984.3,802.2 L984.8,802.0 L985.3,801.9 L985.7,801.9 L986.2,801.7 L986.7,801.6 L987.2,801.5 L987.6,801.4 L988.1,801.4 L988.6,801.2 L989.1,801.1 L989.5,801.1 L990.0,801.2 L990.5,801.1 L991.0,801.0 L991.4,800.8 L991.9,800.9 L992.4,800.7 L992.8,800.5 L993.3,800.5 L993.8,800.3 L994.3,800.3 L994.7,800.2 L995.2,800.4 L995.7,800.3 L996.2,800.3 L996.6,800.3 L997.1,800.3 L997.6,800.2 L998.1,800.2 L998.5,800.2 L999.0,800.3 L999.5,800.3 L999.9,800.5 L1000.4,800.7 L1000.9,800.7 L1001.4,800.8 L1001.8,800.8 L1002.3,800.8 L1002.8,801.0 L1003.3,801.3 L1003.7,801.7 L1004.2,801.9 L1004.7,802.1 L1005.2,802.4 L1005.6,802.7 L1006.1,802.8 L1006.6,803.0 L1007.1,803.0 L1007.5,803.4 L1008.0,803.7" fill="none" stroke="#000" stroke-width="3" stroke-linejoin="round" />
<text x="578.3" y="803.3" font-family="Liberation Sans" font-size="12.5" text-anchor="end" >100</text>
<text x="578.3" y="846.0" font-family="Liberation Sans" font-size="12.5" text-anchor="end" >50</text>
<line x1="581.8" y1="841.5" x2="585.8" y2="841.5" stroke="#c4c4c4" stroke-width="1"/>
<line x1="1004" y1="841.5" x2="1008" y2="841.5" stroke="#c4c4c4" stroke-width="1"/>
<text x="578.3" y="888.7" font-family="Liberation Sans" font-size="12.5" text-anchor="end" >0</text>
<text x="581.8" y="903.9" font-family="Liberation Sans" font-size="12.5" text-anchor="middle" >0</text>
<text x="652.8" y="903.9" font-family="Liberation Sans" font-size="12.5" text-anchor="middle" >50</text>
<line x1="652.8" y1="794.4" x2="652.8" y2="798.4" stroke="#c4c4c4" stroke-width="1"/>
<line x1="652.8" y1="885.4" x2="652.8" y2="889.4" stroke="#c4c4c4" stroke-width="1"/>
<text x="723.9" y="903.9" font-family="Liberation Sans" font-size="12.5" text-anchor="middle" >100</text>
<line x1="723.9" y1="794.4" x2="723.9" y2="798.4" stroke="#c4c4c4" stroke-width="1"/>
<line x1="723.9" y1="885.4" x2="723.9" y2="889.4" stroke="#c4c4c4" stroke-width="1"/>
<text x="794.9" y="903.9" font-family="Liberation Sans" font-size="12.5" text-anchor="middle" >150</text>
<line x1="794.9" y1="794.4" x2="794.9" y2="798.4" stroke="#c4c4c4" stroke-width="1"/>
<line x1="794.9" y1="885.4" x2="794.9" y2="889.4" stroke="#c4c4c4" stroke-width="1"/>
<text x="865.9" y="903.9" font-family="Liberation Sans" font-size="12.5" text-anchor="middle" >200</text>
<line x1="865.9" y1="794.4" x2="865.9" y2="798.4" stroke="#c4c4c4" stroke-width="1"/>
<line x1="865.9" y1="885.4" x2="865.9" y2="889.4" stroke="#c4c4c4" stroke-width="1"/>
<text x="937.0" y="903.9" font-family="Liberation Sans" font-size="12.5" text-anchor="middle" >250</text>
<line x1="937.0" y1="794.4" x2="937.0" y2="798.4" stroke="#c4c4c4" stroke-width="1"/>
<line x1="937.0" y1="885.4" x2="937.0" y2="889.4" stroke="#c4c4c4" stroke-width="1"/>
<text x="1008.0" y="903.9" font-family="Liberation Sans" font-size="12.5" text-anchor="middle" >300</text>
<text transform="translate(548.2,842.2) rotate(-90)" font-family="Liberation Sans" font-size="13.5" text-anchor="middle" >DP in the CSTR III</text>
<text x="794.2" y="919.8" font-family="Liberation Sans" font-size="13" text-anchor="middle" >Time (min)</text>
<rect x="892" y="843" width="112" height="41.8" fill="#fff"/>
<line x1="892" y1="884.8" x2="1004" y2="884.8" stroke="#b9b9b9" stroke-width="1"/>
<line x1="897.5" y1="853.4" x2="924.9" y2="853.4" stroke="#00ff00" stroke-width="3"/>
<text x="928.5" y="855.3" font-family="Liberation Sans" font-size="10.5">DP<tspan dx="1.2" dy="4.7" font-size="9">3</tspan></text>
<line x1="897.5" y1="873" x2="924.9" y2="873" stroke="#000" stroke-width="3"/>
<text x="928.5" y="874.9" font-family="Liberation Sans" font-size="10.5">Estimated DP<tspan dx="1.2" dy="4.7" font-size="9">3</tspan></text>
<text x="787.9" y="958.5" font-family="Liberation Serif" font-size="26" text-anchor="middle" >(d)</text>
</svg></body></html>
